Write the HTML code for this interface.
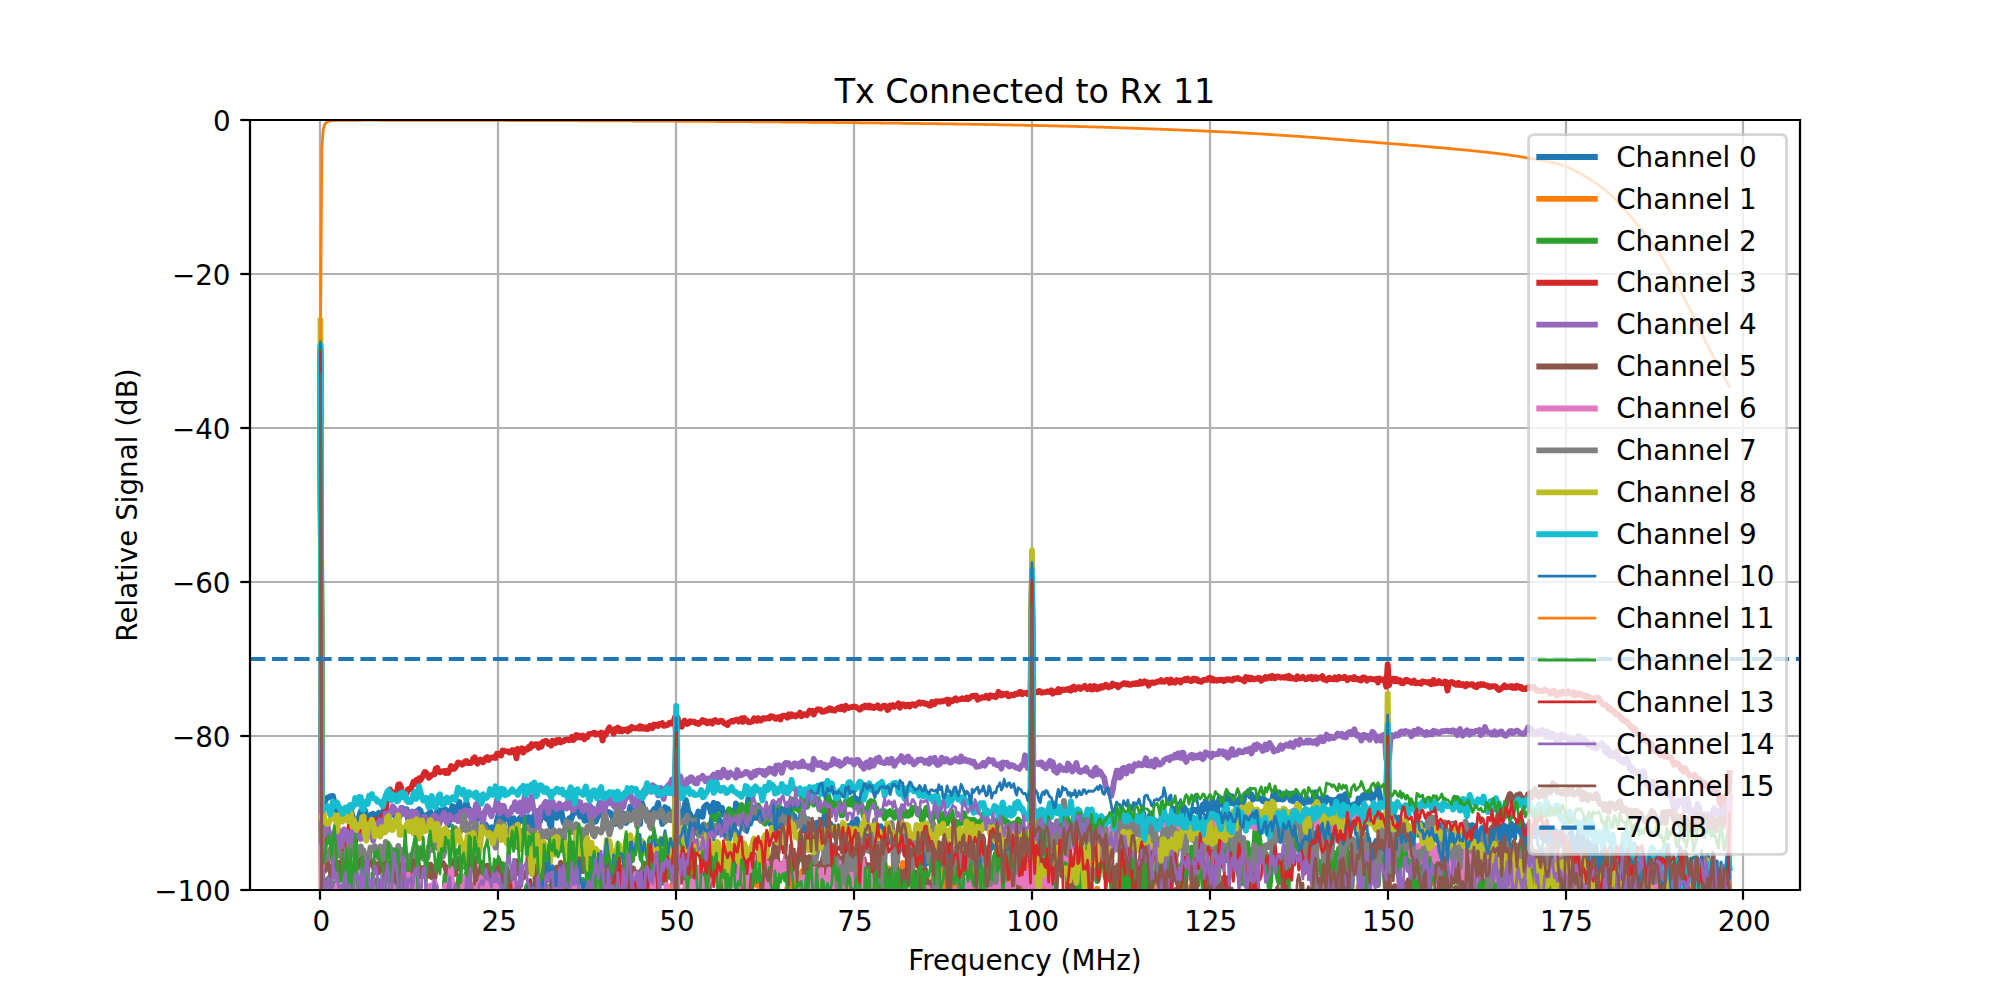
<!DOCTYPE html>
<html><head><meta charset="utf-8"><title>Tx Connected to Rx 11</title>
<style>html,body{margin:0;padding:0;background:#fff}svg{display:block}</style></head>
<body>
<svg width="2000" height="1000" viewBox="0 0 720 360">
 <defs>
  <style type="text/css">*{stroke-linejoin: round; stroke-linecap: butt}</style>
 </defs>
 <g id="figure_1">
  <g id="patch_1">
   <path d="M 0 360 L 720 360 L 720 0 L 0 0 z" style="fill: #ffffff"/>
  </g>
  <g id="axes_1">
   <g id="patch_2">
    <path d="M 90 320.4 L 648 320.4 L 648 43.2 L 90 43.2 z" style="fill: #ffffff"/>
   </g>
   <g id="matplotlib.axis_1">
    <g id="xtick_1">
     <g id="line2d_1">
      <path d="M 115.2 320.4 L 115.2 43.2" clip-path="url(#p0796a7d0fc)" style="fill: none; stroke: #b0b0b0; stroke-width: 0.8; stroke-linecap: square"/>
     </g>
     <g id="line2d_2">
      <defs>
       <path id="m7858f19ca6" d="M 0 0 L 0 3.5" style="stroke: #000000; stroke-width: 0.8"/>
      </defs>
      <g>
       <use href="#m7858f19ca6" x="115.2" y="320.4" style="stroke: #000000; stroke-width: 0.8"/>
      </g>
     </g>
     <g id="text_1">
      <text style="font-size: 10px; font-family: 'DejaVu Sans', sans-serif; text-anchor: middle" x="115.664" y="334.998438" transform="rotate(-0 115.664 334.998438)">0</text>
     </g>
    </g>
    <g id="xtick_2">
     <g id="line2d_3">
      <path d="M 179.28 320.4 L 179.28 43.2" clip-path="url(#p0796a7d0fc)" style="fill: none; stroke: #b0b0b0; stroke-width: 0.8; stroke-linecap: square"/>
     </g>
     <g id="line2d_4">
      <g>
       <use href="#m7858f19ca6" x="179.28" y="320.4" style="stroke: #000000; stroke-width: 0.8"/>
      </g>
     </g>
     <g id="text_2">
      <text style="font-size: 10px; font-family: 'DejaVu Sans', sans-serif; text-anchor: middle" x="179.698" y="334.998438" transform="rotate(-0 179.698 334.998438)">25</text>
     </g>
    </g>
    <g id="xtick_3">
     <g id="line2d_5">
      <path d="M 243.36 320.4 L 243.36 43.2" clip-path="url(#p0796a7d0fc)" style="fill: none; stroke: #b0b0b0; stroke-width: 0.8; stroke-linecap: square"/>
     </g>
     <g id="line2d_6">
      <g>
       <use href="#m7858f19ca6" x="243.36" y="320.4" style="stroke: #000000; stroke-width: 0.8"/>
      </g>
     </g>
     <g id="text_3">
      <text style="font-size: 10px; font-family: 'DejaVu Sans', sans-serif; text-anchor: middle" x="243.732" y="334.998438" transform="rotate(-0 243.732 334.998438)">50</text>
     </g>
    </g>
    <g id="xtick_4">
     <g id="line2d_7">
      <path d="M 307.44 320.4 L 307.44 43.2" clip-path="url(#p0796a7d0fc)" style="fill: none; stroke: #b0b0b0; stroke-width: 0.8; stroke-linecap: square"/>
     </g>
     <g id="line2d_8">
      <g>
       <use href="#m7858f19ca6" x="307.44" y="320.4" style="stroke: #000000; stroke-width: 0.8"/>
      </g>
     </g>
     <g id="text_4">
      <text style="font-size: 10px; font-family: 'DejaVu Sans', sans-serif; text-anchor: middle" x="307.767" y="334.998438" transform="rotate(-0 307.767 334.998438)">75</text>
     </g>
    </g>
    <g id="xtick_5">
     <g id="line2d_9">
      <path d="M 371.52 320.4 L 371.52 43.2" clip-path="url(#p0796a7d0fc)" style="fill: none; stroke: #b0b0b0; stroke-width: 0.8; stroke-linecap: square"/>
     </g>
     <g id="line2d_10">
      <g>
       <use href="#m7858f19ca6" x="371.52" y="320.4" style="stroke: #000000; stroke-width: 0.8"/>
      </g>
     </g>
     <g id="text_5">
      <text style="font-size: 10px; font-family: 'DejaVu Sans', sans-serif; text-anchor: middle" x="371.801" y="334.998438" transform="rotate(-0 371.801 334.998438)">100</text>
     </g>
    </g>
    <g id="xtick_6">
     <g id="line2d_11">
      <path d="M 435.6 320.4 L 435.6 43.2" clip-path="url(#p0796a7d0fc)" style="fill: none; stroke: #b0b0b0; stroke-width: 0.8; stroke-linecap: square"/>
     </g>
     <g id="line2d_12">
      <g>
       <use href="#m7858f19ca6" x="435.6" y="320.4" style="stroke: #000000; stroke-width: 0.8"/>
      </g>
     </g>
     <g id="text_6">
      <text style="font-size: 10px; font-family: 'DejaVu Sans', sans-serif; text-anchor: middle" x="435.836" y="334.998438" transform="rotate(-0 435.836 334.998438)">125</text>
     </g>
    </g>
    <g id="xtick_7">
     <g id="line2d_13">
      <path d="M 499.68 320.4 L 499.68 43.2" clip-path="url(#p0796a7d0fc)" style="fill: none; stroke: #b0b0b0; stroke-width: 0.8; stroke-linecap: square"/>
     </g>
     <g id="line2d_14">
      <g>
       <use href="#m7858f19ca6" x="499.68" y="320.4" style="stroke: #000000; stroke-width: 0.8"/>
      </g>
     </g>
     <g id="text_7">
      <text style="font-size: 10px; font-family: 'DejaVu Sans', sans-serif; text-anchor: middle" x="499.870" y="334.998438" transform="rotate(-0 499.870 334.998438)">150</text>
     </g>
    </g>
    <g id="xtick_8">
     <g id="line2d_15">
      <path d="M 563.76 320.4 L 563.76 43.2" clip-path="url(#p0796a7d0fc)" style="fill: none; stroke: #b0b0b0; stroke-width: 0.8; stroke-linecap: square"/>
     </g>
     <g id="line2d_16">
      <g>
       <use href="#m7858f19ca6" x="563.76" y="320.4" style="stroke: #000000; stroke-width: 0.8"/>
      </g>
     </g>
     <g id="text_8">
      <text style="font-size: 10px; font-family: 'DejaVu Sans', sans-serif; text-anchor: middle" x="563.905" y="334.998438" transform="rotate(-0 563.905 334.998438)">175</text>
     </g>
    </g>
    <g id="xtick_9">
     <g id="line2d_17">
      <path d="M 627.48 320.4 L 627.48 43.2" clip-path="url(#p0796a7d0fc)" style="fill: none; stroke: #b0b0b0; stroke-width: 0.8; stroke-linecap: square"/>
     </g>
     <g id="line2d_18">
      <g>
       <use href="#m7858f19ca6" x="627.48" y="320.4" style="stroke: #000000; stroke-width: 0.8"/>
      </g>
     </g>
     <g id="text_9">
      <text style="font-size: 10px; font-family: 'DejaVu Sans', sans-serif; text-anchor: middle" x="627.939" y="334.998438" transform="rotate(-0 627.939 334.998438)">200</text>
     </g>
    </g>
    <g id="text_10">
     <text style="font-size: 10px; font-family: 'DejaVu Sans', sans-serif; text-anchor: middle" x="369" y="349.216563" transform="rotate(-0 369 349.216563)">Frequency (MHz)</text>
    </g>
   </g>
   <g id="matplotlib.axis_2">
    <g id="ytick_1">
     <g id="line2d_19">
      <path d="M 90 320.4 L 648 320.4" clip-path="url(#p0796a7d0fc)" style="fill: none; stroke: #b0b0b0; stroke-width: 0.8; stroke-linecap: square"/>
     </g>
     <g id="line2d_20">
      <defs>
       <path id="m551b6180bc" d="M 0 0 L -3.5 0" style="stroke: #000000; stroke-width: 0.8"/>
      </defs>
      <g>
       <use href="#m551b6180bc" x="90" y="320.4" style="stroke: #000000; stroke-width: 0.8"/>
      </g>
     </g>
     <g id="text_11">
      <text style="font-size: 10px; font-family: 'DejaVu Sans', sans-serif; text-anchor: end" x="83" y="324.199219" transform="rotate(-0 83 324.199219)">−100</text>
     </g>
    </g>
    <g id="ytick_2">
     <g id="line2d_21">
      <path d="M 90 264.96 L 648 264.96" clip-path="url(#p0796a7d0fc)" style="fill: none; stroke: #b0b0b0; stroke-width: 0.8; stroke-linecap: square"/>
     </g>
     <g id="line2d_22">
      <g>
       <use href="#m551b6180bc" x="90" y="264.96" style="stroke: #000000; stroke-width: 0.8"/>
      </g>
     </g>
     <g id="text_12">
      <text style="font-size: 10px; font-family: 'DejaVu Sans', sans-serif; text-anchor: end" x="83" y="268.759219" transform="rotate(-0 83 268.759219)">−80</text>
     </g>
    </g>
    <g id="ytick_3">
     <g id="line2d_23">
      <path d="M 90 209.52 L 648 209.52" clip-path="url(#p0796a7d0fc)" style="fill: none; stroke: #b0b0b0; stroke-width: 0.8; stroke-linecap: square"/>
     </g>
     <g id="line2d_24">
      <g>
       <use href="#m551b6180bc" x="90" y="209.52" style="stroke: #000000; stroke-width: 0.8"/>
      </g>
     </g>
     <g id="text_13">
      <text style="font-size: 10px; font-family: 'DejaVu Sans', sans-serif; text-anchor: end" x="83" y="213.319219" transform="rotate(-0 83 213.319219)">−60</text>
     </g>
    </g>
    <g id="ytick_4">
     <g id="line2d_25">
      <path d="M 90 154.08 L 648 154.08" clip-path="url(#p0796a7d0fc)" style="fill: none; stroke: #b0b0b0; stroke-width: 0.8; stroke-linecap: square"/>
     </g>
     <g id="line2d_26">
      <g>
       <use href="#m551b6180bc" x="90" y="154.08" style="stroke: #000000; stroke-width: 0.8"/>
      </g>
     </g>
     <g id="text_14">
      <text style="font-size: 10px; font-family: 'DejaVu Sans', sans-serif; text-anchor: end" x="83" y="157.879219" transform="rotate(-0 83 157.879219)">−40</text>
     </g>
    </g>
    <g id="ytick_5">
     <g id="line2d_27">
      <path d="M 90 98.64 L 648 98.64" clip-path="url(#p0796a7d0fc)" style="fill: none; stroke: #b0b0b0; stroke-width: 0.8; stroke-linecap: square"/>
     </g>
     <g id="line2d_28">
      <g>
       <use href="#m551b6180bc" x="90" y="98.64" style="stroke: #000000; stroke-width: 0.8"/>
      </g>
     </g>
     <g id="text_15">
      <text style="font-size: 10px; font-family: 'DejaVu Sans', sans-serif; text-anchor: end" x="83" y="102.439219" transform="rotate(-0 83 102.439219)">−20</text>
     </g>
    </g>
    <g id="ytick_6">
     <g id="line2d_29">
      <path d="M 90 43.2 L 648 43.2" clip-path="url(#p0796a7d0fc)" style="fill: none; stroke: #b0b0b0; stroke-width: 0.8; stroke-linecap: square"/>
     </g>
     <g id="line2d_30">
      <g>
       <use href="#m551b6180bc" x="90" y="43.2" style="stroke: #000000; stroke-width: 0.8"/>
      </g>
     </g>
     <g id="text_16">
      <text style="font-size: 10px; font-family: 'DejaVu Sans', sans-serif; text-anchor: end" x="83" y="46.999219" transform="rotate(-0 83 46.999219)">0</text>
     </g>
    </g>
    <g id="text_17">
     <text style="font-size: 10px; font-family: 'DejaVu Sans', sans-serif; text-anchor: middle" x="49.453125" y="181.8" transform="rotate(-90 49.453125 181.8)">Relative Signal (dB)</text>
    </g>
   </g>
   <g id="line2d_31">
    <path d="M 115.36 126.36 L 115.86 288.64 L 116.36 289.66 L 116.86 288.68 L 117.36 287.61 L 117.86 287.17 L 118.37 287.05 L 118.87 286.66 L 119.37 287.06 L 119.87 286.56 L 120.37 289.06 L 120.87 292.59 L 121.37 291.91 L 121.87 292.08 L 122.37 292.73 L 122.87 291.79 L 123.37 293.79 L 123.87 294.28 L 124.37 291.4 L 124.87 291.78 L 125.37 292 L 125.87 292.11 L 126.37 291.78 L 126.87 293.7 L 127.37 298.72 L 127.87 296.33 L 128.37 295.06 L 128.87 295.2 L 129.37 293.8 L 129.87 292.03 L 130.37 294.58 L 130.87 295.41 L 131.37 291.62 L 131.87 294.96 L 132.37 296.12 L 132.87 294.31 L 133.37 293.32 L 133.87 294.26 L 134.37 292.92 L 134.87 294.56 L 135.37 295.22 L 135.87 293.36 L 136.37 292.59 L 136.88 294.33 L 137.38 294.05 L 137.88 293.24 L 138.38 290 L 138.88 293.36 L 139.38 292.61 L 139.88 294.2 L 140.38 293.79 L 140.88 291.81 L 141.38 292.38 L 141.88 291.09 L 142.38 293.69 L 142.88 295.52 L 143.38 294.95 L 143.88 293.33 L 144.38 292.62 L 144.88 290.87 L 145.38 292.94 L 145.88 291.94 L 146.38 291.34 L 146.88 294.71 L 147.38 297.7 L 147.88 297.83 L 148.38 296.06 L 148.88 292.99 L 149.38 294.67 L 149.88 292.12 L 150.38 291.86 L 150.88 291.37 L 151.38 291.82 L 151.88 293.91 L 152.38 294.1 L 152.88 293.61 L 153.38 293.42 L 153.88 294.45 L 154.38 293.37 L 154.88 292.09 L 155.39 295.8 L 155.89 293.89 L 156.39 294.98 L 156.89 293.02 L 157.39 292.17 L 157.89 291.86 L 158.39 291.72 L 158.89 294.8 L 159.39 291.78 L 159.89 293.22 L 160.39 291.38 L 160.89 292.85 L 161.39 297.09 L 161.89 294.36 L 162.39 291.55 L 162.89 290.21 L 163.39 290.58 L 163.89 292.77 L 164.39 294.07 L 164.89 290.15 L 165.39 288.77 L 165.89 292.58 L 166.39 293.99 L 166.89 295.84 L 167.39 291.22 L 167.89 288.84 L 168.39 290.8 L 168.89 291.26 L 169.39 292.59 L 169.89 295.81 L 170.39 293.16 L 170.89 296.66 L 171.39 295 L 171.89 294.25 L 172.39 293.35 L 172.89 294.25 L 173.39 294.2 L 173.9 297.97 L 174.4 298.68 L 174.9 296.83 L 175.4 298.07 L 175.9 299.26 L 176.4 298.22 L 176.9 297.87 L 177.4 299.67 L 177.9 299.65 L 178.4 298.57 L 178.9 295.49 L 179.4 293.47 L 179.9 291.57 L 180.4 297.12 L 180.9 296.29 L 181.4 293.84 L 181.9 294.98 L 182.4 293.92 L 182.9 292.4 L 183.4 295.19 L 183.9 297.81 L 184.4 298.5 L 184.9 294.55 L 185.4 295.79 L 185.9 297.79 L 186.4 297.05 L 186.9 294.84 L 187.4 294.22 L 187.9 295.46 L 188.4 293.41 L 188.9 295.12 L 189.4 298.88 L 189.9 296 L 190.4 294.16 L 190.9 296.86 L 191.4 300.25 L 191.9 295.46 L 192.41 293.24 L 192.91 292.4 L 193.41 297.09 L 193.91 291.86 L 194.41 295.74 L 194.91 293.16 L 195.41 291.5 L 195.91 292.73 L 196.41 294.41 L 196.91 294.84 L 197.41 293.41 L 197.91 296.75 L 198.41 297.75 L 198.91 290.3 L 199.41 290.92 L 199.91 291.46 L 200.41 294.46 L 200.91 291.65 L 201.41 290.27 L 201.91 291.14 L 202.41 293.8 L 202.91 296.17 L 203.41 295.46 L 203.91 298.71 L 204.41 298.29 L 204.91 294.53 L 205.41 295.51 L 205.91 294.08 L 206.41 292.85 L 206.91 289.49 L 207.41 290.1 L 207.91 292.63 L 208.41 292.2 L 208.91 293.97 L 209.41 293.73 L 209.91 292.45 L 210.41 295.46 L 210.92 295.39 L 211.42 295.36 L 211.92 292.46 L 212.42 290.22 L 212.92 293.6 L 213.42 292.44 L 213.92 294.86 L 214.42 295.83 L 214.92 294.69 L 215.42 290.71 L 215.92 289.02 L 216.42 292.29 L 216.92 293.73 L 217.42 293.02 L 217.92 293.04 L 218.42 292.21 L 218.92 292.27 L 219.42 292.51 L 219.92 292.81 L 220.42 294.06 L 220.92 295.09 L 221.42 296.59 L 221.92 295.29 L 222.42 296.55 L 222.92 294.95 L 223.42 295.2 L 223.92 293.31 L 224.42 292.88 L 224.92 295.57 L 225.42 296.22 L 225.92 295.29 L 226.42 292.75 L 226.92 290.42 L 227.42 291.77 L 227.92 293.95 L 228.42 291.75 L 228.92 294.3 L 229.42 291.85 L 229.93 294.48 L 230.43 296.67 L 230.93 288.67 L 231.43 290.09 L 231.93 293.73 L 232.43 292.23 L 232.93 292.94 L 233.43 292.73 L 233.93 295.32 L 234.43 294.63 L 234.93 292.12 L 235.43 291.39 L 235.93 291 L 236.43 291.04 L 236.93 289.04 L 237.43 292.41 L 237.93 293.77 L 238.43 296.65 L 238.93 295.12 L 239.43 290.55 L 239.93 292.28 L 240.43 291.14 L 240.93 292.52 L 241.43 294.57 L 241.93 293.23 L 242.43 293.79 L 242.93 293.98 L 243.43 264.96 L 243.93 291.39 L 244.43 293.49 L 244.93 294.4 L 245.43 293.58 L 245.93 292.9 L 246.43 290.27 L 246.93 288.05 L 247.43 290.26 L 247.93 292.53 L 248.44 293.02 L 248.94 294.45 L 249.44 294.86 L 249.94 295.41 L 250.44 294.25 L 250.94 293.5 L 251.44 292.15 L 251.94 293.41 L 252.44 293.92 L 252.94 294.03 L 253.44 290.62 L 253.94 290.11 L 254.44 289.7 L 254.94 290.27 L 255.44 290.6 L 255.94 292.61 L 256.44 290.39 L 256.94 288.97 L 257.44 292.81 L 257.94 290.27 L 258.44 289.51 L 258.94 291.23 L 259.44 291.23 L 259.94 290.86 L 260.44 293.33 L 260.94 292.59 L 261.44 294.29 L 261.94 294.93 L 262.44 294.35 L 262.94 293.56 L 263.44 291.86 L 263.94 293.5 L 264.44 294.45 L 264.94 289.28 L 265.44 290.07 L 265.94 291.84 L 266.44 293.35 L 266.95 292.57 L 267.45 291.62 L 267.95 292.17 L 268.45 294.37 L 268.95 290.87 L 269.45 287.37 L 269.95 294.05 L 270.45 292 L 270.95 291.48 L 271.45 292.04 L 271.95 290.83 L 272.45 293.8 L 272.95 292.49 L 273.45 291.31 L 273.95 292.7 L 274.45 294.22 L 274.95 293.61 L 275.45 294.23 L 275.95 292.04 L 276.45 294.54 L 276.95 293.89 L 277.45 296.75 L 277.95 294.26 L 278.45 296.21 L 278.95 300.84 L 279.45 297.24 L 279.95 298.4 L 280.45 296.18 L 280.95 294.98 L 281.45 298.09 L 281.95 298.77 L 282.45 294 L 282.95 294.02 L 283.45 293.58 L 283.95 295.18 L 284.45 298.27 L 284.95 295.76 L 285.46 293.37 L 285.96 293.77 L 286.46 296.32 L 286.96 296.76 L 287.46 296.4 L 287.96 296.6 L 288.46 293.16 L 288.96 295.85 L 289.46 299.04 L 289.96 297.08 L 290.46 295.28 L 290.96 294.93 L 291.46 296.95 L 291.96 297.8 L 292.46 297.96 L 292.96 300.72 L 293.46 299.8 L 293.96 296.15 L 294.46 297.29 L 294.96 296.05 L 295.46 295.39 L 295.96 295.16 L 296.46 296.03 L 296.96 293.09 L 297.46 295.65 L 297.96 298.44 L 298.46 296.27 L 298.96 296.61 L 299.46 298.53 L 299.96 298.09 L 300.46 299.26 L 300.96 301.58 L 301.46 298.45 L 301.96 297.51 L 302.46 299.35 L 302.96 301.66 L 303.46 298.76 L 303.97 297.18 L 304.47 297.75 L 304.97 298.65 L 305.47 297.35 L 305.97 299.04 L 306.47 297.42 L 306.97 295.89 L 307.47 298.11 L 307.97 298.07 L 308.47 294.94 L 308.97 297.28 L 309.47 297.71 L 309.97 296.84 L 310.47 296.64 L 310.97 302.64 L 311.47 301.5 L 311.97 300.98 L 312.47 302.3 L 312.97 301.5 L 313.47 301.02 L 313.97 298.65 L 314.47 300.9 L 314.97 299.64 L 315.47 298.99 L 315.97 301.58 L 316.47 299.23 L 316.97 297.41 L 317.47 298.62 L 317.97 301.46 L 318.47 302.05 L 318.97 303.38 L 319.47 300.13 L 319.97 299.82 L 320.47 303.05 L 320.97 302.81 L 321.47 300.35 L 321.97 302.99 L 322.47 302.51 L 322.98 304.35 L 323.48 306.52 L 323.98 303.93 L 324.48 299.82 L 324.98 303.82 L 325.48 306.04 L 325.98 306.07 L 326.48 304.52 L 326.98 303.19 L 327.48 303.16 L 327.98 300.71 L 328.48 303.13 L 328.98 302.2 L 329.48 304.6 L 329.98 306.42 L 330.48 311.26 L 330.98 309.43 L 331.48 308.92 L 331.98 310.97 L 332.48 315.76 L 332.98 307.21 L 333.48 309.35 L 333.98 310.66 L 334.48 310.45 L 334.98 309.46 L 335.48 308.67 L 335.98 313.26 L 336.48 313.15 L 336.98 308.52 L 337.48 309.12 L 337.98 310.66 L 338.48 311.4 L 338.98 312.37 L 339.48 308.7 L 339.98 306.13 L 340.48 310.59 L 340.98 304.23 L 341.49 304.56 L 341.99 308.94 L 342.49 306.87 L 342.99 314.34 L 343.49 317.19 L 343.99 313.68 L 344.49 310.33 L 344.99 308.91 L 345.49 310.15 L 345.99 309.65 L 346.49 314.51 L 346.99 310.14 L 347.49 314.08 L 347.99 312.05 L 348.49 311.31 L 348.99 313.41 L 349.49 313.95 L 349.99 312.44 L 350.49 308.49 L 350.99 306.32 L 351.49 305.68 L 351.99 311.11 L 352.49 312.21 L 352.99 311.25 L 353.49 309.08 L 353.99 312.95 L 354.49 305.29 L 354.99 308.71 L 355.49 310.96 L 355.99 306.62 L 356.49 304.58 L 356.99 305.16 L 357.49 304.47 L 357.99 304.69 L 358.49 302.36 L 358.99 302.8 L 359.49 305.6 L 360 302.41 L 360.5 304.92 L 361 307.8 L 361.5 309.92 L 362 307.3 L 362.5 304.6 L 363 309.94 L 363.5 306.1 L 364 305.79 L 364.5 307.21 L 365 313.33 L 365.5 308.06 L 366 305.78 L 366.5 308.11 L 367 309.24 L 367.5 314.68 L 368 306.67 L 368.5 307.39 L 369 305.49 L 369.5 309.87 L 370 305.24 L 370.5 304.94 L 371 304.01 L 371.5 209.52 L 372 306.54 L 372.5 299.67 L 373 305.8 L 373.5 307.02 L 374 306.42 L 374.5 306.97 L 375 300.04 L 375.5 299.26 L 376 304.49 L 376.5 307.06 L 377 300.17 L 377.5 298.94 L 378 299.74 L 378.51 299.14 L 379.01 304.02 L 379.51 303.77 L 380.01 305.49 L 380.51 304.9 L 381.01 300.89 L 381.51 302.12 L 382.01 297.16 L 382.51 299.98 L 383.01 302.51 L 383.51 299.35 L 384.01 297.03 L 384.51 299.89 L 385.01 303.21 L 385.51 299.85 L 386.01 297.76 L 386.51 302.04 L 387.01 302.26 L 387.51 298.75 L 388.01 300.73 L 388.51 303.68 L 389.01 301.82 L 389.51 301.86 L 390.01 299.53 L 390.51 298.53 L 391.01 296.93 L 391.51 298.65 L 392.01 301.8 L 392.51 297.94 L 393.01 295.71 L 393.51 295.78 L 394.01 295.88 L 394.51 299.11 L 395.01 299.99 L 395.51 297 L 396.01 299.85 L 396.51 302.82 L 397.02 297.23 L 397.52 299.16 L 398.02 299.95 L 398.52 301.49 L 399.02 302.03 L 399.52 301.11 L 400.02 298.11 L 400.52 297.77 L 401.02 301.23 L 401.52 296.73 L 402.02 299.33 L 402.52 299.66 L 403.02 295.82 L 403.52 297.62 L 404.02 299.83 L 404.52 295.29 L 405.02 298.88 L 405.52 298.07 L 406.02 296.73 L 406.52 295.37 L 407.02 297.62 L 407.52 296.2 L 408.02 297.82 L 408.52 295.62 L 409.02 297.88 L 409.52 296.54 L 410.02 293.72 L 410.52 295.22 L 411.02 295.07 L 411.52 292.51 L 412.02 295.47 L 412.52 296.75 L 413.02 295.73 L 413.52 297.53 L 414.02 293.41 L 414.52 292.82 L 415.02 296.59 L 415.53 296.53 L 416.03 295.56 L 416.53 295.84 L 417.03 297.02 L 417.53 295.78 L 418.03 298.11 L 418.53 296.84 L 419.03 295.2 L 419.53 295.71 L 420.03 295.17 L 420.53 296.61 L 421.03 294.12 L 421.53 295.13 L 422.03 296.9 L 422.53 297.05 L 423.03 296.53 L 423.53 293.42 L 424.03 295.58 L 424.53 293.73 L 425.03 292.28 L 425.53 291.57 L 426.03 291.9 L 426.53 294.15 L 427.03 295.61 L 427.53 292.29 L 428.03 292.53 L 428.53 291.87 L 429.03 292.2 L 429.53 291.6 L 430.03 291.62 L 430.53 291.55 L 431.03 292.27 L 431.53 291.66 L 432.03 291.28 L 432.53 291.36 L 433.03 289.69 L 433.53 291.37 L 434.03 288.35 L 434.54 289.91 L 435.04 290.01 L 435.54 291.22 L 436.04 290.91 L 436.54 288.09 L 437.04 290.32 L 437.54 293.35 L 438.04 291.8 L 438.54 290.14 L 439.04 287.14 L 439.54 288.65 L 440.04 287.57 L 440.54 290 L 441.04 288.57 L 441.54 287.56 L 442.04 285.97 L 442.54 289.15 L 443.04 287.35 L 443.54 286.66 L 444.04 289.29 L 444.54 288.48 L 445.04 289.08 L 445.54 291.32 L 446.04 287.76 L 446.54 287.04 L 447.04 288.87 L 447.54 289.18 L 448.04 286.21 L 448.54 286.09 L 449.04 285.56 L 449.54 284.81 L 450.04 286.62 L 450.54 286.04 L 451.04 287.9 L 451.54 287.14 L 452.04 287.29 L 452.54 287.47 L 453.05 286.99 L 453.55 287.53 L 454.05 287.54 L 454.55 288.36 L 455.05 287.62 L 455.55 288.7 L 456.05 288.59 L 456.55 288.46 L 457.05 288.98 L 457.55 289 L 458.05 288.04 L 458.55 285.09 L 459.05 285.85 L 459.55 287.7 L 460.05 287.76 L 460.55 285.3 L 461.05 287.66 L 461.55 287.85 L 462.05 287.75 L 462.55 287.08 L 463.05 285.8 L 463.55 286.71 L 464.05 285.71 L 464.55 288.09 L 465.05 286.63 L 465.55 288.42 L 466.05 285.59 L 466.55 287.11 L 467.05 287.39 L 467.55 286.4 L 468.05 286.73 L 468.55 288.8 L 469.05 288.71 L 469.55 289.14 L 470.05 287.86 L 470.55 287.46 L 471.05 288.65 L 471.56 288.37 L 472.06 288.62 L 472.56 288.32 L 473.06 286.15 L 473.56 285.25 L 474.06 289.66 L 474.56 287.85 L 475.06 288.2 L 475.56 287.52 L 476.06 288.63 L 476.56 289.1 L 477.06 288.93 L 477.56 287.14 L 478.06 287.69 L 478.56 287.9 L 479.06 287.88 L 479.56 289.14 L 480.06 291.14 L 480.56 288 L 481.06 287.9 L 481.56 288.34 L 482.06 286.89 L 482.56 286.66 L 483.06 290 L 483.56 289.56 L 484.06 286.17 L 484.56 285.9 L 485.06 288.89 L 485.56 290.38 L 486.06 290.03 L 486.56 289.95 L 487.06 290.95 L 487.56 289.54 L 488.06 290.96 L 488.56 290.02 L 489.06 287.48 L 489.56 288.76 L 490.07 287.8 L 490.57 286.48 L 491.07 286.15 L 491.57 287.26 L 492.07 287.16 L 492.57 287.1 L 493.07 284.88 L 493.57 286.28 L 494.07 287.88 L 494.57 286.69 L 495.07 285.97 L 495.57 285.77 L 496.07 283.69 L 496.57 285.5 L 497.07 288.33 L 497.57 288.76 L 498.07 290.4 L 498.57 288.42 L 499.07 287.58 L 499.57 262.19 L 500.07 289.89 L 500.57 294.44 L 501.07 293.74 L 501.57 292.59 L 502.07 295.22 L 502.57 296.01 L 503.07 295.16 L 503.57 294.29 L 504.07 296.08 L 504.57 297.58 L 505.07 297.17 L 505.57 298.38 L 506.07 299.29 L 506.57 301.8 L 507.07 300.91 L 507.57 298.85 L 508.07 302.45 L 508.58 300.15 L 509.08 298.12 L 509.58 299.87 L 510.08 299.24 L 510.58 300.51 L 511.08 297.6 L 511.58 296.48 L 512.08 299.68 L 512.58 305.03 L 513.08 302.38 L 513.58 297.33 L 514.08 295.43 L 514.58 298.32 L 515.08 296.88 L 515.58 299.77 L 516.08 300.15 L 516.58 299.56 L 517.08 299.32 L 517.58 302.65 L 518.08 297.64 L 518.58 297.11 L 519.08 302.35 L 519.58 302.43 L 520.08 299.98 L 520.58 302.28 L 521.08 304.91 L 521.58 299.23 L 522.08 299.58 L 522.58 300.05 L 523.08 296.56 L 523.58 299.07 L 524.08 302.3 L 524.58 300.63 L 525.08 302.78 L 525.58 302.88 L 526.08 300.57 L 526.58 301.73 L 527.08 300.99 L 527.59 297.46 L 528.09 297.69 L 528.59 297.16 L 529.09 298.66 L 529.59 298.28 L 530.09 297.06 L 530.59 298.74 L 531.09 297.42 L 531.59 302.11 L 532.09 302.26 L 532.59 304.98 L 533.09 301.72 L 533.59 299.11 L 534.09 297.86 L 534.59 301.35 L 535.09 301.98 L 535.59 301.57 L 536.09 303.65 L 536.59 303.37 L 537.09 301.98 L 537.59 303.98 L 538.09 300.21 L 538.59 300.33 L 539.09 301.7 L 539.59 303.69 L 540.09 301.95 L 540.59 297.39 L 541.09 301.23 L 541.59 297.21 L 542.09 298 L 542.59 300.66 L 543.09 302.86 L 543.59 297.53 L 544.09 296.61 L 544.59 300.7 L 545.09 300.35 L 545.59 297.26 L 546.1 297.7 L 546.6 295.78 L 547.1 299.01 L 547.6 299.8 L 548.1 301.33 L 548.6 297.29 L 549.1 302.08 L 549.6 306.5 L 550.1 303.02 L 550.6 299.94 L 551.1 297.93 L 551.6 301.07 L 552.1 300.99 L 552.6 299.35 L 553.1 297.49 L 553.6 299.7 L 554.1 298.63 L 554.6 299.07 L 555.1 301.67 L 555.6 301.84 L 556.1 302.44 L 556.6 302.53 L 557.1 301.15 L 557.6 303.84 L 558.1 299.02 L 558.6 299.15 L 559.1 302.51 L 559.6 304.36 L 560.1 302.65 L 560.6 300.58 L 561.1 300.44 L 561.6 300.29 L 562.1 299.52 L 562.6 301.83 L 563.1 302.17 L 563.6 305.54 L 564.1 301.62 L 564.61 301.77 L 565.11 302.23 L 565.61 299.56 L 566.11 302.38 L 566.61 310.47 L 567.11 307.27 L 567.61 307.12 L 568.11 301.27 L 568.61 298.49 L 569.11 304.31 L 569.61 304.61 L 570.11 305.54 L 570.61 304.65 L 571.11 303.81 L 571.61 303.04 L 572.11 307.67 L 572.61 303.71 L 573.11 308.81 L 573.61 306.09 L 574.11 303.48 L 574.61 306.07 L 575.11 311.56 L 575.61 311.6 L 576.11 311.04 L 576.61 308.97 L 577.11 306.22 L 577.61 312.14 L 578.11 307.64 L 578.61 307.15 L 579.11 307.43 L 579.61 307.1 L 580.11 304.79 L 580.61 305.74 L 581.11 306.11 L 581.61 306.28 L 582.11 305.53 L 582.61 311.81 L 583.12 307.9 L 583.62 310.12 L 584.12 312.02 L 584.62 316.14 L 585.12 319.09 L 585.62 313.49 L 586.12 313.06 L 586.62 309.58 L 587.12 312.73 L 587.62 307.69 L 588.12 308.95 L 588.62 312.91 L 589.12 316.03 L 589.62 318.07 L 590.12 318.55 L 590.62 315.48 L 591.12 314.02 L 591.62 314.96 L 592.12 319.25 L 592.62 317.47 L 593.12 317.95 L 593.62 312.45 L 594.12 306.84 L 594.62 310.22 L 595.12 317.54 L 595.62 324.33 L 596.12 325.64 L 596.62 323.05 L 597.12 314.19 L 597.62 318.33 L 598.12 316.09 L 598.62 318.62 L 599.12 314.72 L 599.62 311.63 L 600.12 318.15 L 600.62 319.94 L 601.12 320.09 L 601.63 314.45 L 602.13 321.49 L 602.63 326.78 L 603.13 327.12 L 603.63 323.77 L 604.13 314.46 L 604.63 307.97 L 605.13 316.96 L 605.63 314.23 L 606.13 316.95 L 606.63 322.21 L 607.13 321.3 L 607.63 320.4 L 608.13 319.73 L 608.63 313.01 L 609.13 324.27 L 609.63 316.82 L 610.13 317.26 L 610.63 319.45 L 611.13 316.68 L 611.63 313.84 L 612.13 315.75 L 612.63 315.67 L 613.13 316.3 L 613.63 326.73 L 614.13 312.27 L 614.63 308.05 L 615.13 311.41 L 615.63 314.59 L 616.13 323.85 L 616.63 323.01 L 617.13 324.82 L 617.63 321.78 L 618.13 316.46 L 618.63 321.06 L 619.13 323.84 L 619.63 331.31 L 620.14 321.94 L 620.64 318.83 L 621.14 325.12 L 621.64 320.06 L 622.14 313.56 L 622.64 326.12" clip-path="url(#p0796a7d0fc)" style="fill: none; stroke: #1f77b4; stroke-width: 2.12; stroke-linecap: square"/>
   </g>
   <g id="line2d_32">
    <path d="M 115.36 129.13 L 115.86 337.01 L 116.36 328.87 L 116.86 319.64 L 117.36 320.96 L 117.86 328.47 L 118.37 325.87 L 118.87 336.26 L 119.37 343.97 L 119.87 331.04 L 120.37 328.85 L 120.87 328.54 L 121.37 330.07 L 121.87 330.32 L 122.37 334.26 L 122.87 328.35 L 123.37 326.2 L 123.87 329.5 L 124.37 329.53 L 124.87 338.48 L 125.37 336.64 L 125.87 321.73 L 126.37 319.76 L 126.87 325.5 L 127.37 329.48 L 127.87 339.31 L 128.37 329.23 L 128.87 327.65 L 129.37 340.08 L 129.87 328.77 L 130.37 326.37 L 130.87 328.59 L 131.37 336.27 L 131.87 328.88 L 132.37 335.58 L 132.87 321.13 L 133.37 323.65 L 133.87 335.23 L 134.37 323.56 L 134.87 323.19 L 135.37 328.21 L 135.87 320.63 L 136.37 332.97 L 136.88 326.97 L 137.38 325.87 L 137.88 344.42 L 138.38 328.61 L 138.88 330.09 L 139.38 332.5 L 139.88 338.32 L 140.38 333.48 L 140.88 340.98 L 141.38 340.25 L 141.88 337.97 L 142.38 333.73 L 142.88 326.4 L 143.38 338.36 L 143.88 339.33 L 144.38 334.73 L 144.88 325.27 L 145.38 326.14 L 145.88 326.21 L 146.38 332.94 L 146.88 332.61 L 147.38 331.21 L 147.88 326.48 L 148.38 325.27 L 148.88 336.24 L 149.38 347.37 L 149.88 322.35 L 150.38 323.7 L 150.88 328.46 L 151.38 330.15 L 151.88 332.03 L 152.38 332.79 L 152.88 335.85 L 153.38 335.32 L 153.88 338.57 L 154.38 336.01 L 154.88 335.56 L 155.39 329.25 L 155.89 334.38 L 156.39 336.3 L 156.89 353.79 L 157.39 338.02 L 157.89 335.89 L 158.39 344.74 L 158.89 343.67 L 159.39 332.04 L 159.89 334.42 L 160.39 330.85 L 160.89 331.69 L 161.39 329.11 L 161.89 334.5 L 162.39 344.62 L 162.89 335.16 L 163.39 332.9 L 163.89 329.01 L 164.39 333.56 L 164.89 333.27 L 165.39 325.73 L 165.89 322.09 L 166.39 324.56 L 166.89 323.16 L 167.39 325.76 L 167.89 324.59 L 168.39 324.48 L 168.89 326.6 L 169.39 328.77 L 169.89 324.61 L 170.39 318.62 L 170.89 328.12 L 171.39 334.1 L 171.89 333.1 L 172.39 331.53 L 172.89 331.85 L 173.39 341.95 L 173.9 352.44 L 174.4 334.05 L 174.9 343.37 L 175.4 332.11 L 175.9 327.84 L 176.4 322.69 L 176.9 319.7 L 177.4 327.28 L 177.9 336.2 L 178.4 344.88 L 178.9 340.07 L 179.4 334.25 L 179.9 341.01 L 180.4 331.97 L 180.9 327.85 L 181.4 328.62 L 181.9 332.74 L 182.4 323.51 L 182.9 334.73 L 183.4 334.44 L 183.9 342.61 L 184.4 331.11 L 184.9 322.61 L 185.4 325.18 L 185.9 330.6 L 186.4 335.83 L 186.9 326.47 L 187.4 330.91 L 187.9 328.03 L 188.4 331.52 L 188.9 337.25 L 189.4 327.34 L 189.9 330.09 L 190.4 329.79 L 190.9 328.32 L 191.4 331.41 L 191.9 333.2 L 192.41 329.36 L 192.91 331.08 L 193.41 331.05 L 193.91 338.52 L 194.41 341.27 L 194.91 339.77 L 195.41 335.25 L 195.91 329.85 L 196.41 327.44 L 196.91 341.81 L 197.41 336.23 L 197.91 352.03 L 198.41 345.53 L 198.91 334.93 L 199.41 349.96 L 199.91 353.14 L 200.41 333.6 L 200.91 330.46 L 201.41 332.44 L 201.91 328.85 L 202.41 321.71 L 202.91 329.72 L 203.41 333.92 L 203.91 321.49 L 204.41 325.3 L 204.91 330.81 L 205.41 324.96 L 205.91 328.29 L 206.41 327.65 L 206.91 331.52 L 207.41 338.57 L 207.91 327.31 L 208.41 331.79 L 208.91 341.76 L 209.41 338.33 L 209.91 328.12 L 210.41 333.42 L 210.92 331.89 L 211.42 328.02 L 211.92 331.51 L 212.42 343.14 L 212.92 328.25 L 213.42 324.7 L 213.92 324.66 L 214.42 321.74 L 214.92 326.15 L 215.42 325.3 L 215.92 322.44 L 216.42 329.23 L 216.92 319.8 L 217.42 320.04 L 217.92 322.33 L 218.42 321.29 L 218.92 324.65 L 219.42 332.72 L 219.92 325.42 L 220.42 326.95 L 220.92 326.12 L 221.42 327.64 L 221.92 322.13 L 222.42 326.35 L 222.92 333.3 L 223.42 327.71 L 223.92 327.23 L 224.42 333.05 L 224.92 336.04 L 225.42 335.69 L 225.92 336.62 L 226.42 329.34 L 226.92 324 L 227.42 319.25 L 227.92 321.58 L 228.42 323.14 L 228.92 322.57 L 229.42 322.02 L 229.93 330.66 L 230.43 327.42 L 230.93 329.43 L 231.43 333.89 L 231.93 336.41 L 232.43 335.83 L 232.93 330.71 L 233.43 337.89 L 233.93 330.45 L 234.43 330.88 L 234.93 330.89 L 235.43 328.49 L 235.93 328.46 L 236.43 335.94 L 236.93 333.69 L 237.43 350.88 L 237.75 361 M 238.08 361 L 238.43 347.17 L 238.93 326.89 L 239.43 339.92 L 239.93 326.64 L 240.43 322.52 L 240.93 328.89 L 241.43 321.13 L 241.93 318.58 L 242.43 320.94 L 242.93 318.15 L 243.43 276.05 L 243.93 332.27 L 244.43 328.8 L 244.93 335.76 L 245.43 345.06 L 245.93 338.19 L 246.43 321.7 L 246.93 331.82 L 247.43 332.72 L 247.93 333.59 L 248.44 331.92 L 248.94 333.63 L 249.44 336.64 L 249.94 342.56 L 250.44 347.02 L 250.94 338.63 L 251.44 327.99 L 251.94 319.32 L 252.44 321.2 L 252.94 320.4 L 253.44 325.2 L 253.94 331.16 L 254.44 340.89 L 254.94 336.9 L 255.44 351.47 L 255.94 333.56 L 256.44 321.17 L 256.94 325.27 L 257.44 324.13 L 257.94 332.49 L 258.44 340.43 L 258.94 335.43 L 259.44 329.82 L 259.94 321.07 L 260.44 318.85 L 260.94 331.39 L 261.44 332.19 L 261.94 329.05 L 262.44 331.57 L 262.94 335.24 L 263.44 327.5 L 263.94 323.63 L 264.44 324.94 L 264.94 329.18 L 265.44 328.43 L 265.94 334.39 L 266.44 323.15 L 266.95 327.73 L 267.45 326.72 L 267.95 325.77 L 268.45 327.32 L 268.95 332.24 L 269.45 330.58 L 269.95 316.21 L 270.45 318.34 L 270.95 318.43 L 271.45 313.68 L 271.95 318.25 L 272.45 318.63 L 272.95 319.04 L 273.45 315.85 L 273.95 315.86 L 274.45 318.68 L 274.95 319.97 L 275.45 317.89 L 275.95 317.12 L 276.45 329.98 L 276.95 323.51 L 277.45 322.48 L 277.95 324.17 L 278.45 328.92 L 278.95 320.12 L 279.45 323.51 L 279.95 322.72 L 280.45 323.57 L 280.95 328.54 L 281.45 325.45 L 281.95 331.18 L 282.45 326.79 L 282.95 322.28 L 283.45 319.77 L 283.95 319.45 L 284.45 317.45 L 284.95 312.38 L 285.46 317.88 L 285.96 324.16 L 286.46 324.48 L 286.96 323.2 L 287.46 321.6 L 287.96 322.52 L 288.46 321.52 L 288.96 313.52 L 289.46 317.14 L 289.96 320.02 L 290.46 319.13 L 290.96 317.72 L 291.46 314.06 L 291.96 314.31 L 292.46 316.47 L 292.96 331.9 L 293.46 318.51 L 293.96 313.09 L 294.46 311.78 L 294.96 317.98 L 295.46 321.57 L 295.96 317.56 L 296.46 321.41 L 296.96 327.58 L 297.46 321.37 L 297.96 314.06 L 298.46 312.73 L 298.96 315.42 L 299.46 318.74 L 299.96 312.31 L 300.46 320.17 L 300.96 321.11 L 301.46 321.45 L 301.96 313.98 L 302.46 314.54 L 302.96 314.14 L 303.46 316.19 L 303.97 317.25 L 304.47 317.79 L 304.97 322.56 L 305.47 313.64 L 305.97 313.63 L 306.47 316.24 L 306.97 316.58 L 307.47 313.41 L 307.97 310.67 L 308.47 312.73 L 308.97 314.9 L 309.47 317.44 L 309.97 319.56 L 310.47 317.96 L 310.97 314.64 L 311.47 315.3 L 311.97 313.85 L 312.47 312.02 L 312.97 312.22 L 313.47 312.69 L 313.97 312.45 L 314.47 313.97 L 314.97 314.79 L 315.47 315.36 L 315.97 319.65 L 316.47 312.79 L 316.97 316.59 L 317.47 314.13 L 317.97 313.45 L 318.47 312.06 L 318.97 314.19 L 319.47 317.48 L 319.97 312.63 L 320.47 314.42 L 320.97 315.21 L 321.47 315.15 L 321.97 312.8 L 322.47 312.8 L 322.98 316.56 L 323.48 322.3 L 323.98 318.61 L 324.48 314.53 L 324.98 310.67 L 325.48 314.2 L 325.98 315.15 L 326.48 313.6 L 326.98 315.06 L 327.48 316.27 L 327.98 315.97 L 328.48 319.39 L 328.98 314.82 L 329.48 314.21 L 329.98 317.65 L 330.48 320.95 L 330.98 315.82 L 331.48 312.67 L 331.98 319.04 L 332.48 320.32 L 332.98 316.57 L 333.48 323.62 L 333.98 327.11 L 334.48 319.3 L 334.98 318.21 L 335.48 317.67 L 335.98 316.34 L 336.48 314.08 L 336.98 315.96 L 337.48 318.64 L 337.98 318.1 L 338.48 314.73 L 338.98 313.13 L 339.48 313.13 L 339.98 317.06 L 340.48 330.32 L 340.98 324.31 L 341.49 319.99 L 341.99 318.85 L 342.49 322.31 L 342.99 314.42 L 343.49 316.43 L 343.99 318.8 L 344.49 318.83 L 344.99 320.73 L 345.49 320.74 L 345.99 318.14 L 346.49 321.75 L 346.99 324.22 L 347.49 323.21 L 347.99 321.09 L 348.49 321.48 L 348.99 316.34 L 349.49 320.54 L 349.99 312.63 L 350.49 314.44 L 350.99 321.25 L 351.49 317.78 L 351.99 314.55 L 352.49 319.18 L 352.99 324.24 L 353.49 317.35 L 353.99 313.08 L 354.49 322.09 L 354.99 317.82 L 355.49 315.61 L 355.99 317.76 L 356.49 320.66 L 356.99 318.26 L 357.49 314.74 L 357.99 316.51 L 358.49 321.19 L 358.99 315.6 L 359.49 321.52 L 360 317.8 L 360.5 317.22 L 361 314.73 L 361.5 315.99 L 362 315.17 L 362.5 317.32 L 363 315.92 L 363.5 315.48 L 364 312.26 L 364.5 319.25 L 365 315 L 365.5 315.7 L 366 317.75 L 366.5 319.09 L 367 317.17 L 367.5 323.16 L 368 321.53 L 368.5 315.79 L 369 319.22 L 369.5 311.89 L 370 314.51 L 370.5 314.67 L 371 314.26 L 371.5 212.29 L 372 316.42 L 372.5 317.89 L 373 315.34 L 373.5 311.64 L 374 311.16 L 374.5 311.7 L 375 313.37 L 375.5 318.56 L 376 324.8 L 376.5 316.7 L 377 315.09 L 377.5 318.23 L 378 314.54 L 378.51 314.44 L 379.01 318.03 L 379.51 317.97 L 380.01 321.76 L 380.51 334.13 L 381.01 329.76 L 381.51 327.74 L 382.01 325.79 L 382.51 331.07 L 383.01 334.21 L 383.51 335.94 L 384.01 329.53 L 384.51 326.89 L 385.01 322.58 L 385.51 323.35 L 386.01 326.06 L 386.51 327.12 L 387.01 327.13 L 387.51 325.71 L 388.01 323.74 L 388.51 342.28 L 389.01 332.96 L 389.51 324.88 L 390.01 324.61 L 390.51 333.02 L 391.01 325.5 L 391.51 323.27 L 392.01 333.5 L 392.51 344.09 L 393.01 334.78 L 393.51 336.71 L 394.01 327.54 L 394.51 329.09 L 395.01 319.97 L 395.51 325.83 L 396.01 329.96 L 396.51 333.64 L 397.02 334.67 L 397.52 324.73 L 398.02 320.86 L 398.52 326.05 L 399.02 323.88 L 399.52 331.27 L 400.02 324.25 L 400.52 318.42 L 401.02 330.23 L 401.52 321.63 L 402.02 322.4 L 402.52 341.44 L 403.02 343.36 L 403.52 332.85 L 404.02 324.84 L 404.52 328.81 L 405.02 326.84 L 405.52 324.07 L 406.02 324.73 L 406.52 325.41 L 407.02 327.06 L 407.52 323.5 L 408.02 328.33 L 408.52 320.47 L 409.02 326.73 L 409.52 331.67 L 410.02 324.59 L 410.52 326.25 L 411.02 339.5 L 411.52 329.8 L 412.02 336.18 L 412.52 331.74 L 413.02 324.67 L 413.52 330.51 L 414.02 327.11 L 414.52 326.74 L 415.02 318.64 L 415.53 327.26 L 416.03 337.15 L 416.53 338.98 L 417.03 335.58 L 417.53 328.68 L 418.03 324.54 L 418.53 322.8 L 419.03 325.37 L 419.53 326.67 L 420.03 325.59 L 420.53 328.63 L 421.03 325.3 L 421.53 322.9 L 422.03 324.13 L 422.53 333.3 L 423.03 343.06 L 423.53 335.92 L 424.03 332.06 L 424.53 346.46 L 425.03 333.54 L 425.53 326.38 L 426.03 332.59 L 426.53 331.2 L 427.03 319.24 L 427.53 319.58 L 428.03 325.45 L 428.53 320.47 L 429.03 321.14 L 429.53 327.32 L 430.03 318.7 L 430.53 329 L 431.03 329.65 L 431.53 333.13 L 432.03 330.08 L 432.53 334.01 L 433.03 327.12 L 433.53 319.83 L 434.03 323.32 L 434.54 324.92 L 435.04 319.65 L 435.54 326.88 L 436.04 323.24 L 436.54 324.78 L 437.04 324.65 L 437.54 325.19 L 438.04 326.59 L 438.54 327.5 L 439.04 331.78 L 439.54 331.09 L 440.04 325.68 L 440.54 328.81 L 441.04 334.71 L 441.54 333.55 L 442.04 331.64 L 442.54 328.07 L 443.04 326.98 L 443.54 327.72 L 444.04 331.43 L 444.54 330.31 L 445.04 344.56 L 445.54 356.59 L 446.04 336.4 L 446.54 339.08 L 447.04 340.09 L 447.54 336.09 L 448.04 327.51 L 448.54 331.83 L 449.04 328.56 L 449.54 331.76 L 450.04 339.71 L 450.54 339.37 L 451.04 325.48 L 451.54 323.9 L 452.04 321.33 L 452.54 318.86 L 453.05 322.99 L 453.55 326.28 L 454.05 328.44 L 454.55 328.37 L 455.05 330.83 L 455.55 330.68 L 456.05 321.23 L 456.55 336.17 L 457.05 328.42 L 457.55 324.15 L 458.05 327.88 L 458.55 334.05 L 459.05 332.74 L 459.55 333.37 L 460.05 335.65 L 460.55 329.8 L 461.05 332.73 L 461.55 331.98 L 462.05 327.42 L 462.55 333.08 L 463.05 328.3 L 463.55 331.09 L 464.05 327.04 L 464.55 327.07 L 465.05 328.34 L 465.55 331.89 L 466.05 328.87 L 466.55 335.66 L 467.05 327.18 L 467.55 322.08 L 468.05 322.26 L 468.55 328.83 L 469.05 330.12 L 469.55 343.07 L 470.05 347.57 L 470.55 339.04 L 471.05 337.47 L 471.56 346.6 L 472.06 344.98 L 472.56 328.62 L 473.06 335.44 L 473.56 337.23 L 474.06 320.17 L 474.56 326.07 L 475.06 329.8 L 475.56 326.81 L 476.06 325.4 L 476.56 323.05 L 477.06 340.37 L 477.56 341.56 L 478.06 333.26 L 478.56 330.53 L 479.06 324.81 L 479.56 338.86 L 480.06 337.51 L 480.56 328.67 L 481.06 325.19 L 481.56 322.6 L 482.06 324.61 L 482.56 319.08 L 483.06 329.42 L 483.56 327.09 L 484.06 325.81 L 484.56 330.81 L 485.06 332.99 L 485.56 334.42 L 486.06 336.7 L 486.56 335.56 L 487.06 335.82 L 487.56 341.66 L 488.06 332.32 L 488.56 335.89 L 489.06 319.21 L 489.56 318.32 L 490.07 322.27 L 490.57 329.72 L 491.07 330.78 L 491.57 323.28 L 492.07 323.66 L 492.57 323.98 L 493.07 331.58 L 493.57 325.36 L 494.07 331.75 L 494.57 332.05 L 495.07 342.97 L 495.57 334.03 L 496.07 326.68 L 496.57 329.82 L 497.07 329.91 L 497.57 323.99 L 498.07 324.96 L 498.57 321.56 L 499.07 340.03 L 499.57 273.28 L 500.07 326.73 L 500.57 340.78 L 501.07 338.5 L 501.57 326.7 L 502.07 332.76 L 502.57 331.05 L 503.07 325.18 L 503.57 324.96 L 504.07 324.67 L 504.57 329.14 L 505.07 323.52 L 505.57 318.01 L 506.07 322.51 L 506.57 333.17 L 507.07 321.92 L 507.57 322.2 L 508.07 324.3 L 508.58 316.99 L 509.08 324.6 L 509.58 314.22 L 510.08 318.11 L 510.58 314.6 L 511.08 318.66 L 511.58 323.34 L 512.08 318.18 L 512.58 315.8 L 513.08 314.06 L 513.58 312.35 L 514.08 317.71 L 514.58 314.61 L 515.08 312.65 L 515.58 316.34 L 516.08 317.87 L 516.58 317.4 L 517.08 312.35 L 517.58 311.99 L 518.08 317.02 L 518.58 317.52 L 519.08 311.95 L 519.58 316.45 L 520.08 314.04 L 520.58 316.84 L 521.08 319.28 L 521.58 313.38 L 522.08 311.84 L 522.58 307.72 L 523.08 305.9 L 523.58 311.28 L 524.08 309.54 L 524.58 310.38 L 525.08 314.49 L 525.58 315.63 L 526.08 309.78 L 526.58 314.31 L 527.08 314.32 L 527.59 314.47 L 528.09 316.15 L 528.59 315.7 L 529.09 312.07 L 529.59 311.27 L 530.09 317.64 L 530.59 321.34 L 531.09 318.99 L 531.59 323.32 L 532.09 320.65 L 532.59 313.36 L 533.09 310.3 L 533.59 316.29 L 534.09 322.67 L 534.59 320.4 L 535.09 331.98 L 535.59 325.64 L 536.09 315.85 L 536.59 319.59 L 537.09 330.15 L 537.59 332.82 L 538.09 321.78 L 538.59 323.25 L 539.09 326.4 L 539.59 324 L 540.09 330.04 L 540.59 334.89 L 541.09 322.43 L 541.59 329.49 L 542.09 335.5 L 542.59 336.36 L 543.09 326.34 L 543.59 328.21 L 544.09 324.64 L 544.59 325.39 L 545.09 322.18 L 545.59 329.57 L 546.1 335.97 L 546.6 347.56 L 547.1 338.85 L 547.6 322.99 L 548.1 315.62 L 548.6 332.87 L 549.1 336.79 L 549.6 327.16 L 550.1 326.33 L 550.6 329.45 L 551.1 330.36 L 551.6 339.35 L 552.1 330.91 L 552.6 321.75 L 553.1 318.81 L 553.6 326.39 L 554.1 328.6 L 554.6 324.3 L 555.1 321.85 L 555.6 325.4 L 556.1 331.79 L 556.6 326.26 L 557.1 324.3 L 557.6 332.14 L 558.1 336.82 L 558.6 326.28 L 559.1 323.68 L 559.6 321.88 L 560.1 327.12 L 560.6 332.2 L 561.1 327.43 L 561.6 336.63 L 562.1 336.53 L 562.6 333.19 L 563.1 328.82 L 563.6 324.53 L 564.1 333.84 L 564.61 330.65 L 565.11 329.15 L 565.61 321.24 L 566.11 325.5 L 566.61 329.21 L 567.11 324.45 L 567.61 328 L 568.11 327.94 L 568.61 320.6 L 569.11 321.29 L 569.61 318.2 L 570.11 320.62 L 570.61 323.15 L 571.11 328.4 L 571.61 335.78 L 572.11 326.96 L 572.61 327.09 L 573.11 325.94 L 573.61 329.78 L 574.11 335.71 L 574.61 337.6 L 575.11 326.25 L 575.61 322.35 L 576.11 328.53 L 576.61 326.57 L 577.11 323.52 L 577.61 334.58 L 578.11 334.93 L 578.61 337.63 L 579.11 325.63 L 579.61 328.43 L 580.11 335.46 L 580.61 340.61 L 581.11 332.89 L 581.61 326.41 L 582.11 330.53 L 582.61 327.75 L 583.12 326.69 L 583.62 336.35 L 584.12 330.32 L 584.62 328.12 L 585.12 336.05 L 585.62 336.86 L 586.12 329.16 L 586.62 329.81 L 587.12 330.53 L 587.62 326.33 L 588.12 328.02 L 588.62 336.49 L 589.12 332.31 L 589.62 326.12 L 590.12 320.31 L 590.62 321.72 L 591.12 330.73 L 591.62 323.92 L 592.12 323.96 L 592.62 327.45 L 593.12 324.74 L 593.62 321.62 L 594.12 321.22 L 594.62 330.69 L 595.12 327.68 L 595.62 329.91 L 596.12 328.98 L 596.62 322.65 L 597.12 324.63 L 597.62 335.02 L 598.12 332.06 L 598.62 330.78 L 599.12 335.63 L 599.62 324.68 L 600.12 327.89 L 600.62 327.7 L 601.12 323.34 L 601.63 320.41 L 602.13 326.29 L 602.63 327.69 L 603.13 322.13 L 603.63 330.64 L 604.13 336.39 L 604.63 337.31 L 605.13 325.72 L 605.63 325.9 L 606.13 326.2 L 606.63 327.13 L 607.13 330.47 L 607.63 335.05 L 608.13 332.99 L 608.63 326.61 L 609.13 325.12 L 609.63 321.75 L 610.13 332.05 L 610.63 333.64 L 611.13 332.7 L 611.63 324.24 L 612.13 332.39 L 612.63 323.69 L 613.13 321.05 L 613.63 325.52 L 614.13 327.64 L 614.63 344.19 L 615.13 332.72 L 615.63 340.21 L 616.13 328.61 L 616.63 329.97 L 617.13 331.74 L 617.63 323.72 L 618.13 326.2 L 618.63 331.84 L 619.13 335.23 L 619.63 339.76 L 620.14 329.03 L 620.64 319.96 L 621.14 329.29 L 621.64 327.76 L 622.14 329.96 L 622.64 287.14" clip-path="url(#p0796a7d0fc)" style="fill: none; stroke: #ff7f0e; stroke-width: 2.12; stroke-linecap: square"/>
   </g>
   <g id="line2d_33">
    <path d="M 115.36 126.36 L 115.86 326.57 L 116.36 329.33 L 116.86 320.05 L 117.36 324.75 L 117.86 316.83 L 118.37 316.22 L 118.87 343.46 L 119.37 337.34 L 119.87 325.24 L 120.37 318.17 L 120.87 324.64 L 121.37 321.71 L 121.87 326.92 L 122.37 323.14 L 122.87 329.03 L 123.37 325.23 L 123.87 344.57 L 124.37 340.02 L 124.87 316.43 L 125.37 321.83 L 125.87 324.67 L 126.37 312.66 L 126.87 312.83 L 127.37 314.65 L 127.87 322.12 L 128.37 319.1 L 128.87 321.21 L 129.37 331.68 L 129.87 322.05 L 130.37 321.73 L 130.87 315.4 L 131.37 316.92 L 131.87 326.26 L 132.37 327.51 L 132.87 322.1 L 133.37 320.58 L 133.87 326.25 L 134.37 323.31 L 134.87 320.55 L 135.37 319.03 L 135.87 316.93 L 136.37 321.23 L 136.88 329.08 L 137.38 336.64 L 137.88 322.72 L 138.38 323.61 L 138.88 326.92 L 139.38 328.56 L 139.88 337.01 L 140.38 334.03 L 140.88 337.84 L 141.38 332.44 L 141.88 327.4 L 142.38 314.56 L 142.88 318.44 L 143.38 324.23 L 143.88 322.23 L 144.38 320.34 L 144.88 327.12 L 145.38 325.05 L 145.88 321.48 L 146.38 312 L 146.88 321.86 L 147.38 332.69 L 147.88 318.06 L 148.38 311.9 L 148.88 319.84 L 149.38 309.72 L 149.88 317.93 L 150.38 318.39 L 150.88 325.14 L 151.38 327.55 L 151.88 332.63 L 152.38 338.33 L 152.88 341.94 L 153.38 321.95 L 153.88 329.27 L 154.38 322.47 L 154.88 319.05 L 155.39 322.92 L 155.89 323.05 L 156.39 326.5 L 156.89 327.21 L 157.39 324.46 L 157.89 324.72 L 158.39 334.5 L 158.89 337.34 L 159.39 333.68 L 159.89 323.2 L 160.39 315.32 L 160.89 314.25 L 161.39 319.11 L 161.89 319.04 L 162.39 321.03 L 162.89 318.04 L 163.39 319.89 L 163.89 322.58 L 164.39 327.01 L 164.89 318.87 L 165.39 315.37 L 165.89 330.34 L 166.39 327.61 L 166.89 327.21 L 167.39 317.26 L 167.89 314.82 L 168.39 328.02 L 168.89 352.49 L 169.39 323.54 L 169.89 321.88 L 170.39 337.46 L 170.89 326.99 L 171.39 327.44 L 171.89 342.76 L 172.39 322.73 L 172.89 320.66 L 173.39 322.89 L 173.9 328.91 L 174.4 327.97 L 174.9 326.97 L 175.4 323.17 L 175.9 323.7 L 176.4 315.3 L 176.9 321.43 L 177.4 334.05 L 177.9 317.23 L 178.4 321.26 L 178.9 327.43 L 179.4 326.8 L 179.9 336.94 L 180.4 331.1 L 180.9 340.77 L 181.4 332.58 L 181.9 316.63 L 182.4 315.38 L 182.9 325.85 L 183.4 328.83 L 183.9 320.16 L 184.4 322.04 L 184.9 321.19 L 185.4 320.79 L 185.9 328.76 L 186.4 323.35 L 186.9 336.63 L 187.4 321.09 L 187.9 334.23 L 188.4 333.56 L 188.9 328.34 L 189.4 320.33 L 189.9 318.81 L 190.4 319.41 L 190.9 320.17 L 191.4 321.29 L 191.9 325.55 L 192.41 345.38 L 192.67 361 M 193.23 361 L 193.41 353.08 L 193.91 329.57 L 194.41 325.29 L 194.91 325.63 L 195.41 323.05 L 195.91 322.84 L 196.41 331.84 L 196.91 343.6 L 197.41 336.22 L 197.91 319.25 L 198.41 320.18 L 198.91 330.49 L 199.41 327.02 L 199.91 320.66 L 200.41 316.42 L 200.91 326.43 L 201.41 321.99 L 201.91 317.47 L 202.41 335.08 L 202.91 333.88 L 203.41 327.03 L 203.91 325.09 L 204.41 314.07 L 204.91 317.18 L 205.41 323.59 L 205.91 329.1 L 206.41 320.27 L 206.91 319.75 L 207.41 326.43 L 207.91 329.17 L 208.41 330.96 L 208.91 324.41 L 209.41 317.42 L 209.91 316.85 L 210.41 317.67 L 210.92 318.37 L 211.42 324.77 L 211.92 320.38 L 212.42 316.57 L 212.92 319.85 L 213.42 324 L 213.92 320.17 L 214.42 317.2 L 214.92 318.36 L 215.42 323.32 L 215.92 323.57 L 216.42 318.86 L 216.92 313.94 L 217.42 319.88 L 217.92 327.28 L 218.42 324.25 L 218.92 331.62 L 219.42 323.99 L 219.92 322.87 L 220.42 316.63 L 220.92 320.99 L 221.42 316.08 L 221.92 311.74 L 222.42 320.6 L 222.92 327.7 L 223.42 321.36 L 223.92 322.29 L 224.42 322.27 L 224.92 323.69 L 225.42 318.93 L 225.92 322.43 L 226.42 333.71 L 226.92 322.2 L 227.42 316.32 L 227.92 313.58 L 228.42 319.51 L 228.92 321.79 L 229.42 314.11 L 229.93 318.64 L 230.43 316.91 L 230.93 313.47 L 231.43 313.13 L 231.93 316.45 L 232.43 319.88 L 232.93 312.23 L 233.43 315.56 L 233.93 312.89 L 234.43 305.16 L 234.93 308.51 L 235.43 314.08 L 235.93 312.97 L 236.43 311.48 L 236.93 314.6 L 237.43 316.5 L 237.93 306.59 L 238.43 305.07 L 238.93 306.53 L 239.43 307.75 L 239.93 305.83 L 240.43 305.53 L 240.93 309.21 L 241.43 307.84 L 241.93 306.4 L 242.43 302.32 L 242.93 303.53 L 243.43 270.5 L 243.93 303.69 L 244.43 299.05 L 244.93 302.33 L 245.43 301.63 L 245.93 301.26 L 246.43 298.05 L 246.93 299.75 L 247.43 301.73 L 247.93 303.13 L 248.44 300.36 L 248.94 297.49 L 249.44 297.73 L 249.94 299.9 L 250.44 295.15 L 250.94 297.85 L 251.44 300.62 L 251.94 297.8 L 252.44 299.12 L 252.94 299.31 L 253.44 299.16 L 253.94 297.84 L 254.44 298.53 L 254.94 300.26 L 255.44 296.78 L 255.94 296.51 L 256.44 293.97 L 256.94 294.66 L 257.44 294.17 L 257.94 294.97 L 258.44 293.33 L 258.94 296.3 L 259.44 296.84 L 259.94 296.08 L 260.44 300.22 L 260.94 296.55 L 261.44 293.98 L 261.94 294.61 L 262.44 291.34 L 262.94 291.96 L 263.44 293.8 L 263.94 294.69 L 264.44 293.22 L 264.94 295.46 L 265.44 294.82 L 265.94 292.44 L 266.44 291.19 L 266.95 289.79 L 267.45 292.91 L 267.95 296.32 L 268.45 291.64 L 268.95 290.48 L 269.45 292.06 L 269.95 289.29 L 270.45 290.51 L 270.95 292.52 L 271.45 293.73 L 271.95 294.31 L 272.45 292.36 L 272.95 289.97 L 273.45 291.84 L 273.95 294.67 L 274.45 294.56 L 274.95 296.06 L 275.45 296.51 L 275.95 295.35 L 276.45 295.26 L 276.95 291.86 L 277.45 290.84 L 277.95 290.24 L 278.45 292.19 L 278.95 292.65 L 279.45 292.07 L 279.95 290.48 L 280.45 291.89 L 280.95 290.97 L 281.45 291.63 L 281.95 291.93 L 282.45 292.17 L 282.95 292.16 L 283.45 290.22 L 283.95 293.36 L 284.45 291.79 L 284.95 292.2 L 285.46 287.86 L 285.96 288.53 L 286.46 290.6 L 286.96 291.2 L 287.46 291.71 L 287.96 289.95 L 288.46 288.57 L 288.96 286.2 L 289.46 290.41 L 289.96 288.57 L 290.46 290.47 L 290.96 289.21 L 291.46 287.95 L 291.96 288.1 L 292.46 288.25 L 292.96 289.58 L 293.46 289.07 L 293.96 288.54 L 294.46 287.69 L 294.96 291.32 L 295.46 291.16 L 295.96 291.83 L 296.46 292.05 L 296.96 291.49 L 297.46 288.41 L 297.96 285.92 L 298.46 287.8 L 298.96 291.49 L 299.46 290.69 L 299.96 291.51 L 300.46 289 L 300.96 287.42 L 301.46 286.89 L 301.96 288.47 L 302.46 289.93 L 302.96 293.54 L 303.46 293.36 L 303.97 290.75 L 304.47 288.52 L 304.97 287.7 L 305.47 289.41 L 305.97 289.64 L 306.47 288.94 L 306.97 287.35 L 307.47 290.28 L 307.97 290.66 L 308.47 287.79 L 308.97 288.83 L 309.47 288.94 L 309.97 290.97 L 310.47 290.71 L 310.97 293.92 L 311.47 293.64 L 311.97 291.46 L 312.47 291.06 L 312.97 288.87 L 313.47 288.44 L 313.97 289.32 L 314.47 288.64 L 314.97 290.75 L 315.47 291.02 L 315.97 293.31 L 316.47 292.31 L 316.97 292.36 L 317.47 291.97 L 317.97 291.82 L 318.47 294.63 L 318.97 292.34 L 319.47 293.41 L 319.97 292.78 L 320.47 292 L 320.97 293.16 L 321.47 293.44 L 321.97 294.35 L 322.47 292.27 L 322.98 293.8 L 323.48 292.69 L 323.98 295.07 L 324.48 291.29 L 324.98 293.69 L 325.48 291.62 L 325.98 293.63 L 326.48 292.79 L 326.98 293.67 L 327.48 292.27 L 327.98 293.23 L 328.48 290.8 L 328.98 291.53 L 329.48 290.87 L 329.98 291.14 L 330.48 293.19 L 330.98 291.55 L 331.48 293.4 L 331.98 295.63 L 332.48 293.74 L 332.98 293.04 L 333.48 290.86 L 333.98 293.34 L 334.48 293.52 L 334.98 293.98 L 335.48 295.93 L 335.98 293.03 L 336.48 293.88 L 336.98 290.45 L 337.48 289.45 L 337.98 292.96 L 338.48 296.07 L 338.98 293.6 L 339.48 293.27 L 339.98 292.86 L 340.48 294.46 L 340.98 296.48 L 341.49 294.47 L 341.99 294.36 L 342.49 291.91 L 342.99 294.93 L 343.49 296.61 L 343.99 295.67 L 344.49 297.28 L 344.99 296.14 L 345.49 295.92 L 345.99 296.4 L 346.49 294.09 L 346.99 292.77 L 347.49 294.62 L 347.99 298.03 L 348.49 296.91 L 348.99 295.06 L 349.49 296.72 L 349.99 296.88 L 350.49 295.15 L 350.99 295.45 L 351.49 296.78 L 351.99 297.16 L 352.49 298.24 L 352.99 295.62 L 353.49 296.82 L 353.99 293.08 L 354.49 295.12 L 354.99 296.23 L 355.49 295.15 L 355.99 296.85 L 356.49 296.91 L 356.99 297.63 L 357.49 298.94 L 357.99 299.73 L 358.49 297.7 L 358.99 295.24 L 359.49 297.85 L 360 298.64 L 360.5 297.2 L 361 294.41 L 361.5 293.41 L 362 297.7 L 362.5 295.8 L 363 296.16 L 363.5 297.95 L 364 296.76 L 364.5 300.12 L 365 296.36 L 365.5 296.65 L 366 299.03 L 366.5 294.98 L 367 295.68 L 367.5 296.82 L 368 300.7 L 368.5 300.48 L 369 300.88 L 369.5 298.89 L 370 298.98 L 370.5 304.55 L 371 303.44 L 371.5 206.75 L 372 300.81 L 372.5 304.59 L 373 307.14 L 373.5 308.14 L 374 311.69 L 374.5 311.87 L 375 309.56 L 375.5 310.92 L 376 311.23 L 376.5 313.22 L 377 302.36 L 377.5 303.23 L 378 308.65 L 378.51 320.83 L 379.01 331.31 L 379.51 321.33 L 380.01 311.27 L 380.51 302.7 L 381.01 305.81 L 381.51 314.05 L 382.01 307.48 L 382.51 306.7 L 383.01 311.5 L 383.51 307.98 L 384.01 310.67 L 384.51 320.78 L 385.01 326.73 L 385.51 315.48 L 386.01 311.38 L 386.51 323.02 L 387.01 326.01 L 387.51 318.82 L 388.01 334.24 L 388.51 309.42 L 389.01 313.74 L 389.51 307.77 L 390.01 306.26 L 390.51 322.82 L 391.01 321.79 L 391.51 305.5 L 392.01 314.36 L 392.51 316.47 L 393.01 312.81 L 393.51 307.83 L 394.01 306.74 L 394.51 312.93 L 395.01 317.19 L 395.51 315.17 L 396.01 309.53 L 396.51 306.95 L 397.02 309.36 L 397.52 306.67 L 398.02 315.77 L 398.52 311.22 L 399.02 303.89 L 399.52 306.04 L 400.02 312.22 L 400.52 321.31 L 401.02 319.99 L 401.52 315.46 L 402.02 312.46 L 402.52 317.44 L 403.02 323.88 L 403.52 320.08 L 404.02 309.82 L 404.52 309.66 L 405.02 322.31 L 405.52 321.69 L 406.02 328.42 L 406.52 314.41 L 407.02 298.44 L 407.52 305.72 L 408.02 311.48 L 408.52 320.19 L 409.02 327.51 L 409.52 325.99 L 410.02 316.46 L 410.52 312 L 411.02 307.59 L 411.52 320.7 L 412.02 310.58 L 412.52 307.02 L 413.02 323.06 L 413.52 314.01 L 414.02 322.86 L 414.52 309.52 L 415.02 305.22 L 415.53 311.41 L 416.03 310.34 L 416.53 314.37 L 417.03 309.14 L 417.53 305.04 L 418.03 311.49 L 418.53 311.84 L 419.03 309.32 L 419.53 309.84 L 420.03 322.45 L 420.53 315.61 L 421.03 314.64 L 421.53 309.33 L 422.03 304.87 L 422.53 307.33 L 423.03 306.02 L 423.53 316.51 L 424.03 317.08 L 424.53 318.76 L 425.03 313.23 L 425.53 311.1 L 426.03 314.12 L 426.53 319.92 L 427.03 313.62 L 427.53 313.31 L 428.03 308.98 L 428.53 309.85 L 429.03 305.06 L 429.53 310.71 L 430.03 322.84 L 430.53 317.37 L 431.03 318.64 L 431.53 305.7 L 432.03 302.81 L 432.53 308.17 L 433.03 310.39 L 433.53 325.03 L 434.03 336.58 L 434.54 318.98 L 435.04 316.08 L 435.54 321.85 L 436.04 313.17 L 436.54 308.87 L 437.04 305.81 L 437.54 301.84 L 438.04 306.24 L 438.54 310.74 L 439.04 309.63 L 439.54 307.4 L 440.04 311.43 L 440.54 304.6 L 441.04 304.85 L 441.54 309.62 L 442.04 308.77 L 442.54 296.41 L 443.04 301.8 L 443.54 303.52 L 444.04 301.94 L 444.54 304.69 L 445.04 308.23 L 445.54 308.69 L 446.04 314.93 L 446.54 310.82 L 447.04 317.97 L 447.54 309.17 L 448.04 309.56 L 448.54 316.45 L 449.04 303.53 L 449.54 310.78 L 450.04 305.98 L 450.54 310.1 L 451.04 308.58 L 451.54 305.46 L 452.04 297.14 L 452.54 299.1 L 453.05 300.35 L 453.55 303.98 L 454.05 305.22 L 454.55 309.15 L 455.05 310.75 L 455.55 307.1 L 456.05 308.67 L 456.55 312.6 L 457.05 319.2 L 457.55 313.06 L 458.05 306.78 L 458.55 310.96 L 459.05 308.02 L 459.55 310.57 L 460.05 315.67 L 460.55 317.7 L 461.05 315.35 L 461.55 311.01 L 462.05 308.66 L 462.55 304.93 L 463.05 317.15 L 463.55 319.63 L 464.05 308.77 L 464.55 308.59 L 465.05 306.72 L 465.55 297.55 L 466.05 299.95 L 466.55 303.72 L 467.05 304.66 L 467.55 305.96 L 468.05 305.52 L 468.55 309.81 L 469.05 311.38 L 469.55 311.53 L 470.05 301.79 L 470.55 302.27 L 471.05 309.33 L 471.56 303.18 L 472.06 307.5 L 472.56 303.85 L 473.06 308.58 L 473.56 305.9 L 474.06 309.56 L 474.56 312.91 L 475.06 311.09 L 475.56 310.33 L 476.06 316.19 L 476.56 316.73 L 477.06 304.59 L 477.56 312.02 L 478.06 329.64 L 478.56 346.53 L 479.06 344.35 L 479.56 316.58 L 480.06 306.87 L 480.56 319.05 L 481.06 318.73 L 481.56 320.59 L 482.06 305.52 L 482.56 307.36 L 483.06 307.31 L 483.56 302.73 L 484.06 300.87 L 484.56 304.57 L 485.06 315.17 L 485.56 322.04 L 486.06 320.24 L 486.56 319.3 L 487.06 304.59 L 487.56 308.83 L 488.06 308.64 L 488.56 306.52 L 489.06 301.79 L 489.56 308.95 L 490.07 303.77 L 490.57 306.26 L 491.07 313.61 L 491.57 323.3 L 492.07 308.02 L 492.57 310.86 L 493.07 313.59 L 493.57 309.65 L 494.07 308.63 L 494.57 306.05 L 495.07 313.17 L 495.57 310.75 L 496.07 308.89 L 496.57 309.27 L 497.07 307.4 L 497.57 308.46 L 498.07 306.19 L 498.57 315.12 L 499.07 321.6 L 499.57 270.5 L 500.07 305.45 L 500.57 312.2 L 501.07 315.05 L 501.57 312.66 L 502.07 309.55 L 502.57 307.69 L 503.07 311.48 L 503.57 315.34 L 504.07 303.73 L 504.57 306.41 L 505.07 311.3 L 505.57 304.58 L 506.07 305.35 L 506.57 304.34 L 507.07 310.99 L 507.57 304.02 L 508.07 310.95 L 508.58 323.92 L 509.08 309.99 L 509.58 313.55 L 510.08 318.39 L 510.58 316.2 L 511.08 323.29 L 511.58 311.29 L 512.08 312.57 L 512.58 312.29 L 513.08 304.92 L 513.58 310.54 L 514.08 319.04 L 514.58 320.79 L 515.08 311.14 L 515.58 306.86 L 516.08 314.64 L 516.58 316.82 L 517.08 306.5 L 517.58 309.99 L 518.08 307.55 L 518.58 301.67 L 519.08 315.07 L 519.58 313.71 L 520.08 323.33 L 520.58 311.23 L 521.08 306.79 L 521.58 306.76 L 522.08 318.96 L 522.58 309.66 L 523.08 307.86 L 523.58 309.49 L 524.08 301.65 L 524.58 311.56 L 525.08 317.72 L 525.58 310.28 L 526.08 322.91 L 526.58 306.08 L 527.08 307.1 L 527.59 312.57 L 528.09 309.5 L 528.59 307.12 L 529.09 304.07 L 529.59 316.47 L 530.09 328.86 L 530.59 336.21 L 531.09 322.48 L 531.59 320.93 L 532.09 317.79 L 532.59 313.8 L 533.09 318.6 L 533.59 320.52 L 534.09 309.56 L 534.59 311.55 L 535.09 312.16 L 535.59 310.95 L 536.09 323.35 L 536.59 319.69 L 537.09 304.21 L 537.59 313.96 L 538.09 321.18 L 538.59 316.15 L 539.09 320.21 L 539.59 322.94 L 540.09 321.17 L 540.59 316.25 L 541.09 314.83 L 541.59 312.94 L 542.09 330.53 L 542.59 327.23 L 543.09 313.81 L 543.59 316.09 L 544.09 309.01 L 544.59 314.65 L 545.09 322.12 L 545.59 313.66 L 546.1 321.41 L 546.6 313.72 L 547.1 306.22 L 547.6 303.59 L 548.1 311.53 L 548.6 311.25 L 549.1 311.46 L 549.6 313.75 L 550.1 338.62 L 550.6 321.7 L 551.1 311.89 L 551.6 312.56 L 552.1 318.28 L 552.6 309.78 L 553.1 308.03 L 553.6 313.98 L 554.1 317.96 L 554.6 318.65 L 555.1 313.96 L 555.6 308.18 L 556.1 306.06 L 556.6 318.01 L 557.1 325.33 L 557.6 321.32 L 558.1 311.89 L 558.6 312.54 L 559.1 313.12 L 559.6 311.89 L 560.1 314.16 L 560.6 318.79 L 561.1 324.28 L 561.6 322.41 L 562.1 316.99 L 562.6 314.58 L 563.1 320.07 L 563.6 319.18 L 564.1 311.79 L 564.61 317.65 L 565.11 318.02 L 565.61 321.58 L 566.11 326.48 L 566.61 328.11 L 567.11 323.73 L 567.61 321.94 L 568.11 316.44 L 568.61 325.69 L 569.11 321.15 L 569.61 314.99 L 570.11 315.38 L 570.61 310.63 L 571.11 313.45 L 571.61 332.51 L 572.11 323.57 L 572.61 323.83 L 573.11 311.42 L 573.61 314.02 L 574.11 313.17 L 574.61 309.89 L 575.11 318.49 L 575.61 316.98 L 576.11 314.4 L 576.61 313.95 L 577.11 311.2 L 577.61 309.64 L 578.11 309.06 L 578.61 317.59 L 579.11 321.09 L 579.61 322.95 L 580.11 326.47 L 580.61 331.41 L 581.11 318.03 L 581.61 314.25 L 582.11 316.34 L 582.61 323.3 L 583.12 318.51 L 583.62 316.23 L 584.12 312.27 L 584.62 310.93 L 585.12 320.29 L 585.62 316.75 L 586.12 313.77 L 586.62 313.96 L 587.12 321.44 L 587.62 328.15 L 588.12 323.88 L 588.62 313.24 L 589.12 311.6 L 589.62 319.76 L 590.12 316.66 L 590.62 314.11 L 591.12 312.32 L 591.62 314.96 L 592.12 314.52 L 592.62 315.2 L 593.12 324.93 L 593.62 322.09 L 594.12 335.58 L 594.62 344.35 L 595.12 332.67 L 595.62 327.79 L 596.12 317.57 L 596.62 312.71 L 597.12 318.79 L 597.62 321.62 L 598.12 319.89 L 598.62 321.95 L 599.12 319.09 L 599.62 317.38 L 600.12 321.78 L 600.62 327.24 L 601.12 320.83 L 601.63 316.21 L 602.13 319.44 L 602.63 311.81 L 603.13 317.4 L 603.63 313.89 L 604.13 328.16 L 604.63 322.12 L 605.13 317.86 L 605.63 316.95 L 606.13 318.15 L 606.63 310.38 L 607.13 317.41 L 607.63 320.13 L 608.13 320.73 L 608.63 312.06 L 609.13 313.59 L 609.63 318.06 L 610.13 329.6 L 610.63 321.9 L 611.13 321.57 L 611.63 318.14 L 612.13 316.62 L 612.63 324.35 L 613.13 319.51 L 613.63 315.34 L 614.13 318.35 L 614.63 325.32 L 615.13 329.19 L 615.63 325.06 L 616.13 328.66 L 616.63 316.37 L 617.13 318.47 L 617.63 329.03 L 618.13 323.23 L 618.63 340.76 L 619.13 360.77 L 619.63 316.8 L 620.14 312.3 L 620.64 332.54 L 621.14 329.81 L 621.64 321.36 L 622.14 325.6 L 622.64 325.16" clip-path="url(#p0796a7d0fc)" style="fill: none; stroke: #2ca02c; stroke-width: 2.12; stroke-linecap: square"/>
   </g>
   <g id="line2d_34">
    <path d="M 115.36 129.13 L 115.86 303.85 L 116.36 303.74 L 116.86 302.75 L 117.36 303.53 L 117.86 302.49 L 118.37 299.95 L 118.87 301.71 L 119.37 302.05 L 119.87 304.66 L 120.37 305.42 L 120.87 308.21 L 121.37 304.83 L 121.87 305.73 L 122.37 304.71 L 122.87 307.8 L 123.37 305.4 L 123.87 302.08 L 124.37 302.17 L 124.87 305.28 L 125.37 301.99 L 125.87 297.27 L 126.37 298.54 L 126.87 301.58 L 127.37 307.55 L 127.87 303.26 L 128.37 299.93 L 128.87 298.59 L 129.37 298.88 L 129.87 297.75 L 130.37 298.34 L 130.87 298.77 L 131.37 301.21 L 131.87 295.33 L 132.37 297.9 L 132.87 298.67 L 133.37 295.6 L 133.87 295.39 L 134.37 295.03 L 134.87 297.61 L 135.37 295.31 L 135.87 295.54 L 136.37 296.81 L 136.88 295.3 L 137.38 293.98 L 137.88 293.73 L 138.38 293.37 L 138.88 292.14 L 139.38 287.38 L 139.88 285.55 L 140.38 284.19 L 140.88 285.27 L 141.38 286.22 L 141.88 286.83 L 142.38 285.18 L 142.88 285.62 L 143.38 282.49 L 143.88 282.36 L 144.38 283.4 L 144.88 286.29 L 145.38 286.99 L 145.88 285.86 L 146.38 285.68 L 146.88 284.14 L 147.38 283.95 L 147.88 284.08 L 148.38 282.73 L 148.88 281.41 L 149.38 282.16 L 149.88 280.81 L 150.38 282.12 L 150.88 280.19 L 151.38 280.8 L 151.88 280.04 L 152.38 278.94 L 152.88 277.92 L 153.38 278.1 L 153.88 279.09 L 154.38 279.99 L 154.88 279.59 L 155.39 278.98 L 155.89 278.76 L 156.39 278.79 L 156.89 276.66 L 157.39 276.39 L 157.89 277.79 L 158.39 278.06 L 158.89 277.71 L 159.39 277.78 L 159.89 277.55 L 160.39 278.27 L 160.89 277.54 L 161.39 278.23 L 161.89 277.15 L 162.39 275.74 L 162.89 276.15 L 163.39 276.82 L 163.89 276.37 L 164.39 275.63 L 164.89 274.5 L 165.39 274.75 L 165.89 274.76 L 166.39 275.26 L 166.89 274.93 L 167.39 274.16 L 167.89 273.95 L 168.39 274.7 L 168.89 274.57 L 169.39 274.72 L 169.89 274.42 L 170.39 273.04 L 170.89 272.62 L 171.39 273.85 L 171.89 274.9 L 172.39 273.93 L 172.89 273.42 L 173.39 273.61 L 173.9 274.44 L 174.4 273.64 L 174.9 272.82 L 175.4 272.54 L 175.9 273.62 L 176.4 272.95 L 176.9 272.77 L 177.4 272.62 L 177.9 272.78 L 178.4 272.86 L 178.9 271.36 L 179.4 271.29 L 179.9 271.67 L 180.4 271.97 L 180.9 270.21 L 181.4 270.28 L 181.9 270.42 L 182.4 270.47 L 182.9 270.55 L 183.4 270.92 L 183.9 270.89 L 184.4 269.99 L 184.9 270.31 L 185.4 270.09 L 185.9 273 L 186.4 269.57 L 186.9 270.62 L 187.4 270.17 L 187.9 269.44 L 188.4 270.91 L 188.9 269.69 L 189.4 269.63 L 189.9 269.85 L 190.4 268.81 L 190.9 269.23 L 191.4 267.82 L 191.9 268.5 L 192.41 268.11 L 192.91 267.87 L 193.41 268.02 L 193.91 269.17 L 194.41 267.88 L 194.91 268.8 L 195.41 267.09 L 195.91 266.96 L 196.41 266.71 L 196.91 266.87 L 197.41 267.82 L 197.91 267.51 L 198.41 268.44 L 198.91 266.7 L 199.41 267.45 L 199.91 267.55 L 200.41 266.45 L 200.91 267.05 L 201.41 266.39 L 201.91 267.24 L 202.41 266.82 L 202.91 266.85 L 203.41 266.34 L 203.91 266.23 L 204.41 266.29 L 204.91 266.53 L 205.41 266.19 L 205.91 265.3 L 206.41 266.43 L 206.91 265.69 L 207.41 264.6 L 207.91 265.44 L 208.41 264.81 L 208.91 265.51 L 209.41 265.56 L 209.91 264.84 L 210.41 266.14 L 210.92 265.46 L 211.42 265.38 L 211.92 264.3 L 212.42 264.2 L 212.92 264.12 L 213.42 263.96 L 213.92 263.75 L 214.42 264.46 L 214.92 264.03 L 215.42 264.35 L 215.92 264.41 L 216.42 263.77 L 216.92 266.62 L 217.42 264.05 L 217.92 264.63 L 218.42 263.65 L 218.92 262.64 L 219.42 261.89 L 219.92 262.95 L 220.42 263.09 L 220.92 264.16 L 221.42 262.4 L 221.92 262.47 L 222.42 261.98 L 222.92 263.21 L 223.42 262.5 L 223.92 263.26 L 224.42 262.7 L 224.92 262.9 L 225.42 262.58 L 225.92 263.26 L 226.42 262.32 L 226.92 262.69 L 227.42 261.7 L 227.92 262.03 L 228.42 262.2 L 228.92 262.2 L 229.42 262.01 L 229.93 262.28 L 230.43 261.39 L 230.93 262.24 L 231.43 261.79 L 231.93 262.3 L 232.43 261.87 L 232.93 262.52 L 233.43 262.4 L 233.93 261.27 L 234.43 261.62 L 234.93 262.09 L 235.43 260.8 L 235.93 261.27 L 236.43 260.9 L 236.93 261.33 L 237.43 260.61 L 237.93 260.59 L 238.43 260.31 L 238.93 261.31 L 239.43 261.29 L 239.93 261 L 240.43 260.96 L 240.93 260.23 L 241.43 260.11 L 241.93 260.48 L 242.43 260.37 L 242.93 258.31 L 243.43 264.96 L 243.93 258.31 L 244.43 260.74 L 244.93 260.37 L 245.43 261.61 L 245.93 260.35 L 246.43 259.44 L 246.93 260.02 L 247.43 260.64 L 247.93 260.32 L 248.44 259.64 L 248.94 259.75 L 249.44 259.85 L 249.94 259.8 L 250.44 260.29 L 250.94 260.2 L 251.44 260.65 L 251.94 260.24 L 252.44 259.77 L 252.94 259.2 L 253.44 259.86 L 253.94 259.58 L 254.44 260.37 L 254.94 260.3 L 255.44 259.76 L 255.94 259.74 L 256.44 260.48 L 256.94 259.48 L 257.44 259.2 L 257.94 259.52 L 258.44 259.97 L 258.94 259.78 L 259.44 259.49 L 259.94 259.56 L 260.44 260.14 L 260.94 260.44 L 261.44 260.63 L 261.94 261.02 L 262.44 260.01 L 262.94 259.87 L 263.44 259.44 L 263.94 259.77 L 264.44 259.4 L 264.94 259.06 L 265.44 259.06 L 265.94 259.77 L 266.44 259.11 L 266.95 258.57 L 267.45 259.87 L 267.95 258.52 L 268.45 259.13 L 268.95 259.38 L 269.45 260.02 L 269.95 260 L 270.45 259.84 L 270.95 259.7 L 271.45 258.59 L 271.95 258.97 L 272.45 259.52 L 272.95 258.5 L 273.45 259.31 L 273.95 259.43 L 274.45 258.8 L 274.95 258.48 L 275.45 258.77 L 275.95 258.6 L 276.45 258.47 L 276.95 258.63 L 277.45 257.81 L 277.95 257.94 L 278.45 258 L 278.95 258.69 L 279.45 258.76 L 279.95 258.26 L 280.45 258.19 L 280.95 259.03 L 281.45 257.89 L 281.95 257.63 L 282.45 257.67 L 282.95 257.83 L 283.45 258.37 L 283.95 257.17 L 284.45 257.93 L 284.95 257.14 L 285.46 257.72 L 285.96 257.51 L 286.46 257.9 L 286.96 257.42 L 287.46 257.46 L 287.96 256.51 L 288.46 257.85 L 288.96 257.54 L 289.46 257.07 L 289.96 257.16 L 290.46 257.47 L 290.96 256.82 L 291.46 255.83 L 291.96 256.49 L 292.46 255.87 L 292.96 257.25 L 293.46 256.06 L 293.96 255.67 L 294.46 255.29 L 294.96 255.55 L 295.46 255.51 L 295.96 256.25 L 296.46 256.18 L 296.96 256.14 L 297.46 255.63 L 297.96 255.81 L 298.46 255.05 L 298.96 255.04 L 299.46 255.66 L 299.96 255.46 L 300.46 255.82 L 300.96 255.41 L 301.46 255.04 L 301.96 254.75 L 302.46 255.29 L 302.96 254.4 L 303.46 255.21 L 303.97 255.56 L 304.47 254.08 L 304.97 254.59 L 305.47 254.86 L 305.97 254.65 L 306.47 254.59 L 306.97 254.4 L 307.47 254.41 L 307.97 254.37 L 308.47 254.76 L 308.97 255.01 L 309.47 255.5 L 309.97 255.2 L 310.47 254.47 L 310.97 254.71 L 311.47 254 L 311.97 254.17 L 312.47 254.69 L 312.97 253.98 L 313.47 254.69 L 313.97 254.37 L 314.47 254.85 L 314.97 254.41 L 315.47 254.55 L 315.97 253.92 L 316.47 254.82 L 316.97 255.07 L 317.47 254.58 L 317.97 254.15 L 318.47 254.04 L 318.97 254.31 L 319.47 255.6 L 319.97 255.25 L 320.47 253.96 L 320.97 254.37 L 321.47 253.84 L 321.97 254.41 L 322.47 253.93 L 322.98 253.89 L 323.48 253.21 L 323.98 254.81 L 324.48 253.81 L 324.98 253.54 L 325.48 253.69 L 325.98 254.33 L 326.48 253.76 L 326.98 253.68 L 327.48 254.41 L 327.98 253.74 L 328.48 253.53 L 328.98 253.58 L 329.48 254.05 L 329.98 253.58 L 330.48 253.16 L 330.98 252.8 L 331.48 253.3 L 331.98 252.96 L 332.48 252.98 L 332.98 253.39 L 333.48 253.34 L 333.98 253.53 L 334.48 253.99 L 334.98 254.03 L 335.48 252.71 L 335.98 253.51 L 336.48 253.45 L 336.98 252.42 L 337.48 252.6 L 337.98 252.53 L 338.48 252.62 L 338.98 252.39 L 339.48 252.46 L 339.98 252.23 L 340.48 252.13 L 340.98 251.85 L 341.49 253.37 L 341.99 252.04 L 342.49 252.5 L 342.99 252.35 L 343.49 251.79 L 343.99 251.42 L 344.49 252.15 L 344.99 251.81 L 345.49 251.78 L 345.99 251.66 L 346.49 251.35 L 346.99 251.68 L 347.49 251.7 L 347.99 251.17 L 348.49 251.69 L 348.99 251.44 L 349.49 250.85 L 349.99 250.52 L 350.49 250.64 L 350.99 250.44 L 351.49 250.45 L 351.99 251.88 L 352.49 251.29 L 352.99 251.45 L 353.49 251.02 L 353.99 251.09 L 354.49 251.09 L 354.99 250.48 L 355.49 251.13 L 355.99 251.37 L 356.49 250.29 L 356.99 250.68 L 357.49 250.49 L 357.99 250.82 L 358.49 250.99 L 358.99 250.39 L 359.49 249.09 L 360 249.89 L 360.5 250.37 L 361 249.78 L 361.5 250.12 L 362 249.84 L 362.5 249.66 L 363 250.67 L 363.5 250.55 L 364 250.09 L 364.5 250.21 L 365 250.3 L 365.5 249.75 L 366 249.84 L 366.5 249.82 L 367 249.2 L 367.5 249.09 L 368 249.94 L 368.5 249.52 L 369 249.53 L 369.5 249.37 L 370 249.85 L 370.5 249.54 L 371 248.86 L 371.5 209.52 L 372 249.64 L 372.5 249.21 L 373 249.24 L 373.5 249.26 L 374 248.74 L 374.5 248.86 L 375 249.4 L 375.5 249.25 L 376 249.26 L 376.5 249.13 L 377 248.88 L 377.5 249.06 L 378 249.11 L 378.51 248.53 L 379.01 249.69 L 379.51 249.28 L 380.01 248.83 L 380.51 249.22 L 381.01 248.05 L 381.51 249.13 L 382.01 248.6 L 382.51 248.25 L 383.01 248.43 L 383.51 248.34 L 384.01 248.1 L 384.51 248.36 L 385.01 247.87 L 385.51 248.61 L 386.01 247.55 L 386.51 247.18 L 387.01 248.26 L 387.51 247.74 L 388.01 247.43 L 388.51 247.37 L 389.01 248.01 L 389.51 247.47 L 390.01 247.47 L 390.51 246.9 L 391.01 247.7 L 391.51 248.11 L 392.01 247.85 L 392.51 247.01 L 393.01 248.24 L 393.51 248.17 L 394.01 246.95 L 394.51 247.28 L 395.01 248.14 L 395.51 247.31 L 396.01 247.79 L 396.51 246.96 L 397.02 247.49 L 397.52 247.19 L 398.02 246.52 L 398.52 246.73 L 399.02 247.42 L 399.52 246.99 L 400.02 247.14 L 400.52 246.11 L 401.02 246.75 L 401.52 246.67 L 402.02 246.59 L 402.52 247.42 L 403.02 246.9 L 403.52 246.56 L 404.02 246.35 L 404.52 245.97 L 405.02 245.92 L 405.52 246.4 L 406.02 246.05 L 406.52 246.5 L 407.02 246.55 L 407.52 246.28 L 408.02 246.01 L 408.52 246.29 L 409.02 245.87 L 409.52 246.25 L 410.02 246.18 L 410.52 245.42 L 411.02 246.07 L 411.52 245.85 L 412.02 245.33 L 412.52 245.86 L 413.02 245.63 L 413.52 246.81 L 414.02 245.77 L 414.52 245.84 L 415.02 245.65 L 415.53 245.91 L 416.03 245.6 L 416.53 245.54 L 417.03 245.22 L 417.53 245.38 L 418.03 244.85 L 418.53 245.39 L 419.03 245.42 L 419.53 245.2 L 420.03 244.68 L 420.53 244.99 L 421.03 245.81 L 421.53 244.63 L 422.03 245.65 L 422.53 245.54 L 423.03 245.76 L 423.53 244.83 L 424.03 245.19 L 424.53 244.99 L 425.03 245.66 L 425.53 244.98 L 426.03 244.95 L 426.53 244.48 L 427.03 244.89 L 427.53 244.27 L 428.03 244.76 L 428.53 245.16 L 429.03 245.19 L 429.53 244.36 L 430.03 244.37 L 430.53 244.88 L 431.03 244.55 L 431.53 245.23 L 432.03 245.2 L 432.53 245.46 L 433.03 244.94 L 433.53 244.76 L 434.03 244.71 L 434.54 244.77 L 435.04 244.16 L 435.54 243.97 L 436.04 244.91 L 436.54 244.34 L 437.04 245.01 L 437.54 244.68 L 438.04 245.05 L 438.54 244.91 L 439.04 244.71 L 439.54 244.79 L 440.04 244.72 L 440.54 245.25 L 441.04 244.98 L 441.54 244.53 L 442.04 244.72 L 442.54 244.52 L 443.04 244.83 L 443.54 244.99 L 444.04 244.31 L 444.54 244.49 L 445.04 244.27 L 445.54 244.09 L 446.04 244.43 L 446.54 244.55 L 447.04 244.73 L 447.54 244.93 L 448.04 245.28 L 448.54 243.72 L 449.04 244.48 L 449.54 243.98 L 450.04 244.57 L 450.54 244.07 L 451.04 244.54 L 451.54 244.51 L 452.04 244.29 L 452.54 244.4 L 453.05 243.98 L 453.55 244.16 L 454.05 245.06 L 454.55 244.5 L 455.05 244.44 L 455.55 243.72 L 456.05 244.23 L 456.55 244.04 L 457.05 243.58 L 457.55 244.1 L 458.05 243.35 L 458.55 244.11 L 459.05 244.19 L 459.55 243.62 L 460.05 243.53 L 460.55 243.67 L 461.05 243.99 L 461.55 243.87 L 462.05 243.7 L 462.55 244.02 L 463.05 243.6 L 463.55 244.08 L 464.05 243.33 L 464.55 244.26 L 465.05 243.98 L 465.55 244.3 L 466.05 244.21 L 466.55 244.5 L 467.05 243.46 L 467.55 243.91 L 468.05 244.25 L 468.55 244.12 L 469.05 243.7 L 469.55 244.18 L 470.05 244.56 L 470.55 244.35 L 471.05 243.83 L 471.56 244.13 L 472.06 243.65 L 472.56 244.5 L 473.06 244.01 L 473.56 243.74 L 474.06 244.4 L 474.56 244.07 L 475.06 243.97 L 475.56 244.02 L 476.06 243.4 L 476.56 244.61 L 477.06 244.5 L 477.56 244.92 L 478.06 244.34 L 478.56 243.98 L 479.06 244.49 L 479.56 244.41 L 480.06 244.57 L 480.56 243.85 L 481.06 244.62 L 481.56 244.57 L 482.06 243.63 L 482.56 244.05 L 483.06 244.11 L 483.56 244.13 L 484.06 243.67 L 484.56 244.03 L 485.06 244.83 L 485.56 244.32 L 486.06 244.02 L 486.56 244.16 L 487.06 244.53 L 487.56 243.8 L 488.06 244.56 L 488.56 244.41 L 489.06 244.43 L 489.56 244.88 L 490.07 245 L 490.57 243.86 L 491.07 243.87 L 491.57 244.12 L 492.07 245.01 L 492.57 244.58 L 493.07 244.35 L 493.57 244.35 L 494.07 244.59 L 494.57 244.57 L 495.07 244.64 L 495.57 244.35 L 496.07 245.68 L 496.57 244.25 L 497.07 244.79 L 497.57 244.61 L 498.07 244.57 L 498.57 245.26 L 499.07 247.22 L 499.57 239.18 L 500.07 246.66 L 500.57 244.76 L 501.07 245.01 L 501.57 244.4 L 502.07 245.19 L 502.57 244.36 L 503.07 245.35 L 503.57 244.86 L 504.07 244.83 L 504.57 245.95 L 505.07 246.02 L 505.57 245.55 L 506.07 244.77 L 506.57 244.78 L 507.07 245.35 L 507.57 245.27 L 508.07 245.78 L 508.58 245.54 L 509.08 245.05 L 509.58 245.97 L 510.08 245.85 L 510.58 245.92 L 511.08 245.77 L 511.58 246.13 L 512.08 245.32 L 512.58 245.41 L 513.08 245.48 L 513.58 245.57 L 514.08 245.79 L 514.58 245.49 L 515.08 246.33 L 515.58 246.23 L 516.08 244.77 L 516.58 246.07 L 517.08 245.71 L 517.58 245.89 L 518.08 245.22 L 518.58 245.75 L 519.08 246 L 519.58 245.97 L 520.08 245.34 L 520.58 245.49 L 521.08 248.61 L 521.58 246.1 L 522.08 245.69 L 522.58 245.51 L 523.08 245.7 L 523.58 246.21 L 524.08 246.53 L 524.58 246.54 L 525.08 245.79 L 525.58 246.59 L 526.08 246.59 L 526.58 246.28 L 527.08 246.81 L 527.59 247.07 L 528.09 246.21 L 528.59 246.46 L 529.09 246.52 L 529.59 246.35 L 530.09 246.27 L 530.59 246.93 L 531.09 247.25 L 531.59 247.41 L 532.09 246.44 L 532.59 246.7 L 533.09 246.23 L 533.59 246.58 L 534.09 246.3 L 534.59 246.73 L 535.09 246.76 L 535.59 246.86 L 536.09 247.3 L 536.59 247.27 L 537.09 247 L 537.59 247.09 L 538.09 247.02 L 538.59 247.14 L 539.09 247.98 L 539.59 248.39 L 540.09 248.19 L 540.59 247.78 L 541.09 247.24 L 541.59 246.77 L 542.09 247.44 L 542.59 247.28 L 543.09 247.14 L 543.59 247.36 L 544.09 247.01 L 544.59 247.68 L 545.09 247.19 L 545.59 247.67 L 546.1 246.9 L 546.6 247.04 L 547.1 247.6 L 547.6 247.37 L 548.1 248.07 L 548.6 247.82 L 549.1 248.08 L 549.6 247.9 L 550.1 247.37 L 550.6 247.48 L 551.1 247.72 L 551.6 247.26 L 552.1 247.21 L 552.6 247.77 L 553.1 248.56 L 553.6 248.69 L 554.1 248.58 L 554.6 248.68 L 555.1 248.91 L 555.6 248.65 L 556.1 248.24 L 556.6 248.57 L 557.1 248.7 L 557.6 249.05 L 558.1 249.74 L 558.6 249.31 L 559.1 248.77 L 559.6 248.84 L 560.1 250.13 L 560.6 250.38 L 561.1 249.55 L 561.6 249.21 L 562.1 249.8 L 562.6 248.98 L 563.1 249.39 L 563.6 249.62 L 564.1 249.7 L 564.61 248.91 L 565.11 249.26 L 565.61 249.41 L 566.11 250 L 566.61 249.28 L 567.11 250.38 L 567.61 249.8 L 568.11 249.58 L 568.61 250.02 L 569.11 249.8 L 569.61 250.31 L 570.11 250.21 L 570.61 250.81 L 571.11 250.55 L 571.61 250.55 L 572.11 250.82 L 572.61 251.41 L 573.11 251.31 L 573.61 251.86 L 574.11 251.71 L 574.61 251.16 L 575.11 251.13 L 575.61 251.33 L 576.11 252.21 L 576.61 253.06 L 577.11 253.64 L 577.61 253.76 L 578.11 253.73 L 578.61 254.26 L 579.11 255.19 L 579.61 255 L 580.11 255.82 L 580.61 255.77 L 581.11 256.13 L 581.61 257.09 L 582.11 257.11 L 582.61 257.32 L 583.12 258.05 L 583.62 258.28 L 584.12 259.22 L 584.62 259.17 L 585.12 259.66 L 585.62 259.66 L 586.12 260.5 L 586.62 260.92 L 587.12 261.85 L 587.62 261.64 L 588.12 262.87 L 588.62 262.35 L 589.12 263.58 L 589.62 264 L 590.12 264.44 L 590.62 264.9 L 591.12 265.07 L 591.62 265.07 L 592.12 266.61 L 592.62 266.38 L 593.12 267.06 L 593.62 267.38 L 594.12 267.33 L 594.62 267.81 L 595.12 270.04 L 595.62 270.42 L 596.12 270.54 L 596.62 269.67 L 597.12 269.53 L 597.62 271.71 L 598.12 271.9 L 598.62 271.52 L 599.12 272.32 L 599.62 271.77 L 600.12 271.9 L 600.62 272.66 L 601.12 272.58 L 601.63 272.86 L 602.13 273.96 L 602.63 275.3 L 603.13 274.57 L 603.63 274.8 L 604.13 274.99 L 604.63 275.6 L 605.13 276.97 L 605.63 276.98 L 606.13 277.82 L 606.63 276.51 L 607.13 277.79 L 607.63 278.23 L 608.13 279.21 L 608.63 279.11 L 609.13 279.27 L 609.63 279.54 L 610.13 278.98 L 610.63 280.46 L 611.13 280.11 L 611.63 280.65 L 612.13 281.05 L 612.63 282.21 L 613.13 282.35 L 613.63 281.73 L 614.13 283.1 L 614.63 282.86 L 615.13 282.76 L 615.63 283.24 L 616.13 284.06 L 616.63 284.27 L 617.13 283.29 L 617.63 284.9 L 618.13 285.03 L 618.63 286.19 L 619.13 289.02 L 619.63 289.79 L 620.14 287.81 L 620.64 286.76 L 621.14 287.04 L 621.64 289.31 L 622.14 289.44 L 622.64 278.27" clip-path="url(#p0796a7d0fc)" style="fill: none; stroke: #d62728; stroke-width: 2.12; stroke-linecap: square"/>
   </g>
   <g id="line2d_35">
    <path d="M 115.36 129.13 L 115.86 298.43 L 116.36 297.43 L 116.86 300.5 L 117.36 298.87 L 117.86 296.91 L 118.37 299.63 L 118.87 300.3 L 119.37 303.89 L 119.87 305.05 L 120.37 309.34 L 120.87 306.47 L 121.37 300.99 L 121.87 298.85 L 122.37 301.67 L 122.87 304.8 L 123.37 301.65 L 123.87 298.6 L 124.37 300.75 L 124.87 299.34 L 125.37 302.25 L 125.87 305.36 L 126.37 305.4 L 126.87 300.85 L 127.37 296.22 L 127.87 298.42 L 128.37 301.09 L 128.87 300.71 L 129.37 300.88 L 129.87 301.98 L 130.37 301.76 L 130.87 300.47 L 131.37 298.31 L 131.87 296.51 L 132.37 296.52 L 132.87 299.36 L 133.37 299.24 L 133.87 301.28 L 134.37 302.62 L 134.87 298.76 L 135.37 297.52 L 135.87 297.78 L 136.37 295.97 L 136.88 295.31 L 137.38 295.57 L 137.88 297.93 L 138.38 298.47 L 138.88 292.87 L 139.38 295.38 L 139.88 293.3 L 140.38 292.35 L 140.88 292.81 L 141.38 290.27 L 141.88 290.94 L 142.38 291.7 L 142.88 292.68 L 143.38 293.38 L 143.88 293.91 L 144.38 290.9 L 144.88 292.73 L 145.38 292.61 L 145.88 291.75 L 146.38 293.32 L 146.88 293.01 L 147.38 294.85 L 147.88 294.83 L 148.38 292.1 L 148.88 294.73 L 149.38 293.24 L 149.88 292.47 L 150.38 294.44 L 150.88 297.59 L 151.38 297.73 L 151.88 297.68 L 152.38 296.89 L 152.88 293.96 L 153.38 296.02 L 153.88 297.24 L 154.38 295.65 L 154.88 295.36 L 155.39 298.14 L 155.89 294.1 L 156.39 293.63 L 156.89 294.87 L 157.39 294.22 L 157.89 297.26 L 158.39 295.87 L 158.89 294.21 L 159.39 294 L 159.89 292.56 L 160.39 295 L 160.89 296.21 L 161.39 294.62 L 161.89 293.47 L 162.39 294.33 L 162.89 294.77 L 163.39 294.98 L 163.89 294.58 L 164.39 293.93 L 164.89 295.59 L 165.39 294.43 L 165.89 292.41 L 166.39 294.43 L 166.89 293.8 L 167.39 291.68 L 167.89 293.52 L 168.39 291.98 L 168.89 292.76 L 169.39 291.98 L 169.89 295.71 L 170.39 296.06 L 170.89 292.28 L 171.39 289.53 L 171.89 289.26 L 172.39 293.64 L 172.89 292.9 L 173.39 294.21 L 173.9 295.77 L 174.4 292.31 L 174.9 291.55 L 175.4 290.24 L 175.9 290.87 L 176.4 292.84 L 176.9 293.85 L 177.4 291.88 L 177.9 291.73 L 178.4 290.77 L 178.9 287.83 L 179.4 290.04 L 179.9 292.92 L 180.4 291.62 L 180.9 290.06 L 181.4 290.21 L 181.9 292.13 L 182.4 292.45 L 182.9 293.41 L 183.4 292.95 L 183.9 292.58 L 184.4 290.71 L 184.9 291.3 L 185.4 288.78 L 185.9 289.9 L 186.4 292.02 L 186.9 290.94 L 187.4 288.9 L 187.9 293.1 L 188.4 290.57 L 188.9 286.44 L 189.4 288.81 L 189.9 291.98 L 190.4 290.87 L 190.9 289.65 L 191.4 286.69 L 191.9 290.87 L 192.41 291.74 L 192.91 292.19 L 193.41 295.21 L 193.91 297.92 L 194.41 291.92 L 194.91 290.54 L 195.41 290.4 L 195.91 289.61 L 196.41 288.67 L 196.91 290.96 L 197.41 292.7 L 197.91 289.02 L 198.41 288.18 L 198.91 288.63 L 199.41 290.06 L 199.91 290.88 L 200.41 291.28 L 200.91 289.88 L 201.41 289.31 L 201.91 290.73 L 202.41 290.37 L 202.91 290.26 L 203.41 289.67 L 203.91 291.09 L 204.41 288.84 L 204.91 287.12 L 205.41 288.5 L 205.91 291.24 L 206.41 291.64 L 206.91 289.29 L 207.41 290.31 L 207.91 288.59 L 208.41 288.58 L 208.91 288.92 L 209.41 291.28 L 209.91 292.05 L 210.41 291.48 L 210.92 289.95 L 211.42 291.31 L 211.92 289.96 L 212.42 294.33 L 212.92 292.7 L 213.42 291.03 L 213.92 293.78 L 214.42 292.57 L 214.92 292.67 L 215.42 290.89 L 215.92 290.37 L 216.42 289.01 L 216.92 290.96 L 217.42 293.07 L 217.92 290.18 L 218.42 288.64 L 218.92 289.19 L 219.42 288.17 L 219.92 287.79 L 220.42 289.32 L 220.92 290.02 L 221.42 290.66 L 221.92 290.16 L 222.42 287.19 L 222.92 288.77 L 223.42 291.77 L 223.92 288.38 L 224.42 290.52 L 224.92 288.09 L 225.42 286.61 L 225.92 286.89 L 226.42 286.75 L 226.92 286.03 L 227.42 287.33 L 227.92 289.28 L 228.42 287.74 L 228.92 289 L 229.42 290.87 L 229.93 288.22 L 230.43 286 L 230.93 285.93 L 231.43 285.57 L 231.93 284.31 L 232.43 285.61 L 232.93 284.78 L 233.43 284.72 L 233.93 283.43 L 234.43 285.06 L 234.93 282.65 L 235.43 283.04 L 235.93 284.6 L 236.43 284.77 L 236.93 286.38 L 237.43 284.48 L 237.93 283.65 L 238.43 285.28 L 238.93 287.6 L 239.43 284.08 L 239.93 283.54 L 240.43 282.81 L 240.93 282.35 L 241.43 281.74 L 241.93 280.65 L 242.43 281.75 L 242.93 284.39 L 243.43 267.73 L 243.93 281.59 L 244.43 281.43 L 244.93 279.51 L 245.43 281.49 L 245.93 282.33 L 246.43 281.81 L 246.93 283.31 L 247.43 280.62 L 247.93 281.39 L 248.44 279.97 L 248.94 279.83 L 249.44 280.42 L 249.94 281.68 L 250.44 282.01 L 250.94 282.03 L 251.44 280.12 L 251.94 280.21 L 252.44 280.19 L 252.94 279.26 L 253.44 280.1 L 253.94 281.19 L 254.44 280.31 L 254.94 280.24 L 255.44 282.26 L 255.94 282.39 L 256.44 279.44 L 256.94 278.8 L 257.44 279.06 L 257.94 280.48 L 258.44 278.15 L 258.94 278.36 L 259.44 279.82 L 259.94 278.36 L 260.44 277.1 L 260.94 279.08 L 261.44 278.21 L 261.94 279.87 L 262.44 279.19 L 262.94 278.13 L 263.44 278.88 L 263.94 278.86 L 264.44 279.1 L 264.94 279.92 L 265.44 277.23 L 265.94 278.63 L 266.44 279.14 L 266.95 279.03 L 267.45 278.64 L 267.95 278.55 L 268.45 277.89 L 268.95 277.95 L 269.45 278.34 L 269.95 279.17 L 270.45 279.85 L 270.95 279.29 L 271.45 277.94 L 271.95 279.01 L 272.45 277.61 L 272.95 277.93 L 273.45 277.42 L 273.95 277.98 L 274.45 277.64 L 274.95 278.81 L 275.45 278.99 L 275.95 277.44 L 276.45 278.11 L 276.95 276.68 L 277.45 277.5 L 277.95 276.85 L 278.45 278.21 L 278.95 278.53 L 279.45 275.67 L 279.95 276.54 L 280.45 275.54 L 280.95 276.66 L 281.45 278.19 L 281.95 276.6 L 282.45 275.04 L 282.95 274.6 L 283.45 274.69 L 283.95 274.84 L 284.45 275.88 L 284.95 276.25 L 285.46 275.95 L 285.96 274.81 L 286.46 274.94 L 286.96 275.47 L 287.46 275.96 L 287.96 274.8 L 288.46 275.82 L 288.96 274.16 L 289.46 275.79 L 289.96 275.61 L 290.46 275.77 L 290.96 276.29 L 291.46 275.9 L 291.96 275.58 L 292.46 277.02 L 292.96 273.18 L 293.46 274.87 L 293.96 274.71 L 294.46 275.4 L 294.96 274.94 L 295.46 274.62 L 295.96 275.66 L 296.46 276.09 L 296.96 275.29 L 297.46 276.45 L 297.96 275.78 L 298.46 275.49 L 298.96 275.42 L 299.46 275.23 L 299.96 273.29 L 300.46 273.65 L 300.96 274.87 L 301.46 275.14 L 301.96 274.18 L 302.46 275.68 L 302.96 275.32 L 303.46 275.04 L 303.97 274.67 L 304.47 273.43 L 304.97 273.32 L 305.47 273.95 L 305.97 274.18 L 306.47 273.76 L 306.97 274.28 L 307.47 275.16 L 307.97 274.27 L 308.47 273.61 L 308.97 273.55 L 309.47 274.47 L 309.97 275.62 L 310.47 275.2 L 310.97 276.76 L 311.47 275.56 L 311.97 274.54 L 312.47 274.39 L 312.97 276.19 L 313.47 273.63 L 313.97 273.99 L 314.47 275.64 L 314.97 274.36 L 315.47 273.19 L 315.97 273.96 L 316.47 272.76 L 316.97 274.34 L 317.47 274.32 L 317.97 274.61 L 318.47 274.77 L 318.97 274.46 L 319.47 273.47 L 319.97 274.63 L 320.47 274.54 L 320.97 273.12 L 321.47 274.18 L 321.97 275.65 L 322.47 274.61 L 322.98 274.01 L 323.48 273.47 L 323.98 273.36 L 324.48 272.22 L 324.98 273.84 L 325.48 274.35 L 325.98 273.75 L 326.48 272.61 L 326.98 272.39 L 327.48 274.08 L 327.98 273.41 L 328.48 274.26 L 328.98 275.21 L 329.48 274.74 L 329.98 274.26 L 330.48 273.54 L 330.98 273.66 L 331.48 273.36 L 331.98 273.62 L 332.48 273.76 L 332.98 274.55 L 333.48 274.03 L 333.98 273.76 L 334.48 274.91 L 334.98 273.1 L 335.48 273.55 L 335.98 274.11 L 336.48 272.77 L 336.98 274.6 L 337.48 275.4 L 337.98 275.28 L 338.48 274.82 L 338.98 272.75 L 339.48 273.87 L 339.98 274.15 L 340.48 273.21 L 340.98 273.43 L 341.49 274.13 L 341.99 274.52 L 342.49 274.43 L 342.99 273.7 L 343.49 273.69 L 343.99 273.09 L 344.49 273.89 L 344.99 274.01 L 345.49 274.25 L 345.99 272.32 L 346.49 273.95 L 346.99 273.56 L 347.49 273.38 L 347.99 273.96 L 348.49 274.12 L 348.99 273.79 L 349.49 274.4 L 349.99 274.74 L 350.49 274.16 L 350.99 275.13 L 351.49 276.03 L 351.99 275.99 L 352.49 275.92 L 352.99 275.68 L 353.49 275.12 L 353.99 274.62 L 354.49 275.66 L 354.99 274.72 L 355.49 274.22 L 355.99 273.45 L 356.49 273.97 L 356.99 273.85 L 357.49 273.67 L 357.99 275.09 L 358.49 275.1 L 358.99 275.5 L 359.49 275.17 L 360 275.11 L 360.5 276.7 L 361 274.51 L 361.5 274.57 L 362 274.83 L 362.5 274.58 L 363 275.72 L 363.5 275.97 L 364 275.42 L 364.5 275.49 L 365 275.75 L 365.5 276.15 L 366 276.39 L 366.5 276.42 L 367 276.78 L 367.5 275.87 L 368 275.24 L 368.5 275.26 L 369 271.92 L 369.5 275.02 L 370 276.46 L 370.5 274.87 L 371 276.04 L 371.5 209.52 L 372 274.95 L 372.5 274.87 L 373 274.77 L 373.5 274.88 L 374 275.09 L 374.5 274.47 L 375 274.45 L 375.5 275.86 L 376 275.67 L 376.5 276.58 L 377 275.09 L 377.5 274.86 L 378 273.92 L 378.51 275.82 L 379.01 274.38 L 379.51 277.51 L 380.01 277.63 L 380.51 278.16 L 381.01 276.22 L 381.51 275.69 L 382.01 277.02 L 382.51 276.61 L 383.01 277.24 L 383.51 277.05 L 384.01 277.28 L 384.51 274.9 L 385.01 275.63 L 385.51 276.07 L 386.01 277.71 L 386.51 276.74 L 387.01 276.2 L 387.51 274.67 L 388.01 277.09 L 388.51 277.7 L 389.01 277.97 L 389.51 277.36 L 390.01 277.5 L 390.51 277.21 L 391.01 276.42 L 391.51 277.78 L 392.01 277.85 L 392.51 278.67 L 393.01 279.06 L 393.51 279.25 L 394.01 277.02 L 394.51 276.42 L 395.01 278.75 L 395.51 278.42 L 396.01 277.68 L 396.51 278.56 L 397.02 279.48 L 397.52 280 L 398.02 282.89 L 398.52 283.93 L 399.02 284.37 L 399.52 285.46 L 400.02 286.52 L 400.52 284.68 L 401.02 281.37 L 401.52 279.75 L 402.02 277.48 L 402.52 277.47 L 403.02 279.9 L 403.52 279.54 L 404.02 276.78 L 404.52 276.39 L 405.02 276.94 L 405.52 278.46 L 406.02 276.19 L 406.52 275.86 L 407.02 276.58 L 407.52 277.49 L 408.02 275.91 L 408.52 275.17 L 409.02 275.51 L 409.52 275.57 L 410.02 274.79 L 410.52 275.27 L 411.02 275.54 L 411.52 275.32 L 412.02 274.41 L 412.52 272.98 L 413.02 275.48 L 413.52 274.99 L 414.02 275.58 L 414.52 274.19 L 415.02 275.5 L 415.53 275.96 L 416.03 273.48 L 416.53 274.09 L 417.03 275.16 L 417.53 275.28 L 418.03 274.92 L 418.53 274.48 L 419.03 273.61 L 419.53 273.34 L 420.03 273.03 L 420.53 272.92 L 421.03 273.61 L 421.53 272.54 L 422.03 272.51 L 422.53 272.8 L 423.03 271.73 L 423.53 272.58 L 424.03 271.28 L 424.53 271.27 L 425.03 272.86 L 425.53 271 L 426.03 271.07 L 426.53 273.41 L 427.03 274.26 L 427.53 272.99 L 428.03 272.74 L 428.53 272.02 L 429.03 271.72 L 429.53 272.97 L 430.03 272 L 430.53 272.05 L 431.03 272.69 L 431.53 272.01 L 432.03 271.58 L 432.53 272.95 L 433.03 273.3 L 433.53 272.49 L 434.03 270.86 L 434.54 271.05 L 435.04 271.39 L 435.54 272.08 L 436.04 272.49 L 436.54 271.32 L 437.04 271.64 L 437.54 271.51 L 438.04 271.46 L 438.54 271.49 L 439.04 270.41 L 439.54 270.82 L 440.04 270.47 L 440.54 271.59 L 441.04 270.72 L 441.54 272.13 L 442.04 272.71 L 442.54 272.27 L 443.04 270.42 L 443.54 269.64 L 444.04 271.74 L 444.54 271.59 L 445.04 271.55 L 445.54 271.06 L 446.04 270.19 L 446.54 270.79 L 447.04 270.74 L 447.54 270.81 L 448.04 270.36 L 448.54 269.91 L 449.04 270.37 L 449.54 269.64 L 450.04 269.5 L 450.54 271.27 L 451.04 269.4 L 451.54 268.34 L 452.04 269.69 L 452.54 267.99 L 453.05 268.85 L 453.55 268.65 L 454.05 269.35 L 454.55 270.34 L 455.05 269.8 L 455.55 268.03 L 456.05 269.8 L 456.55 268.76 L 457.05 267.51 L 457.55 268.47 L 458.05 269.2 L 458.55 270.55 L 459.05 270.27 L 459.55 269.96 L 460.05 270.07 L 460.55 269.12 L 461.05 268.34 L 461.55 269.52 L 462.05 268.76 L 462.55 268.4 L 463.05 268.05 L 463.55 268.41 L 464.05 268.56 L 464.55 267.46 L 465.05 268.23 L 465.55 268.86 L 466.05 267.78 L 466.55 266.86 L 467.05 267.09 L 467.55 267.97 L 468.05 266.36 L 468.55 267.21 L 469.05 267.36 L 469.55 267.37 L 470.05 267.28 L 470.55 266.64 L 471.05 267.33 L 471.56 266.58 L 472.06 266.98 L 472.56 267.41 L 473.06 266.96 L 473.56 266.73 L 474.06 267.76 L 474.56 266.52 L 475.06 265.54 L 475.56 265.42 L 476.06 266.84 L 476.56 266.8 L 477.06 265.65 L 477.56 264.46 L 478.06 265.74 L 478.56 265.97 L 479.06 265.17 L 479.56 265.61 L 480.06 265.71 L 480.56 265.45 L 481.06 264.81 L 481.56 264.12 L 482.06 264.7 L 482.56 264.8 L 483.06 264.23 L 483.56 265.28 L 484.06 264.62 L 484.56 265.44 L 485.06 264.13 L 485.56 263.67 L 486.06 263.52 L 486.56 264.32 L 487.06 263.46 L 487.56 262.55 L 488.06 264.35 L 488.56 264.89 L 489.06 264.59 L 489.56 265.21 L 490.07 266.61 L 490.57 264.63 L 491.07 264.54 L 491.57 265.43 L 492.07 264.95 L 492.57 265.08 L 493.07 266.31 L 493.57 264.61 L 494.07 263.47 L 494.57 263.83 L 495.07 265.49 L 495.57 266.63 L 496.07 265.12 L 496.57 265.44 L 497.07 266.57 L 497.57 264.85 L 498.07 264.61 L 498.57 264.81 L 499.07 273.28 L 499.57 264.96 L 500.07 273.28 L 500.57 265.41 L 501.07 264.67 L 501.57 265.19 L 502.07 264.94 L 502.57 264.36 L 503.07 264.78 L 503.57 264.74 L 504.07 263.58 L 504.57 263.34 L 505.07 263.42 L 505.57 263.85 L 506.07 263.2 L 506.57 263.39 L 507.07 263.46 L 507.57 263.77 L 508.07 265.07 L 508.58 264.51 L 509.08 263.06 L 509.58 263.79 L 510.08 263.96 L 510.58 262.56 L 511.08 263.59 L 511.58 263.14 L 512.08 263.58 L 512.58 263.91 L 513.08 264.56 L 513.58 263.51 L 514.08 264.42 L 514.58 264.22 L 515.08 263.72 L 515.58 264.4 L 516.08 263.06 L 516.58 263.62 L 517.08 263.35 L 517.58 263.82 L 518.08 263.9 L 518.58 263.55 L 519.08 263.19 L 519.58 263.29 L 520.08 263.17 L 520.58 263.09 L 521.08 263.03 L 521.58 263.35 L 522.08 263.08 L 522.58 263.4 L 523.08 262.88 L 523.58 263.18 L 524.08 263.89 L 524.58 264.64 L 525.08 263.02 L 525.58 262.5 L 526.08 264.16 L 526.58 264.85 L 527.08 263.81 L 527.59 263.4 L 528.09 262.91 L 528.59 263.44 L 529.09 264.45 L 529.59 263.34 L 530.09 263.53 L 530.59 263.71 L 531.09 263.2 L 531.59 263.08 L 532.09 263.27 L 532.59 262.79 L 533.09 264.6 L 533.59 264.2 L 534.09 263.21 L 534.59 261.76 L 535.09 263.07 L 535.59 263.57 L 536.09 263.71 L 536.59 263.73 L 537.09 264.46 L 537.59 264.35 L 538.09 263.28 L 538.59 264.48 L 539.09 264.37 L 539.59 263.81 L 540.09 263.45 L 540.59 263.32 L 541.09 264.28 L 541.59 264.66 L 542.09 264.87 L 542.59 264.3 L 543.09 263.72 L 543.59 263.18 L 544.09 263.13 L 544.59 263.92 L 545.09 263.57 L 545.59 263.28 L 546.1 262.98 L 546.6 263.28 L 547.1 263.85 L 547.6 263.98 L 548.1 264.2 L 548.6 264.2 L 549.1 263.61 L 549.6 263.1 L 550.1 261.81 L 550.6 262.96 L 551.1 262.25 L 551.6 263.03 L 552.1 264.49 L 552.6 264.2 L 553.1 264.15 L 553.6 263.25 L 554.1 264.21 L 554.6 263.34 L 555.1 262.85 L 555.6 263.67 L 556.1 263.45 L 556.6 265.23 L 557.1 263.39 L 557.6 264.62 L 558.1 265.49 L 558.6 264.07 L 559.1 264.19 L 559.6 265.15 L 560.1 266.37 L 560.6 264.95 L 561.1 266.32 L 561.6 266.32 L 562.1 264.45 L 562.6 264.47 L 563.1 265.33 L 563.6 265.01 L 564.1 265.87 L 564.61 266.24 L 565.11 265.46 L 565.61 266.03 L 566.11 266.92 L 566.61 266.56 L 567.11 266.81 L 567.61 265.98 L 568.11 264.99 L 568.61 265.04 L 569.11 266.78 L 569.61 266.46 L 570.11 266.15 L 570.61 267.11 L 571.11 266.73 L 571.61 268.35 L 572.11 267.97 L 572.61 268.36 L 573.11 268.9 L 573.61 267.48 L 574.11 268.35 L 574.61 269.47 L 575.11 268.38 L 575.61 268.54 L 576.11 268.12 L 576.61 267.63 L 577.11 268.32 L 577.61 269.79 L 578.11 270.89 L 578.61 269.21 L 579.11 270.19 L 579.61 272.06 L 580.11 271.08 L 580.61 271.25 L 581.11 272.35 L 581.61 272.07 L 582.11 270.61 L 582.61 273.31 L 583.12 273.37 L 583.62 273.39 L 584.12 274.38 L 584.62 274.64 L 585.12 274.63 L 585.62 272.88 L 586.12 274.12 L 586.62 276.19 L 587.12 277.33 L 587.62 276.32 L 588.12 277.83 L 588.62 278.14 L 589.12 278.38 L 589.62 277.95 L 590.12 278.4 L 590.62 279.05 L 591.12 279.5 L 591.62 277.72 L 592.12 279.33 L 592.62 282.18 L 593.12 282.98 L 593.62 282.37 L 594.12 284.1 L 594.62 283.55 L 595.12 281.41 L 595.62 283 L 596.12 284.19 L 596.62 283.41 L 597.12 284.71 L 597.62 284.55 L 598.12 285.64 L 598.62 283.77 L 599.12 285.05 L 599.62 283.96 L 600.12 285.61 L 600.62 285.4 L 601.12 286.49 L 601.63 285.66 L 602.13 288.6 L 602.63 290.55 L 603.13 291.43 L 603.63 290.37 L 604.13 288.22 L 604.63 289 L 605.13 289.05 L 605.63 288.01 L 606.13 287.84 L 606.63 291.68 L 607.13 289.19 L 607.63 287.53 L 608.13 291.53 L 608.63 292.81 L 609.13 291.55 L 609.63 292.08 L 610.13 293.19 L 610.63 293.14 L 611.13 289.43 L 611.63 290.55 L 612.13 294.82 L 612.63 297.67 L 613.13 295.16 L 613.63 293.19 L 614.13 294.22 L 614.63 295.15 L 615.13 293.15 L 615.63 294.3 L 616.13 294.91 L 616.63 293.14 L 617.13 290.93 L 617.63 292.18 L 618.13 292.77 L 618.63 292.87 L 619.13 291.78 L 619.63 296.13 L 620.14 296.91 L 620.64 294.12 L 621.14 290 L 621.64 290.63 L 622.14 295.62 L 622.64 291.29" clip-path="url(#p0796a7d0fc)" style="fill: none; stroke: #9467bd; stroke-width: 2.12; stroke-linecap: square"/>
   </g>
   <g id="line2d_36">
    <path d="M 115.36 131.9 L 115.86 311.12 L 116.36 313.34 L 116.86 313.46 L 117.36 311.75 L 117.86 310.5 L 118.37 312.55 L 118.87 312.7 L 119.37 315.68 L 119.87 312.86 L 120.37 310.49 L 120.87 312.12 L 121.37 313.13 L 121.87 315.9 L 122.37 310.55 L 122.87 315.04 L 123.37 312.21 L 123.87 312.07 L 124.37 310.27 L 124.87 309.7 L 125.37 315.55 L 125.87 327.77 L 126.37 322.69 L 126.87 318.63 L 127.37 316.59 L 127.87 310.91 L 128.37 307.08 L 128.87 309.29 L 129.37 312.15 L 129.87 308.64 L 130.37 311.97 L 130.87 309.9 L 131.37 312.76 L 131.87 318.39 L 132.37 310 L 132.87 307.86 L 133.37 311.12 L 133.87 310.93 L 134.37 310.29 L 134.87 313.5 L 135.37 313.98 L 135.87 311.13 L 136.37 314 L 136.88 312.81 L 137.38 309.71 L 137.88 309.16 L 138.38 308.15 L 138.88 314.18 L 139.38 315.96 L 139.88 310.99 L 140.38 317.12 L 140.88 314.75 L 141.38 312.64 L 141.88 308.86 L 142.38 312.26 L 142.88 317.24 L 143.38 313.11 L 143.88 310.59 L 144.38 319.64 L 144.88 318.59 L 145.38 311.14 L 145.88 312.87 L 146.38 316.6 L 146.88 314.27 L 147.38 313.71 L 147.88 316.5 L 148.38 314.13 L 148.88 309.36 L 149.38 310.35 L 149.88 309.97 L 150.38 310.83 L 150.88 312.52 L 151.38 313.22 L 151.88 315.57 L 152.38 312.49 L 152.88 314.01 L 153.38 314.58 L 153.88 314.97 L 154.38 315.23 L 154.88 311.19 L 155.39 315.72 L 155.89 314.37 L 156.39 316.02 L 156.89 311.72 L 157.39 313.19 L 157.89 312.33 L 158.39 310.33 L 158.89 311.37 L 159.39 310.67 L 159.89 311.52 L 160.39 312 L 160.89 314.24 L 161.39 313.49 L 161.89 313.64 L 162.39 315.34 L 162.89 313.78 L 163.39 309.87 L 163.89 314.67 L 164.39 309.13 L 164.89 312.6 L 165.39 310.7 L 165.89 312.37 L 166.39 311.83 L 166.89 309.81 L 167.39 308.57 L 167.89 311.24 L 168.39 313.32 L 168.89 312.38 L 169.39 306.72 L 169.89 306.86 L 170.39 308.94 L 170.89 311.97 L 171.39 318.08 L 171.89 314.41 L 172.39 318.55 L 172.89 314.94 L 173.39 310.62 L 173.9 314.64 L 174.4 316.52 L 174.9 319.81 L 175.4 311.61 L 175.9 312.03 L 176.4 314.16 L 176.9 313.49 L 177.4 319.05 L 177.9 318 L 178.4 312.99 L 178.9 310.21 L 179.4 313.96 L 179.9 317.89 L 180.4 315.19 L 180.9 311.12 L 181.4 314.55 L 181.9 313.31 L 182.4 312.77 L 182.9 315.54 L 183.4 316.5 L 183.9 321.04 L 184.4 317.38 L 184.9 314.12 L 185.4 311.8 L 185.9 310.05 L 186.4 314.38 L 186.9 312.94 L 187.4 314.79 L 187.9 316.13 L 188.4 315.92 L 188.9 314.45 L 189.4 314.27 L 189.9 313.47 L 190.4 307.02 L 190.9 310.99 L 191.4 311.57 L 191.9 311.78 L 192.41 307.92 L 192.91 320.27 L 193.41 316.39 L 193.91 312.55 L 194.41 310.38 L 194.91 312.86 L 195.41 315.54 L 195.91 308.82 L 196.41 310.7 L 196.91 314.95 L 197.41 314.34 L 197.91 314.54 L 198.41 314.03 L 198.91 319.46 L 199.41 315.67 L 199.91 316.22 L 200.41 312.33 L 200.91 313.26 L 201.41 315.32 L 201.91 310.53 L 202.41 311.27 L 202.91 316.94 L 203.41 317.84 L 203.91 315.8 L 204.41 311.79 L 204.91 310.51 L 205.41 315.93 L 205.91 316.78 L 206.41 312.7 L 206.91 313.79 L 207.41 314.69 L 207.91 314.99 L 208.41 313.58 L 208.91 308.37 L 209.41 309.87 L 209.91 313.63 L 210.41 309.92 L 210.92 307.41 L 211.42 310.81 L 211.92 313.29 L 212.42 314.96 L 212.92 314.07 L 213.42 312.95 L 213.92 311.1 L 214.42 315.84 L 214.92 320.03 L 215.42 316.6 L 215.92 315.42 L 216.42 320.79 L 216.92 317.32 L 217.42 317.99 L 217.92 318.07 L 218.42 313.62 L 218.92 311.59 L 219.42 316.54 L 219.92 313.42 L 220.42 313.77 L 220.92 311.74 L 221.42 313.65 L 221.92 314.88 L 222.42 311.07 L 222.92 311.93 L 223.42 317.53 L 223.92 321.37 L 224.42 316.51 L 224.92 311.92 L 225.42 311 L 225.92 314.43 L 226.42 315.48 L 226.92 320.02 L 227.42 315.27 L 227.92 312.62 L 228.42 315.21 L 228.92 315.35 L 229.42 318.51 L 229.93 317.41 L 230.43 314.43 L 230.93 319.43 L 231.43 313.47 L 231.93 310.89 L 232.43 315.11 L 232.93 316.92 L 233.43 317.82 L 233.93 319.47 L 234.43 318.13 L 234.93 317.83 L 235.43 316.39 L 235.93 317.52 L 236.43 318.86 L 236.93 314.1 L 237.43 310.82 L 237.93 311.35 L 238.43 314.01 L 238.93 314.33 L 239.43 317.54 L 239.93 314.1 L 240.43 310.62 L 240.93 309.59 L 241.43 310.78 L 241.93 316.21 L 242.43 310.3 L 242.93 310.5 L 243.43 273.28 L 243.93 311.61 L 244.43 310.13 L 244.93 313.52 L 245.43 317.44 L 245.93 314.26 L 246.43 315.1 L 246.93 314.2 L 247.43 311.36 L 247.93 310.42 L 248.44 311.36 L 248.94 313.35 L 249.44 317.57 L 249.94 313.43 L 250.44 318.35 L 250.94 317.2 L 251.44 318.87 L 251.94 320.86 L 252.44 315.64 L 252.94 320.3 L 253.44 318.19 L 253.94 314.19 L 254.44 325.34 L 254.94 324.27 L 255.44 314.1 L 255.94 315.37 L 256.44 313.5 L 256.94 315.16 L 257.44 316.52 L 257.94 314 L 258.44 317.25 L 258.94 317.57 L 259.44 315.75 L 259.94 319.04 L 260.44 320.16 L 260.94 318.84 L 261.44 309.64 L 261.94 305.41 L 262.44 307.29 L 262.94 311.55 L 263.44 313.09 L 263.94 313.9 L 264.44 311.29 L 264.94 307.71 L 265.44 310.65 L 265.94 314.2 L 266.44 321.97 L 266.95 313.26 L 267.45 314.74 L 267.95 313.26 L 268.45 310.36 L 268.95 310.37 L 269.45 308.56 L 269.95 308.34 L 270.45 319.29 L 270.95 316.23 L 271.45 307.73 L 271.95 309.67 L 272.45 312.99 L 272.95 312.04 L 273.45 311.05 L 273.95 308.68 L 274.45 311.32 L 274.95 311.2 L 275.45 311.57 L 275.95 308.03 L 276.45 309.09 L 276.95 311.65 L 277.45 314.36 L 277.95 310.65 L 278.45 306.97 L 278.95 303.72 L 279.45 305.43 L 279.95 310.92 L 280.45 312.86 L 280.95 313.76 L 281.45 311.05 L 281.95 311.9 L 282.45 310.44 L 282.95 309.61 L 283.45 310.7 L 283.95 312.61 L 284.45 308.86 L 284.95 311.91 L 285.46 314.8 L 285.96 312.24 L 286.46 311.32 L 286.96 310.54 L 287.46 308.46 L 287.96 306.51 L 288.46 304.95 L 288.96 309.55 L 289.46 309.86 L 289.96 316.79 L 290.46 308.79 L 290.96 309.34 L 291.46 308.54 L 291.96 310.67 L 292.46 310.65 L 292.96 309.98 L 293.46 313.29 L 293.96 315.89 L 294.46 320.83 L 294.96 310.95 L 295.46 310.8 L 295.96 311.3 L 296.46 308.58 L 296.96 310.07 L 297.46 312.19 L 297.96 317.21 L 298.46 312.39 L 298.96 311.76 L 299.46 309.63 L 299.96 312.53 L 300.46 316.94 L 300.96 312.58 L 301.46 307.99 L 301.96 312.06 L 302.46 308.91 L 302.96 313.09 L 303.46 317.74 L 303.97 309.9 L 304.47 305.24 L 304.97 308.83 L 305.47 315.3 L 305.97 313.93 L 306.47 312.69 L 306.97 305.49 L 307.47 311.25 L 307.97 319.65 L 308.47 311.69 L 308.97 311.88 L 309.47 315.94 L 309.97 315.98 L 310.47 312.55 L 310.97 309.31 L 311.47 314.91 L 311.97 315.61 L 312.47 311.39 L 312.97 314.43 L 313.47 317.64 L 313.97 314.75 L 314.47 311.8 L 314.97 313.23 L 315.47 313.99 L 315.97 308.39 L 316.47 309.74 L 316.97 318.48 L 317.47 320.51 L 317.97 319.13 L 318.47 315.45 L 318.97 314.84 L 319.47 314.31 L 319.97 314.25 L 320.47 313.62 L 320.97 321.3 L 321.47 324.09 L 321.97 315.15 L 322.47 311.19 L 322.98 314.02 L 323.48 315.34 L 323.98 313.74 L 324.48 316.62 L 324.98 321.65 L 325.48 317.58 L 325.98 313.5 L 326.48 313.4 L 326.98 312.28 L 327.48 316.9 L 327.98 314.12 L 328.48 312.98 L 328.98 317.28 L 329.48 319.23 L 329.98 314.2 L 330.48 317.14 L 330.98 324.45 L 331.48 321.26 L 331.98 315.06 L 332.48 315.46 L 332.98 312.91 L 333.48 316.17 L 333.98 318.16 L 334.48 317.81 L 334.98 322.02 L 335.48 317.95 L 335.98 320.06 L 336.48 321.49 L 336.98 321.6 L 337.48 325.79 L 337.98 328.71 L 338.48 329.76 L 338.98 322.72 L 339.48 322.1 L 339.98 322.79 L 340.48 322.4 L 340.98 328.62 L 341.49 326.15 L 341.99 320.13 L 342.49 327.38 L 342.99 321.55 L 343.49 325.22 L 343.99 323.38 L 344.49 324.41 L 344.99 326.15 L 345.49 324.65 L 345.99 320.58 L 346.49 329.5 L 346.99 330.25 L 347.49 319.37 L 347.99 324.18 L 348.49 326.39 L 348.99 325.63 L 349.49 330.67 L 349.99 336 L 350.49 328.01 L 350.99 328.8 L 351.49 334.66 L 351.99 329.4 L 352.49 322.65 L 352.99 318.33 L 353.49 324.98 L 353.99 319.79 L 354.49 324.57 L 354.99 323.23 L 355.49 324.22 L 355.99 320.88 L 356.49 321.94 L 356.99 325.94 L 357.49 331.53 L 357.99 323.52 L 358.49 328.35 L 358.99 325.08 L 359.49 316.69 L 360 320.94 L 360.5 323.45 L 361 324.04 L 361.5 323.41 L 362 325 L 362.5 323.96 L 363 325.16 L 363.5 326.22 L 364 323.24 L 364.5 321.92 L 365 322.48 L 365.5 317.2 L 366 315.47 L 366.5 316.95 L 367 324.18 L 367.5 330.84 L 368 321.75 L 368.5 322.93 L 369 323.03 L 369.5 326.19 L 370 324.16 L 370.5 331.7 L 371 326.75 L 371.5 215.06 L 372 319.78 L 372.5 327.45 L 373 339.31 L 373.5 322.77 L 374 318.92 L 374.5 321.01 L 375 330.65 L 375.5 323.32 L 376 321 L 376.5 325.52 L 377 325.55 L 377.5 327.29 L 378 327.56 L 378.51 322.25 L 379.01 327.05 L 379.51 327.22 L 380.01 323.53 L 380.51 325.03 L 381.01 324.26 L 381.51 335.89 L 382.01 325.05 L 382.51 332.51 L 383.01 328.19 L 383.51 328.28 L 384.01 324.35 L 384.51 327.82 L 385.01 328.37 L 385.51 321.24 L 386.01 317.73 L 386.51 327.39 L 387.01 331.47 L 387.51 332.92 L 388.01 336.72 L 388.51 336.31 L 389.01 329.39 L 389.51 323.29 L 390.01 328.52 L 390.51 329.81 L 391.01 329.63 L 391.51 325.94 L 392.01 314.88 L 392.51 318.05 L 393.01 326.95 L 393.51 339.54 L 394.01 334.38 L 394.51 332.35 L 395.01 337.23 L 395.51 344.97 L 396.01 333.97 L 396.51 332.1 L 397.02 334.48 L 397.52 334.81 L 398.02 327.37 L 398.52 334.68 L 399.02 348.22 L 399.52 335.88 L 400.02 322.97 L 400.52 321.89 L 401.02 332.47 L 401.52 328.51 L 402.02 321.38 L 402.52 322.59 L 403.02 328.59 L 403.52 326.64 L 404.02 332.35 L 404.52 338.05 L 405.02 325.08 L 405.52 326.33 L 406.02 325.76 L 406.52 329.23 L 407.02 333.92 L 407.52 332.52 L 408.02 329.54 L 408.52 332.98 L 409.02 319.83 L 409.52 318.09 L 410.02 337.94 L 410.52 326.1 L 411.02 328.15 L 411.52 325.41 L 412.02 325.37 L 412.52 328.13 L 413.02 323.55 L 413.52 324.18 L 414.02 320.22 L 414.52 326.82 L 415.02 337.06 L 415.53 328.96 L 416.03 327.33 L 416.53 331.84 L 417.03 330.98 L 417.53 319.02 L 418.03 325.49 L 418.53 329.65 L 419.03 334.08 L 419.53 327.24 L 420.03 325.81 L 420.53 320.86 L 421.03 318.99 L 421.53 328.83 L 422.03 330.47 L 422.53 321.86 L 423.03 320.4 L 423.53 323.29 L 424.03 323.99 L 424.53 327.94 L 425.03 327.85 L 425.53 330.05 L 426.03 337.48 L 426.53 326.36 L 427.03 323.38 L 427.53 332.93 L 428.03 330.94 L 428.53 324.73 L 429.03 320.77 L 429.53 325.52 L 430.03 329.78 L 430.53 326.16 L 431.03 327.64 L 431.53 334.35 L 432.03 331.83 L 432.53 329.01 L 433.03 325.18 L 433.53 334.88 L 434.03 334.9 L 434.54 328.64 L 435.04 323.8 L 435.54 317.12 L 436.04 324.51 L 436.54 319.21 L 437.04 321.57 L 437.54 318.75 L 438.04 317.19 L 438.54 323.08 L 439.04 331.33 L 439.54 327.74 L 440.04 319.31 L 440.54 315.94 L 441.04 317.6 L 441.54 316.18 L 442.04 323.37 L 442.54 330.99 L 443.04 329.82 L 443.54 325.06 L 444.04 322.12 L 444.54 324.17 L 445.04 330.03 L 445.54 324.87 L 446.04 329.51 L 446.54 324.97 L 447.04 322.89 L 447.54 323.58 L 448.04 325.66 L 448.54 330.28 L 449.04 327.45 L 449.54 323.85 L 450.04 330.99 L 450.54 341.92 L 451.04 349.33 L 451.54 333.63 L 452.04 333.17 L 452.54 330.98 L 453.05 331.01 L 453.55 332.29 L 454.05 329.37 L 454.55 324.79 L 455.05 329.77 L 455.55 332.6 L 456.05 326.04 L 456.55 325.05 L 457.05 330.46 L 457.55 325.94 L 458.05 326.54 L 458.55 327.02 L 459.05 339.11 L 459.55 328.09 L 460.05 328.05 L 460.55 321.99 L 461.05 329.54 L 461.55 331.13 L 462.05 343.71 L 462.55 328.26 L 463.05 320.38 L 463.55 324.3 L 464.05 325.28 L 464.55 323.32 L 465.05 320.97 L 465.55 331.68 L 466.05 340.32 L 466.55 334.74 L 467.05 332.49 L 467.55 327.15 L 468.05 324.22 L 468.55 331.32 L 469.05 329.47 L 469.55 323.36 L 470.05 322.5 L 470.55 329.07 L 471.05 324.82 L 471.56 328.91 L 472.06 331.21 L 472.56 330.25 L 473.06 337.04 L 473.56 346.61 L 474.06 343.56 L 474.56 331.68 L 475.06 327.83 L 475.56 325.93 L 476.06 324.55 L 476.56 333.2 L 477.06 333.1 L 477.56 340.16 L 478.06 334.43 L 478.56 326.05 L 479.06 326.27 L 479.56 319.49 L 480.06 324.03 L 480.56 332.65 L 481.06 339.94 L 481.56 337.8 L 482.06 322.34 L 482.56 319.61 L 483.06 312.8 L 483.56 316.76 L 484.06 327.14 L 484.56 340.83 L 485.06 342.76 L 485.56 335.52 L 486.06 333.48 L 486.56 339.91 L 487.06 326.71 L 487.56 323.07 L 488.06 334.94 L 488.56 336.64 L 489.06 339.24 L 489.56 329.19 L 490.07 338.01 L 490.57 338.44 L 491.07 338.13 L 491.57 340.24 L 492.07 341.49 L 492.57 325.52 L 493.07 325.73 L 493.57 337.89 L 494.07 338.88 L 494.57 329.44 L 495.07 331.26 L 495.57 332.47 L 496.07 321.95 L 496.57 321.84 L 497.07 321.27 L 497.57 354.47 L 498.07 340.94 L 498.57 326.77 L 499.07 327.41 L 499.57 276.05 L 500.07 332.7 L 500.57 327.81 L 501.07 328.36 L 501.57 320.13 L 502.07 319.06 L 502.57 324.04 L 503.07 339.23 L 503.57 326.25 L 504.07 318.1 L 504.57 316.82 L 505.07 318.79 L 505.57 320.92 L 506.07 327.47 L 506.57 319.22 L 507.07 316.91 L 507.57 322.32 L 508.07 324.51 L 508.58 327.39 L 509.08 324.45 L 509.58 327.36 L 510.08 325.5 L 510.58 328.06 L 511.08 337.72 L 511.58 330.92 L 512.08 324.57 L 512.58 322.42 L 513.08 318.45 L 513.58 318.01 L 514.08 318.42 L 514.58 323.36 L 515.08 321.26 L 515.58 327.83 L 516.08 327.69 L 516.58 321.72 L 517.08 323.21 L 517.58 327.18 L 518.08 319.84 L 518.58 315.98 L 519.08 317.59 L 519.58 316.77 L 520.08 316.94 L 520.58 318.89 L 521.08 327.41 L 521.58 334.46 L 522.08 327.95 L 522.58 343.59 L 523.08 328.42 L 523.58 323.87 L 524.08 319.66 L 524.58 321.56 L 525.08 320.85 L 525.58 321.3 L 526.08 317.25 L 526.58 312.38 L 527.08 318.36 L 527.59 319.8 L 528.09 310.54 L 528.59 311 L 529.09 312.66 L 529.59 312.86 L 530.09 310.93 L 530.59 311.21 L 531.09 308.45 L 531.59 309.81 L 532.09 309.8 L 532.59 307.5 L 533.09 307.25 L 533.59 305.22 L 534.09 307.24 L 534.59 305.46 L 535.09 302.5 L 535.59 301.38 L 536.09 298.98 L 536.59 298.97 L 537.09 297.99 L 537.59 299.61 L 538.09 295.48 L 538.59 295.52 L 539.09 295.9 L 539.59 292.05 L 540.09 292.21 L 540.59 291.34 L 541.09 291.46 L 541.59 291.64 L 542.09 290.09 L 542.59 288.37 L 543.09 287.07 L 543.59 285.83 L 544.09 286.54 L 544.59 287.74 L 545.09 289.47 L 545.59 287.62 L 546.1 286.31 L 546.6 287.86 L 547.1 285.92 L 547.6 287.54 L 548.1 287.2 L 548.6 287.75 L 549.1 288.58 L 549.6 289.95 L 550.1 285.91 L 550.6 287.56 L 551.1 285.38 L 551.6 286.92 L 552.1 285.95 L 552.6 284.11 L 553.1 285.66 L 553.6 286 L 554.1 286.84 L 554.6 285.46 L 555.1 284.86 L 555.6 284.3 L 556.1 286.85 L 556.6 285.47 L 557.1 284.51 L 557.6 283.54 L 558.1 285.29 L 558.6 283.7 L 559.1 282 L 559.6 283.6 L 560.1 282.78 L 560.6 284.95 L 561.1 285.2 L 561.6 285.1 L 562.1 285.56 L 562.6 284.84 L 563.1 285.66 L 563.6 284.62 L 564.1 285.93 L 564.61 284.94 L 565.11 284.17 L 565.61 283.57 L 566.11 285.87 L 566.61 286.07 L 567.11 285.52 L 567.61 285.59 L 568.11 285.09 L 568.61 284.07 L 569.11 286.02 L 569.61 287.78 L 570.11 285.43 L 570.61 286.11 L 571.11 287.64 L 571.61 287.99 L 572.11 286.17 L 572.61 286.64 L 573.11 287.03 L 573.61 287.27 L 574.11 287.29 L 574.61 285.86 L 575.11 286.66 L 575.61 288.69 L 576.11 289.5 L 576.61 289.63 L 577.11 289.52 L 577.61 291.5 L 578.11 289.57 L 578.61 290.08 L 579.11 292.21 L 579.61 289.14 L 580.11 289.37 L 580.61 289.7 L 581.11 290.4 L 581.61 291.02 L 582.11 290.62 L 582.61 288.97 L 583.12 288.47 L 583.62 289.9 L 584.12 291.83 L 584.62 291.32 L 585.12 291.03 L 585.62 292.25 L 586.12 292.97 L 586.62 292.83 L 587.12 291.84 L 587.62 292.71 L 588.12 293.22 L 588.62 291.88 L 589.12 291.86 L 589.62 292.34 L 590.12 294.33 L 590.62 292.83 L 591.12 294.2 L 591.62 294.81 L 592.12 295.8 L 592.62 295.74 L 593.12 294.99 L 593.62 294.05 L 594.12 293.61 L 594.62 291.97 L 595.12 292.4 L 595.62 293.37 L 596.12 294.32 L 596.62 295.57 L 597.12 295.72 L 597.62 295.18 L 598.12 296.18 L 598.62 292.77 L 599.12 292.41 L 599.62 296.23 L 600.12 293.08 L 600.62 292.26 L 601.12 292.33 L 601.63 292.8 L 602.13 292.29 L 602.63 295.1 L 603.13 295.33 L 603.63 293.48 L 604.13 295.42 L 604.63 296.82 L 605.13 294.29 L 605.63 293.75 L 606.13 295.29 L 606.63 294.61 L 607.13 294.99 L 607.63 298.18 L 608.13 298.62 L 608.63 297.29 L 609.13 296.82 L 609.63 298.74 L 610.13 298.63 L 610.63 295.08 L 611.13 293.34 L 611.63 296.6 L 612.13 293.74 L 612.63 293.69 L 613.13 293.87 L 613.63 294.25 L 614.13 295.47 L 614.63 295.09 L 615.13 298.38 L 615.63 298.09 L 616.13 295.31 L 616.63 294.73 L 617.13 299.06 L 617.63 298.94 L 618.13 295.59 L 618.63 294.87 L 619.13 295.14 L 619.63 296.42 L 620.14 297.54 L 620.64 294.93 L 621.14 294.83 L 621.64 295.2 L 622.14 292.98 L 622.64 287.14" clip-path="url(#p0796a7d0fc)" style="fill: none; stroke: #8c564b; stroke-width: 2.12; stroke-linecap: square"/>
   </g>
   <g id="line2d_37">
    <path d="M 115.36 129.13 L 115.86 318.91 L 116.36 322.93 L 116.86 319.85 L 117.36 324.13 L 117.86 323.42 L 118.37 320.59 L 118.87 328.76 L 119.37 335.61 L 119.87 326.31 L 120.37 320.65 L 120.87 322.48 L 121.37 318.6 L 121.87 319.48 L 122.37 325.46 L 122.87 325.34 L 123.37 323.86 L 123.87 320.68 L 124.37 321.67 L 124.87 322.16 L 125.37 317.75 L 125.87 320.63 L 126.37 323.48 L 126.87 325.2 L 127.37 323.13 L 127.87 317.67 L 128.37 319.66 L 128.87 322.93 L 129.37 325.41 L 129.87 329.7 L 130.37 328.48 L 130.87 320.79 L 131.37 322.88 L 131.87 322.41 L 132.37 318.83 L 132.87 323.75 L 133.37 324.7 L 133.87 317.98 L 134.37 320.66 L 134.87 329.05 L 135.37 327.75 L 135.87 329.31 L 136.37 327.92 L 136.88 329.08 L 137.38 334.65 L 137.88 328.57 L 138.38 317.88 L 138.88 324.47 L 139.38 325.79 L 139.88 322.76 L 140.38 330.85 L 140.88 325.63 L 141.38 318.93 L 141.88 321.62 L 142.38 321.45 L 142.88 324.22 L 143.38 322.47 L 143.88 320.94 L 144.38 324.39 L 144.88 324.09 L 145.38 325.6 L 145.88 332.97 L 146.38 318.6 L 146.88 314.73 L 147.38 318.5 L 147.88 321.35 L 148.38 324.18 L 148.88 321.28 L 149.38 315.01 L 149.88 317.67 L 150.38 323.53 L 150.88 319.57 L 151.38 326.48 L 151.88 328.72 L 152.38 323.39 L 152.88 321.6 L 153.38 321.91 L 153.88 319.1 L 154.38 320.1 L 154.88 318.89 L 155.39 328.64 L 155.89 322.56 L 156.39 317.39 L 156.89 318.99 L 157.39 332.81 L 157.89 329.68 L 158.39 336.17 L 158.89 325.67 L 159.39 326.12 L 159.89 321.75 L 160.39 318.77 L 160.89 319.4 L 161.39 322.74 L 161.89 317.99 L 162.39 312.77 L 162.89 320.53 L 163.39 321.99 L 163.89 324.56 L 164.39 322.12 L 164.89 325.98 L 165.39 324.52 L 165.89 332.07 L 166.39 322.47 L 166.89 315.74 L 167.39 327.95 L 167.89 326.93 L 168.39 321.52 L 168.89 331.72 L 169.39 344.96 L 169.89 337.62 L 170.39 323.99 L 170.89 319.88 L 171.39 321.57 L 171.89 321.95 L 172.39 318.23 L 172.89 319.85 L 173.39 315.77 L 173.9 316.83 L 174.4 321.64 L 174.9 317.64 L 175.4 319.27 L 175.9 322.71 L 176.4 322.04 L 176.9 320.16 L 177.4 327.89 L 177.9 331.61 L 178.4 318.25 L 178.9 315.14 L 179.4 319.4 L 179.9 320.5 L 180.4 333.12 L 180.9 333.77 L 181.4 329.3 L 181.9 327.29 L 182.4 324.07 L 182.9 325.99 L 183.4 324.78 L 183.9 322.16 L 184.4 319.97 L 184.9 318.2 L 185.4 317.82 L 185.9 317.96 L 186.4 325.13 L 186.9 329.1 L 187.4 339.62 L 187.9 335.7 L 188.4 322.24 L 188.9 321.24 L 189.4 324.54 L 189.9 328.35 L 190.4 335.59 L 190.9 340.29 L 191.4 330.01 L 191.9 330.1 L 192.41 338.08 L 192.91 321.45 L 193.41 325.69 L 193.91 321.75 L 194.41 316.73 L 194.91 316.35 L 195.41 321.97 L 195.91 319.91 L 196.41 319.02 L 196.91 321.49 L 197.41 323.56 L 197.91 327.99 L 198.41 324.83 L 198.91 327.44 L 199.41 325.34 L 199.91 322.31 L 200.41 319.11 L 200.91 322.34 L 201.41 324.67 L 201.91 323.04 L 202.41 313.74 L 202.91 321.26 L 203.41 321.86 L 203.91 330.5 L 204.41 324.66 L 204.91 330.56 L 205.41 326.18 L 205.91 319.42 L 206.41 315.92 L 206.91 320.51 L 207.41 319.65 L 207.91 323.41 L 208.41 326.23 L 208.91 322.58 L 209.41 319.52 L 209.91 320.99 L 210.41 326.26 L 210.92 325.55 L 211.42 321.93 L 211.92 323.05 L 212.42 318.86 L 212.92 328.8 L 213.42 323.1 L 213.92 326.73 L 214.42 323.51 L 214.92 315.5 L 215.42 318.09 L 215.92 326.35 L 216.42 325.79 L 216.92 319.57 L 217.42 319.66 L 217.92 322.54 L 218.42 321.85 L 218.92 328.94 L 219.42 340.93 L 219.92 322.53 L 220.42 322.95 L 220.92 322.34 L 221.42 322.82 L 221.92 326.51 L 222.42 328.36 L 222.92 320.5 L 223.42 319.11 L 223.92 317.68 L 224.42 319.7 L 224.92 321.92 L 225.42 326 L 225.92 324.14 L 226.42 324.01 L 226.92 339 L 227.42 333.08 L 227.92 324.9 L 228.42 317.55 L 228.92 314.66 L 229.42 316.02 L 229.93 322.12 L 230.43 322.85 L 230.93 327.08 L 231.43 328.72 L 231.93 327.39 L 232.43 323.43 L 232.93 322.63 L 233.43 332.4 L 233.93 328.25 L 234.43 326.25 L 234.93 317.95 L 235.43 316.34 L 235.93 325.15 L 236.43 327.57 L 236.93 321.04 L 237.43 320.51 L 237.93 329.05 L 238.43 326.21 L 238.93 325.08 L 239.43 327.79 L 239.93 318.57 L 240.43 321.28 L 240.93 324.84 L 241.43 327.48 L 241.93 321.7 L 242.43 329.07 L 242.93 329.88 L 243.43 273.28 L 243.93 327.83 L 244.43 333.79 L 244.93 329.42 L 245.43 321.23 L 245.93 320.57 L 246.43 321.75 L 246.93 317.6 L 247.43 318.52 L 247.93 317.78 L 248.44 321.42 L 248.94 322.69 L 249.44 316.99 L 249.94 328.54 L 250.44 330.27 L 250.94 324.48 L 251.44 312.3 L 251.94 315.85 L 252.44 316 L 252.94 323.9 L 253.44 324.22 L 253.94 318.11 L 254.44 319.54 L 254.94 317.21 L 255.44 315.1 L 255.94 316.73 L 256.44 316.44 L 256.94 316.55 L 257.44 316.7 L 257.94 315.42 L 258.44 313.34 L 258.94 317.6 L 259.44 314.67 L 259.94 313.32 L 260.44 316.03 L 260.94 314.37 L 261.44 308.9 L 261.94 308.96 L 262.44 306.79 L 262.94 308.86 L 263.44 315.6 L 263.94 318.51 L 264.44 316.11 L 264.94 315.95 L 265.44 328.79 L 265.94 316.84 L 266.44 311.11 L 266.95 313.89 L 267.45 314.48 L 267.95 315.76 L 268.45 319.13 L 268.95 312.91 L 269.45 312.89 L 269.95 313.34 L 270.45 311.69 L 270.95 307.85 L 271.45 311.68 L 271.95 312.04 L 272.45 314.58 L 272.95 316.4 L 273.45 312.46 L 273.95 310.96 L 274.45 316.15 L 274.95 322.69 L 275.45 316.65 L 275.95 310.49 L 276.45 314.77 L 276.95 315.88 L 277.45 321.98 L 277.95 318.35 L 278.45 317.13 L 278.95 311.59 L 279.45 310.35 L 279.95 312.45 L 280.45 311.34 L 280.95 315.12 L 281.45 311.22 L 281.95 313.9 L 282.45 311.49 L 282.95 308.3 L 283.45 315.15 L 283.95 314.41 L 284.45 315.16 L 284.95 315.04 L 285.46 314.87 L 285.96 315.46 L 286.46 314.71 L 286.96 313.96 L 287.46 319.18 L 287.96 318.76 L 288.46 318.88 L 288.96 319.26 L 289.46 315.8 L 289.96 316.6 L 290.46 320.3 L 290.96 322.18 L 291.46 320.09 L 291.96 315.07 L 292.46 317.72 L 292.96 313.01 L 293.46 312.93 L 293.96 315.75 L 294.46 322.18 L 294.96 318.9 L 295.46 313.28 L 295.96 316.49 L 296.46 316.87 L 296.96 317.51 L 297.46 315.96 L 297.96 320.47 L 298.46 313.12 L 298.96 314.76 L 299.46 318.78 L 299.96 316.09 L 300.46 324.17 L 300.96 321.09 L 301.46 313.81 L 301.96 310.37 L 302.46 318.34 L 302.96 320.37 L 303.46 315.31 L 303.97 314.57 L 304.47 317.14 L 304.97 316.39 L 305.47 311.01 L 305.97 317.15 L 306.47 320.7 L 306.97 315.84 L 307.47 310.23 L 307.97 311.81 L 308.47 314.45 L 308.97 318.55 L 309.47 313.38 L 309.97 306.02 L 310.47 310.67 L 310.97 312.99 L 311.47 322.78 L 311.97 321.84 L 312.47 319.07 L 312.97 313.93 L 313.47 319.42 L 313.97 321.27 L 314.47 324.55 L 314.97 336.55 L 315.47 321.69 L 315.97 331.13 L 316.47 328.34 L 316.97 331.34 L 317.47 326.88 L 317.97 324.8 L 318.47 323.29 L 318.97 318.23 L 319.47 327.74 L 319.97 325.65 L 320.47 322.15 L 320.97 325.29 L 321.47 325.01 L 321.97 316.44 L 322.47 319.99 L 322.98 327.34 L 323.48 324.75 L 323.98 328.19 L 324.48 324.88 L 324.98 330.46 L 325.48 321.95 L 325.98 321.92 L 326.48 322.96 L 326.98 325.22 L 327.48 324.91 L 327.98 329.56 L 328.48 325.4 L 328.98 322.75 L 329.48 324.47 L 329.98 329.27 L 330.48 324.68 L 330.98 334.85 L 331.48 333.33 L 331.98 332.98 L 332.48 329.7 L 332.98 325.08 L 333.48 321.9 L 333.98 319.61 L 334.48 323.4 L 334.98 328.4 L 335.48 321.78 L 335.98 322.05 L 336.48 330.35 L 336.98 335.19 L 337.48 323.66 L 337.98 316.68 L 338.48 324.71 L 338.98 325.01 L 339.48 321.96 L 339.98 325.59 L 340.48 330.09 L 340.98 325.92 L 341.49 321.18 L 341.99 324.08 L 342.49 329.98 L 342.99 331.01 L 343.49 320.51 L 343.99 327.26 L 344.49 321.32 L 344.99 324.29 L 345.49 317.53 L 345.99 316.45 L 346.49 324.93 L 346.99 320.82 L 347.49 316.94 L 347.99 317.59 L 348.49 320.97 L 348.99 317.69 L 349.49 321.39 L 349.99 325.11 L 350.49 317.15 L 350.99 315.61 L 351.49 319.43 L 351.99 320.29 L 352.49 315.75 L 352.99 314.26 L 353.49 321.16 L 353.99 314.49 L 354.49 310.9 L 354.99 319.49 L 355.49 317.78 L 355.99 317.91 L 356.49 316.01 L 356.99 314.74 L 357.49 324.14 L 357.99 322.8 L 358.49 323.93 L 358.99 318.59 L 359.49 312.38 L 360 319.1 L 360.5 319.61 L 361 319.04 L 361.5 316.54 L 362 318.29 L 362.5 320.23 L 363 319.66 L 363.5 318.65 L 364 322.88 L 364.5 324.71 L 365 313.78 L 365.5 314.25 L 366 317.48 L 366.5 315.74 L 367 313.56 L 367.5 317.98 L 368 316.52 L 368.5 315.98 L 369 314.53 L 369.5 325.43 L 370 322.88 L 370.5 313.65 L 371 319.18 L 371.5 212.29 L 372 323.02 L 372.5 326.98 L 373 316.93 L 373.5 313.58 L 374 314.02 L 374.5 319.23 L 375 316.8 L 375.5 310.85 L 376 315.35 L 376.5 318.16 L 377 313.68 L 377.5 317.2 L 378 323.47 L 378.51 317.69 L 379.01 311.4 L 379.51 312.6 L 380.01 312.48 L 380.51 310.63 L 381.01 312.81 L 381.51 314.52 L 382.01 309.87 L 382.51 309.19 L 383.01 307.64 L 383.51 308.82 L 384.01 308.96 L 384.51 309.45 L 385.01 303.44 L 385.51 300.57 L 386.01 304.97 L 386.51 301.69 L 387.01 300.92 L 387.51 303.51 L 388.01 303.7 L 388.51 300.68 L 389.01 302.16 L 389.51 302.59 L 390.01 301.12 L 390.51 298.68 L 391.01 302.67 L 391.51 300.06 L 392.01 297.2 L 392.51 298.46 L 393.01 297.48 L 393.51 299.17 L 394.01 299.63 L 394.51 299.26 L 395.01 301.47 L 395.51 300.23 L 396.01 299.42 L 396.51 300.13 L 397.02 299.64 L 397.52 298.28 L 398.02 301.29 L 398.52 301.34 L 399.02 299.26 L 399.52 300.13 L 400.02 298.05 L 400.52 297.57 L 401.02 299.49 L 401.52 299.48 L 402.02 300.5 L 402.52 299.2 L 403.02 298.39 L 403.52 299.04 L 404.02 298.27 L 404.52 299.53 L 405.02 297.14 L 405.52 297.54 L 406.02 299.25 L 406.52 296.57 L 407.02 294.62 L 407.52 297.2 L 408.02 294.76 L 408.52 294.56 L 409.02 297.18 L 409.52 298.23 L 410.02 300.65 L 410.52 296.48 L 411.02 295.31 L 411.52 296.15 L 412.02 296.78 L 412.52 295.47 L 413.02 295.3 L 413.52 295.66 L 414.02 297.4 L 414.52 296.79 L 415.02 297.01 L 415.53 297.26 L 416.03 298.67 L 416.53 298.53 L 417.03 297.15 L 417.53 298.65 L 418.03 297.73 L 418.53 299.39 L 419.03 299.39 L 419.53 297.08 L 420.03 296.93 L 420.53 293.97 L 421.03 296.35 L 421.53 295.64 L 422.03 295.82 L 422.53 296.78 L 423.03 296.31 L 423.53 295.22 L 424.03 296.11 L 424.53 298.82 L 425.03 297.02 L 425.53 298.24 L 426.03 300.23 L 426.53 299.87 L 427.03 296.82 L 427.53 295.91 L 428.03 296.66 L 428.53 295.15 L 429.03 296.33 L 429.53 299.97 L 430.03 300.1 L 430.53 297.55 L 431.03 299.27 L 431.53 299.19 L 432.03 297.34 L 432.53 298.12 L 433.03 299.27 L 433.53 298.35 L 434.03 294.79 L 434.54 297.87 L 435.04 296.98 L 435.54 294.6 L 436.04 296.15 L 436.54 298.49 L 437.04 298.39 L 437.54 294.24 L 438.04 295.36 L 438.54 298.45 L 439.04 297.51 L 439.54 294.77 L 440.04 292.62 L 440.54 295.62 L 441.04 294.99 L 441.54 298.38 L 442.04 299.13 L 442.54 297.47 L 443.04 294.73 L 443.54 294.53 L 444.04 294.7 L 444.54 297.22 L 445.04 293.98 L 445.54 293.9 L 446.04 291.63 L 446.54 294.71 L 447.04 298.04 L 447.54 297.15 L 448.04 296.34 L 448.54 293.75 L 449.04 293.98 L 449.54 293.84 L 450.04 297.41 L 450.54 297.53 L 451.04 296.76 L 451.54 295.56 L 452.04 298.15 L 452.54 295.33 L 453.05 294.81 L 453.55 296.07 L 454.05 296.9 L 454.55 296.22 L 455.05 295.25 L 455.55 295.4 L 456.05 295.06 L 456.55 294.42 L 457.05 296.13 L 457.55 296.24 L 458.05 294.95 L 458.55 293.38 L 459.05 294.89 L 459.55 296.26 L 460.05 295.47 L 460.55 294.06 L 461.05 295.38 L 461.55 296.14 L 462.05 294.39 L 462.55 293.4 L 463.05 292.7 L 463.55 293.36 L 464.05 294.95 L 464.55 295.02 L 465.05 292.18 L 465.55 291.81 L 466.05 294.54 L 466.55 294.34 L 467.05 293.75 L 467.55 294.16 L 468.05 293.98 L 468.55 294.6 L 469.05 294.21 L 469.55 293.51 L 470.05 296.45 L 470.55 294.53 L 471.05 295.31 L 471.56 294.63 L 472.06 294.51 L 472.56 294.28 L 473.06 295.44 L 473.56 294.66 L 474.06 297.85 L 474.56 296.72 L 475.06 294.31 L 475.56 293.72 L 476.06 295.08 L 476.56 291.98 L 477.06 295 L 477.56 294.97 L 478.06 297.96 L 478.56 297.88 L 479.06 297.51 L 479.56 297.8 L 480.06 298.19 L 480.56 296.64 L 481.06 295.55 L 481.56 292.98 L 482.06 294.59 L 482.56 295.61 L 483.06 297.35 L 483.56 293.09 L 484.06 292.8 L 484.56 297.27 L 485.06 297.51 L 485.56 296.31 L 486.06 294.11 L 486.56 295.97 L 487.06 297.61 L 487.56 297.41 L 488.06 294.3 L 488.56 293.43 L 489.06 294.71 L 489.56 293.71 L 490.07 294.46 L 490.57 296.27 L 491.07 294.42 L 491.57 292.66 L 492.07 292.33 L 492.57 293.72 L 493.07 293 L 493.57 294.83 L 494.07 294.27 L 494.57 291.63 L 495.07 294.99 L 495.57 296.54 L 496.07 297.76 L 496.57 297.29 L 497.07 299.13 L 497.57 298.91 L 498.07 298.53 L 498.57 297.55 L 499.07 298.85 L 499.57 273.28 L 500.07 297.28 L 500.57 297 L 501.07 296.17 L 501.57 295.77 L 502.07 299.57 L 502.57 301.72 L 503.07 298.19 L 503.57 299.63 L 504.07 301.5 L 504.57 299.13 L 505.07 297.45 L 505.57 300.36 L 506.07 303.77 L 506.57 303.64 L 507.07 305 L 507.57 301.51 L 508.07 308.21 L 508.58 308.47 L 509.08 303.97 L 509.58 306.62 L 510.08 308.91 L 510.58 306.23 L 511.08 304.42 L 511.58 310.18 L 512.08 305.85 L 512.58 304.2 L 513.08 302.77 L 513.58 305.33 L 514.08 306.32 L 514.58 307.24 L 515.08 305.74 L 515.58 303.75 L 516.08 306.47 L 516.58 310.05 L 517.08 308.4 L 517.58 304.9 L 518.08 310.99 L 518.58 311.41 L 519.08 310.17 L 519.58 306.72 L 520.08 311.62 L 520.58 311.53 L 521.08 310.24 L 521.58 307.52 L 522.08 307.56 L 522.58 313.13 L 523.08 314.66 L 523.58 314.18 L 524.08 307.93 L 524.58 309.18 L 525.08 309.49 L 525.58 311.43 L 526.08 316 L 526.58 317.93 L 527.08 313.58 L 527.59 306.15 L 528.09 310.42 L 528.59 310.4 L 529.09 312.36 L 529.59 306.95 L 530.09 312.36 L 530.59 319.69 L 531.09 316.59 L 531.59 311.63 L 532.09 310.47 L 532.59 313.4 L 533.09 312.22 L 533.59 312.92 L 534.09 313.33 L 534.59 315.05 L 535.09 312.9 L 535.59 310.67 L 536.09 314.05 L 536.59 313.7 L 537.09 306.53 L 537.59 309.81 L 538.09 312.35 L 538.59 316.7 L 539.09 312.34 L 539.59 316.8 L 540.09 310.32 L 540.59 312.09 L 541.09 315.17 L 541.59 315.64 L 542.09 313.56 L 542.59 314.92 L 543.09 318.91 L 543.59 311.45 L 544.09 317.32 L 544.59 315.22 L 545.09 312.77 L 545.59 309.76 L 546.1 315.32 L 546.6 310.65 L 547.1 311.91 L 547.6 324.37 L 548.1 319.8 L 548.6 315.29 L 549.1 316.09 L 549.6 310.23 L 550.1 308.96 L 550.6 308.55 L 551.1 311.83 L 551.6 309.71 L 552.1 309.89 L 552.6 308.54 L 553.1 309.17 L 553.6 309.78 L 554.1 308.71 L 554.6 307.4 L 555.1 308.91 L 555.6 313.14 L 556.1 315.2 L 556.6 306.47 L 557.1 307.76 L 557.6 308.5 L 558.1 306.78 L 558.6 309.63 L 559.1 310.09 L 559.6 310.46 L 560.1 306.29 L 560.6 305.4 L 561.1 310.95 L 561.6 311.72 L 562.1 308.61 L 562.6 308.38 L 563.1 310.11 L 563.6 316.22 L 564.1 312.96 L 564.61 312.38 L 565.11 313.17 L 565.61 311.99 L 566.11 313.5 L 566.61 312.72 L 567.11 314.13 L 567.61 313.93 L 568.11 310.34 L 568.61 313.27 L 569.11 311.73 L 569.61 311.14 L 570.11 317.14 L 570.61 316.82 L 571.11 318.34 L 571.61 318.02 L 572.11 319.44 L 572.61 313.36 L 573.11 315.59 L 573.61 319.77 L 574.11 316.41 L 574.61 320.76 L 575.11 322.89 L 575.61 316.6 L 576.11 316.7 L 576.61 318.06 L 577.11 314.14 L 577.61 313.92 L 578.11 315.03 L 578.61 313.43 L 579.11 314.48 L 579.61 312.7 L 580.11 314.64 L 580.61 318.19 L 581.11 329.11 L 581.61 320.59 L 582.11 311.5 L 582.61 317.92 L 583.12 319.03 L 583.62 321.48 L 584.12 325.43 L 584.62 314.61 L 585.12 310.21 L 585.62 311.35 L 586.12 317.69 L 586.62 322.07 L 587.12 319.74 L 587.62 317.45 L 588.12 318.35 L 588.62 315.33 L 589.12 317.51 L 589.62 322.98 L 590.12 324.31 L 590.62 316.6 L 591.12 315.04 L 591.62 315.24 L 592.12 314.06 L 592.62 318.09 L 593.12 319.98 L 593.62 319.61 L 594.12 319.57 L 594.62 330.28 L 595.12 321.62 L 595.62 319.4 L 596.12 323.15 L 596.62 323.62 L 597.12 317.31 L 597.62 321.48 L 598.12 321.41 L 598.62 318.4 L 599.12 321.01 L 599.62 312.89 L 600.12 320.3 L 600.62 323.88 L 601.12 328.75 L 601.63 325.08 L 602.13 324.72 L 602.63 322.16 L 603.13 326.89 L 603.63 331.02 L 604.13 316.56 L 604.63 314.04 L 605.13 315.6 L 605.63 316.51 L 606.13 318.68 L 606.63 318.91 L 607.13 311.23 L 607.63 320.14 L 608.13 322.99 L 608.63 313.93 L 609.13 319.12 L 609.63 320.23 L 610.13 323.12 L 610.63 320.44 L 611.13 317.43 L 611.63 319.45 L 612.13 324.37 L 612.63 318.68 L 613.13 323.99 L 613.63 326.59 L 614.13 316.96 L 614.63 317.62 L 615.13 321.4 L 615.63 323.02 L 616.13 317.66 L 616.63 320.57 L 617.13 321.68 L 617.63 317.81 L 618.13 319.01 L 618.63 322.64 L 619.13 316.92 L 619.63 325.02 L 620.14 321.8 L 620.64 316.67 L 621.14 317.09 L 621.64 314.47 L 622.14 317.51 L 622.64 287.14" clip-path="url(#p0796a7d0fc)" style="fill: none; stroke: #e377c2; stroke-width: 2.12; stroke-linecap: square"/>
   </g>
   <g id="line2d_38">
    <path d="M 115.36 129.13 L 115.86 303.21 L 116.36 304.47 L 116.86 308.15 L 117.36 309.5 L 117.86 308.84 L 118.37 308.87 L 118.87 305.85 L 119.37 305.24 L 119.87 309.79 L 120.37 307.05 L 120.87 307.69 L 121.37 307.67 L 121.87 306.48 L 122.37 307.77 L 122.87 308.55 L 123.37 307.7 L 123.87 308.67 L 124.37 307.64 L 124.87 305.67 L 125.37 308.01 L 125.87 304.35 L 126.37 304.25 L 126.87 306.18 L 127.37 306.15 L 127.87 308.12 L 128.37 307.25 L 128.87 307.97 L 129.37 307.27 L 129.87 304.74 L 130.37 305.84 L 130.87 306.17 L 131.37 308.74 L 131.87 308.6 L 132.37 307.93 L 132.87 308.92 L 133.37 305.09 L 133.87 305.95 L 134.37 305.87 L 134.87 304.6 L 135.37 306.37 L 135.87 305.59 L 136.37 308.99 L 136.88 304.74 L 137.38 305.65 L 137.88 309.26 L 138.38 308.39 L 138.88 303.14 L 139.38 306.31 L 139.88 304.11 L 140.38 305.04 L 140.88 306.63 L 141.38 307.37 L 141.88 309.53 L 142.38 309.33 L 142.88 307.44 L 143.38 304.53 L 143.88 309.45 L 144.38 308.52 L 144.88 306.08 L 145.38 305.95 L 145.88 307.08 L 146.38 308.26 L 146.88 309.44 L 147.38 308.3 L 147.88 307.96 L 148.38 307.52 L 148.88 308.01 L 149.38 308.22 L 149.88 304.77 L 150.38 307.69 L 150.88 305.69 L 151.38 306.28 L 151.88 308.51 L 152.38 309.08 L 152.88 308.17 L 153.38 307.23 L 153.88 308.84 L 154.38 304.7 L 154.88 305.08 L 155.39 305.9 L 155.89 305.37 L 156.39 303.85 L 156.89 304.28 L 157.39 304.87 L 157.89 305.62 L 158.39 303.06 L 158.89 306.3 L 159.39 308.35 L 159.89 306.8 L 160.39 302.67 L 160.89 301.1 L 161.39 301.7 L 161.89 299.72 L 162.39 303.08 L 162.89 303.76 L 163.39 300.98 L 163.89 298.12 L 164.39 300.48 L 164.89 299.6 L 165.39 299.57 L 165.89 299.04 L 166.39 298.51 L 166.89 293.35 L 167.39 295.96 L 167.89 298.94 L 168.39 296.67 L 168.89 298.61 L 169.39 299.52 L 169.89 298.51 L 170.39 301.2 L 170.89 296.46 L 171.39 296.52 L 171.89 299.85 L 172.39 300.16 L 172.89 302.3 L 173.39 298.47 L 173.9 297.31 L 174.4 297.63 L 174.9 299.02 L 175.4 299.35 L 175.9 299.71 L 176.4 300.4 L 176.9 301.16 L 177.4 301.93 L 177.9 302.64 L 178.4 305.15 L 178.9 300.96 L 179.4 296.5 L 179.9 295.75 L 180.4 299.08 L 180.9 298.43 L 181.4 296.69 L 181.9 300.65 L 182.4 298.98 L 182.9 300.95 L 183.4 298.95 L 183.9 299.41 L 184.4 299.3 L 184.9 298.78 L 185.4 297.46 L 185.9 304.89 L 186.4 304.02 L 186.9 300.31 L 187.4 299.76 L 187.9 301.32 L 188.4 299.03 L 188.9 299.81 L 189.4 299.51 L 189.9 297.75 L 190.4 301.06 L 190.9 299.76 L 191.4 299.02 L 191.9 300.34 L 192.41 299.06 L 192.91 302.07 L 193.41 305.16 L 193.91 303.53 L 194.41 300.71 L 194.91 299.19 L 195.41 300.91 L 195.91 301.11 L 196.41 299.46 L 196.91 299.16 L 197.41 301.56 L 197.91 300.64 L 198.41 302.39 L 198.91 299.65 L 199.41 298.83 L 199.91 303.76 L 200.41 300.73 L 200.91 299.79 L 201.41 299.07 L 201.91 301.3 L 202.41 301.69 L 202.91 302.98 L 203.41 298.35 L 203.91 295.72 L 204.41 297.66 L 204.91 296.96 L 205.41 296.49 L 205.91 299.57 L 206.41 299.51 L 206.91 298.68 L 207.41 296.71 L 207.91 298.93 L 208.41 299.24 L 208.91 299.73 L 209.41 298.62 L 209.91 299.84 L 210.41 302.89 L 210.92 300.62 L 211.42 297.69 L 211.92 298.51 L 212.42 298.49 L 212.92 295.12 L 213.42 300.4 L 213.92 301.08 L 214.42 299.85 L 214.92 298.42 L 215.42 298.75 L 215.92 298.83 L 216.42 299.69 L 216.92 298.57 L 217.42 293.79 L 217.92 293.33 L 218.42 296.44 L 218.92 298.46 L 219.42 300.46 L 219.92 298.45 L 220.42 295.8 L 220.92 295.35 L 221.42 295.99 L 221.92 292.04 L 222.42 291.24 L 222.92 295.26 L 223.42 297.6 L 223.92 294.82 L 224.42 293.47 L 224.92 295.66 L 225.42 295.11 L 225.92 292.85 L 226.42 293.54 L 226.92 295.32 L 227.42 293.77 L 227.92 294.37 L 228.42 292.19 L 228.92 294.7 L 229.42 297.55 L 229.93 295.97 L 230.43 292.32 L 230.93 290.12 L 231.43 292.47 L 231.93 293.77 L 232.43 291.39 L 232.93 295.49 L 233.43 293.18 L 233.93 297.26 L 234.43 298.15 L 234.93 295.38 L 235.43 292.81 L 235.93 293.38 L 236.43 294.05 L 236.93 294.09 L 237.43 293.82 L 237.93 291.65 L 238.43 292.68 L 238.93 293.77 L 239.43 295.86 L 239.93 294.76 L 240.43 295 L 240.93 293.19 L 241.43 295.3 L 241.93 293.54 L 242.43 292.04 L 242.93 292.45 L 243.43 270.5 L 243.93 292.34 L 244.43 295.28 L 244.93 295.93 L 245.43 296.57 L 245.93 295.92 L 246.43 296.51 L 246.93 295.45 L 247.43 293.66 L 247.93 296.06 L 248.44 297.02 L 248.94 295.41 L 249.44 297.52 L 249.94 297.13 L 250.44 295.46 L 250.94 296.43 L 251.44 299.05 L 251.94 300.88 L 252.44 300.06 L 252.94 298.72 L 253.44 296.74 L 253.94 297.85 L 254.44 297.84 L 254.94 299.35 L 255.44 299.52 L 255.94 297.55 L 256.44 297.65 L 256.94 298.19 L 257.44 297.31 L 257.94 299.15 L 258.44 299.66 L 258.94 298.81 L 259.44 298.96 L 259.94 297.37 L 260.44 300.3 L 260.94 298.77 L 261.44 301.65 L 261.94 301.82 L 262.44 297.57 L 262.94 296.58 L 263.44 298.34 L 263.94 300.48 L 264.44 295.93 L 264.94 294.36 L 265.44 296.21 L 265.94 293.86 L 266.44 295.53 L 266.95 296.62 L 267.45 296.85 L 267.95 298.38 L 268.45 298.92 L 268.95 296.67 L 269.45 293.98 L 269.95 295.25 L 270.45 293.83 L 270.95 293.3 L 271.45 291.34 L 271.95 293.07 L 272.45 294.02 L 272.95 294.43 L 273.45 294.93 L 273.95 295.59 L 274.45 295.65 L 274.95 292.55 L 275.45 294.56 L 275.95 293.47 L 276.45 292.46 L 276.95 293.82 L 277.45 294.88 L 277.95 292.61 L 278.45 292.11 L 278.95 296.02 L 279.45 296.52 L 279.95 295.39 L 280.45 292.95 L 280.95 292.43 L 281.45 295.11 L 281.95 293.9 L 282.45 294.23 L 282.95 296.61 L 283.45 295.8 L 283.95 294.28 L 284.45 293.9 L 284.95 294.96 L 285.46 298.01 L 285.96 297.87 L 286.46 298.05 L 286.96 296.14 L 287.46 295.89 L 287.96 297.23 L 288.46 295.5 L 288.96 292.6 L 289.46 293.85 L 289.96 295.23 L 290.46 296.19 L 290.96 295.13 L 291.46 300.2 L 291.96 304.34 L 292.46 302.09 L 292.96 305.93 L 293.46 310.25 L 293.96 307.83 L 294.46 304.3 L 294.96 304.72 L 295.46 302.68 L 295.96 302.05 L 296.46 303.99 L 296.96 310.43 L 297.46 304.17 L 297.96 301.96 L 298.46 308.23 L 298.96 310.26 L 299.46 306.36 L 299.96 304.29 L 300.46 308.31 L 300.96 308.81 L 301.46 316.98 L 301.96 326.92 L 302.46 316.18 L 302.96 312.07 L 303.46 312.5 L 303.97 314.21 L 304.47 318.17 L 304.97 310.11 L 305.47 307.64 L 305.97 309.06 L 306.47 312.84 L 306.97 311.43 L 307.47 312.05 L 307.97 308.48 L 308.47 316.54 L 308.97 322.49 L 309.47 299.4 L 309.97 301.7 L 310.47 301.47 L 310.97 305 L 311.47 306.1 L 311.97 304.72 L 312.47 301.91 L 312.97 306.44 L 313.47 305.5 L 313.97 300.8 L 314.47 299.86 L 314.97 295.31 L 315.47 305.81 L 315.97 305.39 L 316.47 303.74 L 316.97 318.69 L 317.47 316.52 L 317.97 317.98 L 318.47 308.23 L 318.97 302.23 L 319.47 300.89 L 319.97 297.32 L 320.47 298.38 L 320.97 296.28 L 321.47 300.95 L 321.97 317.68 L 322.47 305.78 L 322.98 310.37 L 323.48 300.39 L 323.98 295.13 L 324.48 295.58 L 324.98 298.87 L 325.48 305.45 L 325.98 307.85 L 326.48 300.99 L 326.98 300.16 L 327.48 307.07 L 327.98 314.53 L 328.48 310.18 L 328.98 305.39 L 329.48 302.07 L 329.98 304.96 L 330.48 309.54 L 330.98 300.56 L 331.48 298.2 L 331.98 303.55 L 332.48 305.94 L 332.98 304.13 L 333.48 305.84 L 333.98 304.26 L 334.48 310.31 L 334.98 300.43 L 335.48 301.27 L 335.98 296.58 L 336.48 321.11 L 336.98 317.96 L 337.48 316.93 L 337.98 308.29 L 338.48 305.25 L 338.98 308.69 L 339.48 305.5 L 339.98 305.71 L 340.48 312.8 L 340.98 311.28 L 341.49 313.69 L 341.99 313.59 L 342.49 311.79 L 342.99 315.12 L 343.49 316.26 L 343.99 306.8 L 344.49 304.1 L 344.99 299.79 L 345.49 319.81 L 345.99 311.12 L 346.49 306.02 L 346.99 302.79 L 347.49 301.69 L 347.99 295.72 L 348.49 310.83 L 348.99 315.72 L 349.49 304.72 L 349.99 310.66 L 350.49 307.22 L 350.99 301.33 L 351.49 298.27 L 351.99 308.27 L 352.49 299.42 L 352.99 300.88 L 353.49 305.61 L 353.99 306.28 L 354.49 309.87 L 354.99 309.05 L 355.49 305.67 L 355.99 309.8 L 356.49 318.27 L 356.99 313.83 L 357.49 310.48 L 357.99 311.47 L 358.49 317.56 L 358.99 307.04 L 359.49 299.86 L 360 303.62 L 360.5 297.77 L 361 302.12 L 361.5 309.75 L 362 315.24 L 362.5 316.37 L 363 312.36 L 363.5 307.15 L 364 311.36 L 364.5 304.6 L 365 298.22 L 365.5 314.02 L 366 304.27 L 366.5 301.44 L 367 300.07 L 367.5 300.13 L 368 302.93 L 368.5 304.44 L 369 303.59 L 369.5 308.06 L 370 304.98 L 370.5 301.16 L 371 300.54 L 371.5 212.29 L 372 306.35 L 372.5 305.5 L 373 292.69 L 373.5 295.77 L 374 295.79 L 374.5 297.9 L 375 294.73 L 375.5 293.28 L 376 293.9 L 376.5 299.3 L 377 297.2 L 377.5 296.71 L 378 306.33 L 378.51 301.83 L 379.01 297.05 L 379.51 302.21 L 380.01 303 L 380.51 295.59 L 381.01 297.4 L 381.51 301 L 382.01 302.77 L 382.51 295.7 L 383.01 288.34 L 383.51 296.15 L 384.01 307.11 L 384.51 307.67 L 385.01 296 L 385.51 296.78 L 386.01 301.78 L 386.51 294.01 L 387.01 293.77 L 387.51 301.02 L 388.01 302.64 L 388.51 298.11 L 389.01 297.78 L 389.51 296.47 L 390.01 295.39 L 390.51 300.86 L 391.01 300.84 L 391.51 303.82 L 392.01 297.29 L 392.51 297.61 L 393.01 316.49 L 393.51 309.55 L 394.01 301.52 L 394.51 308.6 L 395.01 301.11 L 395.51 297.5 L 396.01 298.38 L 396.51 296.71 L 397.02 298.65 L 397.52 295.55 L 398.02 300.18 L 398.52 304.63 L 399.02 307.33 L 399.52 312.29 L 400.02 302.98 L 400.52 300.17 L 401.02 302.38 L 401.52 305.75 L 402.02 301.97 L 402.52 296.03 L 403.02 297.31 L 403.52 294.33 L 404.02 296.34 L 404.52 298.96 L 405.02 293.6 L 405.52 304.63 L 406.02 309.39 L 406.52 305.87 L 407.02 298.92 L 407.52 296.08 L 408.02 298.98 L 408.52 300.58 L 409.02 294.92 L 409.52 296.88 L 410.02 300.09 L 410.52 300.64 L 411.02 292.84 L 411.52 294.56 L 412.02 301.03 L 412.52 296.87 L 413.02 298.6 L 413.52 300.17 L 414.02 297.31 L 414.52 302.62 L 415.02 299.59 L 415.53 295.06 L 416.03 300.97 L 416.53 309.84 L 417.03 306.09 L 417.53 302.1 L 418.03 304.53 L 418.53 300.74 L 419.03 298.82 L 419.53 304.68 L 420.03 309.29 L 420.53 299.56 L 421.03 294.43 L 421.53 300.16 L 422.03 299.35 L 422.53 298.46 L 423.03 301.3 L 423.53 307.61 L 424.03 300.5 L 424.53 299.69 L 425.03 304.97 L 425.53 302.22 L 426.03 306.46 L 426.53 310.8 L 427.03 303.85 L 427.53 297.66 L 428.03 297.21 L 428.53 298.67 L 429.03 294.59 L 429.53 302.51 L 430.03 299.34 L 430.53 303.43 L 431.03 313.87 L 431.53 300.53 L 432.03 301.26 L 432.53 311.73 L 433.03 305.71 L 433.53 300.85 L 434.03 302.84 L 434.54 301.56 L 435.04 307.73 L 435.54 294.87 L 436.04 302.49 L 436.54 304.3 L 437.04 308.49 L 437.54 311.73 L 438.04 317.55 L 438.54 315.22 L 439.04 304.59 L 439.54 302.27 L 440.04 304.95 L 440.54 303.83 L 441.04 303.82 L 441.54 294.16 L 442.04 297.49 L 442.54 300.12 L 443.04 302.09 L 443.54 302.65 L 444.04 306.66 L 444.54 308.54 L 445.04 297.7 L 445.54 295.73 L 446.04 299.17 L 446.54 309.65 L 447.04 306.47 L 447.54 301.62 L 448.04 306.45 L 448.54 318.52 L 449.04 310.69 L 449.54 317.65 L 450.04 314.43 L 450.54 308.7 L 451.04 328.88 L 451.54 304.22 L 452.04 311.04 L 452.54 306.57 L 453.05 307.24 L 453.55 305.37 L 454.05 308.63 L 454.55 309.4 L 455.05 306.62 L 455.55 304.34 L 456.05 305 L 456.55 304.01 L 457.05 305 L 457.55 300.02 L 458.05 305.28 L 458.55 305.64 L 459.05 294.98 L 459.55 296.37 L 460.05 300.27 L 460.55 302.59 L 461.05 296.67 L 461.55 299.37 L 462.05 302.76 L 462.55 301.05 L 463.05 294.63 L 463.55 298.49 L 464.05 305.74 L 464.55 311.18 L 465.05 297.76 L 465.55 297.39 L 466.05 296.87 L 466.55 297.4 L 467.05 295.07 L 467.55 294.92 L 468.05 298.28 L 468.55 302.62 L 469.05 311.7 L 469.55 307.37 L 470.05 294.44 L 470.55 302.27 L 471.05 300.6 L 471.56 291.96 L 472.06 299.49 L 472.56 313.36 L 473.06 325.85 L 473.56 314.82 L 474.06 304.35 L 474.56 298.3 L 475.06 298.59 L 475.56 302.77 L 476.06 300.05 L 476.56 309.98 L 477.06 304.88 L 477.56 295.75 L 478.06 291.65 L 478.56 304.45 L 479.06 308.62 L 479.56 304.25 L 480.06 301.47 L 480.56 300.21 L 481.06 298.92 L 481.56 294.52 L 482.06 294.21 L 482.56 300.07 L 483.06 309.56 L 483.56 308.25 L 484.06 304.86 L 484.56 303.6 L 485.06 299.48 L 485.56 300.75 L 486.06 303.51 L 486.56 304.43 L 487.06 302.11 L 487.56 311.68 L 488.06 309 L 488.56 303.86 L 489.06 315.07 L 489.56 315.37 L 490.07 325.43 L 490.57 299.84 L 491.07 310.42 L 491.57 301.31 L 492.07 300.59 L 492.57 304.24 L 493.07 314.52 L 493.57 307.67 L 494.07 306.44 L 494.57 313.3 L 495.07 306.57 L 495.57 314.67 L 496.07 318.67 L 496.57 308.11 L 497.07 306.93 L 497.57 297.22 L 498.07 302.32 L 498.57 306.24 L 499.07 306.59 L 499.57 270.5 L 500.07 306.28 L 500.57 313.56 L 501.07 310.87 L 501.57 300.67 L 502.07 307.3 L 502.57 301.26 L 503.07 307.74 L 503.57 303.08 L 504.07 303.96 L 504.57 299.45 L 505.07 303.4 L 505.57 300.96 L 506.07 305.77 L 506.57 303.76 L 507.07 300.03 L 507.57 300.17 L 508.07 303.57 L 508.58 304.89 L 509.08 308.35 L 509.58 315.84 L 510.08 307 L 510.58 311.16 L 511.08 306.73 L 511.58 307.3 L 512.08 306.64 L 512.58 305.45 L 513.08 311.55 L 513.58 303.74 L 514.08 296.14 L 514.58 294.47 L 515.08 294.07 L 515.58 295.52 L 516.08 298.69 L 516.58 294.31 L 517.08 300.67 L 517.58 299.66 L 518.08 300.7 L 518.58 304.16 L 519.08 308.57 L 519.58 300.62 L 520.08 296 L 520.58 301.3 L 521.08 305.69 L 521.58 304.21 L 522.08 306.48 L 522.58 307.01 L 523.08 309.06 L 523.58 302.74 L 524.08 305.3 L 524.58 306.85 L 525.08 306.33 L 525.58 312.22 L 526.08 299.14 L 526.58 296.88 L 527.08 303.42 L 527.59 295.8 L 528.09 301.99 L 528.59 306.2 L 529.09 303.39 L 529.59 304.02 L 530.09 306.38 L 530.59 305.66 L 531.09 309.68 L 531.59 304.65 L 532.09 310.28 L 532.59 313.39 L 533.09 305.87 L 533.59 312.3 L 534.09 301.05 L 534.59 298.62 L 535.09 311.71 L 535.59 314.83 L 536.09 319.19 L 536.59 318.89 L 537.09 317.42 L 537.59 313.38 L 538.09 312.56 L 538.59 303.41 L 539.09 299.15 L 539.59 311.4 L 540.09 310.88 L 540.59 317.55 L 541.09 342.37 L 541.59 331.6 L 542.09 304.34 L 542.59 307.77 L 543.09 303.69 L 543.59 308.14 L 544.09 305.65 L 544.59 306.46 L 545.09 312.52 L 545.59 304.6 L 546.1 304.44 L 546.6 312.44 L 547.1 314.04 L 547.6 318.01 L 548.1 307.09 L 548.6 316.79 L 549.1 315.63 L 549.6 318.34 L 550.1 314.44 L 550.6 306.18 L 551.1 308.49 L 551.6 307.57 L 552.1 310.06 L 552.6 308.9 L 553.1 321.05 L 553.6 327.34 L 554.1 323.86 L 554.6 310.78 L 555.1 308.97 L 555.6 324.24 L 556.1 324.49 L 556.6 318.45 L 557.1 317.21 L 557.6 304.98 L 558.1 303.75 L 558.6 310.3 L 559.1 312.41 L 559.6 312.15 L 560.1 318.65 L 560.6 320.01 L 561.1 321.88 L 561.6 315.61 L 562.1 309.49 L 562.6 316.71 L 563.1 310.66 L 563.6 302.35 L 564.1 301.52 L 564.61 305.66 L 565.11 309.71 L 565.61 333.27 L 566.11 313.2 L 566.61 313.49 L 567.11 312.77 L 567.61 309.22 L 568.11 307.52 L 568.61 311.51 L 569.11 322.89 L 569.61 321.72 L 570.11 319.25 L 570.61 308.97 L 571.11 308.61 L 571.61 306.88 L 572.11 313.75 L 572.61 321.23 L 573.11 318.99 L 573.61 323.64 L 574.11 332.97 L 574.61 326.28 L 575.11 309.76 L 575.61 315.45 L 576.11 323.54 L 576.61 319.56 L 577.11 314.98 L 577.61 315.84 L 578.11 316.73 L 578.61 312.33 L 579.11 311.53 L 579.61 312.74 L 580.11 306.38 L 580.61 321.56 L 581.11 330.01 L 581.61 325.09 L 582.11 311.72 L 582.61 310.99 L 583.12 308.88 L 583.62 307.26 L 584.12 305.26 L 584.62 312.75 L 585.12 308.72 L 585.62 311.12 L 586.12 309.62 L 586.62 304.33 L 587.12 306.6 L 587.62 321.38 L 588.12 311.25 L 588.62 309.47 L 589.12 325 L 589.62 324.08 L 590.12 317.18 L 590.62 315.62 L 591.12 308.96 L 591.62 308.42 L 592.12 324.37 L 592.62 357.94 L 593.12 326.86 L 593.62 314.38 L 594.12 311.62 L 594.62 306.09 L 595.12 305.72 L 595.62 308.44 L 596.12 317.14 L 596.62 309.88 L 597.12 315.77 L 597.62 306.83 L 598.12 306.87 L 598.62 308.1 L 599.12 307.53 L 599.62 311.58 L 600.12 317.71 L 600.62 322.71 L 601.12 311.84 L 601.63 309.91 L 602.13 310.48 L 602.63 313.47 L 603.13 310.84 L 603.63 320.66 L 604.13 323.43 L 604.63 311.01 L 605.13 316 L 605.63 320.09 L 606.13 316.73 L 606.63 306.94 L 607.13 312.88 L 607.63 315.5 L 608.13 327.1 L 608.63 325.48 L 609.13 322.57 L 609.63 330.49 L 610.13 322.62 L 610.63 322.26 L 611.13 328.48 L 611.63 325.73 L 612.13 326.55 L 612.63 317.74 L 613.13 308.64 L 613.63 308.86 L 614.13 321.97 L 614.63 320.44 L 615.13 315.17 L 615.63 320.56 L 616.13 334.29 L 616.63 329.39 L 617.13 331.99 L 617.63 329.28 L 618.13 321.83 L 618.63 322.65 L 619.13 322.23 L 619.63 314.17 L 620.14 317.63 L 620.64 312.21 L 621.14 320.54 L 621.64 319.09 L 622.14 323.62 L 622.64 325.05" clip-path="url(#p0796a7d0fc)" style="fill: none; stroke: #7f7f7f; stroke-width: 2.12; stroke-linecap: square"/>
   </g>
   <g id="line2d_39">
    <path d="M 115.36 115.55 L 115.86 294.78 L 116.36 292.01 L 116.86 295.62 L 117.36 296.26 L 117.86 296.65 L 118.37 296.14 L 118.87 295.17 L 119.37 294.1 L 119.87 294.22 L 120.37 293.41 L 120.87 294.34 L 121.37 299.2 L 121.87 293.5 L 122.37 294.35 L 122.87 295.15 L 123.37 295.72 L 123.87 293.77 L 124.37 294.78 L 124.87 293.8 L 125.37 295.6 L 125.87 292.09 L 126.37 292.99 L 126.87 297.56 L 127.37 295.09 L 127.87 297.22 L 128.37 298.78 L 128.87 297.71 L 129.37 296.97 L 129.87 297.41 L 130.37 294.18 L 130.87 293.95 L 131.37 300.18 L 131.87 302.65 L 132.37 298.29 L 132.87 296.84 L 133.37 296.63 L 133.87 295.14 L 134.37 296.55 L 134.87 301.11 L 135.37 298.45 L 135.87 299.3 L 136.37 299.09 L 136.88 301.16 L 137.38 297.81 L 137.88 298.45 L 138.38 299.74 L 138.88 299.38 L 139.38 294.31 L 139.88 293.83 L 140.38 295.94 L 140.88 298.71 L 141.38 298.77 L 141.88 295.76 L 142.38 297.08 L 142.88 294.78 L 143.38 293.47 L 143.88 300.57 L 144.38 300.51 L 144.88 297.87 L 145.38 300.25 L 145.88 298.71 L 146.38 297.12 L 146.88 295.94 L 147.38 299.15 L 147.88 296.74 L 148.38 295.73 L 148.88 299.99 L 149.38 299.71 L 149.88 294.89 L 150.38 296.05 L 150.88 301.84 L 151.38 301.41 L 151.88 295.35 L 152.38 297.91 L 152.88 299.25 L 153.38 298.96 L 153.88 298.01 L 154.38 297.34 L 154.88 295.22 L 155.39 296.06 L 155.89 301.29 L 156.39 302.26 L 156.89 300.99 L 157.39 296.5 L 157.89 298.27 L 158.39 306.11 L 158.89 303.14 L 159.39 302.05 L 159.89 298.67 L 160.39 298.27 L 160.89 301.72 L 161.39 303.83 L 161.89 301.1 L 162.39 299.89 L 162.89 301.08 L 163.39 304.56 L 163.89 301.93 L 164.39 299.46 L 164.89 299.05 L 165.39 300.86 L 165.89 303.46 L 166.39 303.82 L 166.89 303.68 L 167.39 311.33 L 167.89 304.2 L 168.39 300.87 L 168.89 300.42 L 169.39 302.75 L 169.89 301.94 L 170.39 299.92 L 170.89 302.84 L 171.39 306.42 L 171.89 303.68 L 172.39 307.62 L 172.89 304.3 L 173.39 297.82 L 173.9 299.47 L 174.4 299.52 L 174.9 300.01 L 175.4 300.08 L 175.9 301.47 L 176.4 299.91 L 176.9 301.53 L 177.4 303.7 L 177.9 301.46 L 178.4 300.35 L 178.9 298.92 L 179.4 297.68 L 179.9 297.99 L 180.4 302.44 L 180.9 300.11 L 181.4 297.51 L 181.9 301.82 L 182.4 303.56 L 182.9 303.5 L 183.4 304.86 L 183.9 303.05 L 184.4 298.2 L 184.9 301.75 L 185.4 301.93 L 185.9 301.78 L 186.4 296.86 L 186.9 304.57 L 187.4 305.6 L 187.9 301.32 L 188.4 303.71 L 188.9 301.72 L 189.4 300.11 L 189.9 304.43 L 190.4 301.08 L 190.9 308.11 L 191.4 314.69 L 191.9 307.57 L 192.41 307.79 L 192.91 309.83 L 193.41 300.68 L 193.91 307.57 L 194.41 314.87 L 194.91 307.44 L 195.41 302.98 L 195.91 303.63 L 196.41 306.99 L 196.91 308.39 L 197.41 307.57 L 197.91 310.73 L 198.41 305.52 L 198.91 303.4 L 199.41 301.87 L 199.91 307.62 L 200.41 301.34 L 200.91 301.76 L 201.41 302.82 L 201.91 306.02 L 202.41 304.44 L 202.91 305.73 L 203.41 303.5 L 203.91 306.26 L 204.41 309.16 L 204.91 307.41 L 205.41 308.68 L 205.91 304.06 L 206.41 308.18 L 206.91 307.9 L 207.41 299.79 L 207.91 303.11 L 208.41 302.98 L 208.91 307.37 L 209.41 306.7 L 209.91 307.55 L 210.41 305.47 L 210.92 303.16 L 211.42 301.81 L 211.92 313.03 L 212.42 307.22 L 212.92 303.37 L 213.42 309.34 L 213.92 305.41 L 214.42 305.49 L 214.92 306.19 L 215.42 308.38 L 215.92 308.89 L 216.42 313.91 L 216.92 309.91 L 217.42 309.27 L 217.92 308.69 L 218.42 302.39 L 218.92 304.74 L 219.42 302.83 L 219.92 305.85 L 220.42 309.99 L 220.92 308.13 L 221.42 307.69 L 221.92 307.27 L 222.42 303.98 L 222.92 304.06 L 223.42 306.85 L 223.92 305.96 L 224.42 309.83 L 224.92 307.91 L 225.42 302.62 L 225.92 301.05 L 226.42 301.95 L 226.92 300.7 L 227.42 305.14 L 227.92 306.97 L 228.42 305.87 L 228.92 302.84 L 229.42 301.33 L 229.93 305.55 L 230.43 304.63 L 230.93 302.66 L 231.43 303.3 L 231.93 305.3 L 232.43 307.24 L 232.93 305.57 L 233.43 304.72 L 233.93 303.7 L 234.43 303.57 L 234.93 301.9 L 235.43 304.09 L 235.93 306.13 L 236.43 305.63 L 236.93 303.31 L 237.43 303.03 L 237.93 301.97 L 238.43 303.1 L 238.93 304.56 L 239.43 301.89 L 239.93 308.06 L 240.43 311.05 L 240.93 302.66 L 241.43 302.6 L 241.93 306.73 L 242.43 305.86 L 242.93 301.38 L 243.43 262.19 L 243.93 306.09 L 244.43 305.79 L 244.93 302.66 L 245.43 298.26 L 245.93 297.9 L 246.43 302.3 L 246.93 303.92 L 247.43 306.76 L 247.93 306.59 L 248.44 314.24 L 248.94 313.12 L 249.44 302.89 L 249.94 303.77 L 250.44 306.1 L 250.94 302.73 L 251.44 304.83 L 251.94 307.54 L 252.44 308.99 L 252.94 305.08 L 253.44 301.54 L 253.94 305.02 L 254.44 300.49 L 254.94 302.48 L 255.44 301.25 L 255.94 306.6 L 256.44 310.25 L 256.94 304.91 L 257.44 309.03 L 257.94 303.06 L 258.44 303.27 L 258.94 306.71 L 259.44 310.84 L 259.94 308.74 L 260.44 306.16 L 260.94 311.4 L 261.44 320.45 L 261.94 312.19 L 262.44 303.55 L 262.94 305.34 L 263.44 308.94 L 263.94 308.83 L 264.44 306.34 L 264.94 300.67 L 265.44 308.59 L 265.94 310.4 L 266.44 306.94 L 266.95 305.21 L 267.45 306.21 L 267.95 303.59 L 268.45 305.05 L 268.95 308.27 L 269.45 308.67 L 269.95 306.4 L 270.45 305.63 L 270.95 303.44 L 271.45 301.9 L 271.95 304.31 L 272.45 302.37 L 272.95 302.86 L 273.45 307.67 L 273.95 312.58 L 274.45 305.44 L 274.95 301.63 L 275.45 300.67 L 275.95 308.28 L 276.45 302.56 L 276.95 301.69 L 277.45 300.33 L 277.95 298.02 L 278.45 299.02 L 278.95 299.14 L 279.45 300.02 L 279.95 303.3 L 280.45 299.67 L 280.95 300.04 L 281.45 300.39 L 281.95 303.23 L 282.45 298.27 L 282.95 298.65 L 283.45 299.43 L 283.95 299.61 L 284.45 295.83 L 284.95 296.91 L 285.46 296.92 L 285.96 298.79 L 286.46 301.39 L 286.96 301.32 L 287.46 300.66 L 287.96 303.42 L 288.46 303.08 L 288.96 302.68 L 289.46 301.53 L 289.96 302.89 L 290.46 305.3 L 290.96 306.06 L 291.46 305.86 L 291.96 302.67 L 292.46 300.37 L 292.96 306.79 L 293.46 303.97 L 293.96 301.58 L 294.46 301.89 L 294.96 304.24 L 295.46 305.26 L 295.96 302.18 L 296.46 298.9 L 296.96 299.61 L 297.46 300.32 L 297.96 299.67 L 298.46 300.3 L 298.96 299.97 L 299.46 298.23 L 299.96 298.21 L 300.46 297.93 L 300.96 298.73 L 301.46 300.88 L 301.96 300.78 L 302.46 299.42 L 302.96 299.06 L 303.46 296.21 L 303.97 296.97 L 304.47 299.01 L 304.97 301.56 L 305.47 299.21 L 305.97 298.24 L 306.47 303.19 L 306.97 302.15 L 307.47 298.46 L 307.97 298.34 L 308.47 299.64 L 308.97 299.8 L 309.47 300.67 L 309.97 299.08 L 310.47 296.45 L 310.97 296.78 L 311.47 293.5 L 311.97 294.62 L 312.47 297.51 L 312.97 299.08 L 313.47 297.4 L 313.97 297.65 L 314.47 298.43 L 314.97 297.1 L 315.47 299.79 L 315.97 301.77 L 316.47 299.22 L 316.97 300.92 L 317.47 301.97 L 317.97 300.5 L 318.47 303.18 L 318.97 303.22 L 319.47 296.45 L 319.97 297.29 L 320.47 300.1 L 320.97 299.92 L 321.47 299.87 L 321.97 302.61 L 322.47 303.58 L 322.98 303.73 L 323.48 299.61 L 323.98 296.73 L 324.48 296.14 L 324.98 298.92 L 325.48 297.77 L 325.98 299.02 L 326.48 296.91 L 326.98 297.47 L 327.48 300.92 L 327.98 300.56 L 328.48 301.01 L 328.98 301.53 L 329.48 299.77 L 329.98 296.97 L 330.48 297.56 L 330.98 301.2 L 331.48 299.42 L 331.98 296.87 L 332.48 301.26 L 332.98 300.24 L 333.48 296.4 L 333.98 299.74 L 334.48 298.98 L 334.98 300.75 L 335.48 304.65 L 335.98 300.77 L 336.48 305.06 L 336.98 303.67 L 337.48 297.84 L 337.98 297.64 L 338.48 299.89 L 338.98 297.5 L 339.48 296.54 L 339.98 298.98 L 340.48 303.84 L 340.98 303.36 L 341.49 298.99 L 341.99 299.79 L 342.49 298.23 L 342.99 301.28 L 343.49 300.8 L 343.99 303.58 L 344.49 299.39 L 344.99 298.87 L 345.49 298.43 L 345.99 305.62 L 346.49 304.39 L 346.99 301.79 L 347.49 298.19 L 347.99 295.73 L 348.49 296.95 L 348.99 303.55 L 349.49 301.43 L 349.99 296.72 L 350.49 299.31 L 350.99 303.18 L 351.49 298.46 L 351.99 297.64 L 352.49 297.83 L 352.99 299.49 L 353.49 298.61 L 353.99 297.06 L 354.49 297.92 L 354.99 296.04 L 355.49 297.16 L 355.99 298.37 L 356.49 300.27 L 356.99 298.74 L 357.49 297.78 L 357.99 301.7 L 358.49 303.04 L 358.99 300.14 L 359.49 299.42 L 360 303.17 L 360.5 299.02 L 361 297.56 L 361.5 304.79 L 362 300.86 L 362.5 300.35 L 363 300.6 L 363.5 301.72 L 364 300.86 L 364.5 302.28 L 365 302.74 L 365.5 299.53 L 366 297.34 L 366.5 300.95 L 367 299.26 L 367.5 299.08 L 368 305.58 L 368.5 305.98 L 369 307 L 369.5 305.88 L 370 302.88 L 370.5 306.68 L 371 301.88 L 371.5 198.15 L 372 309.76 L 372.5 307.63 L 373 308.18 L 373.5 316.54 L 374 320.07 L 374.5 313.23 L 375 313.43 L 375.5 311.46 L 376 314.83 L 376.5 314.15 L 377 313.87 L 377.5 307.95 L 378 307.3 L 378.51 309.26 L 379.01 310.19 L 379.51 312.01 L 380.01 307.02 L 380.51 305.29 L 381.01 305.08 L 381.51 311.19 L 382.01 313.8 L 382.51 312.35 L 383.01 314.56 L 383.51 313.04 L 384.01 312.57 L 384.51 314.29 L 385.01 317.12 L 385.51 310.77 L 386.01 315.47 L 386.51 312.02 L 387.01 313.15 L 387.51 317.86 L 388.01 309.46 L 388.51 308.18 L 389.01 303.26 L 389.51 303.28 L 390.01 313.26 L 390.51 319.96 L 391.01 311.27 L 391.51 306.78 L 392.01 307.97 L 392.51 304.07 L 393.01 308.34 L 393.51 311.47 L 394.01 310.63 L 394.51 307.46 L 395.01 304.65 L 395.51 309.4 L 396.01 308.51 L 396.51 306.18 L 397.02 309.07 L 397.52 308.48 L 398.02 304.65 L 398.52 304.31 L 399.02 303.97 L 399.52 306.95 L 400.02 309.2 L 400.52 306.57 L 401.02 302.52 L 401.52 300.22 L 402.02 301.11 L 402.52 301.51 L 403.02 302.72 L 403.52 301.63 L 404.02 301.96 L 404.52 299.42 L 405.02 300.4 L 405.52 302.59 L 406.02 303.83 L 406.52 299.59 L 407.02 300.96 L 407.52 300.82 L 408.02 302.6 L 408.52 305.41 L 409.02 306.16 L 409.52 305.69 L 410.02 302.38 L 410.52 303.96 L 411.02 308.13 L 411.52 304.36 L 412.02 309.33 L 412.52 307.11 L 413.02 301.27 L 413.52 304.09 L 414.02 307.09 L 414.52 312.92 L 415.02 304.55 L 415.53 304.84 L 416.03 306.01 L 416.53 308.42 L 417.03 306.25 L 417.53 307.56 L 418.03 309.87 L 418.53 302.16 L 419.03 302.15 L 419.53 305.98 L 420.03 307.21 L 420.53 303.44 L 421.03 303.03 L 421.53 304.66 L 422.03 302.47 L 422.53 306.39 L 423.03 306.55 L 423.53 300.22 L 424.03 300.17 L 424.53 304.67 L 425.03 302 L 425.53 299.31 L 426.03 296.47 L 426.53 296.08 L 427.03 295.88 L 427.53 299.25 L 428.03 298.36 L 428.53 301.59 L 429.03 302.1 L 429.53 296.09 L 430.03 299.66 L 430.53 296.84 L 431.03 299.98 L 431.53 299.9 L 432.03 296.2 L 432.53 302.17 L 433.03 299.83 L 433.53 299.21 L 434.03 302.03 L 434.54 303.06 L 435.04 300.67 L 435.54 295.91 L 436.04 303.29 L 436.54 303.76 L 437.04 301.5 L 437.54 303.02 L 438.04 298.45 L 438.54 301.72 L 439.04 300.85 L 439.54 300.14 L 440.04 301.38 L 440.54 299.69 L 441.04 302.46 L 441.54 298.76 L 442.04 295.16 L 442.54 295.49 L 443.04 300.56 L 443.54 300.03 L 444.04 292.09 L 444.54 293.47 L 445.04 298.33 L 445.54 293.4 L 446.04 293.05 L 446.54 292.01 L 447.04 290.66 L 447.54 292.22 L 448.04 292.03 L 448.54 292.45 L 449.04 289.84 L 449.54 290.48 L 450.04 289.53 L 450.54 290.97 L 451.04 294.56 L 451.54 292.35 L 452.04 291.55 L 452.54 291.42 L 453.05 292.71 L 453.55 292.26 L 454.05 293.26 L 454.55 293.54 L 455.05 291.83 L 455.55 291.67 L 456.05 289.38 L 456.55 292.42 L 457.05 294.69 L 457.55 290.93 L 458.05 288.55 L 458.55 289.22 L 459.05 292.51 L 459.55 292.92 L 460.05 292.92 L 460.55 291.97 L 461.05 294.14 L 461.55 296.22 L 462.05 291.09 L 462.55 291.23 L 463.05 293.11 L 463.55 292.44 L 464.05 292.42 L 464.55 293.22 L 465.05 292.54 L 465.55 293.96 L 466.05 292.91 L 466.55 291.7 L 467.05 289.64 L 467.55 289.99 L 468.05 292.31 L 468.55 292.89 L 469.05 292.45 L 469.55 295.39 L 470.05 299.3 L 470.55 299.53 L 471.05 299.21 L 471.56 294.78 L 472.06 292.35 L 472.56 291.18 L 473.06 290.03 L 473.56 291.59 L 474.06 288.69 L 474.56 289.92 L 475.06 290.91 L 475.56 290.44 L 476.06 295.6 L 476.56 297.45 L 477.06 293.24 L 477.56 291.49 L 478.06 292.07 L 478.56 293.8 L 479.06 295.12 L 479.56 296.24 L 480.06 294.21 L 480.56 293.43 L 481.06 295.47 L 481.56 293.32 L 482.06 292.62 L 482.56 299.45 L 483.06 296.46 L 483.56 298.28 L 484.06 296.62 L 484.56 296.04 L 485.06 294.75 L 485.56 295.26 L 486.06 295.31 L 486.56 296.36 L 487.06 297.89 L 487.56 296.38 L 488.06 297.99 L 488.56 295.73 L 489.06 296.89 L 489.56 298.17 L 490.07 301.17 L 490.57 298.01 L 491.07 297.45 L 491.57 297.19 L 492.07 296.92 L 492.57 293.25 L 493.07 293.14 L 493.57 292.62 L 494.07 296.57 L 494.57 296.84 L 495.07 298.11 L 495.57 298.74 L 496.07 296.3 L 496.57 297.22 L 497.07 293.24 L 497.57 296.14 L 498.07 295.68 L 498.57 297.42 L 499.07 297.36 L 499.57 249.71 L 500.07 294.13 L 500.57 293.72 L 501.07 295.29 L 501.57 298.42 L 502.07 296.97 L 502.57 297.14 L 503.07 298.55 L 503.57 298.54 L 504.07 301.07 L 504.57 299.67 L 505.07 299.44 L 505.57 297.59 L 506.07 294.61 L 506.57 298.5 L 507.07 297.3 L 507.57 298.9 L 508.07 300.47 L 508.58 300.06 L 509.08 300.68 L 509.58 296.57 L 510.08 295.72 L 510.58 298.99 L 511.08 296.88 L 511.58 299.02 L 512.08 303.64 L 512.58 299.14 L 513.08 299.66 L 513.58 301.35 L 514.08 303.3 L 514.58 305.49 L 515.08 304 L 515.58 304.5 L 516.08 299.4 L 516.58 300.41 L 517.08 298.05 L 517.58 299.5 L 518.08 299.37 L 518.58 301.4 L 519.08 301.91 L 519.58 300.08 L 520.08 301.02 L 520.58 300.43 L 521.08 304.16 L 521.58 305.23 L 522.08 304.06 L 522.58 297.68 L 523.08 297.25 L 523.58 300.14 L 524.08 302.21 L 524.58 303.18 L 525.08 302.98 L 525.58 298.64 L 526.08 302.27 L 526.58 303.47 L 527.08 304.65 L 527.59 303.25 L 528.09 302.52 L 528.59 305.04 L 529.09 304.09 L 529.59 302.02 L 530.09 304.11 L 530.59 305.5 L 531.09 303.12 L 531.59 303.5 L 532.09 304.98 L 532.59 305.02 L 533.09 304.23 L 533.59 305.76 L 534.09 309.34 L 534.59 308.73 L 535.09 306.18 L 535.59 307.9 L 536.09 308.41 L 536.59 305.01 L 537.09 309.79 L 537.59 308.65 L 538.09 303.73 L 538.59 306.59 L 539.09 308.94 L 539.59 311.73 L 540.09 309.26 L 540.59 310.81 L 541.09 306.44 L 541.59 309.26 L 542.09 308.18 L 542.59 312.31 L 543.09 316.74 L 543.59 313.32 L 544.09 307.19 L 544.59 310.14 L 545.09 310.13 L 545.59 308.96 L 546.1 319.17 L 546.6 315.58 L 547.1 310.09 L 547.6 315.24 L 548.1 312.46 L 548.6 313.08 L 549.1 308.4 L 549.6 311.43 L 550.1 313.65 L 550.6 315.97 L 551.1 320.34 L 551.6 325.58 L 552.1 326.14 L 552.6 330.79 L 553.1 319.19 L 553.6 312.55 L 554.1 306.94 L 554.6 310.87 L 555.1 309.81 L 555.6 320.49 L 556.1 320.84 L 556.6 315.66 L 557.1 318.72 L 557.6 312.65 L 558.1 312.48 L 558.6 315.96 L 559.1 317.44 L 559.6 319.74 L 560.1 319.35 L 560.6 311.12 L 561.1 312.44 L 561.6 310.75 L 562.1 316.49 L 562.6 310.47 L 563.1 317.03 L 563.6 318.38 L 564.1 313.68 L 564.61 310.54 L 565.11 310.12 L 565.61 316.3 L 566.11 319.57 L 566.61 309.97 L 567.11 318.44 L 567.61 327.33 L 568.11 328.99 L 568.61 327.02 L 569.11 336.5 L 569.61 322.08 L 570.11 320.17 L 570.61 309.65 L 571.11 310.58 L 571.61 322.19 L 572.11 339.68 L 572.61 330.51 L 573.11 323.28 L 573.61 317.87 L 574.11 329.97 L 574.61 325.88 L 575.11 328.28 L 575.61 314.9 L 576.11 321.92 L 576.61 325.84 L 577.11 320.71 L 577.61 325.52 L 578.11 325.18 L 578.61 322.61 L 579.11 325.85 L 579.61 323.77 L 580.11 312.83 L 580.61 319.37 L 581.11 322.22 L 581.61 313.15 L 582.11 314.01 L 582.61 314.93 L 583.12 323.07 L 583.62 322.03 L 584.12 317.59 L 584.62 317.73 L 585.12 319.4 L 585.62 312.03 L 586.12 323.68 L 586.62 319.07 L 587.12 321.89 L 587.62 323.12 L 588.12 319.17 L 588.62 311.23 L 589.12 324.57 L 589.62 333.56 L 590.12 317.03 L 590.62 317.94 L 591.12 316.88 L 591.62 314.36 L 592.12 311.42 L 592.62 323.09 L 593.12 323.03 L 593.62 317.36 L 594.12 320.06 L 594.62 321.65 L 595.12 330.44 L 595.62 325.62 L 596.12 322.18 L 596.62 347.48 L 597.12 325.94 L 597.62 328.43 L 598.12 311.73 L 598.62 310.83 L 599.12 310.44 L 599.62 311.22 L 600.12 324.38 L 600.62 323.82 L 601.12 325.4 L 601.63 318.61 L 602.13 320.42 L 602.63 319.32 L 603.13 323.1 L 603.63 322.73 L 604.13 324.77 L 604.63 326.64 L 605.13 325.77 L 605.63 320.78 L 606.13 317.28 L 606.63 314.78 L 607.13 322.52 L 607.63 318.53 L 608.13 321.87 L 608.63 311.06 L 609.13 319.8 L 609.63 327.02 L 610.13 321.7 L 610.63 316.35 L 611.13 319.62 L 611.63 318.83 L 612.13 318.07 L 612.63 310.21 L 613.13 312.82 L 613.63 316.89 L 614.13 313.78 L 614.63 309.66 L 615.13 315.31 L 615.63 320.83 L 616.13 325.1 L 616.63 318.08 L 617.13 324.09 L 617.63 318.09 L 618.13 310.68 L 618.63 321.16 L 619.13 316.76 L 619.63 325.8 L 620.14 333.9 L 620.64 329.1 L 621.14 327.61 L 621.64 324.61 L 622.14 325.82 L 622.64 326.15" clip-path="url(#p0796a7d0fc)" style="fill: none; stroke: #bcbd22; stroke-width: 2.12; stroke-linecap: square"/>
   </g>
   <g id="line2d_40">
    <path d="M 115.36 124.7 L 115.86 292.34 L 116.36 290.89 L 116.86 290.59 L 117.36 290.52 L 117.86 290.23 L 118.37 291.59 L 118.87 293.24 L 119.37 291.38 L 119.87 288.48 L 120.37 290.12 L 120.87 289.74 L 121.37 288.96 L 121.87 290.2 L 122.37 291.25 L 122.87 291.19 L 123.37 293.02 L 123.87 291.98 L 124.37 290.67 L 124.87 291.83 L 125.37 292.01 L 125.87 289.85 L 126.37 289.77 L 126.87 290.67 L 127.37 289.99 L 127.87 287.29 L 128.37 288.27 L 128.87 289.36 L 129.37 286.92 L 129.87 286.97 L 130.37 291.31 L 130.87 291.5 L 131.37 288.83 L 131.87 288.45 L 132.37 289.42 L 132.87 286.45 L 133.37 286.83 L 133.87 285.89 L 134.37 287.41 L 134.87 287.54 L 135.37 287.5 L 135.87 288.62 L 136.37 288.47 L 136.88 288.9 L 137.38 289.6 L 137.88 290.29 L 138.38 287.78 L 138.88 286.35 L 139.38 285.15 L 139.88 284.49 L 140.38 287.54 L 140.88 288.08 L 141.38 285.96 L 141.88 286.24 L 142.38 286.44 L 142.88 288.47 L 143.38 288.23 L 143.88 285.85 L 144.38 286.34 L 144.88 285.21 L 145.38 287.05 L 145.88 285.74 L 146.38 288.21 L 146.88 288.69 L 147.38 287.9 L 147.88 288.71 L 148.38 287.82 L 148.88 285.54 L 149.38 285.14 L 149.88 287.61 L 150.38 285.19 L 150.88 283.07 L 151.38 285.24 L 151.88 286.96 L 152.38 288.2 L 152.88 288.03 L 153.38 287.23 L 153.88 289.29 L 154.38 290.74 L 154.88 287.98 L 155.39 286.58 L 155.89 288.06 L 156.39 290.43 L 156.89 290.68 L 157.39 288.63 L 157.89 286.51 L 158.39 285.95 L 158.89 288.36 L 159.39 289.78 L 159.89 289.58 L 160.39 287.73 L 160.89 287.13 L 161.39 288.75 L 161.89 288.4 L 162.39 287.72 L 162.89 287.06 L 163.39 287.3 L 163.89 287.96 L 164.39 285.82 L 164.89 283.57 L 165.39 284.52 L 165.89 285.07 L 166.39 285.9 L 166.89 284.29 L 167.39 286.1 L 167.89 287.99 L 168.39 286.18 L 168.89 285.16 L 169.39 286.09 L 169.89 285.85 L 170.39 286.17 L 170.89 286.77 L 171.39 285.3 L 171.89 287.59 L 172.39 286.37 L 172.89 288.31 L 173.39 289.31 L 173.9 285.93 L 174.4 287.16 L 174.9 287.34 L 175.4 286.93 L 175.9 286.37 L 176.4 284.06 L 176.9 285.84 L 177.4 286.14 L 177.9 285.38 L 178.4 283.06 L 178.9 285.66 L 179.4 287.38 L 179.9 286.58 L 180.4 283.9 L 180.9 285 L 181.4 284.15 L 181.9 286.31 L 182.4 285.33 L 182.9 285.81 L 183.4 285.43 L 183.9 284.75 L 184.4 284.16 L 184.9 285.09 L 185.4 285.12 L 185.9 285.09 L 186.4 286.16 L 186.9 284.61 L 187.4 283.8 L 187.9 284.24 L 188.4 282.88 L 188.9 285.95 L 189.4 286.25 L 189.9 283.02 L 190.4 283.89 L 190.9 284.78 L 191.4 282.38 L 191.9 283.26 L 192.41 281.69 L 192.91 286.7 L 193.41 286.16 L 193.91 283.15 L 194.41 282.71 L 194.91 282.74 L 195.41 284.41 L 195.91 285.11 L 196.41 283.77 L 196.91 283.91 L 197.41 285.71 L 197.91 285.88 L 198.41 287.19 L 198.91 284.95 L 199.41 285.56 L 199.91 284.64 L 200.41 283.96 L 200.91 284.19 L 201.41 285.21 L 201.91 284.72 L 202.41 284.26 L 202.91 286.01 L 203.41 285.87 L 203.91 285.5 L 204.41 287.24 L 204.91 284.98 L 205.41 283.46 L 205.91 284.07 L 206.41 285.94 L 206.91 289.22 L 207.41 285.13 L 207.91 284.12 L 208.41 285.16 L 208.91 285.15 L 209.41 285.75 L 209.91 286.13 L 210.41 284.34 L 210.92 283.12 L 211.42 285.17 L 211.92 287.33 L 212.42 288.24 L 212.92 285.6 L 213.42 284.71 L 213.92 284.48 L 214.42 286.51 L 214.92 287.42 L 215.42 285.86 L 215.92 284.28 L 216.42 283.32 L 216.92 287.12 L 217.42 287.26 L 217.92 287.21 L 218.42 285.65 L 218.92 286.31 L 219.42 285.11 L 219.92 285.52 L 220.42 285.3 L 220.92 285.27 L 221.42 287.72 L 221.92 287.95 L 222.42 284.97 L 222.92 285.81 L 223.42 287.43 L 223.92 286.48 L 224.42 286.85 L 224.92 285.36 L 225.42 285.79 L 225.92 283.69 L 226.42 284.53 L 226.92 285.05 L 227.42 283.7 L 227.92 284.5 L 228.42 284.25 L 228.92 283.94 L 229.42 286.11 L 229.93 286.56 L 230.43 285.46 L 230.93 285.88 L 231.43 287.27 L 231.93 286 L 232.43 283.89 L 232.93 281.94 L 233.43 283.98 L 233.93 284.83 L 234.43 284.9 L 234.93 283.64 L 235.43 284.24 L 235.93 285.06 L 236.43 283.54 L 236.93 285.68 L 237.43 286.23 L 237.93 285.11 L 238.43 285.87 L 238.93 285.37 L 239.43 284.61 L 239.93 283.54 L 240.43 285.45 L 240.93 285.09 L 241.43 285.52 L 241.93 284.8 L 242.43 283.32 L 242.93 286.07 L 243.43 254.15 L 243.93 283.82 L 244.43 283.01 L 244.93 283.88 L 245.43 287.33 L 245.93 286.73 L 246.43 284.27 L 246.93 284.97 L 247.43 284.49 L 247.93 283.94 L 248.44 285.83 L 248.94 285.37 L 249.44 285.23 L 249.94 286.15 L 250.44 286.23 L 250.94 286.04 L 251.44 285.99 L 251.94 285.62 L 252.44 284.38 L 252.94 287 L 253.44 286.85 L 253.94 285.81 L 254.44 285.15 L 254.94 284.32 L 255.44 282.03 L 255.94 281.5 L 256.44 282.07 L 256.94 285.38 L 257.44 284.79 L 257.94 281.48 L 258.44 283.29 L 258.94 284.19 L 259.44 284.69 L 259.94 283.71 L 260.44 283.61 L 260.94 284.14 L 261.44 285.48 L 261.94 285.24 L 262.44 284.48 L 262.94 283.96 L 263.44 283.4 L 263.94 284.68 L 264.44 284.97 L 264.94 285.06 L 265.44 285.73 L 265.94 286.08 L 266.44 285.87 L 266.95 286.9 L 267.45 285.7 L 267.95 285.75 L 268.45 282.97 L 268.95 283.26 L 269.45 285.87 L 269.95 286 L 270.45 284.16 L 270.95 286.5 L 271.45 283.97 L 271.95 283.06 L 272.45 283.95 L 272.95 284.65 L 273.45 284.27 L 273.95 285.19 L 274.45 288.15 L 274.95 285.86 L 275.45 283.25 L 275.95 284.44 L 276.45 284.34 L 276.95 281.8 L 277.45 282.36 L 277.95 282.44 L 278.45 283.01 L 278.95 285.68 L 279.45 285.1 L 279.95 285.36 L 280.45 283.76 L 280.95 284.53 L 281.45 282.2 L 281.95 285.02 L 282.45 285.15 L 282.95 283.46 L 283.45 285.59 L 283.95 284.93 L 284.45 283.4 L 284.95 280.76 L 285.46 283.64 L 285.96 283.82 L 286.46 284.29 L 286.96 285.24 L 287.46 285.77 L 287.96 283.73 L 288.46 284.27 L 288.96 284.7 L 289.46 286.49 L 289.96 284.09 L 290.46 284.3 L 290.96 284.07 L 291.46 283.38 L 291.96 283.66 L 292.46 287.06 L 292.96 283.42 L 293.46 284.35 L 293.96 283.88 L 294.46 282.81 L 294.96 283.52 L 295.46 285.91 L 295.96 283.8 L 296.46 284.79 L 296.96 282.1 L 297.46 282.56 L 297.96 281.06 L 298.46 284.97 L 298.96 283.79 L 299.46 282.1 L 299.96 284.35 L 300.46 285.25 L 300.96 287.44 L 301.46 287.33 L 301.96 286.4 L 302.46 284.52 L 302.96 285.77 L 303.46 283.23 L 303.97 285.03 L 304.47 286.83 L 304.97 283.41 L 305.47 281.64 L 305.97 281.53 L 306.47 282.5 L 306.97 284.65 L 307.47 284.52 L 307.97 284.13 L 308.47 283.5 L 308.97 282.27 L 309.47 281.45 L 309.97 281.62 L 310.47 284.86 L 310.97 287.83 L 311.47 286.2 L 311.97 283.81 L 312.47 284.34 L 312.97 282 L 313.47 283.6 L 313.97 284.44 L 314.47 283.27 L 314.97 284.73 L 315.47 283.67 L 315.97 282.58 L 316.47 282.31 L 316.97 281.92 L 317.47 281.48 L 317.97 282.91 L 318.47 286.41 L 318.97 285.22 L 319.47 284.86 L 319.97 283.81 L 320.47 282.81 L 320.97 282.75 L 321.47 282.02 L 321.97 281.86 L 322.47 281.9 L 322.98 282.52 L 323.48 285.39 L 323.98 285.93 L 324.48 283.44 L 324.98 283.67 L 325.48 287 L 325.98 287.91 L 326.48 283.75 L 326.98 284.51 L 327.48 283.86 L 327.98 283.61 L 328.48 283.97 L 328.98 284.92 L 329.48 284.58 L 329.98 285.06 L 330.48 284.43 L 330.98 286.47 L 331.48 284.9 L 331.98 286.3 L 332.48 286.74 L 332.98 285.78 L 333.48 286.42 L 333.98 286.23 L 334.48 286.98 L 334.98 287.49 L 335.48 286.75 L 335.98 288.6 L 336.48 288.96 L 336.98 286.41 L 337.48 286.34 L 337.98 288.87 L 338.48 290.03 L 338.98 289.88 L 339.48 289.51 L 339.98 288.69 L 340.48 286.55 L 340.98 290.05 L 341.49 289.07 L 341.99 286.89 L 342.49 288.47 L 342.99 287.21 L 343.49 285.76 L 343.99 285.75 L 344.49 285.61 L 344.99 287.86 L 345.49 287.17 L 345.99 287.12 L 346.49 288.98 L 346.99 286.93 L 347.49 288.32 L 347.99 289.16 L 348.49 288.45 L 348.99 288.94 L 349.49 289.22 L 349.99 290.91 L 350.49 292.59 L 350.99 290.54 L 351.49 290.33 L 351.99 292.21 L 352.49 289.82 L 352.99 289.16 L 353.49 289.22 L 353.99 289.11 L 354.49 290.92 L 354.99 294.01 L 355.49 291.76 L 355.99 292.84 L 356.49 292.78 L 356.99 292.47 L 357.49 291.86 L 357.99 290.13 L 358.49 290.45 L 358.99 291.52 L 359.49 294.02 L 360 292.8 L 360.5 290.67 L 361 288.93 L 361.5 291.58 L 362 292.75 L 362.5 293.53 L 363 291.33 L 363.5 290.94 L 364 293.64 L 364.5 293.42 L 365 292.73 L 365.5 289.13 L 366 291.05 L 366.5 288.64 L 367 289.64 L 367.5 291.23 L 368 290.99 L 368.5 292.39 L 369 294.01 L 369.5 294.75 L 370 294.03 L 370.5 292.54 L 371 291.72 L 371.5 205.36 L 372 294.26 L 372.5 291.65 L 373 293.51 L 373.5 293.85 L 374 293.32 L 374.5 291.54 L 375 291.5 L 375.5 291.74 L 376 293.92 L 376.5 294.72 L 377 298.23 L 377.5 291.18 L 378 289.19 L 378.51 294.11 L 379.01 289.7 L 379.51 289.28 L 380.01 289.96 L 380.51 292.75 L 381.01 292.81 L 381.51 290.44 L 382.01 293.15 L 382.51 296.36 L 383.01 293.9 L 383.51 292.13 L 384.01 291.95 L 384.51 293.02 L 385.01 292.06 L 385.51 288.43 L 386.01 291.64 L 386.51 293.06 L 387.01 295 L 387.51 293.82 L 388.01 291.35 L 388.51 291.71 L 389.01 293.05 L 389.51 294.19 L 390.01 297.81 L 390.51 295.07 L 391.01 294.55 L 391.51 291.39 L 392.01 295.28 L 392.51 294.65 L 393.01 291.41 L 393.51 294.12 L 394.01 295.56 L 394.51 293.56 L 395.01 295.79 L 395.51 295.42 L 396.01 295.31 L 396.51 293.79 L 397.02 295.19 L 397.52 294.84 L 398.02 296.67 L 398.52 296.22 L 399.02 294.69 L 399.52 295.51 L 400.02 294.46 L 400.52 294.97 L 401.02 298.51 L 401.52 292.41 L 402.02 293.46 L 402.52 292.54 L 403.02 292.12 L 403.52 293.56 L 404.02 293.13 L 404.52 292.78 L 405.02 295.74 L 405.52 293.85 L 406.02 295.39 L 406.52 293.01 L 407.02 294.87 L 407.52 294.46 L 408.02 294.52 L 408.52 293.53 L 409.02 295 L 409.52 295.81 L 410.02 295.16 L 410.52 293.73 L 411.02 292.46 L 411.52 298.21 L 412.02 302.31 L 412.52 296.82 L 413.02 296.4 L 413.52 294.75 L 414.02 294.9 L 414.52 294.89 L 415.02 294.64 L 415.53 296.14 L 416.03 296.69 L 416.53 298.35 L 417.03 298.15 L 417.53 297.69 L 418.03 294.18 L 418.53 292.24 L 419.03 291.59 L 419.53 294.46 L 420.03 294.18 L 420.53 296.56 L 421.03 295.36 L 421.53 294.53 L 422.03 291.01 L 422.53 294.3 L 423.03 296.04 L 423.53 296.56 L 424.03 296.37 L 424.53 293 L 425.03 292.04 L 425.53 296.26 L 426.03 297.9 L 426.53 297.19 L 427.03 298 L 427.53 294.54 L 428.03 291.98 L 428.53 295.86 L 429.03 295.59 L 429.53 294.18 L 430.03 298.27 L 430.53 297.13 L 431.03 297.98 L 431.53 294.04 L 432.03 294.11 L 432.53 296.18 L 433.03 300.66 L 433.53 296.99 L 434.03 295.03 L 434.54 295.17 L 435.04 293.82 L 435.54 293.14 L 436.04 292.81 L 436.54 293.43 L 437.04 292.91 L 437.54 294.59 L 438.04 294.52 L 438.54 293.7 L 439.04 297.05 L 439.54 298.51 L 440.04 293.82 L 440.54 291.77 L 441.04 292.41 L 441.54 289.52 L 442.04 293.81 L 442.54 298.69 L 443.04 297.37 L 443.54 299.61 L 444.04 295.73 L 444.54 294.25 L 445.04 290.77 L 445.54 291.24 L 446.04 293.22 L 446.54 292.51 L 447.04 292.6 L 447.54 296.1 L 448.04 296.61 L 448.54 299.04 L 449.04 295.57 L 449.54 294.94 L 450.04 296.41 L 450.54 295.01 L 451.04 293.79 L 451.54 292.3 L 452.04 296.07 L 452.54 293.56 L 453.05 295.38 L 453.55 296.7 L 454.05 295.59 L 454.55 299.3 L 455.05 296.07 L 455.55 294.36 L 456.05 298.32 L 456.55 300.24 L 457.05 301.22 L 457.55 298.02 L 458.05 297.98 L 458.55 296.11 L 459.05 296.11 L 459.55 294.33 L 460.05 292.62 L 460.55 297.13 L 461.05 297.23 L 461.55 295.4 L 462.05 292.11 L 462.55 294.1 L 463.05 296.09 L 463.55 297.97 L 464.05 294.62 L 464.55 296.46 L 465.05 295.08 L 465.55 292.3 L 466.05 291.85 L 466.55 292.23 L 467.05 292.98 L 467.55 295.27 L 468.05 295.76 L 468.55 294.38 L 469.05 294.1 L 469.55 291.75 L 470.05 291.2 L 470.55 292.58 L 471.05 291.7 L 471.56 292.33 L 472.06 292.96 L 472.56 291.33 L 473.06 295.04 L 473.56 292 L 474.06 290.81 L 474.56 293.75 L 475.06 292.26 L 475.56 292.17 L 476.06 291.52 L 476.56 290.07 L 477.06 291.18 L 477.56 291.94 L 478.06 292.33 L 478.56 293.05 L 479.06 291.24 L 479.56 291.19 L 480.06 292.58 L 480.56 290.59 L 481.06 288.65 L 481.56 291.17 L 482.06 290.69 L 482.56 293.48 L 483.06 293.67 L 483.56 289.64 L 484.06 293.4 L 484.56 291.48 L 485.06 290.56 L 485.56 294.81 L 486.06 292.97 L 486.56 291.99 L 487.06 292.99 L 487.56 290.28 L 488.06 291.61 L 488.56 291.54 L 489.06 291.19 L 489.56 292.98 L 490.07 295.66 L 490.57 292.09 L 491.07 289.31 L 491.57 290.37 L 492.07 292.35 L 492.57 294.94 L 493.07 293.61 L 493.57 290.77 L 494.07 290.87 L 494.57 289.12 L 495.07 292.43 L 495.57 293.85 L 496.07 293.69 L 496.57 289.51 L 497.07 288.96 L 497.57 290.43 L 498.07 290.25 L 498.57 289.28 L 499.07 289.74 L 499.57 260.8 L 500.07 292.17 L 500.57 292.2 L 501.07 289.52 L 501.57 290.21 L 502.07 292.08 L 502.57 289.49 L 503.07 288.75 L 503.57 289.89 L 504.07 290.26 L 504.57 290.81 L 505.07 290.5 L 505.57 290.52 L 506.07 289.82 L 506.57 292.79 L 507.07 292.91 L 507.57 289.58 L 508.07 289.61 L 508.58 290.79 L 509.08 290.07 L 509.58 292.77 L 510.08 289.56 L 510.58 289.71 L 511.08 291.1 L 511.58 289.69 L 512.08 288.61 L 512.58 288.3 L 513.08 290.17 L 513.58 289.47 L 514.08 287.85 L 514.58 289.85 L 515.08 289.82 L 515.58 291.76 L 516.08 288.87 L 516.58 288.6 L 517.08 291.13 L 517.58 289.77 L 518.08 290.82 L 518.58 290.04 L 519.08 291.64 L 519.58 289.12 L 520.08 289.49 L 520.58 289.76 L 521.08 290.25 L 521.58 290.15 L 522.08 290.17 L 522.58 289.53 L 523.08 291.43 L 523.58 290.37 L 524.08 287.25 L 524.58 290.36 L 525.08 289.8 L 525.58 291.78 L 526.08 291.72 L 526.58 287.63 L 527.08 287.68 L 527.59 291.98 L 528.09 293.85 L 528.59 290.67 L 529.09 286.2 L 529.59 287.66 L 530.09 288.41 L 530.59 288.92 L 531.09 289.18 L 531.59 289.39 L 532.09 287.77 L 532.59 288.09 L 533.09 287.98 L 533.59 288.94 L 534.09 286.74 L 534.59 289.33 L 535.09 289.73 L 535.59 292.33 L 536.09 291.2 L 536.59 288.43 L 537.09 288.37 L 537.59 290.76 L 538.09 291.37 L 538.59 287.31 L 539.09 289.38 L 539.59 289.17 L 540.09 290.35 L 540.59 292.93 L 541.09 292.22 L 541.59 294.19 L 542.09 292.72 L 542.59 292.81 L 543.09 292.72 L 543.59 293.67 L 544.09 294.03 L 544.59 290.33 L 545.09 290.02 L 545.59 289.32 L 546.1 288.44 L 546.6 287.76 L 547.1 289.84 L 547.6 289.21 L 548.1 288.42 L 548.6 288.68 L 549.1 290.02 L 549.6 287.83 L 550.1 288.94 L 550.6 289.2 L 551.1 291.84 L 551.6 292.21 L 552.1 293.43 L 552.6 291.16 L 553.1 291.2 L 553.6 291.27 L 554.1 289.54 L 554.6 290.7 L 555.1 290.76 L 555.6 292.68 L 556.1 292.36 L 556.6 288.5 L 557.1 289.06 L 557.6 290.5 L 558.1 293.13 L 558.6 291.37 L 559.1 292.52 L 559.6 292.8 L 560.1 290.04 L 560.6 289.88 L 561.1 290.54 L 561.6 293.77 L 562.1 295.15 L 562.6 294.26 L 563.1 296.06 L 563.6 295.86 L 564.1 295.74 L 564.61 293.69 L 565.11 292.28 L 565.61 293.86 L 566.11 294.29 L 566.61 295.71 L 567.11 295.46 L 567.61 296.07 L 568.11 298 L 568.61 296.27 L 569.11 298.42 L 569.61 300.07 L 570.11 296.78 L 570.61 294.75 L 571.11 294.96 L 571.61 301.13 L 572.11 296.73 L 572.61 294.76 L 573.11 296.58 L 573.61 300.59 L 574.11 302.78 L 574.61 300.13 L 575.11 302.81 L 575.61 299.5 L 576.11 302.8 L 576.61 302.69 L 577.11 305.19 L 577.61 300.32 L 578.11 297.03 L 578.61 299.43 L 579.11 301.21 L 579.61 302.69 L 580.11 303.59 L 580.61 300.57 L 581.11 306.04 L 581.61 306.69 L 582.11 305.16 L 582.61 308.68 L 583.12 310.2 L 583.62 306.52 L 584.12 307.53 L 584.62 300.55 L 585.12 300.39 L 585.62 299.66 L 586.12 300.28 L 586.62 302.76 L 587.12 307.89 L 587.62 304.59 L 588.12 303.98 L 588.62 306.45 L 589.12 311.55 L 589.62 318.34 L 590.12 308.51 L 590.62 307.55 L 591.12 306.6 L 591.62 315.58 L 592.12 316.03 L 592.62 316.91 L 593.12 311.16 L 593.62 308.72 L 594.12 308.88 L 594.62 305.04 L 595.12 306.12 L 595.62 307.02 L 596.12 307.68 L 596.62 311.36 L 597.12 310.57 L 597.62 307.26 L 598.12 314.1 L 598.62 307.87 L 599.12 305.54 L 599.62 305.62 L 600.12 304.46 L 600.62 311.69 L 601.12 315.37 L 601.63 316.45 L 602.13 308.55 L 602.63 311.74 L 603.13 312.36 L 603.63 309.49 L 604.13 315.12 L 604.63 312.16 L 605.13 311.42 L 605.63 321.62 L 606.13 314.73 L 606.63 312.12 L 607.13 319.59 L 607.63 309.68 L 608.13 312.28 L 608.63 316.87 L 609.13 315.75 L 609.63 316.07 L 610.13 311.7 L 610.63 308.49 L 611.13 313.91 L 611.63 319.32 L 612.13 319.78 L 612.63 316.32 L 613.13 315.29 L 613.63 316.59 L 614.13 313.22 L 614.63 326.3 L 615.13 314.94 L 615.63 310.84 L 616.13 316.95 L 616.63 310.43 L 617.13 316.87 L 617.63 312.61 L 618.13 316.3 L 618.63 322.76 L 619.13 316.02 L 619.63 314.16 L 620.14 312.57 L 620.64 315.01 L 621.14 317.65 L 621.64 312.81 L 622.14 308.08 L 622.64 312.56" clip-path="url(#p0796a7d0fc)" style="fill: none; stroke: #17becf; stroke-width: 2.12; stroke-linecap: square"/>
   </g>
   <g id="line2d_41">
    <path d="M 115.36 122.2 L 115.86 336.39 L 116.36 343.26 L 116.86 348.18 L 117.36 342.71 L 117.86 336.2 L 118.34 361 M 118.4 361 L 118.87 340.82 L 119.37 339.73 L 119.87 342.38 L 120.37 340.28 L 120.87 335.47 L 121.37 328.91 L 121.87 329.85 L 122.37 333.35 L 122.87 330.66 L 123.37 340.56 L 123.87 327.78 L 124.37 330.43 L 124.87 341.51 L 125.37 346.37 L 125.87 330.22 L 126.37 331.48 L 126.87 321.78 L 127.37 326.46 L 127.87 340.92 L 128.37 335.49 L 128.87 334.44 L 129.37 330.86 L 129.87 334.58 L 130.37 333.74 L 130.87 329.61 L 131.37 323.77 L 131.87 328.68 L 132.37 326.26 L 132.87 331.08 L 133.37 331.37 L 133.87 338.25 L 134.37 331.57 L 134.87 337.98 L 135.37 336.88 L 135.87 339.92 L 136.37 329.74 L 136.88 329.76 L 137.38 336.98 L 137.88 334.61 L 138.38 328.64 L 138.88 330.17 L 139.38 328.66 L 139.88 330.6 L 140.38 333.38 L 140.88 328.28 L 141.38 323 L 141.88 328.85 L 142.38 328.54 L 142.88 329.83 L 143.38 330 L 143.88 331.09 L 144.38 342.83 L 144.88 329.9 L 145.38 333.51 L 145.88 331.23 L 146.38 340.52 L 146.88 338.32 L 147.38 330.96 L 147.88 330.37 L 148.38 329.32 L 148.88 345.37 L 149.38 340.94 L 149.88 333.11 L 150.38 341.76 L 150.88 330.46 L 151.38 329.95 L 151.88 334.66 L 152.38 339.56 L 152.88 336 L 153.38 338 L 153.88 332.66 L 154.38 340.68 L 154.88 335.22 L 155.39 330.69 L 155.89 331.58 L 156.39 329.33 L 156.89 326.32 L 157.39 328.1 L 157.89 336.68 L 158.39 328.53 L 158.89 334.7 L 159.39 347.2 L 159.89 327.14 L 160.39 339.01 L 160.89 333.56 L 161.39 333.51 L 161.89 337.54 L 162.39 340.38 L 162.89 332.76 L 163.39 344.47 L 163.89 340.43 L 164.39 335.08 L 164.89 342.58 L 165.29 361 M 165.5 361 L 165.89 342.65 L 166.39 335.4 L 166.89 336.48 L 167.39 346.44 L 167.89 336.88 L 168.39 333.38 L 168.89 335.72 L 169.39 337.9 L 169.89 350.35 L 170.39 351.53 L 170.89 345.08 L 171.39 346.7 L 171.89 331.11 L 172.39 336.89 L 172.89 334.2 L 173.39 341.93 L 173.9 343.7 L 174.4 332.76 L 174.9 334.26 L 175.4 346.95 L 175.9 339.93 L 176.4 334.74 L 176.9 339.74 L 177.4 334.11 L 177.9 331.67 L 178.4 327.42 L 178.9 326.73 L 179.4 339.7 L 179.9 331.48 L 180.4 333.72 L 180.9 334.45 L 181.4 330.41 L 181.9 340.79 L 182.4 335.23 L 182.9 337.75 L 183.4 358.43 L 183.9 334.82 L 184.4 329.01 L 184.9 330.18 L 185.4 330.18 L 185.9 327.68 L 186.4 324.57 L 186.9 322.12 L 187.4 320.76 L 187.9 320.44 L 188.4 330.96 L 188.9 327.73 L 189.4 322.08 L 189.9 320.26 L 190.4 317.13 L 190.9 316.58 L 191.4 318.57 L 191.9 321.36 L 192.41 328.71 L 192.91 323.81 L 193.41 330.26 L 193.91 331.41 L 194.41 319.85 L 194.91 316.52 L 195.41 312.81 L 195.91 325.88 L 196.41 326.12 L 196.91 309.62 L 197.41 305.66 L 197.91 313.94 L 198.41 312.67 L 198.91 311.61 L 199.41 314.29 L 199.91 319.04 L 200.41 314.25 L 200.91 319.64 L 201.41 318.94 L 201.91 312.09 L 202.41 316.76 L 202.91 319.11 L 203.41 318.37 L 203.91 315.24 L 204.41 318.52 L 204.91 316.77 L 205.41 316.28 L 205.91 315.68 L 206.41 315.26 L 206.91 314.68 L 207.41 316.56 L 207.91 317.88 L 208.41 310.12 L 208.91 316.42 L 209.41 317.93 L 209.91 320.62 L 210.41 317.97 L 210.92 317.21 L 211.42 314.54 L 211.92 317.05 L 212.42 316.4 L 212.92 322.27 L 213.42 308.5 L 213.92 307.12 L 214.42 314.6 L 214.92 316.43 L 215.42 307.19 L 215.92 312.11 L 216.42 320.54 L 216.92 308.72 L 217.42 312.23 L 217.92 305.96 L 218.42 302.12 L 218.92 306.91 L 219.42 310.58 L 219.92 313.32 L 220.42 315.19 L 220.92 307.72 L 221.42 310.12 L 221.92 311.31 L 222.42 306.78 L 222.92 307.57 L 223.42 307.25 L 223.92 307.4 L 224.42 311.25 L 224.92 306.87 L 225.42 309.49 L 225.92 308.45 L 226.42 309.23 L 226.92 303.24 L 227.42 303.13 L 227.92 309.85 L 228.42 306.18 L 228.92 303.57 L 229.42 304.93 L 229.93 300.24 L 230.43 300.41 L 230.93 310.08 L 231.43 305.96 L 231.93 303.13 L 232.43 306.05 L 232.93 309.18 L 233.43 306.8 L 233.93 308.32 L 234.43 304.71 L 234.93 301 L 235.43 299.5 L 235.93 304.6 L 236.43 304.02 L 236.93 304.03 L 237.43 303.91 L 237.93 301.68 L 238.43 304.32 L 238.93 301.63 L 239.43 299.02 L 239.93 302.29 L 240.43 308.02 L 240.93 304.32 L 241.43 301.87 L 241.93 303.92 L 242.43 305.8 L 242.93 306.37 L 243.43 258.31 L 243.93 300.89 L 244.43 303.14 L 244.93 301.15 L 245.43 300.47 L 245.93 298.27 L 246.43 297.12 L 246.93 302.69 L 247.43 305.26 L 247.93 301.2 L 248.44 295.92 L 248.94 298.34 L 249.44 299.17 L 249.94 296.16 L 250.44 298.48 L 250.94 297.76 L 251.44 294.76 L 251.94 300.05 L 252.44 298.99 L 252.94 296.62 L 253.44 298.12 L 253.94 298.97 L 254.44 298.87 L 254.94 300.51 L 255.44 299.17 L 255.94 294.87 L 256.44 297.67 L 256.94 302.33 L 257.44 299.2 L 257.94 300.34 L 258.44 299.27 L 258.94 294.49 L 259.44 294.84 L 259.94 296.61 L 260.44 298.73 L 260.94 301.06 L 261.44 298.35 L 261.94 295.64 L 262.44 296.54 L 262.94 302.38 L 263.44 299.89 L 263.94 297.6 L 264.44 296.27 L 264.94 298.76 L 265.44 298.97 L 265.94 301.09 L 266.44 300.07 L 266.95 296.13 L 267.45 294.71 L 267.95 295.51 L 268.45 297.47 L 268.95 299.77 L 269.45 298.25 L 269.95 296.33 L 270.45 296.98 L 270.95 295.6 L 271.45 293.86 L 271.95 294.83 L 272.45 294.88 L 272.95 293.46 L 273.45 292.01 L 273.95 292.15 L 274.45 295.54 L 274.95 292.16 L 275.45 291.68 L 275.95 292.2 L 276.45 292 L 276.95 294.35 L 277.45 292.29 L 277.95 288.83 L 278.45 289.61 L 278.95 298.57 L 279.45 299.7 L 279.95 291.37 L 280.45 293.58 L 280.95 292.83 L 281.45 290.56 L 281.95 290.94 L 282.45 292.73 L 282.95 290.49 L 283.45 291.63 L 283.95 295.51 L 284.45 293.07 L 284.95 289 L 285.46 289.29 L 285.96 290.42 L 286.46 289.43 L 286.96 288.66 L 287.46 290.35 L 287.96 288.06 L 288.46 288.58 L 288.96 288.9 L 289.46 290.83 L 289.96 290 L 290.46 287.57 L 290.96 287.69 L 291.46 285.1 L 291.96 284.54 L 292.46 285.11 L 292.96 285.58 L 293.46 285.83 L 293.96 285.89 L 294.46 285.02 L 294.96 282.72 L 295.46 281.92 L 295.96 281.94 L 296.46 286 L 296.96 287.04 L 297.46 285.58 L 297.96 283.76 L 298.46 284.62 L 298.96 284.59 L 299.46 283.09 L 299.96 285.85 L 300.46 285 L 300.96 285.35 L 301.46 285.65 L 301.96 284.64 L 302.46 285.43 L 302.96 285.96 L 303.46 286.83 L 303.97 286.92 L 304.47 283.51 L 304.97 284.39 L 305.47 283.08 L 305.97 285.83 L 306.47 285.29 L 306.97 284.86 L 307.47 285.05 L 307.97 287.97 L 308.47 286.88 L 308.97 288.65 L 309.47 287.93 L 309.97 285.1 L 310.47 284.69 L 310.97 282.3 L 311.47 282.01 L 311.97 283.72 L 312.47 283.86 L 312.97 282.46 L 313.47 283.3 L 313.97 282.98 L 314.47 285.78 L 314.97 287.19 L 315.47 285.01 L 315.97 285.43 L 316.47 284.4 L 316.97 283.37 L 317.47 283.27 L 317.97 283.12 L 318.47 283.54 L 318.97 283.75 L 319.47 282.92 L 319.97 283.82 L 320.47 286.08 L 320.97 283.96 L 321.47 282.37 L 321.97 282.3 L 322.47 283.05 L 322.98 283.08 L 323.48 283.93 L 323.98 280.91 L 324.48 281.69 L 324.98 281.8 L 325.48 285.89 L 325.98 287.31 L 326.48 284.82 L 326.98 282.98 L 327.48 281.48 L 327.98 281.79 L 328.48 283 L 328.98 283.55 L 329.48 284.53 L 329.98 284.21 L 330.48 283.99 L 330.98 282.78 L 331.48 283.45 L 331.98 284.74 L 332.48 284.62 L 332.98 282.72 L 333.48 284.54 L 333.98 285.14 L 334.48 285.87 L 334.98 284.42 L 335.48 284.29 L 335.98 284.68 L 336.48 284.79 L 336.98 284.39 L 337.48 285.36 L 337.98 282.52 L 338.48 284.26 L 338.98 283.24 L 339.48 286.96 L 339.98 287.19 L 340.48 285.49 L 340.98 282.91 L 341.49 285.04 L 341.99 284.67 L 342.49 286.48 L 342.99 285.24 L 343.49 283.48 L 343.99 283.3 L 344.49 284.99 L 344.99 286.52 L 345.49 284.88 L 345.99 282.34 L 346.49 283.33 L 346.99 284.9 L 347.49 286.12 L 347.99 284.84 L 348.49 285.29 L 348.99 286.77 L 349.49 290.04 L 349.99 284.13 L 350.49 285.28 L 350.99 284.48 L 351.49 283.79 L 351.99 283.37 L 352.49 285.68 L 352.99 284.62 L 353.49 284.82 L 353.99 282.89 L 354.49 284.69 L 354.99 286.51 L 355.49 286.14 L 355.99 282.9 L 356.49 283.82 L 356.99 287.29 L 357.49 285.62 L 357.99 285.13 L 358.49 285.42 L 358.99 283.36 L 359.49 282.87 L 360 281.75 L 360.5 284.43 L 361 283.48 L 361.5 280.54 L 362 282.64 L 362.5 283.21 L 363 281.93 L 363.5 281.87 L 364 283.57 L 364.5 282.77 L 365 282.11 L 365.5 284.92 L 366 286.24 L 366.5 283.55 L 367 284.02 L 367.5 284.21 L 368 285.27 L 368.5 285.74 L 369 285.54 L 369.5 286.36 L 370 288.23 L 370.5 285.05 L 371 283.57 L 371.5 202.59 L 372 287.67 L 372.5 284.21 L 373 284.67 L 373.5 285.72 L 374 288.08 L 374.5 289 L 375 285.96 L 375.5 285.07 L 376 286.04 L 376.5 284.58 L 377 284.81 L 377.5 286.13 L 378 286.87 L 378.51 287.26 L 379.01 288.84 L 379.51 290.88 L 380.01 290.12 L 380.51 286.32 L 381.01 284.17 L 381.51 286.81 L 382.01 285.93 L 382.51 283.23 L 383.01 284.39 L 383.51 283.81 L 384.01 284.43 L 384.51 286.24 L 385.01 285.26 L 385.51 286.82 L 386.01 285.55 L 386.51 286.12 L 387.01 284.46 L 387.51 286.97 L 388.01 286.11 L 388.51 284.72 L 389.01 286.05 L 389.51 285.94 L 390.01 284.29 L 390.51 284.32 L 391.01 285.71 L 391.51 285.14 L 392.01 284.63 L 392.51 284.93 L 393.01 284.74 L 393.51 284.94 L 394.01 284.46 L 394.51 284 L 395.01 283.19 L 395.51 284.26 L 396.01 282.75 L 396.51 283.32 L 397.02 285.59 L 397.52 285.96 L 398.02 284.63 L 398.52 283.66 L 399.02 283.87 L 399.52 287.3 L 400.02 289.61 L 400.52 292.43 L 401.02 292.4 L 401.52 290.34 L 402.02 288.71 L 402.52 289.58 L 403.02 289.55 L 403.52 290.97 L 404.02 290.43 L 404.52 288.27 L 405.02 289.27 L 405.52 290.22 L 406.02 288.08 L 406.52 291.27 L 407.02 289.99 L 407.52 291.62 L 408.02 288.96 L 408.52 289.02 L 409.02 290.25 L 409.52 288.99 L 410.02 287.67 L 410.52 289.61 L 411.02 290.73 L 411.52 291.6 L 412.02 286.83 L 412.52 286.28 L 413.02 286.31 L 413.52 287.82 L 414.02 288.2 L 414.52 289.9 L 415.02 290.28 L 415.53 288.19 L 416.03 287.92 L 416.53 287.58 L 417.03 288.14 L 417.53 287.6 L 418.03 286.98 L 418.53 286.85 L 419.03 283.59 L 419.53 285.5 L 420.03 288.75 L 420.53 289.24 L 421.03 286.66 L 421.53 286.22 L 422.03 290.65 L 422.53 290.74 L 423.03 292.37 L 423.53 290 L 424.03 289.09 L 424.53 289.2 L 425.03 287.87 L 425.53 292.35 L 426.03 292.2 L 426.53 290.05 L 427.03 290.76 L 427.53 291.86 L 428.03 293.75 L 428.53 295.1 L 429.03 291.49 L 429.53 287.95 L 430.03 286.56 L 430.53 285.95 L 431.03 288.54 L 431.53 291.58 L 432.03 294.77 L 432.53 291.69 L 433.03 292.62 L 433.53 293.09 L 434.03 294.7 L 434.54 293.47 L 435.04 289.76 L 435.54 291.4 L 436.04 291.5 L 436.54 289.77 L 437.04 289.87 L 437.54 291.87 L 438.04 288.44 L 438.54 291.73 L 439.04 292.46 L 439.54 292.82 L 440.04 296.21 L 440.54 294.66 L 441.04 292.74 L 441.54 294.47 L 442.04 295.2 L 442.54 292.58 L 443.04 292.89 L 443.54 294.57 L 444.04 295.8 L 444.54 295.8 L 445.04 294.59 L 445.54 291.04 L 446.04 292.04 L 446.54 296.9 L 447.04 297.64 L 447.54 297.82 L 448.04 293.82 L 448.54 293.75 L 449.04 294.78 L 449.54 295.24 L 450.04 294.18 L 450.54 293.43 L 451.04 292.7 L 451.54 294.52 L 452.04 292.05 L 452.54 291.83 L 453.05 298.13 L 453.55 299.5 L 454.05 300.19 L 454.55 298.66 L 455.05 296.81 L 455.55 295.83 L 456.05 300.46 L 456.55 297.56 L 457.05 296.93 L 457.55 295.86 L 458.05 299.21 L 458.55 296.54 L 459.05 293.88 L 459.55 295.78 L 460.05 297.49 L 460.55 301.35 L 461.05 303.29 L 461.55 301.77 L 462.05 296.52 L 462.55 298.05 L 463.05 298.43 L 463.55 296.98 L 464.05 295.69 L 464.55 298.39 L 465.05 299.27 L 465.55 301.17 L 466.05 297.33 L 466.55 300.7 L 467.05 303.2 L 467.55 303.73 L 468.05 308.37 L 468.55 305.03 L 469.05 302.37 L 469.55 302.33 L 470.05 301.08 L 470.55 301.97 L 471.05 302.76 L 471.56 298.75 L 472.06 304.52 L 472.56 302.78 L 473.06 302.69 L 473.56 299.34 L 474.06 300.14 L 474.56 302.89 L 475.06 301.24 L 475.56 297.61 L 476.06 296.36 L 476.56 300.29 L 477.06 302.33 L 477.56 298.83 L 478.06 295.97 L 478.56 300.34 L 479.06 300.32 L 479.56 304.02 L 480.06 301.15 L 480.56 298.27 L 481.06 299.65 L 481.56 302.76 L 482.06 301.87 L 482.56 301.65 L 483.06 300.4 L 483.56 303.85 L 484.06 300.69 L 484.56 297.14 L 485.06 296.7 L 485.56 298.26 L 486.06 295.55 L 486.56 298.21 L 487.06 297.14 L 487.56 296.26 L 488.06 300.6 L 488.56 299.88 L 489.06 305.61 L 489.56 304.04 L 490.07 301.62 L 490.57 300.24 L 491.07 297.53 L 491.57 298.42 L 492.07 297.23 L 492.57 302.65 L 493.07 301.73 L 493.57 304.99 L 494.07 310.48 L 494.57 303.68 L 495.07 302.18 L 495.57 304.19 L 496.07 305.34 L 496.57 305.72 L 497.07 305.52 L 497.57 305.19 L 498.07 305.98 L 498.57 305.29 L 499.07 312.95 L 499.57 257.48 L 500.07 304.04 L 500.57 302.11 L 501.07 304.35 L 501.57 307.56 L 502.07 305.19 L 502.57 305.95 L 503.07 300.59 L 503.57 296.95 L 504.07 300.88 L 504.57 303.38 L 505.07 300.09 L 505.57 299.03 L 506.07 303.08 L 506.57 301.11 L 507.07 302.37 L 507.57 299.8 L 508.07 299.63 L 508.58 303.97 L 509.08 304.25 L 509.58 295.17 L 510.08 295.14 L 510.58 295.88 L 511.08 298.72 L 511.58 299.34 L 512.08 298.8 L 512.58 302.01 L 513.08 300.72 L 513.58 299.22 L 514.08 299.1 L 514.58 300.91 L 515.08 300.39 L 515.58 298.12 L 516.08 301.09 L 516.58 302.51 L 517.08 300.46 L 517.58 302.1 L 518.08 306.78 L 518.58 307.05 L 519.08 310.39 L 519.58 305.3 L 520.08 298.04 L 520.58 301.93 L 521.08 310.63 L 521.58 303.89 L 522.08 298.45 L 522.58 303.03 L 523.08 300.07 L 523.58 303.62 L 524.08 302.75 L 524.58 301.45 L 525.08 298.94 L 525.58 302.56 L 526.08 302.27 L 526.58 302.87 L 527.08 298.94 L 527.59 299.82 L 528.09 305.66 L 528.59 304.88 L 529.09 302.87 L 529.59 302.7 L 530.09 301.58 L 530.59 300.83 L 531.09 301.08 L 531.59 299.13 L 532.09 303.3 L 532.59 299.43 L 533.09 297.69 L 533.59 297.77 L 534.09 298.93 L 534.59 302.44 L 535.09 305.22 L 535.59 307.29 L 536.09 304.99 L 536.59 303.39 L 537.09 298.7 L 537.59 302.22 L 538.09 299.66 L 538.59 299.2 L 539.09 296.81 L 539.59 301.96 L 540.09 298.89 L 540.59 303.87 L 541.09 300.15 L 541.59 297.56 L 542.09 300.79 L 542.59 299.95 L 543.09 298.71 L 543.59 303.71 L 544.09 305.39 L 544.59 304.36 L 545.09 302.34 L 545.59 302.06 L 546.1 296.87 L 546.6 298.81 L 547.1 296.89 L 547.6 298.43 L 548.1 295.02 L 548.6 297.04 L 549.1 300.94 L 549.6 302.08 L 550.1 307.02 L 550.6 302.38 L 551.1 302.48 L 551.6 299.26 L 552.1 298.19 L 552.6 301.49 L 553.1 299.89 L 553.6 303.94 L 554.1 305.4 L 554.6 308.88 L 555.1 304.93 L 555.6 303.06 L 556.1 299.97 L 556.6 299.09 L 557.1 301.1 L 557.6 298.49 L 558.1 299.65 L 558.6 308.7 L 559.1 306.67 L 559.6 301.96 L 560.1 298.51 L 560.6 298.75 L 561.1 302.13 L 561.6 304.9 L 562.1 301.58 L 562.6 299.89 L 563.1 304.82 L 563.6 307.01 L 564.1 302.48 L 564.61 308.22 L 565.11 306.34 L 565.61 303.88 L 566.11 307.76 L 566.61 307.78 L 567.11 309.21 L 567.61 301.67 L 568.11 304.51 L 568.61 305.04 L 569.11 306.71 L 569.61 300.74 L 570.11 301.07 L 570.61 304.68 L 571.11 306.13 L 571.61 312.46 L 572.11 305.7 L 572.61 303.59 L 573.11 307.74 L 573.61 309.75 L 574.11 308.72 L 574.61 306.59 L 575.11 308.28 L 575.61 314.45 L 576.11 308 L 576.61 308.74 L 577.11 309.51 L 577.61 312.09 L 578.11 312.46 L 578.61 310.5 L 579.11 316.83 L 579.61 318.15 L 580.11 309.77 L 580.61 306.06 L 581.11 310.64 L 581.61 311.48 L 582.11 310.84 L 582.61 310.43 L 583.12 309.98 L 583.62 304.45 L 584.12 307.02 L 584.62 308.91 L 585.12 308.55 L 585.62 307.26 L 586.12 305.6 L 586.62 309.1 L 587.12 309.27 L 587.62 310.71 L 588.12 313.34 L 588.62 315.14 L 589.12 312.18 L 589.62 310.59 L 590.12 313.64 L 590.62 327.47 L 591.12 320.63 L 591.62 313.98 L 592.12 315.07 L 592.62 314.51 L 593.12 314.41 L 593.62 308.08 L 594.12 309.04 L 594.62 311.61 L 595.12 317.81 L 595.62 310.84 L 596.12 312.76 L 596.62 307.97 L 597.12 314.22 L 597.62 318.17 L 598.12 324.27 L 598.62 315.02 L 599.12 318.46 L 599.62 317.21 L 600.12 307.49 L 600.62 304.13 L 601.12 313.98 L 601.63 323.26 L 602.13 330.85 L 602.63 319.29 L 603.13 313.03 L 603.63 320.78 L 604.13 317.83 L 604.63 304.7 L 605.13 305.22 L 605.63 307.91 L 606.13 317.08 L 606.63 320.23 L 607.13 320.41 L 607.63 316.38 L 608.13 315.05 L 608.63 310.81 L 609.13 309.12 L 609.63 308.57 L 610.13 308.66 L 610.63 308.57 L 611.13 315.27 L 611.63 314.67 L 612.13 313.81 L 612.63 306.02 L 613.13 313.27 L 613.63 319.87 L 614.13 319.6 L 614.63 317.14 L 615.13 314.11 L 615.63 314.35 L 616.13 312.29 L 616.63 307.11 L 617.13 315.96 L 617.63 313.68 L 618.13 309.95 L 618.63 320.46 L 619.13 321.1 L 619.63 310.4 L 620.14 317.5 L 620.64 313.58 L 621.14 315.95 L 621.64 309.91 L 622.14 306.18 L 622.64 316.06" clip-path="url(#p0796a7d0fc)" style="fill: none; stroke: #1f77b4; stroke-linecap: square"/>
   </g>
   <g id="line2d_42">
    <path d="M 115.36 122.2 L 115.86 53.12 L 116.36 46.57 L 116.86 44.84 L 117.36 44.18 L 117.86 43.85 L 118.37 43.67 L 118.87 43.57 L 119.37 43.49 L 119.87 43.45 L 120.37 43.41 L 120.87 43.38 L 121.37 43.36 L 121.87 43.35 L 122.37 43.34 L 122.87 43.33 L 123.37 43.32 L 123.87 43.31 L 124.37 43.31 L 124.87 43.3 L 125.37 43.3 L 125.87 43.3 L 126.37 43.3 L 126.87 43.29 L 127.37 43.29 L 127.87 43.29 L 128.37 43.29 L 128.87 43.29 L 129.37 43.29 L 129.87 43.29 L 130.37 43.28 L 130.87 43.28 L 131.37 43.28 L 131.87 43.28 L 132.37 43.28 L 132.87 43.28 L 133.37 43.28 L 133.87 43.28 L 134.37 43.28 L 134.87 43.28 L 135.37 43.28 L 135.87 43.28 L 136.37 43.28 L 136.88 43.29 L 137.38 43.29 L 137.88 43.29 L 138.38 43.29 L 138.88 43.29 L 139.38 43.29 L 139.88 43.29 L 140.38 43.29 L 140.88 43.29 L 141.38 43.29 L 141.88 43.29 L 142.38 43.29 L 142.88 43.29 L 143.38 43.29 L 143.88 43.29 L 144.38 43.29 L 144.88 43.29 L 145.38 43.3 L 145.88 43.3 L 146.38 43.3 L 146.88 43.3 L 147.38 43.3 L 147.88 43.3 L 148.38 43.3 L 148.88 43.3 L 149.38 43.3 L 149.88 43.3 L 150.38 43.3 L 150.88 43.3 L 151.38 43.31 L 151.88 43.31 L 152.38 43.31 L 152.88 43.31 L 153.38 43.31 L 153.88 43.31 L 154.38 43.31 L 154.88 43.31 L 155.39 43.31 L 155.89 43.31 L 156.39 43.31 L 156.89 43.32 L 157.39 43.32 L 157.89 43.32 L 158.39 43.32 L 158.89 43.32 L 159.39 43.32 L 159.89 43.32 L 160.39 43.32 L 160.89 43.32 L 161.39 43.33 L 161.89 43.33 L 162.39 43.33 L 162.89 43.33 L 163.39 43.33 L 163.89 43.33 L 164.39 43.33 L 164.89 43.33 L 165.39 43.33 L 165.89 43.34 L 166.39 43.34 L 166.89 43.34 L 167.39 43.34 L 167.89 43.34 L 168.39 43.34 L 168.89 43.34 L 169.39 43.34 L 169.89 43.34 L 170.39 43.35 L 170.89 43.35 L 171.39 43.35 L 171.89 43.35 L 172.39 43.35 L 172.89 43.35 L 173.39 43.35 L 173.9 43.35 L 174.4 43.36 L 174.9 43.36 L 175.4 43.36 L 175.9 43.36 L 176.4 43.36 L 176.9 43.36 L 177.4 43.36 L 177.9 43.36 L 178.4 43.36 L 178.9 43.37 L 179.4 43.37 L 179.9 43.37 L 180.4 43.37 L 180.9 43.37 L 181.4 43.37 L 181.9 43.37 L 182.4 43.37 L 182.9 43.38 L 183.4 43.38 L 183.9 43.38 L 184.4 43.38 L 184.9 43.38 L 185.4 43.38 L 185.9 43.38 L 186.4 43.39 L 186.9 43.39 L 187.4 43.39 L 187.9 43.39 L 188.4 43.39 L 188.9 43.39 L 189.4 43.4 L 189.9 43.4 L 190.4 43.4 L 190.9 43.4 L 191.4 43.4 L 191.9 43.4 L 192.41 43.41 L 192.91 43.41 L 193.41 43.41 L 193.91 43.41 L 194.41 43.41 L 194.91 43.41 L 195.41 43.42 L 195.91 43.42 L 196.41 43.42 L 196.91 43.42 L 197.41 43.42 L 197.91 43.42 L 198.41 43.43 L 198.91 43.43 L 199.41 43.43 L 199.91 43.43 L 200.41 43.43 L 200.91 43.44 L 201.41 43.44 L 201.91 43.44 L 202.41 43.44 L 202.91 43.44 L 203.41 43.45 L 203.91 43.45 L 204.41 43.45 L 204.91 43.45 L 205.41 43.45 L 205.91 43.46 L 206.41 43.46 L 206.91 43.46 L 207.41 43.46 L 207.91 43.46 L 208.41 43.47 L 208.91 43.47 L 209.41 43.47 L 209.91 43.47 L 210.41 43.48 L 210.92 43.48 L 211.42 43.48 L 211.92 43.48 L 212.42 43.48 L 212.92 43.49 L 213.42 43.49 L 213.92 43.49 L 214.42 43.49 L 214.92 43.5 L 215.42 43.5 L 215.92 43.5 L 216.42 43.5 L 216.92 43.5 L 217.42 43.51 L 217.92 43.51 L 218.42 43.51 L 218.92 43.51 L 219.42 43.52 L 219.92 43.52 L 220.42 43.52 L 220.92 43.52 L 221.42 43.53 L 221.92 43.53 L 222.42 43.53 L 222.92 43.53 L 223.42 43.54 L 223.92 43.54 L 224.42 43.54 L 224.92 43.54 L 225.42 43.55 L 225.92 43.55 L 226.42 43.55 L 226.92 43.55 L 227.42 43.56 L 227.92 43.56 L 228.42 43.56 L 228.92 43.56 L 229.42 43.57 L 229.93 43.57 L 230.43 43.57 L 230.93 43.58 L 231.43 43.58 L 231.93 43.58 L 232.43 43.58 L 232.93 43.59 L 233.43 43.59 L 233.93 43.59 L 234.43 43.59 L 234.93 43.6 L 235.43 43.6 L 235.93 43.6 L 236.43 43.6 L 236.93 43.61 L 237.43 43.61 L 237.93 43.61 L 238.43 43.62 L 238.93 43.62 L 239.43 43.62 L 239.93 43.62 L 240.43 43.63 L 240.93 43.63 L 241.43 43.63 L 241.93 43.64 L 242.43 43.64 L 242.93 43.64 L 243.43 43.64 L 243.93 43.65 L 244.43 43.65 L 244.93 43.65 L 245.43 43.66 L 245.93 43.66 L 246.43 43.66 L 246.93 43.66 L 247.43 43.67 L 247.93 43.67 L 248.44 43.67 L 248.94 43.68 L 249.44 43.68 L 249.94 43.68 L 250.44 43.69 L 250.94 43.69 L 251.44 43.69 L 251.94 43.69 L 252.44 43.7 L 252.94 43.7 L 253.44 43.7 L 253.94 43.71 L 254.44 43.71 L 254.94 43.71 L 255.44 43.72 L 255.94 43.72 L 256.44 43.72 L 256.94 43.73 L 257.44 43.73 L 257.94 43.73 L 258.44 43.74 L 258.94 43.74 L 259.44 43.75 L 259.94 43.75 L 260.44 43.75 L 260.94 43.76 L 261.44 43.76 L 261.94 43.76 L 262.44 43.77 L 262.94 43.77 L 263.44 43.77 L 263.94 43.78 L 264.44 43.78 L 264.94 43.78 L 265.44 43.79 L 265.94 43.79 L 266.44 43.8 L 266.95 43.8 L 267.45 43.8 L 267.95 43.81 L 268.45 43.81 L 268.95 43.82 L 269.45 43.82 L 269.95 43.82 L 270.45 43.83 L 270.95 43.83 L 271.45 43.83 L 271.95 43.84 L 272.45 43.84 L 272.95 43.85 L 273.45 43.85 L 273.95 43.85 L 274.45 43.86 L 274.95 43.86 L 275.45 43.87 L 275.95 43.87 L 276.45 43.88 L 276.95 43.88 L 277.45 43.88 L 277.95 43.89 L 278.45 43.89 L 278.95 43.9 L 279.45 43.9 L 279.95 43.91 L 280.45 43.91 L 280.95 43.91 L 281.45 43.92 L 281.95 43.92 L 282.45 43.93 L 282.95 43.93 L 283.45 43.94 L 283.95 43.94 L 284.45 43.94 L 284.95 43.95 L 285.46 43.95 L 285.96 43.96 L 286.46 43.96 L 286.96 43.97 L 287.46 43.97 L 287.96 43.98 L 288.46 43.98 L 288.96 43.99 L 289.46 43.99 L 289.96 43.99 L 290.46 44 L 290.96 44 L 291.46 44.01 L 291.96 44.01 L 292.46 44.02 L 292.96 44.02 L 293.46 44.03 L 293.96 44.03 L 294.46 44.04 L 294.96 44.04 L 295.46 44.05 L 295.96 44.05 L 296.46 44.06 L 296.96 44.06 L 297.46 44.07 L 297.96 44.07 L 298.46 44.08 L 298.96 44.08 L 299.46 44.09 L 299.96 44.09 L 300.46 44.1 L 300.96 44.1 L 301.46 44.11 L 301.96 44.11 L 302.46 44.12 L 302.96 44.12 L 303.46 44.13 L 303.97 44.13 L 304.47 44.14 L 304.97 44.14 L 305.47 44.15 L 305.97 44.15 L 306.47 44.16 L 306.97 44.16 L 307.47 44.17 L 307.97 44.18 L 308.47 44.18 L 308.97 44.19 L 309.47 44.19 L 309.97 44.2 L 310.47 44.2 L 310.97 44.21 L 311.47 44.21 L 311.97 44.22 L 312.47 44.22 L 312.97 44.23 L 313.47 44.24 L 313.97 44.24 L 314.47 44.25 L 314.97 44.25 L 315.47 44.26 L 315.97 44.26 L 316.47 44.27 L 316.97 44.28 L 317.47 44.28 L 317.97 44.29 L 318.47 44.29 L 318.97 44.3 L 319.47 44.31 L 319.97 44.31 L 320.47 44.32 L 320.97 44.32 L 321.47 44.33 L 321.97 44.34 L 322.47 44.34 L 322.98 44.35 L 323.48 44.36 L 323.98 44.36 L 324.48 44.37 L 324.98 44.37 L 325.48 44.38 L 325.98 44.39 L 326.48 44.39 L 326.98 44.4 L 327.48 44.41 L 327.98 44.41 L 328.48 44.42 L 328.98 44.43 L 329.48 44.43 L 329.98 44.44 L 330.48 44.45 L 330.98 44.45 L 331.48 44.46 L 331.98 44.47 L 332.48 44.47 L 332.98 44.48 L 333.48 44.49 L 333.98 44.5 L 334.48 44.5 L 334.98 44.51 L 335.48 44.52 L 335.98 44.52 L 336.48 44.53 L 336.98 44.54 L 337.48 44.55 L 337.98 44.55 L 338.48 44.56 L 338.98 44.57 L 339.48 44.57 L 339.98 44.58 L 340.48 44.59 L 340.98 44.6 L 341.49 44.6 L 341.99 44.61 L 342.49 44.62 L 342.99 44.63 L 343.49 44.64 L 343.99 44.64 L 344.49 44.65 L 344.99 44.66 L 345.49 44.67 L 345.99 44.67 L 346.49 44.68 L 346.99 44.69 L 347.49 44.7 L 347.99 44.71 L 348.49 44.72 L 348.99 44.72 L 349.49 44.73 L 349.99 44.74 L 350.49 44.75 L 350.99 44.76 L 351.49 44.77 L 351.99 44.77 L 352.49 44.78 L 352.99 44.79 L 353.49 44.8 L 353.99 44.81 L 354.49 44.82 L 354.99 44.83 L 355.49 44.83 L 355.99 44.84 L 356.49 44.85 L 356.99 44.86 L 357.49 44.87 L 357.99 44.88 L 358.49 44.89 L 358.99 44.9 L 359.49 44.91 L 360 44.92 L 360.5 44.92 L 361 44.93 L 361.5 44.94 L 362 44.95 L 362.5 44.96 L 363 44.97 L 363.5 44.98 L 364 44.99 L 364.5 45 L 365 45.01 L 365.5 45.02 L 366 45.03 L 366.5 45.04 L 367 45.05 L 367.5 45.06 L 368 45.07 L 368.5 45.08 L 369 45.09 L 369.5 45.1 L 370 45.11 L 370.5 45.12 L 371 45.13 L 371.5 45.14 L 372 45.15 L 372.5 45.16 L 373 45.17 L 373.5 45.18 L 374 45.19 L 374.5 45.2 L 375 45.22 L 375.5 45.23 L 376 45.24 L 376.5 45.25 L 377 45.26 L 377.5 45.27 L 378 45.28 L 378.51 45.3 L 379.01 45.31 L 379.51 45.32 L 380.01 45.33 L 380.51 45.34 L 381.01 45.36 L 381.51 45.37 L 382.01 45.38 L 382.51 45.39 L 383.01 45.41 L 383.51 45.42 L 384.01 45.43 L 384.51 45.45 L 385.01 45.46 L 385.51 45.47 L 386.01 45.49 L 386.51 45.5 L 387.01 45.51 L 387.51 45.53 L 388.01 45.54 L 388.51 45.55 L 389.01 45.57 L 389.51 45.58 L 390.01 45.6 L 390.51 45.61 L 391.01 45.62 L 391.51 45.64 L 392.01 45.65 L 392.51 45.67 L 393.01 45.68 L 393.51 45.7 L 394.01 45.71 L 394.51 45.73 L 395.01 45.74 L 395.51 45.76 L 396.01 45.77 L 396.51 45.79 L 397.02 45.8 L 397.52 45.82 L 398.02 45.84 L 398.52 45.85 L 399.02 45.87 L 399.52 45.88 L 400.02 45.9 L 400.52 45.91 L 401.02 45.93 L 401.52 45.95 L 402.02 45.96 L 402.52 45.98 L 403.02 46 L 403.52 46.01 L 404.02 46.03 L 404.52 46.05 L 405.02 46.06 L 405.52 46.08 L 406.02 46.1 L 406.52 46.11 L 407.02 46.13 L 407.52 46.15 L 408.02 46.17 L 408.52 46.18 L 409.02 46.2 L 409.52 46.22 L 410.02 46.24 L 410.52 46.26 L 411.02 46.27 L 411.52 46.29 L 412.02 46.31 L 412.52 46.33 L 413.02 46.35 L 413.52 46.36 L 414.02 46.38 L 414.52 46.4 L 415.02 46.42 L 415.53 46.44 L 416.03 46.46 L 416.53 46.48 L 417.03 46.49 L 417.53 46.51 L 418.03 46.53 L 418.53 46.55 L 419.03 46.57 L 419.53 46.59 L 420.03 46.61 L 420.53 46.63 L 421.03 46.65 L 421.53 46.67 L 422.03 46.69 L 422.53 46.71 L 423.03 46.73 L 423.53 46.75 L 424.03 46.77 L 424.53 46.79 L 425.03 46.81 L 425.53 46.83 L 426.03 46.85 L 426.53 46.87 L 427.03 46.89 L 427.53 46.91 L 428.03 46.93 L 428.53 46.95 L 429.03 46.97 L 429.53 46.99 L 430.03 47.01 L 430.53 47.03 L 431.03 47.05 L 431.53 47.08 L 432.03 47.1 L 432.53 47.12 L 433.03 47.14 L 433.53 47.16 L 434.03 47.18 L 434.54 47.2 L 435.04 47.23 L 435.54 47.25 L 436.04 47.27 L 436.54 47.29 L 437.04 47.31 L 437.54 47.34 L 438.04 47.36 L 438.54 47.38 L 439.04 47.41 L 439.54 47.43 L 440.04 47.45 L 440.54 47.48 L 441.04 47.5 L 441.54 47.53 L 442.04 47.55 L 442.54 47.58 L 443.04 47.61 L 443.54 47.63 L 444.04 47.66 L 444.54 47.69 L 445.04 47.71 L 445.54 47.74 L 446.04 47.77 L 446.54 47.79 L 447.04 47.82 L 447.54 47.85 L 448.04 47.88 L 448.54 47.91 L 449.04 47.94 L 449.54 47.97 L 450.04 47.99 L 450.54 48.02 L 451.04 48.05 L 451.54 48.08 L 452.04 48.11 L 452.54 48.14 L 453.05 48.17 L 453.55 48.2 L 454.05 48.23 L 454.55 48.27 L 455.05 48.3 L 455.55 48.33 L 456.05 48.36 L 456.55 48.39 L 457.05 48.42 L 457.55 48.45 L 458.05 48.48 L 458.55 48.52 L 459.05 48.55 L 459.55 48.58 L 460.05 48.61 L 460.55 48.65 L 461.05 48.68 L 461.55 48.71 L 462.05 48.74 L 462.55 48.78 L 463.05 48.81 L 463.55 48.84 L 464.05 48.87 L 464.55 48.91 L 465.05 48.94 L 465.55 48.97 L 466.05 49.01 L 466.55 49.04 L 467.05 49.07 L 467.55 49.11 L 468.05 49.14 L 468.55 49.18 L 469.05 49.21 L 469.55 49.25 L 470.05 49.28 L 470.55 49.32 L 471.05 49.35 L 471.56 49.39 L 472.06 49.43 L 472.56 49.46 L 473.06 49.5 L 473.56 49.54 L 474.06 49.58 L 474.56 49.62 L 475.06 49.65 L 475.56 49.69 L 476.06 49.73 L 476.56 49.77 L 477.06 49.81 L 477.56 49.85 L 478.06 49.89 L 478.56 49.93 L 479.06 49.97 L 479.56 50.01 L 480.06 50.05 L 480.56 50.09 L 481.06 50.13 L 481.56 50.17 L 482.06 50.21 L 482.56 50.25 L 483.06 50.29 L 483.56 50.33 L 484.06 50.37 L 484.56 50.41 L 485.06 50.45 L 485.56 50.49 L 486.06 50.54 L 486.56 50.58 L 487.06 50.62 L 487.56 50.66 L 488.06 50.7 L 488.56 50.74 L 489.06 50.78 L 489.56 50.82 L 490.07 50.86 L 490.57 50.9 L 491.07 50.95 L 491.57 50.99 L 492.07 51.03 L 492.57 51.07 L 493.07 51.11 L 493.57 51.15 L 494.07 51.19 L 494.57 51.23 L 495.07 51.27 L 495.57 51.31 L 496.07 51.35 L 496.57 51.39 L 497.07 51.43 L 497.57 51.47 L 498.07 51.51 L 498.57 51.55 L 499.07 51.59 L 499.57 51.63 L 500.07 51.67 L 500.57 51.71 L 501.07 51.74 L 501.57 51.78 L 502.07 51.82 L 502.57 51.86 L 503.07 51.9 L 503.57 51.94 L 504.07 51.98 L 504.57 52.02 L 505.07 52.06 L 505.57 52.1 L 506.07 52.14 L 506.57 52.18 L 507.07 52.22 L 507.57 52.26 L 508.07 52.3 L 508.58 52.34 L 509.08 52.38 L 509.58 52.42 L 510.08 52.46 L 510.58 52.5 L 511.08 52.54 L 511.58 52.58 L 512.08 52.62 L 512.58 52.67 L 513.08 52.71 L 513.58 52.75 L 514.08 52.79 L 514.58 52.84 L 515.08 52.88 L 515.58 52.92 L 516.08 52.97 L 516.58 53.01 L 517.08 53.06 L 517.58 53.1 L 518.08 53.14 L 518.58 53.19 L 519.08 53.23 L 519.58 53.28 L 520.08 53.32 L 520.58 53.37 L 521.08 53.41 L 521.58 53.46 L 522.08 53.5 L 522.58 53.55 L 523.08 53.6 L 523.58 53.64 L 524.08 53.69 L 524.58 53.74 L 525.08 53.78 L 525.58 53.83 L 526.08 53.88 L 526.58 53.93 L 527.08 53.98 L 527.59 54.03 L 528.09 54.07 L 528.59 54.12 L 529.09 54.17 L 529.59 54.22 L 530.09 54.28 L 530.59 54.33 L 531.09 54.38 L 531.59 54.43 L 532.09 54.48 L 532.59 54.53 L 533.09 54.59 L 533.59 54.64 L 534.09 54.7 L 534.59 54.75 L 535.09 54.8 L 535.59 54.86 L 536.09 54.91 L 536.59 54.97 L 537.09 55.03 L 537.59 55.08 L 538.09 55.14 L 538.59 55.2 L 539.09 55.26 L 539.59 55.32 L 540.09 55.38 L 540.59 55.45 L 541.09 55.51 L 541.59 55.57 L 542.09 55.64 L 542.59 55.71 L 543.09 55.77 L 543.59 55.84 L 544.09 55.92 L 544.59 55.99 L 545.09 56.07 L 545.59 56.15 L 546.1 56.23 L 546.6 56.31 L 547.1 56.4 L 547.6 56.48 L 548.1 56.57 L 548.6 56.65 L 549.1 56.74 L 549.6 56.82 L 550.1 56.91 L 550.6 56.99 L 551.1 57.08 L 551.6 57.16 L 552.1 57.24 L 552.6 57.33 L 553.1 57.41 L 553.6 57.5 L 554.1 57.58 L 554.6 57.67 L 555.1 57.76 L 555.6 57.85 L 556.1 57.95 L 556.6 58.05 L 557.1 58.15 L 557.6 58.26 L 558.1 58.36 L 558.6 58.48 L 559.1 58.59 L 559.6 58.71 L 560.1 58.83 L 560.6 58.96 L 561.1 59.1 L 561.6 59.24 L 562.1 59.39 L 562.6 59.54 L 563.1 59.71 L 563.6 59.89 L 564.1 60.08 L 564.61 60.29 L 565.11 60.51 L 565.61 60.74 L 566.11 60.98 L 566.61 61.24 L 567.11 61.5 L 567.61 61.77 L 568.11 62.04 L 568.61 62.33 L 569.11 62.61 L 569.61 62.9 L 570.11 63.19 L 570.61 63.49 L 571.11 63.78 L 571.61 64.08 L 572.11 64.39 L 572.61 64.7 L 573.11 65.02 L 573.61 65.35 L 574.11 65.68 L 574.61 66.02 L 575.11 66.36 L 575.61 66.72 L 576.11 67.08 L 576.61 67.45 L 577.11 67.83 L 577.61 68.22 L 578.11 68.61 L 578.61 69.02 L 579.11 69.44 L 579.61 69.87 L 580.11 70.31 L 580.61 70.78 L 581.11 71.27 L 581.61 71.77 L 582.11 72.29 L 582.61 72.82 L 583.12 73.37 L 583.62 73.93 L 584.12 74.5 L 584.62 75.08 L 585.12 75.66 L 585.62 76.25 L 586.12 76.85 L 586.62 77.45 L 587.12 78.05 L 587.62 78.65 L 588.12 79.25 L 588.62 79.85 L 589.12 80.45 L 589.62 81.05 L 590.12 81.66 L 590.62 82.26 L 591.12 82.88 L 591.62 83.49 L 592.12 84.12 L 592.62 84.75 L 593.12 85.39 L 593.62 86.03 L 594.12 86.69 L 594.62 87.36 L 595.12 88.04 L 595.62 88.74 L 596.12 89.45 L 596.62 90.17 L 597.12 90.91 L 597.62 91.67 L 598.12 92.45 L 598.62 93.25 L 599.12 94.08 L 599.62 94.93 L 600.12 95.8 L 600.62 96.68 L 601.12 97.58 L 601.63 98.49 L 602.13 99.42 L 602.63 100.35 L 603.13 101.3 L 603.63 102.25 L 604.13 103.2 L 604.63 104.16 L 605.13 105.12 L 605.63 106.08 L 606.13 107.03 L 606.63 107.98 L 607.13 108.95 L 607.63 109.93 L 608.13 110.92 L 608.63 111.93 L 609.13 112.94 L 609.63 113.96 L 610.13 114.98 L 610.63 116.01 L 611.13 117.03 L 611.63 118.06 L 612.13 119.09 L 612.63 120.11 L 613.13 121.13 L 613.63 122.14 L 614.13 123.15 L 614.63 124.14 L 615.13 125.12 L 615.63 126.08 L 616.13 127.05 L 616.63 128 L 617.13 128.96 L 617.63 129.91 L 618.13 130.85 L 618.63 131.79 L 619.13 132.72 L 619.63 133.65 L 620.14 134.58 L 620.64 135.5 L 621.14 136.42 L 621.64 137.33 L 622.14 138.24 L 622.64 139.14" clip-path="url(#p0796a7d0fc)" style="fill: none; stroke: #ff7f0e; stroke-linecap: square"/>
   </g>
   <g id="line2d_43">
    <path d="M 115.36 126.36 L 115.86 308.04 L 116.36 310.81 L 116.86 308.34 L 117.36 305.69 L 117.86 302.08 L 118.37 300.55 L 118.87 304.42 L 119.37 308.86 L 119.87 300.44 L 120.37 297.31 L 120.87 304.99 L 121.37 311.04 L 121.87 316.62 L 122.37 317.41 L 122.87 317.23 L 123.37 307.65 L 123.87 323.57 L 124.37 317.23 L 124.87 305.29 L 125.37 319.26 L 125.87 316.29 L 126.37 305.96 L 126.87 327.64 L 127.37 315.98 L 127.87 300.25 L 128.37 306.27 L 128.87 322.1 L 129.37 325.79 L 129.87 323.46 L 130.37 308.46 L 130.87 313.65 L 131.37 318.12 L 131.87 319.58 L 132.37 309.21 L 132.87 330.55 L 133.37 337.85 L 133.87 314.36 L 134.37 315.75 L 134.87 306.72 L 135.37 308.29 L 135.87 306.07 L 136.37 308.26 L 136.88 309.72 L 137.38 311.38 L 137.88 311.8 L 138.38 328.8 L 138.88 322.97 L 139.38 307.07 L 139.88 303.19 L 140.38 309.46 L 140.88 317.6 L 141.38 312.65 L 141.88 305.47 L 142.38 306 L 142.88 314.33 L 143.38 305.83 L 143.88 322.79 L 144.38 324.46 L 144.88 331.88 L 145.38 306.61 L 145.88 299.03 L 146.38 306.93 L 146.88 313.34 L 147.38 313.39 L 147.88 309.35 L 148.38 306.16 L 148.88 303.93 L 149.38 301.1 L 149.88 302.27 L 150.38 321.22 L 150.88 310.36 L 151.38 304.8 L 151.88 308.48 L 152.38 301.49 L 152.88 309.31 L 153.38 319.01 L 153.88 310.06 L 154.38 301.64 L 154.88 299.17 L 155.39 304.4 L 155.89 304.29 L 156.39 307.59 L 156.89 313.88 L 157.39 310.53 L 157.89 307.04 L 158.39 314.65 L 158.89 305.51 L 159.39 305.49 L 159.89 306.47 L 160.39 301.36 L 160.89 303.82 L 161.39 302.54 L 161.89 312.06 L 162.39 309.12 L 162.89 297.06 L 163.39 303.4 L 163.89 312.99 L 164.39 305.83 L 164.89 307.4 L 165.39 304.55 L 165.89 317.74 L 166.39 308.61 L 166.89 307.05 L 167.39 311.17 L 167.89 315.05 L 168.39 310.47 L 168.89 300.89 L 169.39 301.78 L 169.89 313.12 L 170.39 309.1 L 170.89 301.26 L 171.39 303.92 L 171.89 310.59 L 172.39 305.54 L 172.89 309.89 L 173.39 311.77 L 173.9 315 L 174.4 305.66 L 174.9 304.3 L 175.4 302.33 L 175.9 305.45 L 176.4 310.87 L 176.9 313.5 L 177.4 314.77 L 177.9 309.24 L 178.4 311.58 L 178.9 311.06 L 179.4 308.3 L 179.9 309.38 L 180.4 310.64 L 180.9 314.03 L 181.4 310.84 L 181.9 320 L 182.4 321.53 L 182.9 301.84 L 183.4 307.95 L 183.9 303.44 L 184.4 299.13 L 184.9 306.51 L 185.4 302.14 L 185.9 297.96 L 186.4 301.2 L 186.9 311.15 L 187.4 313.65 L 187.9 308.99 L 188.4 299.01 L 188.9 294.18 L 189.4 307.52 L 189.9 307.92 L 190.4 301.04 L 190.9 304.21 L 191.4 300.99 L 191.9 300.04 L 192.41 308.49 L 192.91 305.69 L 193.41 305.11 L 193.91 318.32 L 194.41 314.88 L 194.91 316.75 L 195.41 315.42 L 195.91 304.11 L 196.41 309.88 L 196.91 310.15 L 197.41 304.69 L 197.91 302.13 L 198.41 306 L 198.91 306.27 L 199.41 302.35 L 199.91 307.58 L 200.41 306.15 L 200.91 308.53 L 201.41 306.95 L 201.91 306.37 L 202.41 302.14 L 202.91 307.29 L 203.41 310.74 L 203.91 323.83 L 204.41 320.37 L 204.91 298.79 L 205.41 302.78 L 205.91 314.96 L 206.41 302.98 L 206.91 314.06 L 207.41 308.69 L 207.91 300.62 L 208.41 296.6 L 208.91 298.87 L 209.41 305.02 L 209.91 310.37 L 210.41 313.32 L 210.92 313.96 L 211.42 322.08 L 211.92 321.02 L 212.42 308.56 L 212.92 310.21 L 213.42 314.84 L 213.92 306.45 L 214.42 326.26 L 214.92 311.48 L 215.42 311.35 L 215.92 318.49 L 216.42 334.37 L 216.92 310.68 L 217.42 308.49 L 217.92 310.97 L 218.42 304.86 L 218.92 310.2 L 219.42 309.09 L 219.92 311.83 L 220.42 314.43 L 220.92 312.3 L 221.42 308.63 L 221.92 309.38 L 222.42 303.06 L 222.92 307.63 L 223.42 315.01 L 223.92 323.2 L 224.42 322.08 L 224.92 302.97 L 225.42 299.36 L 225.92 305.41 L 226.42 310.01 L 226.92 315.91 L 227.42 306.45 L 227.92 310.14 L 228.42 307.39 L 228.92 307.69 L 229.42 297.98 L 229.93 304.56 L 230.43 309.48 L 230.93 306.92 L 231.43 313.39 L 231.93 317.42 L 232.43 313.6 L 232.93 309.64 L 233.43 302.24 L 233.93 301.25 L 234.43 301.6 L 234.93 302.19 L 235.43 297.93 L 235.93 300.76 L 236.43 302.85 L 236.93 302.5 L 237.43 304.5 L 237.93 305.5 L 238.43 318.35 L 238.93 310.01 L 239.43 300.11 L 239.93 310.15 L 240.43 316.23 L 240.93 314.77 L 241.43 312.37 L 241.93 308.75 L 242.43 310.71 L 242.93 320.35 L 243.43 264.96 L 243.93 302.23 L 244.43 301.8 L 244.93 303.54 L 245.43 304.74 L 245.93 310.26 L 246.43 311.67 L 246.93 313.38 L 247.43 321.02 L 247.93 316.32 L 248.44 315.39 L 248.94 312.08 L 249.44 310.68 L 249.94 305.65 L 250.44 309.05 L 250.94 319.07 L 251.44 321.7 L 251.94 326.77 L 252.44 309.54 L 252.94 306.4 L 253.44 308.11 L 253.94 314.8 L 254.44 322.7 L 254.94 317.75 L 255.44 309.42 L 255.94 308.14 L 256.44 308.62 L 256.94 314.43 L 257.44 309.41 L 257.94 307.08 L 258.44 328.93 L 258.94 321.69 L 259.44 315.85 L 259.94 312.58 L 260.44 316.01 L 260.94 313.29 L 261.44 321.69 L 261.94 314.71 L 262.44 316.73 L 262.94 323.27 L 263.44 313.63 L 263.94 309.64 L 264.44 315.51 L 264.94 323.83 L 265.44 318.74 L 265.94 317.29 L 266.44 318.71 L 266.95 309.35 L 267.45 310.02 L 267.95 314.51 L 268.45 336.79 L 268.95 334.7 L 269.45 329.63 L 269.95 323.7 L 270.45 325.51 L 270.95 317.79 L 271.45 311.65 L 271.95 310.19 L 272.45 317.87 L 272.95 316.17 L 273.45 310.84 L 273.95 324.58 L 274.45 315.69 L 274.95 314.3 L 275.45 313.83 L 275.95 315.64 L 276.45 315.5 L 276.95 312.27 L 277.45 318.29 L 277.95 320.11 L 278.45 328.73 L 278.95 313.55 L 279.45 316.44 L 279.95 325.58 L 280.45 314.66 L 280.95 317.66 L 281.45 315.66 L 281.95 314.52 L 282.45 317.19 L 282.95 314.02 L 283.45 322.67 L 283.95 314.58 L 284.45 307.25 L 284.95 311.51 L 285.46 316.94 L 285.96 328.2 L 286.46 321.32 L 286.96 317.66 L 287.46 319.01 L 287.96 317.8 L 288.46 317.35 L 288.96 322.8 L 289.46 330.42 L 289.96 318.81 L 290.46 314.07 L 290.96 320.07 L 291.46 314.03 L 291.96 310.68 L 292.46 318.66 L 292.96 325.26 L 293.46 327.27 L 293.96 312.58 L 294.46 320.95 L 294.96 328.38 L 295.46 322.11 L 295.96 316.6 L 296.46 317.34 L 296.96 326.74 L 297.46 320.49 L 297.96 318.11 L 298.46 322.09 L 298.96 319.72 L 299.46 318.27 L 299.96 308.47 L 300.46 310.56 L 300.96 314.75 L 301.46 317.01 L 301.96 312.82 L 302.46 319.82 L 302.96 331.63 L 303.46 331.87 L 303.97 326.14 L 304.47 321.13 L 304.97 318.71 L 305.47 315.1 L 305.97 316.35 L 306.47 321.91 L 306.97 319.88 L 307.47 328.51 L 307.97 317.75 L 308.47 316.02 L 308.97 314.71 L 309.47 319.16 L 309.97 348.31 L 310.47 347.83 L 310.97 330.38 L 311.47 312.33 L 311.97 324.22 L 312.47 319.59 L 312.97 312.23 L 313.47 329.53 L 313.97 332.25 L 314.47 321.72 L 314.97 314.48 L 315.47 313.74 L 315.97 323.22 L 316.47 318.54 L 316.97 320.9 L 317.47 321.85 L 317.97 323.45 L 318.47 321.14 L 318.97 310.82 L 319.47 315.33 L 319.97 328.11 L 320.47 316.15 L 320.97 312.58 L 321.47 321 L 321.97 319.86 L 322.47 314.33 L 322.98 319.51 L 323.48 312.95 L 323.98 322.16 L 324.48 322.29 L 324.98 320.61 L 325.48 317.28 L 325.98 319.63 L 326.48 321.12 L 326.98 314.9 L 327.48 312.37 L 327.98 319.29 L 328.48 324.19 L 328.98 313.6 L 329.48 316.6 L 329.98 329.45 L 330.48 314.3 L 330.98 307.66 L 331.48 312.5 L 331.98 315.74 L 332.48 326 L 332.98 314.1 L 333.48 313.75 L 333.98 315.86 L 334.48 315.3 L 334.98 311.22 L 335.48 308.84 L 335.98 312.25 L 336.48 318.11 L 336.98 310.37 L 337.48 308.55 L 337.98 307.18 L 338.48 321 L 338.98 318.38 L 339.48 317.28 L 339.98 312.51 L 340.48 313.7 L 340.98 316.16 L 341.49 321.19 L 341.99 325.01 L 342.49 311.66 L 342.99 314.67 L 343.49 318.28 L 343.99 317.82 L 344.49 312.22 L 344.99 314.44 L 345.49 318.56 L 345.99 320.22 L 346.49 325.02 L 346.99 315.16 L 347.49 311.01 L 347.99 314 L 348.49 317.24 L 348.99 314.33 L 349.49 310.5 L 349.99 316.76 L 350.49 319.04 L 350.99 314.18 L 351.49 310.07 L 351.99 309.53 L 352.49 315.75 L 352.99 320.39 L 353.49 311.61 L 353.99 314.83 L 354.49 324.54 L 354.99 307.92 L 355.49 306.68 L 355.99 309.45 L 356.49 311.48 L 356.99 316.68 L 357.49 308.87 L 357.99 307.04 L 358.49 305.75 L 358.99 313.93 L 359.49 312.85 L 360 304.15 L 360.5 310.77 L 361 323.12 L 361.5 317.08 L 362 310.04 L 362.5 307.31 L 363 314.36 L 363.5 312.36 L 364 312.52 L 364.5 310.66 L 365 310.84 L 365.5 304.39 L 366 307.02 L 366.5 306.31 L 367 304.36 L 367.5 305.22 L 368 302.96 L 368.5 303.68 L 369 299.5 L 369.5 302.52 L 370 301.92 L 370.5 302.45 L 371 302.73 L 371.5 209.52 L 372 300.28 L 372.5 300.7 L 373 298.8 L 373.5 300.65 L 374 301.17 L 374.5 301.66 L 375 302.48 L 375.5 298.66 L 376 296.88 L 376.5 298.34 L 377 298.46 L 377.5 294.03 L 378 296.7 L 378.51 296.37 L 379.01 298.99 L 379.51 298.4 L 380.01 299.49 L 380.51 297.49 L 381.01 298.05 L 381.51 296.84 L 382.01 296.73 L 382.51 297.23 L 383.01 294.35 L 383.51 297.06 L 384.01 296.34 L 384.51 294.14 L 385.01 295.45 L 385.51 296.74 L 386.01 297.08 L 386.51 298.38 L 387.01 300.16 L 387.51 294.86 L 388.01 292.56 L 388.51 292.92 L 389.01 292.59 L 389.51 295.95 L 390.01 295.98 L 390.51 294.75 L 391.01 294.59 L 391.51 297.41 L 392.01 299.92 L 392.51 295.98 L 393.01 293.22 L 393.51 298.93 L 394.01 300.31 L 394.51 296.93 L 395.01 297.41 L 395.51 295.21 L 396.01 294.67 L 396.51 297.09 L 397.02 297.21 L 397.52 295.37 L 398.02 295.41 L 398.52 294.04 L 399.02 293.75 L 399.52 292.48 L 400.02 292.8 L 400.52 294.44 L 401.02 297.89 L 401.52 295.71 L 402.02 290.11 L 402.52 291.87 L 403.02 294.89 L 403.52 292.93 L 404.02 290.33 L 404.52 291.56 L 405.02 292.02 L 405.52 292.3 L 406.02 291.93 L 406.52 289.59 L 407.02 293.03 L 407.52 292.73 L 408.02 294.63 L 408.52 290.8 L 409.02 290.2 L 409.52 290.55 L 410.02 292.31 L 410.52 292.7 L 411.02 290.48 L 411.52 290.88 L 412.02 290.94 L 412.52 291.17 L 413.02 291.25 L 413.52 291.76 L 414.02 293.14 L 414.52 293.05 L 415.02 293.45 L 415.53 290.07 L 416.03 289.6 L 416.53 289.18 L 417.03 290.66 L 417.53 293.26 L 418.03 288.68 L 418.53 288.21 L 419.03 291.1 L 419.53 290.57 L 420.03 288.16 L 420.53 289.67 L 421.03 289.26 L 421.53 290.08 L 422.03 288.65 L 422.53 288.95 L 423.03 286.51 L 423.53 288.97 L 424.03 292.77 L 424.53 291.16 L 425.03 288.72 L 425.53 288.9 L 426.03 290.2 L 426.53 287.18 L 427.03 286.05 L 427.53 286.8 L 428.03 289.5 L 428.53 287.22 L 429.03 286.19 L 429.53 288.22 L 430.03 288.42 L 430.53 286.43 L 431.03 285.84 L 431.53 286.91 L 432.03 287.62 L 432.53 287.06 L 433.03 285.8 L 433.53 286.06 L 434.03 287.26 L 434.54 287.75 L 435.04 286.9 L 435.54 285.98 L 436.04 286.66 L 436.54 287.76 L 437.04 287.08 L 437.54 284.94 L 438.04 285.71 L 438.54 286.08 L 439.04 286.75 L 439.54 289.07 L 440.04 287.26 L 440.54 288.72 L 441.04 285.38 L 441.54 284.14 L 442.04 285.04 L 442.54 286.73 L 443.04 286.34 L 443.54 287.29 L 444.04 288.14 L 444.54 286.97 L 445.04 285.7 L 445.54 283.9 L 446.04 285.22 L 446.54 286.95 L 447.04 288.62 L 447.54 286.22 L 448.04 285.36 L 448.54 284.95 L 449.04 285.21 L 449.54 286.07 L 450.04 283.62 L 450.54 284.18 L 451.04 283.79 L 451.54 283.79 L 452.04 284.07 L 452.54 287.59 L 453.05 286.52 L 453.55 284.33 L 454.05 283.21 L 454.55 285.8 L 455.05 286.45 L 455.55 283.52 L 456.05 285.09 L 456.55 283.34 L 457.05 282.17 L 457.55 284.55 L 458.05 285.24 L 458.55 284.3 L 459.05 282.95 L 459.55 284.65 L 460.05 284.71 L 460.55 286.38 L 461.05 285.79 L 461.55 286.98 L 462.05 285.13 L 462.55 286.07 L 463.05 284.54 L 463.55 285.45 L 464.05 286.88 L 464.55 286.74 L 465.05 285.05 L 465.55 285.8 L 466.05 285.15 L 466.55 284.13 L 467.05 284.67 L 467.55 285.65 L 468.05 286.06 L 468.55 286.03 L 469.05 284.88 L 469.55 284.32 L 470.05 287.28 L 470.55 286.23 L 471.05 283.51 L 471.56 284.28 L 472.06 285.29 L 472.56 284.73 L 473.06 287.66 L 473.56 286.05 L 474.06 285.51 L 474.56 284.36 L 475.06 283.59 L 475.56 285.15 L 476.06 286.88 L 476.56 286.28 L 477.06 285.07 L 477.56 281.88 L 478.06 282.06 L 478.56 282.34 L 479.06 282.4 L 479.56 283.2 L 480.06 282.51 L 480.56 283.08 L 481.06 284.18 L 481.56 284.74 L 482.06 282.25 L 482.56 283.48 L 483.06 284.01 L 483.56 282.62 L 484.06 283.54 L 484.56 282.73 L 485.06 284.89 L 485.56 286.63 L 486.06 286.87 L 486.56 283.73 L 487.06 283.05 L 487.56 282.44 L 488.06 284.58 L 488.56 284.19 L 489.06 283.42 L 489.56 283.11 L 490.07 281.34 L 490.57 282.54 L 491.07 284.21 L 491.57 285.07 L 492.07 285.01 L 492.57 284.51 L 493.07 285.27 L 493.57 282.98 L 494.07 282.14 L 494.57 281.92 L 495.07 283.58 L 495.57 282.78 L 496.07 281.8 L 496.57 282.86 L 497.07 283.5 L 497.57 282.9 L 498.07 282.28 L 498.57 285.03 L 499.07 287.1 L 499.57 264.96 L 500.07 284.68 L 500.57 286.46 L 501.07 286.65 L 501.57 285.89 L 502.07 284.71 L 502.57 285.08 L 503.07 286.23 L 503.57 286.75 L 504.07 284.8 L 504.57 287.28 L 505.07 285.59 L 505.57 286.5 L 506.07 287.68 L 506.57 286.28 L 507.07 287.12 L 507.57 289.87 L 508.07 287.54 L 508.58 288.78 L 509.08 289.6 L 509.58 290.54 L 510.08 285.64 L 510.58 285.92 L 511.08 286.86 L 511.58 286.78 L 512.08 286.2 L 512.58 287.93 L 513.08 288.97 L 513.58 287.6 L 514.08 286.93 L 514.58 287 L 515.08 288.56 L 515.58 287.38 L 516.08 286.36 L 516.58 287.1 L 517.08 286.51 L 517.58 288.12 L 518.08 287.56 L 518.58 286.87 L 519.08 285.81 L 519.58 287.85 L 520.08 287.3 L 520.58 287.92 L 521.08 287.89 L 521.58 288.39 L 522.08 288.8 L 522.58 289.76 L 523.08 287.08 L 523.58 286.54 L 524.08 288.02 L 524.58 286.78 L 525.08 287.03 L 525.58 289.42 L 526.08 288.2 L 526.58 289.56 L 527.08 289.87 L 527.59 289.22 L 528.09 289.17 L 528.59 288.06 L 529.09 289.58 L 529.59 290.28 L 530.09 292.43 L 530.59 291.55 L 531.09 289.9 L 531.59 290.54 L 532.09 291.38 L 532.59 291.55 L 533.09 290.89 L 533.59 292.12 L 534.09 292.24 L 534.59 291.96 L 535.09 288.81 L 535.59 289.44 L 536.09 291.56 L 536.59 289.64 L 537.09 289.45 L 537.59 287.43 L 538.09 289.51 L 538.59 291.95 L 539.09 290.19 L 539.59 288.77 L 540.09 290.63 L 540.59 294.59 L 541.09 293.09 L 541.59 288.6 L 542.09 290.79 L 542.59 293.84 L 543.09 294.19 L 543.59 296.08 L 544.09 293.78 L 544.59 293.73 L 545.09 293.19 L 545.59 288.71 L 546.1 289.01 L 546.6 293.36 L 547.1 297.34 L 547.6 296.29 L 548.1 291.33 L 548.6 290.35 L 549.1 294.01 L 549.6 293.23 L 550.1 291.73 L 550.6 290.82 L 551.1 291.58 L 551.6 293.2 L 552.1 294.26 L 552.6 291.67 L 553.1 291.82 L 553.6 295.35 L 554.1 294.5 L 554.6 290.61 L 555.1 294.8 L 555.6 293.03 L 556.1 293.69 L 556.6 294.1 L 557.1 292.75 L 557.6 290.13 L 558.1 291.17 L 558.6 292.37 L 559.1 291.94 L 559.6 293.65 L 560.1 291.27 L 560.6 290.76 L 561.1 292.27 L 561.6 292.3 L 562.1 291.42 L 562.6 289.75 L 563.1 291.33 L 563.6 293.33 L 564.1 294.24 L 564.61 295.26 L 565.11 296.45 L 565.61 295.13 L 566.11 295.07 L 566.61 294.41 L 567.11 292.23 L 567.61 291.19 L 568.11 291.71 L 568.61 291.15 L 569.11 291.08 L 569.61 292.33 L 570.11 293.29 L 570.61 295.4 L 571.11 294.43 L 571.61 293.51 L 572.11 292.27 L 572.61 293.42 L 573.11 294.31 L 573.61 292.19 L 574.11 292.77 L 574.61 292.72 L 575.11 292.71 L 575.61 292.19 L 576.11 293 L 576.61 295.78 L 577.11 296.57 L 577.61 295.74 L 578.11 298.31 L 578.61 294 L 579.11 293.98 L 579.61 295.65 L 580.11 297.85 L 580.61 297.92 L 581.11 293.74 L 581.61 294.16 L 582.11 297.39 L 582.61 296.9 L 583.12 292.84 L 583.62 294.99 L 584.12 295.68 L 584.62 296.01 L 585.12 296.48 L 585.62 298.4 L 586.12 293.92 L 586.62 293.95 L 587.12 296.81 L 587.62 300.56 L 588.12 297.06 L 588.62 297.5 L 589.12 296.49 L 589.62 297.45 L 590.12 300.85 L 590.62 298.56 L 591.12 299.81 L 591.62 300.24 L 592.12 297.94 L 592.62 297.95 L 593.12 296.84 L 593.62 298.03 L 594.12 301.14 L 594.62 299.6 L 595.12 300.95 L 595.62 299.6 L 596.12 299.09 L 596.62 296.6 L 597.12 300.01 L 597.62 301.56 L 598.12 300.49 L 598.62 302.22 L 599.12 304.33 L 599.62 301.31 L 600.12 298.08 L 600.62 301.97 L 601.12 299.34 L 601.63 300.33 L 602.13 298.61 L 602.63 299.91 L 603.13 301.51 L 603.63 304.75 L 604.13 304.58 L 604.63 301.78 L 605.13 296.03 L 605.63 296.09 L 606.13 302.64 L 606.63 302.37 L 607.13 304.99 L 607.63 301.5 L 608.13 297 L 608.63 297.73 L 609.13 300.38 L 609.63 306.42 L 610.13 304.55 L 610.63 302.6 L 611.13 297.25 L 611.63 298.7 L 612.13 297.7 L 612.63 299.41 L 613.13 301.2 L 613.63 301.59 L 614.13 298.24 L 614.63 299.74 L 615.13 298.92 L 615.63 299.99 L 616.13 301.04 L 616.63 299.03 L 617.13 301.36 L 617.63 301.06 L 618.13 303.86 L 618.63 305.34 L 619.13 299.31 L 619.63 297.87 L 620.14 301.09 L 620.64 305.97 L 621.14 304.17 L 621.64 300.78 L 622.14 301.64 L 622.64 295.49" clip-path="url(#p0796a7d0fc)" style="fill: none; stroke: #2ca02c; stroke-linecap: square"/>
   </g>
   <g id="line2d_44">
    <path d="M 115.36 126.64 L 115.86 328.15 L 116.36 325.17 L 116.86 327.2 L 117.36 335.38 L 117.86 322.43 L 118.37 323.45 L 118.87 327.33 L 119.37 325.78 L 119.87 327.38 L 120.37 324.25 L 120.87 333.52 L 121.37 332.4 L 121.87 334.13 L 122.37 330.7 L 122.87 319.95 L 123.37 321.55 L 123.87 328.88 L 124.37 330.44 L 124.87 326.22 L 125.37 334.04 L 125.87 338.77 L 126.37 336.79 L 126.87 330.81 L 127.37 331.68 L 127.87 341.8 L 128.37 334.1 L 128.87 330.34 L 129.37 327.97 L 129.87 325.1 L 130.37 328.61 L 130.87 329.51 L 131.37 332.42 L 131.87 325.96 L 132.37 320.99 L 132.87 324.01 L 133.37 325.39 L 133.87 334.91 L 134.37 346.2 L 134.87 339.23 L 135.37 331.27 L 135.87 324.05 L 136.37 327.19 L 136.88 330.5 L 137.38 324.1 L 137.88 325.44 L 138.38 325.02 L 138.88 322.04 L 139.38 326.81 L 139.88 337.39 L 140.38 338.81 L 140.88 333.97 L 141.38 323.87 L 141.88 321.41 L 142.38 328.27 L 142.88 320.58 L 143.38 325.86 L 143.88 328.48 L 144.38 327.95 L 144.88 326.93 L 145.38 326.06 L 145.88 322.38 L 146.38 331.74 L 146.88 357.56 L 147.38 334.13 L 147.88 319.96 L 148.38 323.97 L 148.88 331.56 L 149.38 329.13 L 149.88 326.64 L 150.38 330.98 L 150.88 325.85 L 151.38 329.55 L 151.88 331.06 L 152.38 335.56 L 152.88 347.5 L 153.38 338.74 L 153.88 336.36 L 154.38 326.75 L 154.88 340.87 L 155.39 326.78 L 155.89 323.14 L 156.39 326.71 L 156.89 339.88 L 157.39 338.82 L 157.89 326.05 L 158.39 330.36 L 158.89 331.94 L 159.39 326.18 L 159.89 330.24 L 160.39 331.41 L 160.89 332.82 L 161.39 335.17 L 161.89 350.77 L 162.39 328.5 L 162.89 326.78 L 163.39 333.31 L 163.89 330.17 L 164.39 323.73 L 164.89 332.12 L 165.39 325.54 L 165.89 323.29 L 166.39 323.71 L 166.89 325.66 L 167.39 332.41 L 167.89 328.75 L 168.39 324.71 L 168.89 323.93 L 169.39 318.21 L 169.89 319.49 L 170.39 323.99 L 170.89 327.26 L 171.39 328.95 L 171.89 329.09 L 172.39 330.03 L 172.89 329.21 L 173.39 325.82 L 173.9 325.03 L 174.4 328.38 L 174.9 340.55 L 175.4 345.14 L 175.9 339.49 L 176.4 350.82 L 176.9 343.07 L 177.4 338.58 L 177.9 340.76 L 178.4 335.83 L 178.9 336.95 L 179.4 342.39 L 179.9 332.36 L 180.4 334.09 L 180.9 332.24 L 181.4 337.24 L 181.9 331.51 L 182.4 327.25 L 182.9 332.37 L 183.4 324.82 L 183.9 318.29 L 184.4 322.78 L 184.9 334.49 L 185.4 323.34 L 185.9 319.23 L 186.4 323.01 L 186.9 318.1 L 187.4 321.19 L 187.9 336.23 L 188.4 326.89 L 188.9 324.26 L 189.4 330.01 L 189.9 329.84 L 190.4 321.67 L 190.9 316.76 L 191.4 324.56 L 191.9 324.52 L 192.41 331.65 L 192.91 325.26 L 193.41 322.31 L 193.91 340.02 L 194.41 338.44 L 194.91 323.65 L 195.41 324.08 L 195.91 321.92 L 196.41 319.66 L 196.91 325.41 L 197.41 323.19 L 197.91 327.59 L 198.41 333.11 L 198.91 330.68 L 199.41 326.27 L 199.91 331.21 L 200.41 329.5 L 200.91 321.36 L 201.41 326.9 L 201.91 324.8 L 202.41 323.96 L 202.91 326.34 L 203.41 328.88 L 203.91 334.05 L 204.41 337.47 L 204.91 325.58 L 205.41 324.02 L 205.91 328.29 L 206.41 322.26 L 206.91 326.9 L 207.41 337.43 L 207.91 335.7 L 208.41 328.56 L 208.91 341.4 L 209.41 326.93 L 209.91 321.41 L 210.41 323.15 L 210.92 334.24 L 211.42 322.58 L 211.92 321.32 L 212.42 330 L 212.92 325.16 L 213.42 327.05 L 213.92 334.26 L 214.42 325.67 L 214.92 329.58 L 215.42 334.66 L 215.92 325.92 L 216.42 324.33 L 216.92 322.1 L 217.42 319.35 L 217.92 328.8 L 218.42 329.82 L 218.92 317.74 L 219.42 316.14 L 219.92 325.38 L 220.42 318.12 L 220.92 317.73 L 221.42 314.78 L 221.92 316.93 L 222.42 317.18 L 222.92 308.95 L 223.42 320.06 L 223.92 321.95 L 224.42 331.73 L 224.92 321.89 L 225.42 330.32 L 225.92 346.67 L 226.42 324.64 L 226.92 317.4 L 227.42 319.99 L 227.92 318.26 L 228.42 316.64 L 228.92 319.56 L 229.42 333.09 L 229.93 319.62 L 230.43 321.37 L 230.93 317.77 L 231.43 314.45 L 231.93 316.2 L 232.43 314.13 L 232.93 322.06 L 233.43 316.61 L 233.93 303.98 L 234.43 305.6 L 234.93 310.07 L 235.43 310.6 L 235.93 309.73 L 236.43 315.38 L 236.93 324.08 L 237.43 318.04 L 237.93 318.33 L 238.43 314.06 L 238.93 316.97 L 239.43 316.07 L 239.93 312.11 L 240.43 308.38 L 240.93 310.36 L 241.43 311.85 L 241.93 314.47 L 242.43 305.81 L 242.93 311.55 L 243.43 263.85 L 243.93 313.15 L 244.43 312.77 L 244.93 311.86 L 245.43 306.43 L 245.93 304.9 L 246.43 309.57 L 246.93 307.49 L 247.43 312.03 L 247.93 315 L 248.44 309.6 L 248.94 303.2 L 249.44 307.82 L 249.94 316.16 L 250.44 307.07 L 250.94 307.16 L 251.44 307.83 L 251.94 308.14 L 252.44 314.09 L 252.94 309.9 L 253.44 309.29 L 253.94 313.65 L 254.44 314.46 L 254.94 306.32 L 255.44 302.04 L 255.94 315.43 L 256.44 314.53 L 256.94 319.23 L 257.44 313.43 L 257.94 314.81 L 258.44 310.53 L 258.94 311.87 L 259.44 313.79 L 259.94 312.31 L 260.44 302.71 L 260.94 305.46 L 261.44 307.27 L 261.94 308.84 L 262.44 307.16 L 262.94 306.91 L 263.44 307.5 L 263.94 310.14 L 264.44 303.99 L 264.94 306.28 L 265.44 306.79 L 265.94 303.84 L 266.44 301.03 L 266.95 301.24 L 267.45 308.03 L 267.95 309.34 L 268.45 310.14 L 268.95 314.54 L 269.45 309.25 L 269.95 309.49 L 270.45 307.16 L 270.95 312.37 L 271.45 303.46 L 271.95 301.88 L 272.45 305.89 L 272.95 301.09 L 273.45 303.3 L 273.95 302.96 L 274.45 306.46 L 274.95 313.92 L 275.45 306.85 L 275.95 298.89 L 276.45 300.21 L 276.95 304.53 L 277.45 303.23 L 277.95 301.33 L 278.45 299.81 L 278.95 301.17 L 279.45 302.9 L 279.95 299.06 L 280.45 299.73 L 280.95 304.33 L 281.45 304.54 L 281.95 307.09 L 282.45 304.59 L 282.95 307.15 L 283.45 300.67 L 283.95 294.11 L 284.45 299.21 L 284.95 303.83 L 285.46 308.11 L 285.96 312.64 L 286.46 313.01 L 286.96 308.84 L 287.46 305.69 L 287.96 302.13 L 288.46 307.07 L 288.96 306.85 L 289.46 304.88 L 289.96 300.13 L 290.46 301.62 L 290.96 301.73 L 291.46 299.71 L 291.96 297.73 L 292.46 301.5 L 292.96 301.45 L 293.46 301.53 L 293.96 299.33 L 294.46 299.91 L 294.96 296.77 L 295.46 299.64 L 295.96 303.68 L 296.46 302.54 L 296.96 303.4 L 297.46 300.92 L 297.96 299.32 L 298.46 301.25 L 298.96 301.03 L 299.46 311.33 L 299.96 304.78 L 300.46 304.33 L 300.96 308.02 L 301.46 305.25 L 301.96 304.9 L 302.46 305.97 L 302.96 302.59 L 303.46 297.81 L 303.97 303.88 L 304.47 306.71 L 304.97 300 L 305.47 297.89 L 305.97 299.81 L 306.47 307.68 L 306.97 302.02 L 307.47 300.77 L 307.97 298.79 L 308.47 302.79 L 308.97 304.24 L 309.47 317.77 L 309.97 310.19 L 310.47 304.5 L 310.97 305.86 L 311.47 301.38 L 311.97 305.48 L 312.47 303.73 L 312.97 300.73 L 313.47 305.97 L 313.97 313.9 L 314.47 306.28 L 314.97 304.04 L 315.47 301.15 L 315.97 296.63 L 316.47 301.09 L 316.97 301.05 L 317.47 302.46 L 317.97 302.86 L 318.47 297.78 L 318.97 304.23 L 319.47 302.99 L 319.97 306.77 L 320.47 305.66 L 320.97 305.55 L 321.47 302.37 L 321.97 302.98 L 322.47 300.54 L 322.98 303.55 L 323.48 307.09 L 323.98 304.03 L 324.48 300.01 L 324.98 302.38 L 325.48 307.93 L 325.98 304.52 L 326.48 315.1 L 326.98 305.25 L 327.48 302.35 L 327.98 303.72 L 328.48 303.7 L 328.98 305 L 329.48 307.03 L 329.98 312.15 L 330.48 310.12 L 330.98 307.72 L 331.48 308.38 L 331.98 311.06 L 332.48 300 L 332.98 297.48 L 333.48 297.41 L 333.98 300.65 L 334.48 301.75 L 334.98 304.99 L 335.48 303.03 L 335.98 304.17 L 336.48 308.62 L 336.98 307.77 L 337.48 306.85 L 337.98 309.37 L 338.48 305.67 L 338.98 305.22 L 339.48 310.83 L 339.98 311.4 L 340.48 302.72 L 340.98 304.04 L 341.49 307.15 L 341.99 303.47 L 342.49 304.73 L 342.99 311.44 L 343.49 307.99 L 343.99 307.45 L 344.49 306.14 L 344.99 310.75 L 345.49 315.81 L 345.99 314 L 346.49 313.02 L 346.99 306.5 L 347.49 313.33 L 347.99 304.79 L 348.49 305.17 L 348.99 301.03 L 349.49 302.54 L 349.99 308.63 L 350.49 303.98 L 350.99 301.47 L 351.49 302.82 L 351.99 304.38 L 352.49 308.18 L 352.99 305.57 L 353.49 300.62 L 353.99 307.55 L 354.49 304.66 L 354.99 308.39 L 355.49 311.84 L 355.99 303.49 L 356.49 299.21 L 356.99 299.77 L 357.49 298.28 L 357.99 300.1 L 358.49 301.41 L 358.99 306.7 L 359.49 308.18 L 360 308.18 L 360.5 307.93 L 361 308.85 L 361.5 308.92 L 362 307.93 L 362.5 309.98 L 363 316.6 L 363.5 316.1 L 364 308.59 L 364.5 300.44 L 365 302.01 L 365.5 307.68 L 366 307.71 L 366.5 306.99 L 367 315.3 L 367.5 306.49 L 368 314.92 L 368.5 309.24 L 369 313.05 L 369.5 303.82 L 370 304.57 L 370.5 305.9 L 371 317.96 L 371.5 209.24 L 372 306.57 L 372.5 314.47 L 373 304.34 L 373.5 306.75 L 374 307.83 L 374.5 302.36 L 375 310.22 L 375.5 309.27 L 376 311.69 L 376.5 312.3 L 377 305.54 L 377.5 317.59 L 378 309.82 L 378.51 308.65 L 379.01 318.29 L 379.51 312.81 L 380.01 311.53 L 380.51 312.77 L 381.01 313.1 L 381.51 302.39 L 382.01 306.86 L 382.51 312.27 L 383.01 332.78 L 383.51 322.39 L 384.01 320.65 L 384.51 317.03 L 385.01 311.98 L 385.51 306.15 L 386.01 311.84 L 386.51 311.32 L 387.01 305.59 L 387.51 298.91 L 388.01 310.88 L 388.51 310.24 L 389.01 302.9 L 389.51 306.08 L 390.01 312.93 L 390.51 311.82 L 391.01 312.9 L 391.51 309.66 L 392.01 319.69 L 392.51 319.84 L 393.01 323.76 L 393.51 306.89 L 394.01 302.84 L 394.51 303.38 L 395.01 315.21 L 395.51 317.11 L 396.01 312.95 L 396.51 310.17 L 397.02 304.53 L 397.52 307.07 L 398.02 324.02 L 398.52 314.21 L 399.02 314.54 L 399.52 317.51 L 400.02 315.24 L 400.52 311.88 L 401.02 312.06 L 401.52 320.67 L 402.02 339.04 L 402.52 321.33 L 403.02 319.37 L 403.52 306 L 404.02 303.35 L 404.52 312.03 L 405.02 314.94 L 405.52 308.98 L 406.02 305.54 L 406.52 313.79 L 407.02 315.51 L 407.52 313.38 L 408.02 326.81 L 408.52 329.22 L 409.02 317.13 L 409.52 315.58 L 410.02 312.41 L 410.52 305.82 L 411.02 303.08 L 411.52 305.58 L 412.02 307.56 L 412.52 306.46 L 413.02 307.04 L 413.52 305.35 L 414.02 309.88 L 414.52 306.86 L 415.02 306.22 L 415.53 309.06 L 416.03 309.26 L 416.53 313.05 L 417.03 313.95 L 417.53 324.25 L 418.03 315.34 L 418.53 314.39 L 419.03 316.5 L 419.53 329.36 L 420.03 328.85 L 420.53 318.37 L 421.03 315.86 L 421.53 319.73 L 422.03 319.02 L 422.53 308.89 L 423.03 307.13 L 423.53 313.73 L 424.03 323.35 L 424.53 323.16 L 425.03 319.21 L 425.53 318.2 L 426.03 311.87 L 426.53 308.65 L 427.03 309.99 L 427.53 307.72 L 428.03 310.7 L 428.53 314.59 L 429.03 315.94 L 429.53 309.51 L 430.03 310.34 L 430.53 309.46 L 431.03 312.49 L 431.53 312.66 L 432.03 300.08 L 432.53 304.25 L 433.03 308.77 L 433.53 317.02 L 434.03 324.02 L 434.54 309.21 L 435.04 304.94 L 435.54 307.38 L 436.04 306.31 L 436.54 312.91 L 437.04 319.08 L 437.54 309.52 L 438.04 311.17 L 438.54 307.07 L 439.04 302.49 L 439.54 304.07 L 440.04 312.25 L 440.54 311.01 L 441.04 318.59 L 441.54 318.94 L 442.04 323.7 L 442.54 314.52 L 443.04 306.91 L 443.54 309.95 L 444.04 317.32 L 444.54 309.4 L 445.04 311.13 L 445.54 309 L 446.04 303.83 L 446.54 306.86 L 447.04 309.37 L 447.54 308.2 L 448.04 309.12 L 448.54 317.06 L 449.04 327.68 L 449.54 318.45 L 450.04 317.9 L 450.54 330.13 L 451.04 323 L 451.54 314.23 L 452.04 319.09 L 452.54 321.66 L 453.05 314.58 L 453.55 316.79 L 454.05 315.38 L 454.55 310.25 L 455.05 310.89 L 455.55 310.9 L 456.05 308.17 L 456.55 308.6 L 457.05 314.04 L 457.55 310.18 L 458.05 308.61 L 458.55 307.77 L 459.05 304.56 L 459.55 308.14 L 460.05 311.26 L 460.55 307.94 L 461.05 307.68 L 461.55 315.63 L 462.05 322.16 L 462.55 316.52 L 463.05 310.63 L 463.55 316.12 L 464.05 315.85 L 464.55 313.1 L 465.05 316.9 L 465.55 308.54 L 466.05 311.44 L 466.55 307.62 L 467.05 308.41 L 467.55 313.2 L 468.05 312.22 L 468.55 306.22 L 469.05 308.47 L 469.55 314.8 L 470.05 314.21 L 470.55 312.09 L 471.05 311.97 L 471.56 304.52 L 472.06 303.53 L 472.56 302.55 L 473.06 303.75 L 473.56 303.58 L 474.06 300.5 L 474.56 297.19 L 475.06 301.54 L 475.56 305.11 L 476.06 306.79 L 476.56 306.27 L 477.06 304.4 L 477.56 302.65 L 478.06 305.71 L 478.56 306.82 L 479.06 304.04 L 479.56 302.93 L 480.06 299.7 L 480.56 297.52 L 481.06 298.88 L 481.56 303.21 L 482.06 301.4 L 482.56 299.03 L 483.06 302.29 L 483.56 300.6 L 484.06 302.44 L 484.56 299.19 L 485.06 292.45 L 485.56 296.87 L 486.06 301.52 L 486.56 299.37 L 487.06 295.76 L 487.56 295.33 L 488.06 297.16 L 488.56 294.38 L 489.06 294.43 L 489.56 295.88 L 490.07 299.84 L 490.57 300.53 L 491.07 296.92 L 491.57 295.6 L 492.07 295.08 L 492.57 292.45 L 493.07 291.16 L 493.57 295.52 L 494.07 295.67 L 494.57 296.44 L 495.07 293.89 L 495.57 293.83 L 496.07 292.16 L 496.57 292.73 L 497.07 294.77 L 497.57 293.14 L 498.07 294.7 L 498.57 296.46 L 499.07 298.66 L 499.57 264.96 L 500.07 293.28 L 500.57 294.6 L 501.07 294.03 L 501.57 296.97 L 502.07 297.37 L 502.57 298.14 L 503.07 296.41 L 503.57 299.7 L 504.07 296.75 L 504.57 292.5 L 505.07 290.48 L 505.57 290.56 L 506.07 294.24 L 506.57 294.18 L 507.07 294.96 L 507.57 294.68 L 508.07 294.02 L 508.58 296.66 L 509.08 299.67 L 509.58 292.33 L 510.08 291.2 L 510.58 295.85 L 511.08 294.52 L 511.58 291.97 L 512.08 291.56 L 512.58 292.79 L 513.08 294.63 L 513.58 293.45 L 514.08 292.58 L 514.58 293.27 L 515.08 292.33 L 515.58 292.28 L 516.08 292.28 L 516.58 290.8 L 517.08 293.49 L 517.58 298.57 L 518.08 295.58 L 518.58 294.83 L 519.08 295.44 L 519.58 296.14 L 520.08 296.49 L 520.58 297.89 L 521.08 295.84 L 521.58 295.62 L 522.08 296.82 L 522.58 298.92 L 523.08 297.42 L 523.58 296.77 L 524.08 295.7 L 524.58 298.66 L 525.08 299.64 L 525.58 296.59 L 526.08 296.38 L 526.58 297.24 L 527.08 300.61 L 527.59 300.88 L 528.09 301.99 L 528.59 300.03 L 529.09 298.89 L 529.59 302.42 L 530.09 300.21 L 530.59 297.85 L 531.09 297.85 L 531.59 297.49 L 532.09 292.86 L 532.59 293.78 L 533.09 296.34 L 533.59 294.46 L 534.09 295.11 L 534.59 297.69 L 535.09 299.76 L 535.59 294.22 L 536.09 294.42 L 536.59 295.54 L 537.09 291.56 L 537.59 294.59 L 538.09 297.14 L 538.59 295.19 L 539.09 296.14 L 539.59 297.31 L 540.09 291.34 L 540.59 295.49 L 541.09 296.12 L 541.59 293.98 L 542.09 290.69 L 542.59 291.1 L 543.09 294.11 L 543.59 292.92 L 544.09 288.55 L 544.59 291.07 L 545.09 294.29 L 545.59 294.85 L 546.1 296.52 L 546.6 295.6 L 547.1 293.38 L 547.6 292.24 L 548.1 296.77 L 548.6 300.67 L 549.1 300.98 L 549.6 299.31 L 550.1 296.28 L 550.6 295.32 L 551.1 300.32 L 551.6 301.47 L 552.1 295.39 L 552.6 294.68 L 553.1 296.78 L 553.6 295.57 L 554.1 295.52 L 554.6 293.79 L 555.1 293.83 L 555.6 301.18 L 556.1 299.19 L 556.6 295.23 L 557.1 295.16 L 557.6 297.72 L 558.1 298.19 L 558.6 298.98 L 559.1 300.01 L 559.6 300.46 L 560.1 302.68 L 560.6 302.74 L 561.1 300.55 L 561.6 300.58 L 562.1 299.44 L 562.6 303.3 L 563.1 305.98 L 563.6 301.84 L 564.1 304.09 L 564.61 303.25 L 565.11 304.51 L 565.61 308.67 L 566.11 310.39 L 566.61 306.78 L 567.11 310.96 L 567.61 308.01 L 568.11 307.24 L 568.61 313.04 L 569.11 315.31 L 569.61 314.1 L 570.11 312.58 L 570.61 313.88 L 571.11 318.17 L 571.61 314.26 L 572.11 310.37 L 572.61 310.89 L 573.11 312.3 L 573.61 317.22 L 574.11 312.86 L 574.61 317.58 L 575.11 319.93 L 575.61 317.27 L 576.11 326.36 L 576.61 318.87 L 577.11 313.54 L 577.61 312.3 L 578.11 310.47 L 578.61 311.62 L 579.11 313.47 L 579.61 312.92 L 580.11 313.28 L 580.61 312.99 L 581.11 312.87 L 581.61 308.78 L 582.11 304.91 L 582.61 308.07 L 583.12 309.79 L 583.62 314.55 L 584.12 316.76 L 584.62 316.45 L 585.12 314.55 L 585.62 309.33 L 586.12 307.03 L 586.62 312.98 L 587.12 316.97 L 587.62 311.85 L 588.12 311.72 L 588.62 310.41 L 589.12 308.25 L 589.62 304.79 L 590.12 305.66 L 590.62 305.44 L 591.12 304.41 L 591.62 308.23 L 592.12 311.02 L 592.62 314.06 L 593.12 317.74 L 593.62 311.97 L 594.12 310.17 L 594.62 313.92 L 595.12 317.98 L 595.62 317.26 L 596.12 308.96 L 596.62 313.02 L 597.12 311.56 L 597.62 308.44 L 598.12 310.93 L 598.62 308.99 L 599.12 309.75 L 599.62 312.67 L 600.12 308.59 L 600.62 305.85 L 601.12 310.86 L 601.63 309.45 L 602.13 309.23 L 602.63 308.51 L 603.13 312.87 L 603.63 316.9 L 604.13 319.15 L 604.63 314.55 L 605.13 306.57 L 605.63 308.78 L 606.13 316.01 L 606.63 314.91 L 607.13 318.96 L 607.63 318.73 L 608.13 320.15 L 608.63 327.13 L 609.13 324.82 L 609.63 323 L 610.13 317.37 L 610.63 313.76 L 611.13 316.18 L 611.63 317.87 L 612.13 312.35 L 612.63 316.28 L 613.13 323.7 L 613.63 313.14 L 614.13 315.66 L 614.63 316.88 L 615.13 318.13 L 615.63 319.5 L 616.13 314.49 L 616.63 314.1 L 617.13 321.58 L 617.63 314.87 L 618.13 316.09 L 618.63 322.61 L 619.13 320.58 L 619.63 321.02 L 620.14 316.33 L 620.64 323.2 L 621.14 314.19 L 621.64 320.16 L 622.14 314.14 L 622.64 292.68" clip-path="url(#p0796a7d0fc)" style="fill: none; stroke: #d62728; stroke-linecap: square"/>
   </g>
   <g id="line2d_45">
    <path d="M 115.36 137.45 L 115.86 318.5 L 116.36 312.94 L 116.86 319.31 L 117.36 335.19 L 117.86 316.91 L 118.37 316.08 L 118.87 326.27 L 119.37 327.16 L 119.87 309.12 L 120.37 313.59 L 120.87 317.1 L 121.37 314.34 L 121.87 319.4 L 122.37 319.98 L 122.87 318.52 L 123.37 320.68 L 123.87 315.94 L 124.37 313.95 L 124.87 321.56 L 125.37 319.11 L 125.87 318.7 L 126.37 330.94 L 126.87 326.81 L 127.37 319.33 L 127.87 314.31 L 128.37 315.81 L 128.87 315.55 L 129.37 324.79 L 129.87 312.65 L 130.37 315.72 L 130.87 326.02 L 131.37 314.52 L 131.87 309.42 L 132.37 309.65 L 132.87 318.98 L 133.37 319.46 L 133.87 316.69 L 134.37 319.76 L 134.87 311.68 L 135.37 312.5 L 135.87 315.26 L 136.37 324.52 L 136.88 334.12 L 137.38 315.14 L 137.88 318.87 L 138.38 324.17 L 138.88 314.32 L 139.38 311.02 L 139.88 314.57 L 140.38 323.86 L 140.88 328.81 L 141.38 314.98 L 141.88 306.73 L 142.38 310.77 L 142.88 313.44 L 143.38 320.61 L 143.88 323.77 L 144.38 324.03 L 144.88 309.46 L 145.38 308.29 L 145.88 315.82 L 146.38 324.04 L 146.88 316.51 L 147.38 318.03 L 147.88 315.82 L 148.38 320.6 L 148.88 316.99 L 149.38 312.73 L 149.88 314.75 L 150.38 312.13 L 150.88 322.82 L 151.38 328.54 L 151.88 316.16 L 152.38 312.65 L 152.88 312.17 L 153.38 322.21 L 153.88 321.49 L 154.38 321.4 L 154.88 329.77 L 155.39 327.18 L 155.89 320.01 L 156.39 316.69 L 156.89 322.42 L 157.39 319.08 L 157.89 327.36 L 158.39 330.71 L 158.89 321.24 L 159.39 325.6 L 159.89 326.56 L 160.39 321.38 L 160.89 322.23 L 161.39 318.69 L 161.89 315.58 L 162.39 325.64 L 162.89 324.44 L 163.39 320.39 L 163.89 318.52 L 164.39 320.52 L 164.89 325.47 L 165.39 322.56 L 165.89 321.81 L 166.39 323.28 L 166.89 323.23 L 167.39 324.5 L 167.89 316.01 L 168.39 323.67 L 168.89 316.89 L 169.39 312.4 L 169.89 325.47 L 170.39 322.37 L 170.89 327.21 L 171.39 323.74 L 171.89 325.64 L 172.39 319.14 L 172.89 317.97 L 173.39 317 L 173.9 318.47 L 174.4 316.66 L 174.9 312.76 L 175.4 315.15 L 175.9 316.96 L 176.4 316.75 L 176.9 319.53 L 177.4 314.14 L 177.9 317.48 L 178.4 317.49 L 178.9 313.98 L 179.4 318 L 179.9 316.41 L 180.4 320.91 L 180.9 319.59 L 181.4 342.94 L 181.9 316.12 L 182.4 310.42 L 182.9 308.94 L 183.4 308.01 L 183.9 312.42 L 184.4 316.62 L 184.9 309.32 L 185.4 310.11 L 185.9 320.51 L 186.4 328.48 L 186.9 316.66 L 187.4 310.92 L 187.9 319.06 L 188.4 311.74 L 188.9 311.45 L 189.4 310.46 L 189.9 317.73 L 190.4 318.24 L 190.9 321.89 L 191.4 320.08 L 191.9 319.53 L 192.41 320.47 L 192.91 327.25 L 193.41 316.26 L 193.91 314.94 L 194.41 325.4 L 194.91 328.5 L 195.41 338.26 L 195.91 327.9 L 196.41 315.76 L 196.91 314.63 L 197.41 317.36 L 197.91 314.21 L 198.41 315.67 L 198.91 313.74 L 199.41 326.56 L 199.91 322.48 L 200.41 322.44 L 200.91 324.43 L 201.41 312.48 L 201.91 312.65 L 202.41 319.93 L 202.91 311.37 L 203.41 319 L 203.91 318.08 L 204.41 319.85 L 204.91 321.94 L 205.41 318.2 L 205.91 310.49 L 206.41 318.56 L 206.91 318.21 L 207.41 312.04 L 207.91 313.56 L 208.41 322.75 L 208.91 322.29 L 209.41 325.32 L 209.91 322.36 L 210.41 336.11 L 210.92 324.36 L 211.42 318.94 L 211.92 317.09 L 212.42 319.42 L 212.92 320.95 L 213.42 315.07 L 213.92 314.9 L 214.42 309.22 L 214.92 312.71 L 215.42 316.47 L 215.92 312.92 L 216.42 306.37 L 216.92 311.31 L 217.42 319.25 L 217.92 327.59 L 218.42 328.2 L 218.92 312.86 L 219.42 316.57 L 219.92 325.38 L 220.42 318.82 L 220.92 322.29 L 221.42 323.8 L 221.92 325.13 L 222.42 314.12 L 222.92 320.27 L 223.42 327.25 L 223.92 318.94 L 224.42 312.85 L 224.92 329.8 L 225.42 319.11 L 225.92 307.86 L 226.42 307.28 L 226.92 310.9 L 227.42 321.48 L 227.92 315.79 L 228.42 316.85 L 228.92 315.7 L 229.42 313.61 L 229.93 322.89 L 230.43 314.79 L 230.93 313.4 L 231.43 326.88 L 231.93 325.87 L 232.43 313.14 L 232.93 311.9 L 233.43 313.47 L 233.93 317.27 L 234.43 313.68 L 234.93 318.21 L 235.43 313.23 L 235.93 307.5 L 236.43 306.73 L 236.93 314.83 L 237.43 324.61 L 237.93 316.11 L 238.43 310.93 L 238.93 313.22 L 239.43 310.55 L 239.93 309.17 L 240.43 312.56 L 240.93 310.02 L 241.43 312.46 L 241.93 317.89 L 242.43 311.83 L 242.93 311.2 L 243.43 273.28 L 243.93 306.6 L 244.43 309.29 L 244.93 314.7 L 245.43 309.73 L 245.93 307.31 L 246.43 315.53 L 246.93 310.13 L 247.43 311.46 L 247.93 306 L 248.44 303.94 L 248.94 300.68 L 249.44 298.11 L 249.94 303.43 L 250.44 302.93 L 250.94 302.25 L 251.44 306.15 L 251.94 305.36 L 252.44 305.58 L 252.94 301.27 L 253.44 303.03 L 253.94 309.36 L 254.44 309.59 L 254.94 300.02 L 255.44 299.6 L 255.94 301.02 L 256.44 299.29 L 256.94 301.41 L 257.44 301.32 L 257.94 298.86 L 258.44 297.67 L 258.94 296.78 L 259.44 301.11 L 259.94 300.1 L 260.44 299.27 L 260.94 293.14 L 261.44 299.65 L 261.94 298.14 L 262.44 293.44 L 262.94 296.63 L 263.44 294.59 L 263.94 294.94 L 264.44 295.3 L 264.94 293.66 L 265.44 296.13 L 265.94 297.11 L 266.44 296.78 L 266.95 294 L 267.45 292.53 L 267.95 295.05 L 268.45 296.34 L 268.95 297.49 L 269.45 295.77 L 269.95 295.01 L 270.45 291.36 L 270.95 287.37 L 271.45 287.28 L 271.95 289.1 L 272.45 290.24 L 272.95 290.63 L 273.45 290.75 L 273.95 290.46 L 274.45 291.14 L 274.95 294.16 L 275.45 290.36 L 275.95 288.67 L 276.45 291.82 L 276.95 294.04 L 277.45 290.5 L 277.95 288.43 L 278.45 288.06 L 278.95 288.61 L 279.45 290.16 L 279.95 288.43 L 280.45 287.66 L 280.95 289.51 L 281.45 286.69 L 281.95 286.54 L 282.45 288.77 L 282.95 290.51 L 283.45 288.65 L 283.95 290.17 L 284.45 286.78 L 284.95 288.34 L 285.46 289.87 L 285.96 288.95 L 286.46 283.82 L 286.96 290.24 L 287.46 289.49 L 287.96 287.95 L 288.46 288.01 L 288.96 288.49 L 289.46 292.54 L 289.96 290.66 L 290.46 287.9 L 290.96 284.91 L 291.46 286.31 L 291.96 289.08 L 292.46 289.23 L 292.96 288.72 L 293.46 286.16 L 293.96 287.4 L 294.46 291.1 L 294.96 291.76 L 295.46 288.29 L 295.96 290.14 L 296.46 290.07 L 296.96 288.73 L 297.46 289.51 L 297.96 290.99 L 298.46 289.35 L 298.96 290.19 L 299.46 293.94 L 299.96 291.31 L 300.46 291.31 L 300.96 295.55 L 301.46 292.24 L 301.96 289 L 302.46 290.49 L 302.96 292.53 L 303.46 290.36 L 303.97 288.72 L 304.47 291.79 L 304.97 295.19 L 305.47 292.76 L 305.97 292.62 L 306.47 292.98 L 306.97 295.01 L 307.47 291.83 L 307.97 289.76 L 308.47 289.79 L 308.97 293.04 L 309.47 290.32 L 309.97 290.31 L 310.47 289.23 L 310.97 292.51 L 311.47 292.03 L 311.97 292.63 L 312.47 295.79 L 312.97 293.27 L 313.47 290.71 L 313.97 290.84 L 314.47 289.32 L 314.97 290.19 L 315.47 295.25 L 315.97 291.88 L 316.47 291.85 L 316.97 293.79 L 317.47 292.72 L 317.97 289.95 L 318.47 287.45 L 318.97 289.98 L 319.47 289.67 L 319.97 288.2 L 320.47 289.39 L 320.97 288.73 L 321.47 290.89 L 321.97 288.35 L 322.47 290.45 L 322.98 291.58 L 323.48 293.67 L 323.98 295.78 L 324.48 289.76 L 324.98 289.64 L 325.48 291.94 L 325.98 288.83 L 326.48 287.25 L 326.98 289.86 L 327.48 289.7 L 327.98 289.22 L 328.48 287.77 L 328.98 288.16 L 329.48 289.37 L 329.98 292.48 L 330.48 293.72 L 330.98 292.02 L 331.48 288.27 L 331.98 288.56 L 332.48 288.72 L 332.98 288.41 L 333.48 288.03 L 333.98 289.05 L 334.48 291.72 L 334.98 295.8 L 335.48 292.79 L 335.98 291.93 L 336.48 288.57 L 336.98 291.05 L 337.48 294.69 L 337.98 291.16 L 338.48 290.69 L 338.98 291.53 L 339.48 288.02 L 339.98 288.93 L 340.48 293.66 L 340.98 292.74 L 341.49 292.53 L 341.99 292.31 L 342.49 290.97 L 342.99 289.91 L 343.49 290.5 L 343.99 290.53 L 344.49 294.05 L 344.99 292.47 L 345.49 294 L 345.99 295.5 L 346.49 289.88 L 346.99 288.1 L 347.49 290.14 L 347.99 290.91 L 348.49 292.53 L 348.99 291 L 349.49 290.12 L 349.99 291.74 L 350.49 291.13 L 350.99 287.82 L 351.49 289.25 L 351.99 292.13 L 352.49 292.85 L 352.99 293.41 L 353.49 294.78 L 353.99 294.31 L 354.49 295.02 L 354.99 298.65 L 355.49 294.17 L 355.99 296.28 L 356.49 295.72 L 356.99 296.06 L 357.49 292.79 L 357.99 296.11 L 358.49 296.01 L 358.99 298.86 L 359.49 297.05 L 360 293.78 L 360.5 295.73 L 361 298.3 L 361.5 301.01 L 362 297.67 L 362.5 296.88 L 363 296.73 L 363.5 302.6 L 364 298.87 L 364.5 296.54 L 365 296.88 L 365.5 299.74 L 366 298.56 L 366.5 297.36 L 367 299.75 L 367.5 298.48 L 368 297.62 L 368.5 293.66 L 369 299.91 L 369.5 297.93 L 370 298.12 L 370.5 297.4 L 371 295.32 L 371.5 220.61 L 372 294.77 L 372.5 299.33 L 373 302.25 L 373.5 300.55 L 374 299.81 L 374.5 296.44 L 375 294.7 L 375.5 297.06 L 376 298.26 L 376.5 299.18 L 377 299.4 L 377.5 296.65 L 378 295.34 L 378.51 300.55 L 379.01 296.6 L 379.51 300.08 L 380.01 299.24 L 380.51 295.95 L 381.01 298.02 L 381.51 298.75 L 382.01 300.77 L 382.51 298.73 L 383.01 296.05 L 383.51 295.29 L 384.01 299.08 L 384.51 298.33 L 385.01 298.49 L 385.51 296.51 L 386.01 297.62 L 386.51 304.73 L 387.01 300.68 L 387.51 293.8 L 388.01 293.71 L 388.51 297.73 L 389.01 293.6 L 389.51 297.05 L 390.01 302.48 L 390.51 299.13 L 391.01 294.89 L 391.51 294.58 L 392.01 298.13 L 392.51 301.57 L 393.01 303.94 L 393.51 302.85 L 394.01 304.32 L 394.51 301.02 L 395.01 300.94 L 395.51 299.75 L 396.01 297.62 L 396.51 304.13 L 397.02 309.7 L 397.52 307.89 L 398.02 301.75 L 398.52 306.03 L 399.02 302.61 L 399.52 304.03 L 400.02 300.28 L 400.52 304.08 L 401.02 306.91 L 401.52 299.57 L 402.02 299.25 L 402.52 306.68 L 403.02 305.92 L 403.52 304.7 L 404.02 301 L 404.52 302.31 L 405.02 301.14 L 405.52 305.14 L 406.02 313.06 L 406.52 309.28 L 407.02 307.97 L 407.52 306.41 L 408.02 308.41 L 408.52 307.44 L 409.02 313.23 L 409.52 310.02 L 410.02 310.99 L 410.52 311.43 L 411.02 306.08 L 411.52 310.21 L 412.02 308.77 L 412.52 310.03 L 413.02 305.44 L 413.52 304.25 L 414.02 308.21 L 414.52 316.79 L 415.02 310.31 L 415.53 303.47 L 416.03 303.44 L 416.53 312.14 L 417.03 324.8 L 417.53 316.01 L 418.03 321.68 L 418.53 320.32 L 419.03 311.6 L 419.53 309.38 L 420.03 318.25 L 420.53 319.61 L 421.03 314.36 L 421.53 306.6 L 422.03 306.35 L 422.53 310.4 L 423.03 311.7 L 423.53 317.06 L 424.03 316.29 L 424.53 312.42 L 425.03 316.72 L 425.53 307.73 L 426.03 310.12 L 426.53 311.16 L 427.03 312.48 L 427.53 308.12 L 428.03 309.6 L 428.53 316.7 L 429.03 315.27 L 429.53 309.44 L 430.03 315.84 L 430.53 310.32 L 431.03 309.51 L 431.53 306.11 L 432.03 310.87 L 432.53 303.81 L 433.03 310.4 L 433.53 316.32 L 434.03 313.54 L 434.54 307.11 L 435.04 311.73 L 435.54 319.29 L 436.04 315.35 L 436.54 306.99 L 437.04 319.72 L 437.54 318.81 L 438.04 307.51 L 438.54 308.36 L 439.04 312.03 L 439.54 309.34 L 440.04 303.61 L 440.54 313.42 L 441.04 309.78 L 441.54 307.4 L 442.04 305.13 L 442.54 320.12 L 443.04 314.91 L 443.54 308.77 L 444.04 308.34 L 444.54 313.64 L 445.04 309.29 L 445.54 310.08 L 446.04 323.56 L 446.54 312.79 L 447.04 308.39 L 447.54 305.94 L 448.04 311.19 L 448.54 319.02 L 449.04 320.85 L 449.54 313.31 L 450.04 310.19 L 450.54 314.17 L 451.04 317.69 L 451.54 317.6 L 452.04 310.58 L 452.54 314 L 453.05 319.4 L 453.55 305.89 L 454.05 310.37 L 454.55 309.52 L 455.05 311.29 L 455.55 317.68 L 456.05 316.98 L 456.55 315.37 L 457.05 314.62 L 457.55 306.6 L 458.05 311.26 L 458.55 308.18 L 459.05 314.45 L 459.55 310.26 L 460.05 307.78 L 460.55 307.49 L 461.05 309.38 L 461.55 307.34 L 462.05 303.41 L 462.55 306.9 L 463.05 312.95 L 463.55 311.41 L 464.05 310.53 L 464.55 306.54 L 465.05 303.57 L 465.55 310.8 L 466.05 306.03 L 466.55 307.99 L 467.05 310.29 L 467.55 309.62 L 468.05 306.97 L 468.55 311.73 L 469.05 316.4 L 469.55 310.05 L 470.05 314.25 L 470.55 309.61 L 471.05 316.73 L 471.56 311.64 L 472.06 318.41 L 472.56 319.48 L 473.06 307.58 L 473.56 309.02 L 474.06 316.48 L 474.56 317.44 L 475.06 325.15 L 475.56 318.4 L 476.06 326.87 L 476.56 331.47 L 477.06 319.87 L 477.56 326.66 L 478.06 321.09 L 478.56 315.44 L 479.06 313.76 L 479.56 320.47 L 480.06 315.47 L 480.56 313.82 L 481.06 328.73 L 481.56 320.19 L 482.06 308.56 L 482.56 310.75 L 483.06 309.61 L 483.56 310.95 L 484.06 309.28 L 484.56 318.91 L 485.06 317.99 L 485.56 313.02 L 486.06 318.53 L 486.56 320.13 L 487.06 312.08 L 487.56 310.22 L 488.06 314.05 L 488.56 310.76 L 489.06 322.75 L 489.56 326.53 L 490.07 315.81 L 490.57 324.97 L 491.07 313.2 L 491.57 307.03 L 492.07 307.78 L 492.57 307.79 L 493.07 326.16 L 493.57 318.88 L 494.07 310.06 L 494.57 318.02 L 495.07 319.83 L 495.57 317.29 L 496.07 317.78 L 496.57 311.42 L 497.07 311.26 L 497.57 311.51 L 498.07 314.32 L 498.57 313.96 L 499.07 316.82 L 499.57 276.05 L 500.07 311.37 L 500.57 306.4 L 501.07 304.67 L 501.57 309.12 L 502.07 306.67 L 502.57 313.57 L 503.07 314.72 L 503.57 323.14 L 504.07 312.57 L 504.57 324.41 L 505.07 321.47 L 505.57 309.14 L 506.07 308.68 L 506.57 313.72 L 507.07 311.79 L 507.57 316.1 L 508.07 309.92 L 508.58 315.39 L 509.08 316.16 L 509.58 307.39 L 510.08 309.41 L 510.58 310.76 L 511.08 316.57 L 511.58 317.23 L 512.08 320.15 L 512.58 309.46 L 513.08 307.82 L 513.58 309.5 L 514.08 314.67 L 514.58 323.31 L 515.08 313.09 L 515.58 310.78 L 516.08 314.84 L 516.58 314.06 L 517.08 317.44 L 517.58 312.34 L 518.08 311.22 L 518.58 315.01 L 519.08 313.38 L 519.58 311.64 L 520.08 312.85 L 520.58 310.15 L 521.08 311.26 L 521.58 313.7 L 522.08 317.86 L 522.58 316.34 L 523.08 309.71 L 523.58 309.02 L 524.08 313.25 L 524.58 312.78 L 525.08 315.44 L 525.58 318 L 526.08 321.63 L 526.58 320.49 L 527.08 323.34 L 527.59 325.91 L 528.09 320.37 L 528.59 317.88 L 529.09 321.6 L 529.59 311.46 L 530.09 315.08 L 530.59 321.65 L 531.09 319.18 L 531.59 311.28 L 532.09 313.45 L 532.59 316.93 L 533.09 313.86 L 533.59 314.36 L 534.09 310.88 L 534.59 306.8 L 535.09 310.92 L 535.59 312.25 L 536.09 309.65 L 536.59 314.65 L 537.09 314.61 L 537.59 316.25 L 538.09 311.1 L 538.59 307.94 L 539.09 315.36 L 539.59 320.1 L 540.09 316.19 L 540.59 318.3 L 541.09 320.77 L 541.59 322.43 L 542.09 315.35 L 542.59 310.19 L 543.09 318.7 L 543.59 312.88 L 544.09 310.49 L 544.59 323.07 L 545.09 318.85 L 545.59 322.02 L 546.1 314.67 L 546.6 312.39 L 547.1 316.43 L 547.6 318.16 L 548.1 320.08 L 548.6 317.99 L 549.1 314.08 L 549.6 307.74 L 550.1 309.51 L 550.6 311.92 L 551.1 310.39 L 551.6 308.89 L 552.1 307.11 L 552.6 314.25 L 553.1 317.9 L 553.6 314.88 L 554.1 324.51 L 554.6 321.01 L 555.1 326.83 L 555.6 321.65 L 556.1 315.27 L 556.6 315.04 L 557.1 314.69 L 557.6 315.61 L 558.1 311.73 L 558.6 310.35 L 559.1 312.2 L 559.6 316.04 L 560.1 314.35 L 560.6 317.32 L 561.1 317.16 L 561.6 313.05 L 562.1 313.94 L 562.6 326.12 L 563.1 324.28 L 563.6 314.63 L 564.1 316.72 L 564.61 319.25 L 565.11 313.51 L 565.61 314.25 L 566.11 318.19 L 566.61 321.02 L 567.11 311.35 L 567.61 311.51 L 568.11 317.46 L 568.61 327.08 L 569.11 320.6 L 569.61 337.14 L 570.11 318.39 L 570.61 320.72 L 571.11 324.31 L 571.61 318.47 L 572.11 315.3 L 572.61 316.36 L 573.11 315.23 L 573.61 313.46 L 574.11 312.61 L 574.61 317.38 L 575.11 323.08 L 575.61 323.02 L 576.11 323.09 L 576.61 326.04 L 577.11 324.81 L 577.61 315.37 L 578.11 312.42 L 578.61 322.56 L 579.11 323.98 L 579.61 320.01 L 580.11 321.97 L 580.61 319.66 L 581.11 327.87 L 581.61 323 L 582.11 313.56 L 582.61 320.06 L 583.12 314.84 L 583.62 312.2 L 584.12 308.07 L 584.62 322.19 L 585.12 317.07 L 585.62 316.31 L 586.12 327.28 L 586.62 319.98 L 587.12 315.85 L 587.62 320.76 L 588.12 317.53 L 588.62 323.9 L 589.12 310.79 L 589.62 315.21 L 590.12 312.97 L 590.62 307.63 L 591.12 307.91 L 591.62 321.85 L 592.12 325.45 L 592.62 325.05 L 593.12 326.78 L 593.62 313.25 L 594.12 310.97 L 594.62 317.9 L 595.12 311.9 L 595.62 317.49 L 596.12 313.52 L 596.62 309.87 L 597.12 314.48 L 597.62 310.35 L 598.12 314.29 L 598.62 316.92 L 599.12 313.7 L 599.62 313.3 L 600.12 311.65 L 600.62 306.11 L 601.12 311.04 L 601.63 311.35 L 602.13 319.29 L 602.63 315.38 L 603.13 312.98 L 603.63 318.29 L 604.13 314.75 L 604.63 319.86 L 605.13 317.69 L 605.63 317 L 606.13 317.35 L 606.63 317.53 L 607.13 323.78 L 607.63 318.71 L 608.13 313.59 L 608.63 313.66 L 609.13 316.33 L 609.63 319.94 L 610.13 312.87 L 610.63 309.94 L 611.13 316.07 L 611.63 308.99 L 612.13 310.17 L 612.63 310.49 L 613.13 315 L 613.63 318.05 L 614.13 309.31 L 614.63 313.78 L 615.13 320.25 L 615.63 317.18 L 616.13 322.27 L 616.63 319.51 L 617.13 308.06 L 617.63 314.75 L 618.13 319.53 L 618.63 329.89 L 619.13 324.16 L 619.63 319.84 L 620.14 311.33 L 620.64 312.81 L 621.14 319.86 L 621.64 319.57 L 622.14 320.99 L 622.64 323.67" clip-path="url(#p0796a7d0fc)" style="fill: none; stroke: #9467bd; stroke-linecap: square"/>
   </g>
   <g id="line2d_46">
    <path d="M 115.36 134.4 L 115.86 338.92 L 116.36 333.97 L 116.86 341.22 L 117.36 336.83 L 117.86 332.44 L 118.37 339.13 L 118.87 356.08 L 119.37 345.19 L 119.87 340 L 120.37 345.74 L 120.87 331.41 L 121.37 342.04 L 121.87 335.41 L 122.37 349.94 L 122.87 327.86 L 123.37 329.52 L 123.87 337.29 L 124.37 333.57 L 124.87 343.93 L 125.37 337.32 L 125.87 335.69 L 126.37 350.59 L 126.87 339.08 L 127.37 338.07 L 127.87 337.2 L 128.37 339.13 L 128.87 344.83 L 129.37 361 M 129.37 361 L 129.87 344.69 L 130.37 345.04 L 130.87 341.06 L 131.26 361 M 131.51 361 L 131.87 346.38 L 132.37 344.48 L 132.87 342.54 L 133.37 339.4 L 133.87 344.33 L 134.37 346.04 L 134.87 345.09 L 135.37 348.57 L 135.87 353.76 L 136.37 343.54 L 136.88 340.33 L 137.38 334.19 L 137.88 335.29 L 138.38 348.71 L 138.88 345.01 L 139.38 345.52 L 139.88 337.94 L 140.38 339.56 L 140.88 336.08 L 141.38 333.54 L 141.88 341.39 L 142.38 331.67 L 142.88 333.55 L 143.38 338.13 L 143.88 346.37 L 144.38 360.72 L 144.88 341.23 L 145.38 330.74 L 145.88 333.82 L 146.38 337.14 L 146.88 339.7 L 147.38 341.14 L 147.88 338.93 L 148.38 334.14 L 148.88 338.92 L 149.38 334.72 L 149.88 347.23 L 150.38 336.59 L 150.88 344.43 L 151.38 336.23 L 151.88 334.77 L 152.38 340.19 L 152.88 345.95 L 153.38 356.15 L 153.88 358.98 L 154.38 339.83 L 154.88 346.46 L 155.39 343.72 L 155.89 348.74 L 156.39 343.43 L 156.89 348.94 L 157.39 337.35 L 157.89 345.05 L 158.39 340.61 L 158.89 349.25 L 159.39 343.51 L 159.89 341.09 L 160.39 335.3 L 160.89 339.78 L 161.39 336.09 L 161.89 333.7 L 162.39 329.15 L 162.89 336.41 L 163.39 346.12 L 163.89 340.22 L 164.39 343.72 L 164.89 342.28 L 165.39 339.73 L 165.89 339.55 L 166.39 342.54 L 166.89 341.08 L 167.39 346.64 L 167.89 341.69 L 168.39 341.73 L 168.89 347.45 L 169.39 345.89 L 169.89 340.46 L 170.39 358.21 L 170.89 349.1 L 171.39 340.65 L 171.89 336.47 L 172.39 333.83 L 172.89 336.83 L 173.39 334.94 L 173.9 339.25 L 174.35 361 M 174.44 361 L 174.9 340.59 L 175.4 339.13 L 175.9 339.11 L 176.4 339.64 L 176.9 331.72 L 177.4 333.65 L 177.9 333.86 L 178.4 338.53 L 178.9 333.55 L 179.4 337.2 L 179.9 343.99 L 180.4 341.15 L 180.9 338.3 L 181.4 343.99 L 181.9 341.89 L 182.4 352.76 L 182.9 351.51 L 183.4 336.58 L 183.9 335.75 L 184.4 346.61 L 184.9 348.67 L 185.4 342.69 L 185.9 330.24 L 186.4 329.48 L 186.9 330.68 L 187.4 333.99 L 187.9 338.33 L 188.4 341.01 L 188.9 342.4 L 189.4 328.39 L 189.9 331.6 L 190.4 337.82 L 190.9 342.05 L 191.4 344.67 L 191.9 345.87 L 192.41 345.37 L 192.91 349.49 L 193.41 337.46 L 193.91 340.06 L 194.41 353.56 L 194.91 351.91 L 195.41 343.88 L 195.91 339.18 L 196.41 334.67 L 196.91 338.05 L 197.41 351.57 L 197.91 357.36 L 198.41 351.26 L 198.91 342.99 L 199.41 350.45 L 199.91 343.09 L 200.41 344.31 L 200.91 343.63 L 201.41 345.19 L 201.91 345.31 L 202.41 341.85 L 202.91 338.12 L 203.41 338.76 L 203.91 338.13 L 204.41 355.73 L 204.91 342.49 L 205.41 341.72 L 205.91 346.88 L 206.41 339.22 L 206.91 346.15 L 207.41 344.16 L 207.91 343.33 L 208.41 336.87 L 208.91 342.91 L 209.41 345.24 L 209.91 339.31 L 210.41 336.96 L 210.92 343.07 L 211.42 343.32 L 211.92 336.39 L 212.42 338.78 L 212.92 350.04 L 213.42 354.56 L 213.92 355.87 L 214.42 332.19 L 214.92 334.65 L 215.42 347.6 L 215.92 347.02 L 216.42 341.78 L 216.92 337.66 L 217.42 342.27 L 217.92 339.74 L 218.42 339.59 L 218.92 336.91 L 219.42 345.27 L 219.92 353.47 L 220.42 345.67 L 220.92 341.73 L 221.42 346.96 L 221.92 339.67 L 222.42 341.96 L 222.92 352.33 L 223.42 339.66 L 223.92 331.93 L 224.42 326.08 L 224.92 330.53 L 225.42 346.44 L 225.92 347.85 L 226.42 338.82 L 226.92 338.91 L 227.42 347.99 L 227.92 344 L 228.42 346.8 L 228.92 338.07 L 229.42 345.45 L 229.93 344.5 L 230.43 340.39 L 230.93 339.19 L 231.43 340.44 L 231.93 330.38 L 232.43 334.35 L 232.93 336.49 L 233.43 336.8 L 233.93 339.48 L 234.43 351.03 L 234.93 346.86 L 235.43 334.73 L 235.93 344.37 L 236.43 343.41 L 236.93 339.19 L 237.43 341.79 L 237.93 338.88 L 238.43 333.33 L 238.93 339.38 L 239.43 345.08 L 239.93 340.43 L 240.43 330.96 L 240.93 328.21 L 241.43 329.12 L 241.93 330.09 L 242.43 335.27 L 242.93 338.97 L 243.43 269.67 L 243.93 342.1 L 244.43 340.71 L 244.93 338.6 L 245.43 340.94 L 245.93 337.61 L 246.43 335.92 L 246.93 331.48 L 247.43 340.82 L 247.93 338.05 L 248.44 334.52 L 248.94 346.63 L 249.44 341.45 L 249.94 339.66 L 250.44 339.42 L 250.94 338.14 L 251.44 336.65 L 251.94 343.06 L 252.44 352.39 L 252.94 341.53 L 253.44 338.28 L 253.94 333.07 L 254.44 333.54 L 254.94 338.81 L 255.44 357.2 L 255.51 361 M 256.19 361 L 256.44 337.84 L 256.94 339.32 L 257.44 349.74 L 257.64 361 M 258.21 361 L 258.44 347.37 L 258.94 345.22 L 259.44 355.14 L 259.94 340.99 L 260.44 341.55 L 260.94 336.13 L 261.44 332.46 L 261.94 329.21 L 262.44 329.12 L 262.94 340.74 L 263.44 339.09 L 263.94 340.43 L 264.44 338.73 L 264.94 337.48 L 265.44 337.37 L 265.94 339.75 L 266.44 331.85 L 266.95 345.14 L 267.45 357.23 L 267.95 335.7 L 268.45 328.6 L 268.95 329.3 L 269.45 344.31 L 269.95 342.83 L 270.45 326.97 L 270.95 319.91 L 271.45 326.22 L 271.95 327.12 L 272.45 321.32 L 272.95 333.03 L 273.45 339.99 L 273.95 317.99 L 274.45 323.29 L 274.95 314.94 L 275.45 311.07 L 275.95 315.27 L 276.45 317.14 L 276.95 313.33 L 277.45 315.92 L 277.95 309.22 L 278.45 307.98 L 278.95 308.56 L 279.45 304.94 L 279.95 305.67 L 280.45 307.34 L 280.95 302.5 L 281.45 297.57 L 281.95 297.24 L 282.45 300.16 L 282.95 308.76 L 283.45 308.79 L 283.95 318.66 L 284.45 304.28 L 284.95 307.32 L 285.46 308.46 L 285.96 305.66 L 286.46 311.19 L 286.96 317.32 L 287.46 309.35 L 287.96 299.21 L 288.46 298.74 L 288.96 305.28 L 289.46 310.18 L 289.96 301.19 L 290.46 299.62 L 290.96 296.01 L 291.46 296.41 L 291.96 306.5 L 292.46 294.54 L 292.96 297.15 L 293.46 299.04 L 293.96 306.13 L 294.46 300.69 L 294.96 294.53 L 295.46 296.18 L 295.96 295.67 L 296.46 301.11 L 296.96 303.81 L 297.46 302.72 L 297.96 293.57 L 298.46 291.38 L 298.96 299.89 L 299.46 300.42 L 299.96 301.21 L 300.46 297 L 300.96 305.99 L 301.46 299.66 L 301.96 297.43 L 302.46 301.17 L 302.96 307.17 L 303.46 304.85 L 303.97 300.85 L 304.47 300.2 L 304.97 304.21 L 305.47 303.12 L 305.97 307.6 L 306.47 307.95 L 306.97 308.52 L 307.47 305.94 L 307.97 307.74 L 308.47 300.36 L 308.97 299.91 L 309.47 302.57 L 309.97 310.43 L 310.47 307.54 L 310.97 307.6 L 311.47 298.92 L 311.97 298.67 L 312.47 297.09 L 312.97 297.63 L 313.47 300.74 L 313.97 312.83 L 314.47 306.62 L 314.97 310.69 L 315.47 304.93 L 315.97 304.42 L 316.47 315.78 L 316.97 307.48 L 317.47 302.23 L 317.97 307.48 L 318.47 304.27 L 318.97 302.5 L 319.47 302.78 L 319.97 297.31 L 320.47 299.4 L 320.97 300.12 L 321.47 304.03 L 321.97 304.61 L 322.47 304.14 L 322.98 298.2 L 323.48 295.82 L 323.98 299.35 L 324.48 300.46 L 324.98 296.54 L 325.48 296.53 L 325.98 298.42 L 326.48 302.37 L 326.98 318.86 L 327.48 310.74 L 327.98 305.77 L 328.48 308.13 L 328.98 305.7 L 329.48 305.12 L 329.98 307.13 L 330.48 299.65 L 330.98 307.67 L 331.48 303.41 L 331.98 299.7 L 332.48 301.02 L 332.98 303.65 L 333.48 298.67 L 333.98 306.39 L 334.48 306.08 L 334.98 304.85 L 335.48 302.91 L 335.98 315.1 L 336.48 305.5 L 336.98 308.03 L 337.48 309.22 L 337.98 302.96 L 338.48 303.22 L 338.98 311.19 L 339.48 302.15 L 339.98 300.33 L 340.48 302.8 L 340.98 323.14 L 341.49 309.12 L 341.99 341.08 L 342.49 314.07 L 342.99 296.86 L 343.49 294.87 L 343.99 300.76 L 344.49 307.17 L 344.99 304.71 L 345.49 303.21 L 345.99 306.7 L 346.49 301.62 L 346.99 300.59 L 347.49 307.81 L 347.99 303.61 L 348.49 305.17 L 348.99 308.2 L 349.49 301.64 L 349.99 309.28 L 350.49 303.12 L 350.99 311.1 L 351.49 322.81 L 351.99 304.56 L 352.49 299.48 L 352.99 301.31 L 353.49 302.05 L 353.99 300.65 L 354.49 301.98 L 354.99 318.24 L 355.49 319.13 L 355.99 315.38 L 356.49 305.62 L 356.99 299.5 L 357.49 301.39 L 357.99 301.13 L 358.49 302.36 L 358.99 296.2 L 359.49 302.97 L 360 300.19 L 360.5 306.66 L 361 317.56 L 361.5 312.69 L 362 302.36 L 362.5 303.84 L 363 297.62 L 363.5 301.76 L 364 313.27 L 364.5 319.04 L 365 318.48 L 365.5 306.93 L 366 296.32 L 366.5 306.57 L 367 312.21 L 367.5 301.69 L 368 309.35 L 368.5 298.23 L 369 306.88 L 369.5 301.41 L 370 305.92 L 370.5 308.77 L 371 298.81 L 371.5 217.56 L 372 293.65 L 372.5 300.94 L 373 298.92 L 373.5 298.58 L 374 297.68 L 374.5 298.68 L 375 308.68 L 375.5 307.03 L 376 299.29 L 376.5 299.09 L 377 297.79 L 377.5 300.11 L 378 306.8 L 378.51 311.74 L 379.01 308.76 L 379.51 302.47 L 380.01 309.8 L 380.51 322.83 L 381.01 310.25 L 381.51 307.87 L 382.01 315.73 L 382.51 302.64 L 383.01 298.22 L 383.51 307.55 L 384.01 302.48 L 384.51 299.48 L 385.01 298.73 L 385.51 296.43 L 386.01 300.46 L 386.51 304.11 L 387.01 300.25 L 387.51 295.75 L 388.01 297.87 L 388.51 300.01 L 389.01 301.49 L 389.51 304.56 L 390.01 302.02 L 390.51 300.09 L 391.01 303.48 L 391.51 298.85 L 392.01 298.16 L 392.51 296.72 L 393.01 302.21 L 393.51 309.71 L 394.01 300.41 L 394.51 298.37 L 395.01 302.31 L 395.51 300.65 L 396.01 301.59 L 396.51 304.26 L 397.02 302.36 L 397.52 310.22 L 398.02 300.5 L 398.52 303.48 L 399.02 316.27 L 399.52 310.01 L 400.02 306.25 L 400.52 305.68 L 401.02 323.22 L 401.52 314.36 L 402.02 311.1 L 402.52 316.54 L 403.02 304.23 L 403.52 300.74 L 404.02 302.91 L 404.52 305.11 L 405.02 307.5 L 405.52 308.58 L 406.02 312.83 L 406.52 314.26 L 407.02 306.28 L 407.52 300.82 L 408.02 300.55 L 408.52 303.6 L 409.02 310.48 L 409.52 314.36 L 410.02 328.75 L 410.52 315.26 L 411.02 309.65 L 411.52 310.71 L 412.02 305.01 L 412.52 304.8 L 413.02 307.54 L 413.52 314 L 414.02 330.55 L 414.52 326.47 L 415.02 317.14 L 415.53 318.4 L 416.03 314.18 L 416.53 317.16 L 417.03 319.32 L 417.53 313.53 L 418.03 311.47 L 418.53 313.68 L 419.03 315.71 L 419.53 328.24 L 420.03 313.44 L 420.53 313.35 L 421.03 316.07 L 421.53 308.64 L 422.03 317.46 L 422.53 314.85 L 423.03 316.94 L 423.53 318.39 L 424.03 318.18 L 424.53 323.26 L 425.03 322.39 L 425.53 329.36 L 426.03 329.35 L 426.53 329.13 L 427.03 316.07 L 427.53 327.36 L 428.03 327.38 L 428.53 320.92 L 429.03 311.79 L 429.53 321.57 L 430.03 320.15 L 430.53 315.57 L 431.03 317.8 L 431.53 325.61 L 432.03 324.99 L 432.53 329.67 L 433.03 324.04 L 433.53 324.24 L 434.03 326.47 L 434.54 315.7 L 435.04 319.23 L 435.54 319.38 L 436.04 326.03 L 436.54 326.18 L 437.04 325.64 L 437.54 338.21 L 438.04 360.2 L 438.54 352.44 L 439.04 327.73 L 439.54 325.43 L 440.04 323.06 L 440.54 324.58 L 441.04 324.82 L 441.54 324.45 L 442.04 321.04 L 442.54 319.44 L 443.04 321.93 L 443.54 319.68 L 444.04 331.38 L 444.54 327.46 L 445.04 326.25 L 445.54 322.11 L 446.04 329.82 L 446.54 326.45 L 447.04 321.95 L 447.54 330.34 L 448.04 331.36 L 448.54 327.62 L 449.04 329.9 L 449.54 334.36 L 450.04 334.38 L 450.54 334.64 L 451.04 331.53 L 451.54 321.82 L 452.04 327.73 L 452.54 323.09 L 453.05 330.69 L 453.55 328.81 L 454.05 327.28 L 454.55 336.07 L 455.05 328.73 L 455.55 341.95 L 456.05 323.7 L 456.55 326.44 L 457.05 324.9 L 457.55 325.4 L 458.05 330.34 L 458.55 321.97 L 459.05 322.9 L 459.55 319.7 L 460.05 318.86 L 460.55 321.88 L 461.05 327.41 L 461.55 316.39 L 462.05 332.38 L 462.55 327.4 L 463.05 318.87 L 463.55 337.62 L 464.05 337.79 L 464.55 330.26 L 465.05 323.92 L 465.55 335.31 L 466.05 336.36 L 466.55 325.41 L 467.05 316.89 L 467.55 314.82 L 468.05 317.02 L 468.55 325.87 L 469.05 317.93 L 469.55 328 L 470.05 321.81 L 470.55 320.42 L 471.05 319.15 L 471.56 321.41 L 472.06 319.84 L 472.56 323.81 L 473.06 311.64 L 473.56 308.96 L 474.06 313.39 L 474.56 317.99 L 475.06 316.27 L 475.56 321.34 L 476.06 314.46 L 476.56 311.16 L 477.06 323.53 L 477.56 318.33 L 478.06 303.98 L 478.56 311.19 L 479.06 318.96 L 479.56 316.83 L 480.06 313.65 L 480.56 315.12 L 481.06 321.02 L 481.56 316.19 L 482.06 313.38 L 482.56 309.57 L 483.06 315.2 L 483.56 308.91 L 484.06 313.24 L 484.56 314.67 L 485.06 314.58 L 485.56 322.42 L 486.06 307.23 L 486.56 303.84 L 487.06 312.54 L 487.56 314.9 L 488.06 314.06 L 488.56 307.77 L 489.06 309.2 L 489.56 307.07 L 490.07 297.69 L 490.57 307.13 L 491.07 314.95 L 491.57 311.27 L 492.07 310.52 L 492.57 311.21 L 493.07 317.72 L 493.57 303.93 L 494.07 303.95 L 494.57 303.5 L 495.07 308.76 L 495.57 306.81 L 496.07 299.01 L 496.57 305.52 L 497.07 304.64 L 497.57 302.29 L 498.07 306.16 L 498.57 304.2 L 499.07 298.12 L 499.57 268.56 L 500.07 304.84 L 500.57 300.23 L 501.07 302.92 L 501.57 317.13 L 502.07 304.75 L 502.57 299.93 L 503.07 300.98 L 503.57 300.4 L 504.07 297.58 L 504.57 299.87 L 505.07 296.61 L 505.57 296.48 L 506.07 301.62 L 506.57 300.23 L 507.07 301.45 L 507.57 302.55 L 508.07 308.18 L 508.58 308.44 L 509.08 316.25 L 509.58 314.02 L 510.08 309.6 L 510.58 312.53 L 511.08 317.36 L 511.58 319.06 L 512.08 320.21 L 512.58 315.12 L 513.08 313.88 L 513.58 323.77 L 514.08 325.88 L 514.58 325.76 L 515.08 322.95 L 515.58 329.36 L 516.08 328.62 L 516.58 317.26 L 517.08 311.23 L 517.58 310.47 L 518.08 311.58 L 518.58 310.68 L 519.08 313.07 L 519.58 312.01 L 520.08 308.58 L 520.58 315.07 L 521.08 316.7 L 521.58 323.92 L 522.08 322.57 L 522.58 315.39 L 523.08 316.42 L 523.58 318.1 L 524.08 312.97 L 524.58 317.63 L 525.08 310.73 L 525.58 316.82 L 526.08 319.85 L 526.58 317.28 L 527.08 320.33 L 527.59 320.05 L 528.09 305.68 L 528.59 310.31 L 529.09 317.17 L 529.59 331.9 L 530.09 310.86 L 530.59 304.97 L 531.09 312.32 L 531.59 315.47 L 532.09 306.3 L 532.59 315.08 L 533.09 309.87 L 533.59 316.81 L 534.09 311.72 L 534.59 307.44 L 535.09 315.41 L 535.59 315.23 L 536.09 314.05 L 536.59 306.82 L 537.09 306.5 L 537.59 305.15 L 538.09 306.96 L 538.59 305.92 L 539.09 305.24 L 539.59 308.12 L 540.09 303.13 L 540.59 315.46 L 541.09 305.37 L 541.59 300.89 L 542.09 306.68 L 542.59 305.53 L 543.09 306.39 L 543.59 314.36 L 544.09 306.79 L 544.59 303.46 L 545.09 302.24 L 545.59 303.88 L 546.1 312.2 L 546.6 305.75 L 547.1 303.6 L 547.6 301.59 L 548.1 302.54 L 548.6 313.74 L 549.1 311.2 L 549.6 305.4 L 550.1 303.45 L 550.6 302.14 L 551.1 302.9 L 551.6 304.94 L 552.1 307.47 L 552.6 306.13 L 553.1 308.51 L 553.6 306.16 L 554.1 310.02 L 554.6 312.31 L 555.1 309.48 L 555.6 306.55 L 556.1 310.93 L 556.6 314.96 L 557.1 315.68 L 557.6 312.47 L 558.1 309.55 L 558.6 306.82 L 559.1 304.11 L 559.6 302.27 L 560.1 301.89 L 560.6 305.98 L 561.1 313.47 L 561.6 317.13 L 562.1 316.03 L 562.6 324.61 L 563.1 325.79 L 563.6 302.22 L 564.1 302.36 L 564.61 309.38 L 565.11 320.08 L 565.61 318.82 L 566.11 307.92 L 566.61 317.11 L 567.11 318.06 L 567.61 314.39 L 568.11 319.73 L 568.61 323.55 L 569.11 325.82 L 569.61 312.22 L 570.11 305.49 L 570.61 308.29 L 571.11 307.58 L 571.61 312.4 L 572.11 319.85 L 572.61 313.93 L 573.11 309.78 L 573.61 310.07 L 574.11 308.83 L 574.61 315.67 L 575.11 326.3 L 575.61 314.48 L 576.11 312.93 L 576.61 311.76 L 577.11 315.68 L 577.61 305.1 L 578.11 305.33 L 578.61 307.09 L 579.11 317.52 L 579.61 321.68 L 580.11 311.43 L 580.61 307.8 L 581.11 308.01 L 581.61 309.33 L 582.11 313.52 L 582.61 315.63 L 583.12 324.07 L 583.62 324.46 L 584.12 319.56 L 584.62 316.09 L 585.12 308.52 L 585.62 309.89 L 586.12 313.95 L 586.62 326.52 L 587.12 331.52 L 587.62 316.19 L 588.12 317.74 L 588.62 309.24 L 589.12 313.71 L 589.62 316.88 L 590.12 327.41 L 590.62 319.87 L 591.12 317.5 L 591.62 312.87 L 592.12 314.85 L 592.62 319.83 L 593.12 319.12 L 593.62 324.1 L 594.12 309.46 L 594.62 309.35 L 595.12 317.78 L 595.62 314.65 L 596.12 311 L 596.62 311.61 L 597.12 314.57 L 597.62 322.74 L 598.12 318.82 L 598.62 322.92 L 599.12 323.89 L 599.62 313.72 L 600.12 311.03 L 600.62 305.71 L 601.12 310.16 L 601.63 316.4 L 602.13 311.84 L 602.63 310.54 L 603.13 321.24 L 603.63 316.67 L 604.13 310.29 L 604.63 310.21 L 605.13 315.96 L 605.63 316.41 L 606.13 314.87 L 606.63 306.13 L 607.13 307.99 L 607.63 312.02 L 608.13 315.31 L 608.63 308.81 L 609.13 311.65 L 609.63 330.76 L 610.13 317.26 L 610.63 308.3 L 611.13 309.36 L 611.63 323.64 L 612.13 330.96 L 612.63 321.2 L 613.13 317.71 L 613.63 328.37 L 614.13 324.48 L 614.63 316.16 L 615.13 316.01 L 615.63 321.26 L 616.13 312.73 L 616.63 306.79 L 617.13 321.19 L 617.63 325.41 L 618.13 327.09 L 618.63 321.21 L 619.13 312.64 L 619.63 316.31 L 620.14 327.46 L 620.64 312.55 L 621.14 313.72 L 621.64 314.21 L 622.14 315.64 L 622.64 320.51" clip-path="url(#p0796a7d0fc)" style="fill: none; stroke: #8c564b; stroke-linecap: square"/>
   </g>
   <g id="line2d_47">
    <path d="M 90 237.24 L 648 237.24" clip-path="url(#p0796a7d0fc)" style="fill: none; stroke-dasharray: 5.55,2.4; stroke-dashoffset: 0; stroke: #1f77b4; stroke-width: 1.5"/>
   </g>
   <g id="patch_3">
    <path d="M 90 320.4 L 90 43.2" style="fill: none; stroke: #000000; stroke-width: 0.8; stroke-linejoin: miter; stroke-linecap: square"/>
   </g>
   <g id="patch_4">
    <path d="M 648 320.4 L 648 43.2" style="fill: none; stroke: #000000; stroke-width: 0.8; stroke-linejoin: miter; stroke-linecap: square"/>
   </g>
   <g id="patch_5">
    <path d="M 90 320.4 L 648 320.4" style="fill: none; stroke: #000000; stroke-width: 0.8; stroke-linejoin: miter; stroke-linecap: square"/>
   </g>
   <g id="patch_6">
    <path d="M 90 43.2 L 648 43.2" style="fill: none; stroke: #000000; stroke-width: 0.8; stroke-linejoin: miter; stroke-linecap: square"/>
   </g>
   <g id="text_18">
    <text style="font-size: 12px; font-family: 'DejaVu Sans', sans-serif; text-anchor: middle" x="369" y="37.2" transform="rotate(-0 369 37.2)">Tx Connected to Rx 11</text>
   </g>
   <g id="legend_1">
    <g id="patch_7">
     <path d="M 552.3 307.58 L 641.18 307.58 Q 643.18 307.58 643.18 305.58 L 643.18 50.44 Q 643.18 48.44 641.18 48.44 L 552.3 48.44 Q 550.3 48.44 550.3 50.44 L 550.3 305.58 Q 550.3 307.58 552.3 307.58 z" style="fill: #ffffff; opacity: 0.8; stroke: #cccccc; stroke-linejoin: miter"/>
    </g>
    <g id="line2d_48">
     <path d="M 554.14 56.5 L 564.14 56.5 L 574.14 56.5" style="fill: none; stroke: #1f77b4; stroke-width: 2.12; stroke-linecap: square"/>
    </g>
    <g id="text_19">
     <text style="font-size: 10px; font-family: 'DejaVu Sans', sans-serif; text-anchor: start" x="581.842188" y="59.998437" transform="rotate(-0 581.842188 59.998437)">Channel 0</text>
    </g>
    <g id="line2d_49">
     <path d="M 554.14 71.59 L 564.14 71.59 L 574.14 71.59" style="fill: none; stroke: #ff7f0e; stroke-width: 2.12; stroke-linecap: square"/>
    </g>
    <g id="text_20">
     <text style="font-size: 10px; font-family: 'DejaVu Sans', sans-serif; text-anchor: start" x="581.842188" y="75.090562" transform="rotate(-0 581.842188 75.090562)">Channel 1</text>
    </g>
    <g id="line2d_50">
     <path d="M 554.14 86.68 L 564.14 86.68 L 574.14 86.68" style="fill: none; stroke: #2ca02c; stroke-width: 2.12; stroke-linecap: square"/>
    </g>
    <g id="text_21">
     <text style="font-size: 10px; font-family: 'DejaVu Sans', sans-serif; text-anchor: start" x="581.842188" y="90.182687" transform="rotate(-0 581.842188 90.182687)">Channel 2</text>
    </g>
    <g id="line2d_51">
     <path d="M 554.14 101.77 L 564.14 101.77 L 574.14 101.77" style="fill: none; stroke: #d62728; stroke-width: 2.12; stroke-linecap: square"/>
    </g>
    <g id="text_22">
     <text style="font-size: 10px; font-family: 'DejaVu Sans', sans-serif; text-anchor: start" x="581.842188" y="105.274812" transform="rotate(-0 581.842188 105.274812)">Channel 3</text>
    </g>
    <g id="line2d_52">
     <path d="M 554.14 116.87 L 564.14 116.87 L 574.14 116.87" style="fill: none; stroke: #9467bd; stroke-width: 2.12; stroke-linecap: square"/>
    </g>
    <g id="text_23">
     <text style="font-size: 10px; font-family: 'DejaVu Sans', sans-serif; text-anchor: start" x="581.842188" y="120.366937" transform="rotate(-0 581.842188 120.366937)">Channel 4</text>
    </g>
    <g id="line2d_53">
     <path d="M 554.14 131.96 L 564.14 131.96 L 574.14 131.96" style="fill: none; stroke: #8c564b; stroke-width: 2.12; stroke-linecap: square"/>
    </g>
    <g id="text_24">
     <text style="font-size: 10px; font-family: 'DejaVu Sans', sans-serif; text-anchor: start" x="581.842188" y="135.459062" transform="rotate(-0 581.842188 135.459062)">Channel 5</text>
    </g>
    <g id="line2d_54">
     <path d="M 554.14 147.05 L 564.14 147.05 L 574.14 147.05" style="fill: none; stroke: #e377c2; stroke-width: 2.12; stroke-linecap: square"/>
    </g>
    <g id="text_25">
     <text style="font-size: 10px; font-family: 'DejaVu Sans', sans-serif; text-anchor: start" x="581.842188" y="150.551187" transform="rotate(-0 581.842188 150.551187)">Channel 6</text>
    </g>
    <g id="line2d_55">
     <path d="M 554.14 162.14 L 564.14 162.14 L 574.14 162.14" style="fill: none; stroke: #7f7f7f; stroke-width: 2.12; stroke-linecap: square"/>
    </g>
    <g id="text_26">
     <text style="font-size: 10px; font-family: 'DejaVu Sans', sans-serif; text-anchor: start" x="581.842188" y="165.643312" transform="rotate(-0 581.842188 165.643312)">Channel 7</text>
    </g>
    <g id="line2d_56">
     <path d="M 554.14 177.24 L 564.14 177.24 L 574.14 177.24" style="fill: none; stroke: #bcbd22; stroke-width: 2.12; stroke-linecap: square"/>
    </g>
    <g id="text_27">
     <text style="font-size: 10px; font-family: 'DejaVu Sans', sans-serif; text-anchor: start" x="581.842188" y="180.735437" transform="rotate(-0 581.842188 180.735437)">Channel 8</text>
    </g>
    <g id="line2d_57">
     <path d="M 554.14 192.33 L 564.14 192.33 L 574.14 192.33" style="fill: none; stroke: #17becf; stroke-width: 2.12; stroke-linecap: square"/>
    </g>
    <g id="text_28">
     <text style="font-size: 10px; font-family: 'DejaVu Sans', sans-serif; text-anchor: start" x="581.842188" y="195.827562" transform="rotate(-0 581.842188 195.827562)">Channel 9</text>
    </g>
    <g id="line2d_58">
     <path d="M 554.14 207.42 L 564.14 207.42 L 574.14 207.42" style="fill: none; stroke: #1f77b4; stroke-linecap: square"/>
    </g>
    <g id="text_29">
     <text style="font-size: 10px; font-family: 'DejaVu Sans', sans-serif; text-anchor: start" x="581.842188" y="210.919687" transform="rotate(-0 581.842188 210.919687)">Channel 10</text>
    </g>
    <g id="line2d_59">
     <path d="M 554.14 222.51 L 564.14 222.51 L 574.14 222.51" style="fill: none; stroke: #ff7f0e; stroke-linecap: square"/>
    </g>
    <g id="text_30">
     <text style="font-size: 10px; font-family: 'DejaVu Sans', sans-serif; text-anchor: start" x="581.842188" y="226.011812" transform="rotate(-0 581.842188 226.011812)">Channel 11</text>
    </g>
    <g id="line2d_60">
     <path d="M 554.14 237.6 L 564.14 237.6 L 574.14 237.6" style="fill: none; stroke: #2ca02c; stroke-linecap: square"/>
    </g>
    <g id="text_31">
     <text style="font-size: 10px; font-family: 'DejaVu Sans', sans-serif; text-anchor: start" x="581.842188" y="241.103937" transform="rotate(-0 581.842188 241.103937)">Channel 12</text>
    </g>
    <g id="line2d_61">
     <path d="M 554.14 252.7 L 564.14 252.7 L 574.14 252.7" style="fill: none; stroke: #d62728; stroke-linecap: square"/>
    </g>
    <g id="text_32">
     <text style="font-size: 10px; font-family: 'DejaVu Sans', sans-serif; text-anchor: start" x="581.842188" y="256.196062" transform="rotate(-0 581.842188 256.196062)">Channel 13</text>
    </g>
    <g id="line2d_62">
     <path d="M 554.14 267.79 L 564.14 267.79 L 574.14 267.79" style="fill: none; stroke: #9467bd; stroke-linecap: square"/>
    </g>
    <g id="text_33">
     <text style="font-size: 10px; font-family: 'DejaVu Sans', sans-serif; text-anchor: start" x="581.842188" y="271.288187" transform="rotate(-0 581.842188 271.288187)">Channel 14</text>
    </g>
    <g id="line2d_63">
     <path d="M 554.14 282.88 L 564.14 282.88 L 574.14 282.88" style="fill: none; stroke: #8c564b; stroke-linecap: square"/>
    </g>
    <g id="text_34">
     <text style="font-size: 10px; font-family: 'DejaVu Sans', sans-serif; text-anchor: start" x="581.842188" y="286.380312" transform="rotate(-0 581.842188 286.380312)">Channel 15</text>
    </g>
    <g id="line2d_64">
     <path d="M 554.14 297.97 L 564.14 297.97 L 574.14 297.97" style="fill: none; stroke-dasharray: 5.55,2.4; stroke-dashoffset: 0; stroke: #1f77b4; stroke-width: 1.5"/>
    </g>
    <g id="text_35">
     <text style="font-size: 10px; font-family: 'DejaVu Sans', sans-serif; text-anchor: start" x="581.842188" y="301.472437" transform="rotate(-0 581.842188 301.472437)">-70 dB</text>
    </g>
   </g>
  </g>
 </g>
 <defs>
  <clipPath id="p0796a7d0fc">
   <rect x="90" y="43.2" width="558" height="277.2"/>
  </clipPath>
 </defs>
</svg>

</body></html>
